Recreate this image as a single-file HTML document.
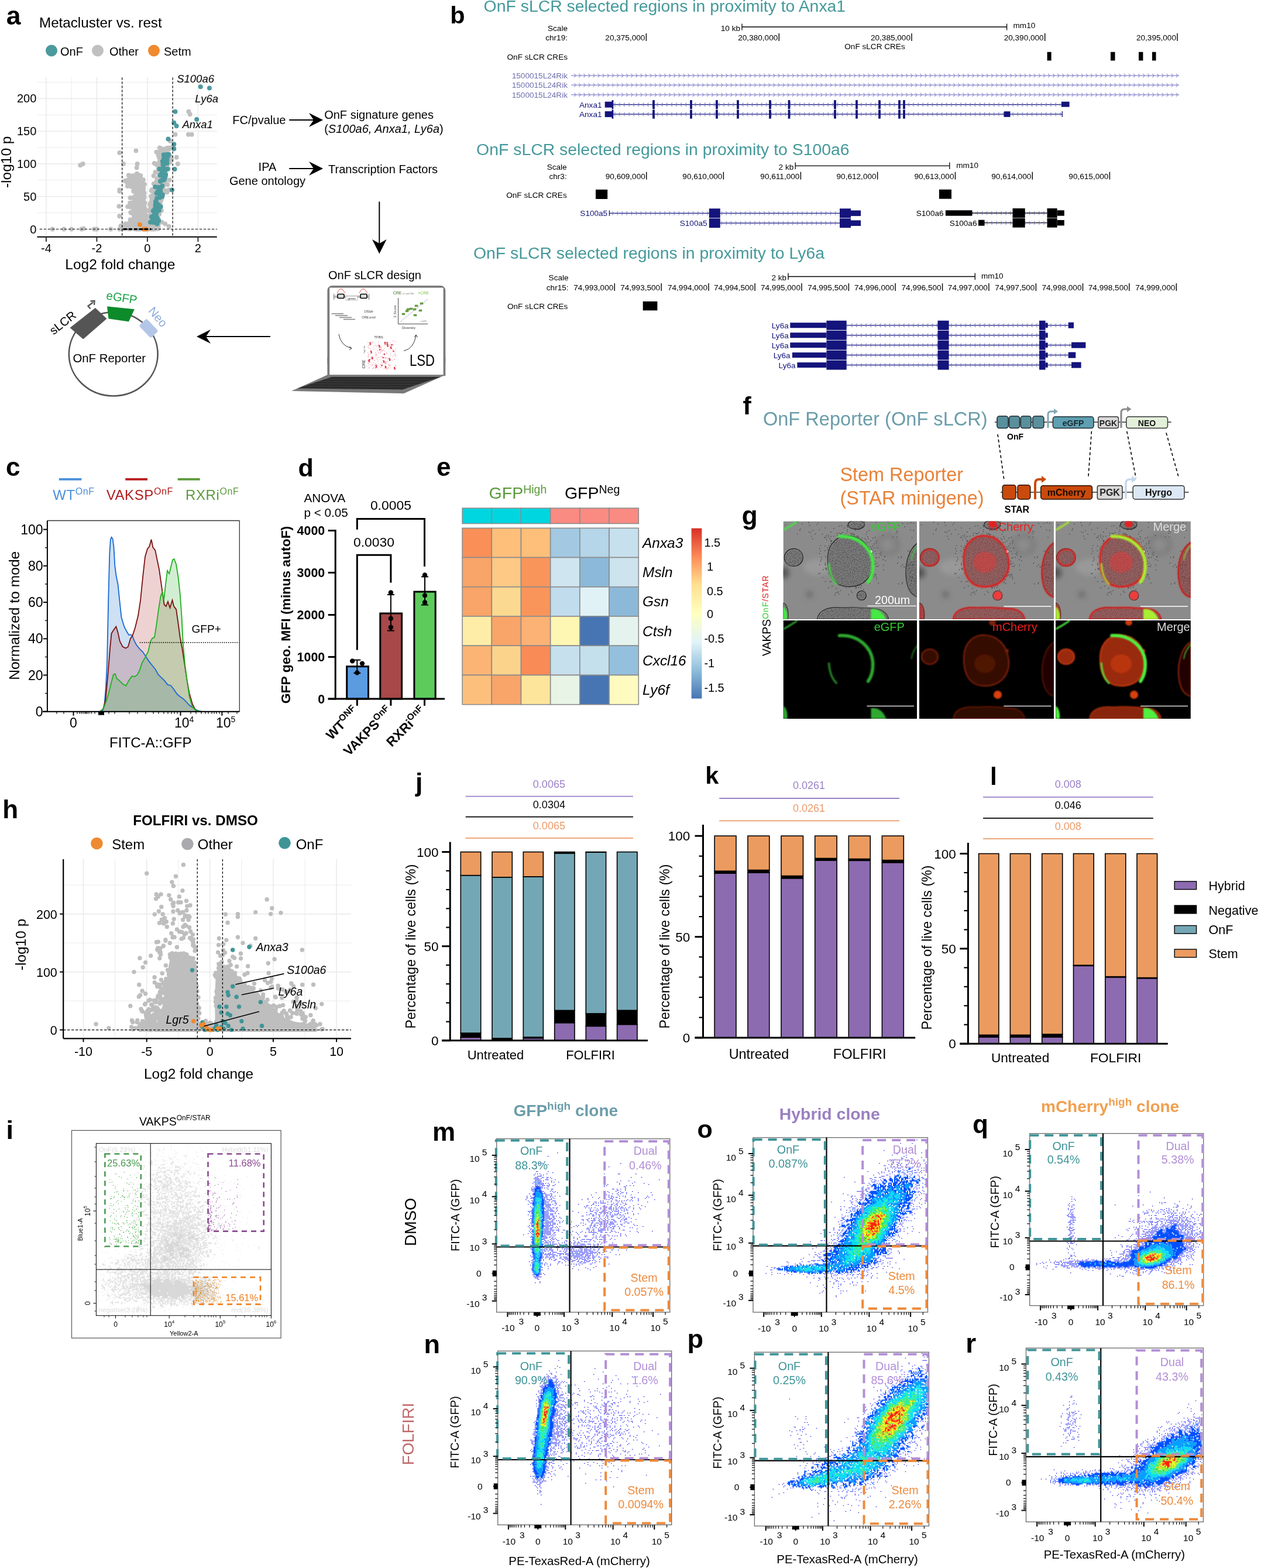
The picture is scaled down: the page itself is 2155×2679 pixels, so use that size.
<!DOCTYPE html>
<html><head><meta charset="utf-8"><title>Figure</title>
<style>html,body{margin:0;padding:0;background:#fff;}svg{display:block;}text{font-family:"Liberation Sans",Arial,Helvetica,sans-serif;}</style></head>
<body><svg width="2155" height="2679" viewBox="0 0 2155 2679">
<rect width="2155" height="2679" fill="#fff"/>
<text x="10.8" y="41.7" font-size="44.5" font-weight="bold">a</text>
<text x="67" y="47" font-size="24.2">Metacluster vs. rest</text>
<path d="M88 86.5h0" stroke="#4b9a9e" stroke-width="20" stroke-linecap="round"/>
<text x="103" y="94.5" font-size="20">OnF</text>
<path d="M167 86.5h0" stroke="#c0c0c0" stroke-width="20" stroke-linecap="round"/>
<text x="187" y="94.5" font-size="20">Other</text>
<path d="M263 86.5h0" stroke="#ef8a2e" stroke-width="20" stroke-linecap="round"/>
<text x="280" y="94.5" font-size="20">Setm</text>
<line x1="63.4" y1="391.5" x2="370.7" y2="391.5" stroke="#ebebeb" stroke-width="1.6"/>
<line x1="63.4" y1="363.6" x2="370.7" y2="363.6" stroke="#ebebeb" stroke-width="1"/>
<line x1="63.4" y1="335.7" x2="370.7" y2="335.7" stroke="#ebebeb" stroke-width="1.6"/>
<line x1="63.4" y1="307.8" x2="370.7" y2="307.8" stroke="#ebebeb" stroke-width="1"/>
<line x1="63.4" y1="279.9" x2="370.7" y2="279.9" stroke="#ebebeb" stroke-width="1.6"/>
<line x1="63.4" y1="252.1" x2="370.7" y2="252.1" stroke="#ebebeb" stroke-width="1"/>
<line x1="63.4" y1="224.2" x2="370.7" y2="224.2" stroke="#ebebeb" stroke-width="1.6"/>
<line x1="63.4" y1="196.3" x2="370.7" y2="196.3" stroke="#ebebeb" stroke-width="1"/>
<line x1="63.4" y1="168.4" x2="370.7" y2="168.4" stroke="#ebebeb" stroke-width="1.6"/>
<line x1="63.4" y1="140.5" x2="370.7" y2="140.5" stroke="#ebebeb" stroke-width="1"/>
<line x1="78.9" y1="131.5" x2="78.9" y2="401.4" stroke="#ebebeb" stroke-width="1.6"/>
<line x1="122.2" y1="131.5" x2="122.2" y2="401.4" stroke="#ebebeb" stroke-width="1"/>
<line x1="165.4" y1="131.5" x2="165.4" y2="401.4" stroke="#ebebeb" stroke-width="1.6"/>
<line x1="208.7" y1="131.5" x2="208.7" y2="401.4" stroke="#ebebeb" stroke-width="1"/>
<line x1="251.9" y1="131.5" x2="251.9" y2="401.4" stroke="#ebebeb" stroke-width="1.6"/>
<line x1="295.1" y1="131.5" x2="295.1" y2="401.4" stroke="#ebebeb" stroke-width="1"/>
<line x1="338.4" y1="131.5" x2="338.4" y2="401.4" stroke="#ebebeb" stroke-width="1.6"/>
<path d="M234.2 315h0M232.9 358h0M277.9 286.6h0M269.2 340.5h0M252.1 391.4h0M236.3 303.4h0M267.8 389.4h0M268.5 347.7h0M244 360.6h0M239 353.4h0M242.4 377.4h0M250.3 390.9h0M269 322.5h0M275.8 275.2h0M237.7 368.8h0M259.5 342h0M271.5 305.2h0M285.3 277.4h0M276.1 317.6h0M269 343.1h0M234.2 348h0M228.1 359h0M271 288.3h0M241.3 390.5h0M245.3 331.5h0M240.3 382h0M282.6 255.1h0M257.4 367.3h0M275.4 260h0M233.6 348.1h0M262.8 391.2h0M265.4 294.3h0M264.9 328.1h0M230.4 312.4h0M257.2 371.3h0M239.4 367.6h0M268.1 312.4h0M235.5 377.5h0M245.5 344.3h0M269.8 282.2h0M232.3 315.7h0M239.6 391.1h0M270.7 365.1h0M248.6 388.5h0M240.6 350.2h0M272.9 337.3h0M245.5 355.6h0M242.2 380.7h0M227.9 308.8h0M277.3 282.1h0M249.4 391h0M244.8 331.4h0M273.8 324.2h0M285.4 328.4h0M228.6 337.5h0M242.4 339.4h0M254.8 371.8h0M230.5 313.7h0M232.1 304.1h0M234.7 391.3h0M267.1 388.8h0M250.1 374.7h0M279.6 256.4h0M231.2 367.6h0M231.5 334.7h0M238 335.6h0M231.2 353h0M270.9 390.4h0M252.7 369.3h0M239.9 378.8h0M282.7 278.8h0M272.2 302.6h0M232.9 298.5h0M253.1 382h0M264.4 369.7h0M259.5 349.5h0M246.9 372.4h0M273.6 270.7h0M239 347.8h0M234.7 312.8h0M273.6 280.2h0M273.8 348.1h0M268 368.4h0M273.6 321.3h0M267.3 336.9h0M270.4 390.8h0M270.5 383.6h0M250.8 376.7h0M270.8 342.1h0M238 326.9h0M218.7 307.5h0M275.9 359.4h0M246.9 355.3h0M248.6 391.2h0M260.5 359.2h0M237.5 388.9h0M284.1 257.1h0M235.9 340.8h0M267.8 324.5h0M227.5 348.8h0M245.8 376.2h0M271 338.3h0M278.5 309.3h0M237.2 369.3h0M238.6 315.1h0M233.6 348.5h0M272.2 316.6h0M243.5 388.4h0M268.6 385.7h0M239.1 321.5h0M238.4 313.3h0M267 385.1h0M265.9 374.5h0M257.3 356h0M243.2 351.5h0M260.3 378.1h0M256 389.3h0M290.9 267.5h0M274.5 293.4h0M237.1 382.9h0M273.8 305.6h0M279.4 283.5h0M274.6 324.7h0M233.2 368.3h0M237.7 390.7h0M256.7 386.5h0M245.6 384.3h0M270.8 345.4h0M236.8 341.4h0M270.7 330.7h0M265 339.7h0M227.1 353.5h0M232.8 377.9h0M283.8 265.7h0M239 337.7h0M279.7 272.3h0M239.5 324.4h0M275.1 276.9h0M234.7 331.7h0M272 269.2h0M273.5 320.3h0M242.2 345.9h0M257.5 387.5h0M227.2 351.5h0M239.9 328.5h0M276.9 311.6h0M236.7 307.3h0M277.4 278.1h0M262.6 300.6h0M271.7 347.5h0M271 340.4h0M238.4 307.8h0M257.6 380.6h0M235.7 372.1h0M239.7 326.3h0M242.4 390.9h0M274.4 315.1h0M233.2 348.7h0M236.9 344.2h0M285.8 283.4h0M260 324.1h0M272.2 320.4h0M250.7 373h0M243.4 326.6h0M282.3 257.9h0M218.2 353h0M260.6 357.1h0M260.5 391.5h0M236.1 358h0M279.6 303.2h0M232.7 337.6h0M243.8 373.6h0M282.4 271.6h0M263.2 336.4h0M267.4 343.8h0M219.5 382h0M270.4 326.3h0M239.3 360.2h0M223.2 313.4h0M271.2 293h0M228.2 326.7h0M261.6 344.1h0M282.1 310.8h0M272.5 290h0M269.8 315.1h0M282.5 272.9h0M266 377h0M234.9 389.8h0M271.1 293.6h0M263.2 390.2h0M278.7 261h0M267.1 315.2h0M245.4 379.2h0M230.1 317h0M257.9 349.5h0M235.3 337h0M276.5 282.4h0M247.3 346.8h0M238.8 321.7h0M227.2 301.1h0M290 277.8h0M268.3 356.4h0M235.8 325h0M259.5 375.4h0M276.5 338.9h0M260.2 363.6h0M268.3 378.5h0M243.8 326.1h0M234.1 329.8h0M233 363h0M242.8 386.7h0M281.1 270.4h0M238.4 390.3h0M262.7 314h0M242.1 316.2h0M246.7 362.7h0M241.9 364.7h0M272.7 336.2h0M262.8 369.8h0M274.9 267.1h0M264.4 388h0M225.4 364.3h0M270.7 265.5h0M269.6 376.9h0M265.8 390.6h0M247.2 364.6h0M247 356.7h0M228.6 389h0M260.6 388.3h0M245.9 390.6h0M271.5 293.6h0M257.5 346.5h0M278.7 257.1h0M228.2 304.6h0M261 352h0M256.9 386.7h0M243.7 361.5h0M244.7 336h0M274 293.8h0M219.8 299.6h0M241.5 306.6h0M230.5 387.3h0M258.1 335.3h0M242 349.8h0M232.5 384.9h0M266.2 389.9h0M262.5 383.7h0M236.3 364.2h0M272.8 356.9h0M285.8 275.8h0M239.1 360.3h0M249.1 368.3h0M278.8 259.3h0M267.5 338.2h0M279.6 297.6h0M272 269.1h0M268.5 359.8h0M266.4 383h0M245 345.3h0M268.7 356.8h0M234 367h0M278.9 327h0M229.8 307.1h0M237.7 299.2h0M244.9 307.3h0M273.7 264.4h0M281.7 284.6h0M287.1 253.3h0M274.6 300.2h0M268 309.3h0M247.4 356.5h0M240.3 383.6h0M274.4 321.6h0M232.6 328.7h0M236.3 386.8h0M238.9 374.9h0M272.5 326.9h0M274.3 309.4h0M240.5 313.3h0M275.6 299h0M221.1 309.9h0M261.8 341.5h0M280.4 324.3h0M274 282.6h0M267.6 364.2h0M279.2 328.7h0M246.4 362.3h0M254.3 388.6h0M270.8 336.8h0M265 391.2h0M249.4 371.4h0M264.9 324.5h0M264.2 323.2h0M279.8 259.8h0M234.2 339.5h0M276.4 318h0M285.7 256h0M282.4 295h0M256.3 349.4h0M281.5 305.3h0M283.4 264.5h0M228.4 321h0M228.3 326.3h0M242.5 385.7h0M243.4 361.3h0M234 313.8h0M269.7 360.3h0M275.5 294.4h0M269.6 340.4h0M263.4 332.1h0M277.5 298.1h0M265.9 367.7h0M222.6 375.6h0M237.6 329.2h0M247.6 383.8h0M258.7 325.7h0M235.7 303.3h0M267.7 342.3h0M261.8 380.7h0M240.3 321.3h0M275.7 287h0M233.2 335.3h0M240.9 352.2h0M260.4 382.1h0M235.6 308.2h0M241.6 310.3h0M253.8 360.1h0M264.5 369.5h0M265.7 353.7h0M273.7 307.2h0M280.6 257.3h0M243.9 325.2h0M262.9 367.8h0M253 384.8h0M222.1 346.8h0M264.2 314.6h0M236.8 361.4h0M252.1 378.7h0M233 355.9h0M241.8 311.2h0M275.4 325.7h0M275.1 309.1h0M276.8 270h0M249.5 385h0M248.3 375.3h0M275.1 321.5h0M266.5 368.1h0M275.2 341.9h0M238.9 390.9h0M250.4 377.9h0M277.7 254.6h0M267.2 390h0M241.5 384.2h0M270.7 388.5h0M240.4 329.1h0M246 389.6h0M227.7 384.2h0M272.2 366.1h0M260.2 362.1h0M266.3 351.6h0M277.5 309.7h0M261.5 344.3h0M265.6 312.8h0M266.4 345.9h0M271.3 311h0M262.7 374.3h0M233.4 359.4h0M236.1 349.9h0M244.7 362.4h0M274.3 324.3h0M276.8 277.8h0M229 371h0M265.5 376.5h0M262.4 369.3h0M272.3 277.1h0M246.9 314.8h0M246 358.9h0M242.7 335.5h0M286.2 315.4h0M274 309.4h0M243.3 346.7h0M268 316.2h0M224.1 304.8h0M243.8 355.9h0M237.7 331.4h0M241.6 384.2h0M264.7 351.1h0M289.5 307.6h0M277.9 281.7h0M244.5 346.6h0M244.1 382.8h0M217.1 311.2h0M246.4 336.5h0M238.4 359.4h0M243.4 372.2h0M267.5 310.7h0M255.7 387.1h0M222.6 338.1h0M234.8 368.1h0M213.6 309.1h0M239.2 316.6h0M250.2 368.6h0M274.9 307.3h0M230.1 353.7h0M277.3 297h0M277.3 320.3h0M281.3 278.4h0M248.1 390.7h0M242.3 381.1h0M257.1 360.1h0M240.2 300.1h0M223.3 363h0M281.5 295h0M237.6 391.4h0M288.6 255h0M234.7 376.7h0M283.9 262.8h0M269.4 328.9h0M245.2 321.2h0M270.9 302.1h0M270.9 325.4h0M246.1 338h0M232 346.9h0M259.5 366.4h0M229.9 302.2h0M242.4 343.2h0M271.9 299.4h0M246.2 352.8h0M235.5 382.2h0M238.5 318.6h0M228.5 383.3h0M268.4 312.6h0M269.1 353.8h0M244.7 373.5h0M245.3 383.5h0M238.4 320.4h0M253.4 371.5h0M276.1 322.9h0M239 380.1h0M259.7 387h0M264.3 347.5h0M228.6 349.1h0M236.2 376.6h0M285 254.3h0M235.6 316.1h0M246.1 349.4h0M236 317.4h0M242.1 319.4h0M272.8 313.7h0M228.3 317.2h0M244.1 319.1h0M230.8 314.3h0M266.3 365.6h0M241.3 308.1h0M268.1 281.7h0M246.5 330.1h0M246 391.4h0M269.9 348.1h0M235.5 341.3h0M288.1 265.1h0M287.9 275.9h0M237.9 374.1h0M240.3 317h0M249 389.8h0M217.8 317.9h0M258.7 383.3h0M255.7 388.3h0M275 316.7h0M233.1 352h0M232.6 311.5h0M287.8 288.5h0M240.1 316.6h0M246.5 383.6h0M234.6 352.9h0M263.9 279.1h0M288.9 278.1h0M272.9 345.8h0M267.6 323.1h0M262.7 334.1h0M245.8 383.5h0M276.4 276.6h0M287.6 288.7h0M234 296.8h0M227.8 345.4h0M229.3 308.6h0M277.8 310.3h0M262.4 333h0M227.3 353h0M263.2 391.3h0M238.5 309.3h0M238.2 386.3h0M288.2 252.8h0M274.5 314.6h0M278.1 281.6h0M222.9 300.5h0M259.2 385.3h0M232.1 304.5h0M238.3 329h0M239.5 379h0M272 358.4h0M282.5 256.1h0M230 305.7h0M257.5 379.1h0M262.8 389.5h0M236.6 326.3h0M272.7 306.3h0M272 341.6h0M240.8 384.8h0M261.9 380.3h0M236.9 301.3h0M231.2 301.1h0M256.7 391h0M260.8 389.2h0M244.1 324.6h0M242.9 318.6h0M242.2 372.6h0M231.1 365.3h0M247.9 381.2h0M271 359h0M239.1 390.8h0M234.2 386.5h0M262.6 340.5h0M271.8 352.8h0M279.8 284.1h0M271.3 279.7h0M266.7 334.1h0M275.5 319.6h0M227.6 316.8h0M261.1 327.2h0M260.9 363.9h0M244.6 342.2h0M266.1 367.3h0M245.7 331.9h0M263.5 347.3h0M228.3 338.2h0M245 326.1h0M270.9 357.8h0M277.3 286.9h0M266.3 370.2h0M274.7 309h0M245.4 332.9h0M229.6 301.3h0M264 373.3h0M260.4 349.8h0M230.8 360.8h0M260.5 385.3h0M224.5 304.3h0M259.6 365.9h0M253.8 379h0M292.9 272h0M232.5 331.4h0M267.1 389.3h0M243.6 347.5h0M230.5 342.3h0M261.2 359.6h0M238.3 370.8h0M223.2 353.8h0M275.8 292.9h0M262.1 363.2h0M241.6 351.5h0M276.2 379.5h0M232.8 391.4h0M236.8 328.3h0M235.4 349.2h0M247.4 391h0M240.4 372.1h0M265.1 364.9h0M268.3 366.5h0M266.1 337.6h0M247.7 380.9h0M276.8 291h0M265.3 382.9h0M285.5 272.2h0M253.3 389.9h0M233 367.8h0M270.6 306.1h0M240.9 379.6h0M274.6 283h0M240.2 372.9h0M250 390.4h0M236.3 380.2h0M278.7 306.9h0M274.2 274.4h0M239 317.1h0M277.7 266.8h0M232.1 320.8h0M282.1 326.1h0M260.9 349.1h0M233 367.1h0M246.7 385h0M245.2 346.2h0M230.1 357.2h0M269.3 378.9h0M241.1 337.9h0M230.7 314h0M284.8 270.9h0M277.4 277.6h0M235 349.5h0M277.2 296.5h0M275.1 329.7h0M280.1 275.5h0M258.8 353h0M238 303h0M282.2 257.9h0M244.4 376.1h0M234.2 366.4h0M232.1 303.8h0M240.8 384.4h0M236.4 310h0M242 351.9h0M276.6 325h0M228.1 312.2h0M264.1 334.4h0M241.5 388.3h0M238.1 324.8h0M243.2 366.1h0M231 366.3h0M256.3 384h0M259.6 371.7h0M280.1 305.2h0M258.1 390.4h0M249.8 389.5h0M239.1 347h0M237.1 327.2h0M272.8 252.6h0M262.3 333.6h0M252 388.4h0M263.9 390.3h0M234.5 369.3h0M252.9 371.1h0M229.4 302.7h0M246.4 359.7h0M258.9 369.2h0M278.1 319.6h0M271.7 304.4h0M243.9 350.7h0M274.1 272.9h0M285.2 256.9h0M235.4 328.5h0M245.2 352.3h0M283.3 300.7h0M264.9 331.2h0M226.2 347.6h0M232.3 343.9h0M238.7 329h0M268.3 306.5h0M242.3 387.5h0M231.7 358.7h0M267.4 259.7h0M230.1 353.9h0M242.6 377.2h0M268.8 329.4h0M285.1 253.1h0M269.3 354.6h0M228.1 307.4h0M265.1 341.2h0M242.3 347.7h0M278.9 317.2h0M265.7 360.9h0M262.8 380.7h0M235.2 336.8h0M223.9 318.8h0M244.9 316.5h0M243.1 363.8h0M227.5 381.1h0M245.6 380.3h0M259.3 338h0M271.1 374.5h0M264.5 373.6h0M254.3 386.3h0M267.8 367.6h0M257 382.5h0M245.8 356.1h0M260.4 375.5h0M275.4 341.2h0M233.7 383.5h0M228 300.2h0M261.4 369.3h0M236 311.5h0M243.5 383.3h0M239.7 369.8h0M239.8 358.4h0M261.5 358.2h0M260.8 374.4h0M229.8 358.3h0M267.8 356.5h0M273.5 260.1h0M263.2 356h0M263.5 336.2h0M264.6 369.1h0M236.5 379.8h0M277.4 267.8h0M271.1 354.9h0M234.5 343.2h0M270.5 343.8h0M226.8 377.9h0M233.4 332h0M228.9 308.6h0M274.4 315.3h0M228.2 388.7h0M243 388.1h0M248.6 388.9h0M233 384.3h0M213.9 387.9h0M217.3 386.7h0M249.9 382.7h0M251 390.2h0M233.2 386.7h0M244.5 385.2h0M263.4 383.1h0M220.4 390.1h0M263.2 390.1h0M263.1 390.4h0M241.5 390.3h0M216.2 388.5h0M253.3 385.2h0M226.5 390.3h0M228.8 389.9h0M221.9 387.1h0M236.1 383.3h0M213.7 386.7h0M240.4 390.2h0M228.9 390.3h0M258.9 388.4h0M212.3 387.3h0M238.4 383.6h0M249.1 389.7h0M259.7 391.5h0M247.8 391.1h0M254.7 389.8h0M253.5 384.2h0M252 390.5h0M231.2 390.6h0M249.1 382.6h0M238 385.7h0M246.2 390.2h0M229.5 388.4h0M250.9 387.8h0M229.3 386.6h0M220.2 390.9h0M222 391.3h0M246.3 387.4h0M243.3 386.4h0M211.7 384.2h0M254.7 391.4h0M232.8 384.5h0M232 383.8h0M247.7 385.6h0M259.6 384.5h0M241.5 391.1h0M234.2 385.4h0M238.1 386.3h0M228.3 384h0M222.4 385.8h0M233.2 390.2h0M209.7 390.3h0M224.9 387.3h0M210.2 390.9h0M253.4 382.8h0M232.9 387.3h0M242.5 390.6h0M238.9 385.5h0M261.7 385.8h0M239.3 387.8h0M259.9 386.8h0M235.5 385h0M233.3 390.9h0M241.9 383.8h0M229.4 390.6h0M214.6 383.4h0M214.9 385.7h0M213.6 386.9h0M259.9 389.4h0M225.9 386h0M240.9 386.5h0M230.7 391.1h0M242.1 389h0M243.5 387.6h0M223.8 382.6h0M226.7 382.8h0M235.5 386.7h0M223.8 389.9h0M248.4 387.4h0M241.6 389.9h0M237.3 385.6h0M251.4 385.6h0M231.9 385.4h0M242.2 387.2h0M244.1 388.8h0M212.2 390.2h0M263.3 383.5h0M255.1 389.2h0M255.8 384.5h0M239.1 388.8h0M214.7 382.6h0M264.8 383.9h0M233.7 385h0M259.8 386.7h0M215.7 382.8h0M238.9 384.6h0M243.7 390.9h0M234.6 391.4h0M223.6 382.9h0M247.5 386.5h0M214.9 385.4h0M242.7 385.8h0M247.4 383.2h0M233.8 386h0M238.4 386.2h0M246.8 389.8h0M211.8 390.5h0M211.1 386.5h0M225.8 384.5h0M217.8 390.2h0M257.3 390.7h0M228.5 385.3h0M240.3 389.1h0M216.2 386.3h0M222.6 383.9h0M223.5 383.2h0M137.3 282.2h0M141.6 279.9h0M204.3 261h0M232.4 257.6h0M210.8 279.9h0M234.6 279.9h0M233.7 286.6h0M290.8 240.9h0M299.5 229.8h0M322.4 190.7h0M324.6 195.2h0M322 229.8h0M327.6 229.8h0M303.8 279.9h0M288.7 324.6h0M282.2 382.6h0M288.7 387h0M301.6 268.8h0M293 252.1h0M89.7 391.5h0M109.2 391.5h0M122.2 391.5h0M139.4 391.5h0M142.9 390.4h0M161.1 391.5h0M165.4 391.5h0M189.2 391.5h0M204.3 391.5h0M206.5 385.9h0M204.3 369.2h0M203.5 352.5h0M204.3 324.6h0M204.3 326.8h0M282.2 291.1h0M284.3 274.4h0" stroke="#c0c0c0" stroke-width="8" stroke-linecap="round"/>
<path d="M342.7 148.3h0M357.9 150.6h0M299.5 190.7h0M336.2 204.1h0M297.3 209.7h0M301.6 215.3h0M287.4 237.6h0M297.3 246.5h0M297.3 254.3h0M298.6 288.9h0M293.9 324.6h0M262.3 377.8h0M271.4 324.8h0M273.3 329.2h0M276.9 290.4h0M260.5 376.4h0M267.5 330h0M278.6 280.9h0M284.3 273.7h0M283.9 264.3h0M279.9 270h0M273.2 337.5h0M266 354.9h0M265.5 350.2h0M265.2 319.3h0M263.1 367.8h0M272.4 288.8h0M261.8 380.1h0M283.2 298.2h0M288.4 263.7h0M273.7 299.6h0M277.2 335.8h0M274.2 326.8h0M285.5 279h0M281.6 304.7h0M280.1 276.6h0M270.5 319.9h0M266.1 368.8h0M272 359.5h0M268.1 338.4h0M277.8 275.7h0M269 329.6h0M277.5 291.9h0M278 307.1h0M265.8 365.4h0M266 346.1h0M264.6 356.7h0M267.1 348.6h0M278.6 283.1h0M266.5 367.9h0M276 296.7h0M286.2 288.7h0M261.9 377.5h0M281.9 302.9h0M269.7 327.1h0M277.3 292.5h0M278 332.8h0M287.4 266.6h0M267.3 365.1h0M282.9 290.6h0M279.6 281.8h0M274.7 353.1h0M273.1 332.3h0M262.2 370.5h0M259.1 370.5h0M275.3 308.8h0M266.3 371.8h0M263.9 375h0M277.3 317.4h0M280.1 307.6h0M261.8 360.3h0M278.1 306.8h0M273.9 309.7h0M279.7 264.6h0M266 343.9h0M284.8 264.1h0M267.2 345h0M257.1 379.8h0M280.1 288.4h0M267 363.1h0M271.1 349.9h0M270.2 356.6h0M285.6 273.3h0M278.5 280.2h0M279.6 274h0M270.5 355.6h0M280 287.8h0M276.7 298.3h0M278.7 305.7h0M275 320.4h0M262 370.6h0M265.3 380h0M268.3 374.6h0M268.5 382.5h0M271.1 377.5h0M268.4 380.4h0M266.5 380.2h0M268.8 372.4h0M266.6 378.7h0" stroke="#4b9a9e" stroke-width="8" stroke-linecap="round"/>
<path d="M238.9 383.7h0M245.4 391.5h0M249.7 391.5h0" stroke="#ef8a2e" stroke-width="8" stroke-linecap="round"/>
<line x1="208.7" y1="132.6" x2="208.7" y2="404.8" stroke="#000" stroke-width="1.2" stroke-dasharray="4 3"/>
<line x1="295.1" y1="132.6" x2="295.1" y2="404.8" stroke="#000" stroke-width="1.2" stroke-dasharray="4 3"/>
<line x1="68" y1="391.5" x2="370.7" y2="391.5" stroke="#000" stroke-width="1.2" stroke-dasharray="4 3"/>
<line x1="210.8" y1="391.5" x2="258.4" y2="391.5" stroke="#000" stroke-width="3" stroke-dasharray="6 3"/>
<line x1="63.4" y1="404.8" x2="370.7" y2="404.8" stroke="#000" stroke-width="2"/>
<line x1="78.9" y1="404.8" x2="78.9" y2="413" stroke="#333" stroke-width="2"/>
<text x="78.9" y="431.4" font-size="20" text-anchor="middle">-4</text>
<line x1="165.4" y1="404.8" x2="165.4" y2="413" stroke="#333" stroke-width="2"/>
<text x="165.4" y="431.4" font-size="20" text-anchor="middle">-2</text>
<line x1="251.9" y1="404.8" x2="251.9" y2="413" stroke="#333" stroke-width="2"/>
<text x="251.9" y="431.4" font-size="20" text-anchor="middle">0</text>
<line x1="338.4" y1="404.8" x2="338.4" y2="413" stroke="#333" stroke-width="2"/>
<text x="338.4" y="431.4" font-size="20" text-anchor="middle">2</text>
<text x="62.3" y="398.5" font-size="20" text-anchor="end">0</text>
<text x="62.3" y="342.7" font-size="20" text-anchor="end">50</text>
<text x="62.3" y="286.9" font-size="20" text-anchor="end">100</text>
<text x="62.3" y="231.2" font-size="20" text-anchor="end">150</text>
<text x="62.3" y="175.4" font-size="20" text-anchor="end">200</text>
<text x="205.3" y="460.2" font-size="24.5" text-anchor="middle">Log2 fold change</text>
<text x="19.5" y="276.8" font-size="24.5" text-anchor="middle" transform="rotate(-90 19.5 276.8)">-log10 p</text>
<text x="302.2" y="140.7" font-size="18.5" font-style="italic">S100a6</text>
<text x="333.3" y="175.3" font-size="18.5" font-style="italic">Ly6a</text>
<text x="311.4" y="219.2" font-size="18.5" font-style="italic">Anxa1</text>
<text x="397.3" y="212" font-size="20">FC/pvalue</text>
<line x1="494.2" y1="205" x2="540" y2="205" stroke="#000" stroke-width="2"/>
<path d="M552 205 L528 193 L536 205 L528 217Z" fill="#000"/>
<text x="554.2" y="202.7" font-size="20">OnF signature genes</text>
<text x="554.2" y="226.9" font-size="20">(<tspan font-style="italic">S100a6, Anxa1, Ly6a</tspan>)</text>
<text x="457" y="291.5" font-size="20" text-anchor="middle">IPA</text>
<text x="457" y="315.7" font-size="20" text-anchor="middle">Gene ontology</text>
<line x1="494.2" y1="288" x2="540" y2="288" stroke="#000" stroke-width="2"/>
<path d="M552 288 L528 276 L536 288 L528 300Z" fill="#000"/>
<text x="561" y="296" font-size="20">Transcription Factors</text>
<line x1="648.3" y1="344.5" x2="648.3" y2="420" stroke="#000" stroke-width="2"/>
<path d="M648.3 433.4 L636 409 L648.3 416 L660.6 409Z" fill="#000"/>
<text x="561" y="477" font-size="20">OnF sLCR design</text>
<line x1="350" y1="575" x2="462" y2="575" stroke="#000" stroke-width="2"/>
<path d="M336 575 L360 563 L352 575 L360 587Z" fill="#000"/>
<ellipse cx="193.7" cy="605" rx="75.9" ry="71.5" fill="none" stroke="#555" stroke-width="2.6"/>
<path d="M119.6 560 L162.9 526 L182.5 544.4 L142.1 579.6Z" fill="#555"/>
<path d="M154.5 527.5 L150.5 523 L159 516.5" fill="none" stroke="#555" stroke-width="2.4" stroke-linejoin="miter"/>
<path d="M154.5 514.5 L161.5 514 L161 521" fill="none" stroke="#555" stroke-width="2.4"/>
<text x="111.5" y="557" font-size="20.4" text-anchor="middle" transform="rotate(-38 111.5 557)">sLCR</text>
<path d="M183 523.6 L229.8 528.3 L220 549.6 L185.4 544.4Z" fill="#0d8a2a"/>
<text x="207" y="515.5" font-size="20.4" text-anchor="middle" fill="#1aa548" transform="rotate(9 207 515.5)">eGFP</text>
<rect x="-14.7" y="-9" width="29.4" height="17.9" rx="3" fill="#b3c6e7" transform="translate(254 561.1) rotate(46.5)"/>
<text x="264.5" y="546" font-size="20.4" text-anchor="middle" fill="#8eaadb" transform="rotate(50 264.5 546)">Neo</text>
<text x="124.4" y="619" font-size="20.4">OnF Reporter</text>
<rect x="559.4" y="488.1" width="201.9" height="140" rx="8" fill="#7a7a7a"/>
<rect x="559.4" y="610" width="201.9" height="32.3" fill="#7a7a7a"/>
<rect x="563.2" y="491.6" width="194.4" height="148.9" fill="#fff"/>
<path d="M559.4 640.5 L761.3 640.5 L690.2 672.2 L498.1 668.1Z" fill="#7a7a7a"/>
<path d="M567 644 L753 644 L688 665.5 L508 663.5Z" fill="#2b2b2b"/>
<line x1="555.2" y1="647.9" x2="740" y2="648.3" stroke="#555" stroke-width="0.5"/>
<line x1="543.4" y1="651.8" x2="727" y2="652.6" stroke="#555" stroke-width="0.5"/>
<line x1="531.6" y1="655.7" x2="714" y2="656.9" stroke="#555" stroke-width="0.5"/>
<line x1="519.8" y1="659.6" x2="701" y2="661.2" stroke="#555" stroke-width="0.5"/>
<rect x="571" y="505" width="59.5" height="4" fill="#bbb"/>
<rect x="569.5" y="502" width="2" height="10" fill="#aaa"/>
<rect x="629.5" y="502" width="2" height="10" fill="#aaa"/>
<rect x="577" y="502.5" width="11" height="7" rx="1.5" fill="#ddd" stroke="#000" stroke-width="1.6"/>
<rect x="616" y="502.5" width="11" height="7" rx="1.5" fill="#ddd" stroke="#000" stroke-width="1.6"/>
<rect x="591" y="506" width="20" height="7" fill="#fff" stroke="#999" stroke-width="0.6"/>
<text x="601" y="512" font-size="5" text-anchor="middle" fill="#333">genes</text>
<path d="M576 501 Q582 486 590 501" fill="none" stroke="#d33" stroke-width="0.8"/>
<path d="M614 501 Q620 486 628 501" fill="none" stroke="#d33" stroke-width="0.8"/>
<line x1="566.7" y1="536" x2="587" y2="536" stroke="#888" stroke-width="1.6"/>
<line x1="573" y1="539.2" x2="594" y2="539.2" stroke="#888" stroke-width="1.6"/>
<line x1="580" y1="542.4" x2="601" y2="542.4" stroke="#888" stroke-width="1.6"/>
<line x1="587" y1="545.6" x2="607" y2="545.6" stroke="#888" stroke-width="1.6"/>
<text x="630" y="534" font-size="5.5" text-anchor="middle" fill="#333">150pb</text>
<text x="630" y="544" font-size="5.5" text-anchor="middle" fill="#333">CRE pool</text>
<text x="671.7" y="503" font-size="7" fill="#3a6a2a">CRE</text>
<text x="688" y="503" font-size="3.5" fill="#666">n.l. and TSS</text>
<text x="714" y="503" font-size="7" fill="#7cc040">+CRE</text>
<line x1="680.5" y1="509" x2="680.5" y2="553.5" stroke="#000" stroke-width="0.7"/>
<line x1="680.5" y1="553.5" x2="731" y2="553.5" stroke="#000" stroke-width="0.7"/>
<line x1="684" y1="550" x2="731" y2="511" stroke="#88a" stroke-width="0.6"/>
<rect x="687" y="535" width="5" height="3" fill="#6aaa3a" stroke="#2a5a1a" stroke-width="0.3"/>
<rect x="693" y="530" width="5" height="3" fill="#6aaa3a" stroke="#2a5a1a" stroke-width="0.3"/>
<rect x="695" y="527" width="5" height="3" fill="#6aaa3a" stroke="#2a5a1a" stroke-width="0.3"/>
<rect x="700" y="526" width="5" height="3" fill="#6aaa3a" stroke="#2a5a1a" stroke-width="0.3"/>
<rect x="706" y="527" width="5" height="3" fill="#6aaa3a" stroke="#2a5a1a" stroke-width="0.3"/>
<rect x="707" y="537" width="5" height="3" fill="#6aaa3a" stroke="#2a5a1a" stroke-width="0.3"/>
<rect x="709" y="521" width="5" height="3" fill="#6aaa3a" stroke="#2a5a1a" stroke-width="0.3"/>
<rect x="718" y="517" width="5" height="3" fill="#6aaa3a" stroke="#2a5a1a" stroke-width="0.3"/>
<rect x="716" y="529" width="5" height="3" fill="#6aaa3a" stroke="#2a5a1a" stroke-width="0.3"/>
<text x="698.5" y="562.4" font-size="6" text-anchor="middle" fill="#333">Diversity</text>
<text x="677" y="532" font-size="6" text-anchor="middle" fill="#333" transform="rotate(-90 677 532)">Σ Score</text>
<text x="724" y="550" font-size="3" text-anchor="middle" fill="#666">r²=0.85</text>
<path d="M579 571 Q582 590 600 595" fill="none" stroke="#000" stroke-width="0.8"/>
<path d="M597 592 L601 595 L597 598" fill="none" stroke="#000" stroke-width="0.8"/>
<path d="M690 599.5 Q707 596 711 573" fill="none" stroke="#000" stroke-width="0.8"/>
<path d="M708 576 L711 572 L713.5 576.5" fill="none" stroke="#000" stroke-width="0.8"/>
<path d="M657.9 618.3h1.1v1.1h-1.1zM666.2 628.2h1.1v1.1h-1.1zM663.5 627.2h1.1v1.1h-1.1zM629.4 604.8h1.1v1.1h-1.1zM673.3 613.8h1.1v1.1h-1.1zM671.2 587.5h1.1v1.1h-1.1zM650.5 594.1h1.1v1.1h-1.1zM654.1 610.1h1.1v1.1h-1.1zM628.6 592.6h1.1v1.1h-1.1zM641.4 626.9h1.1v1.1h-1.1zM664.8 589.8h1.1v1.1h-1.1zM666.3 588.8h1.1v1.1h-1.1zM657.6 588.2h1.1v1.1h-1.1zM628.1 624.7h1.1v1.1h-1.1zM638.1 592.6h1.1v1.1h-1.1zM675.2 624.7h1.1v1.1h-1.1zM641.9 629.1h1.1v1.1h-1.1zM653.9 615.2h1.1v1.1h-1.1zM637.8 628.1h1.1v1.1h-1.1zM661.2 629.4h1.1v1.1h-1.1zM670.9 596.6h1.1v1.1h-1.1zM645.3 590.1h1.1v1.1h-1.1zM635 585.2h1.1v1.1h-1.1zM642.5 611.6h1.1v1.1h-1.1zM628.2 615.2h1.1v1.1h-1.1zM644.2 597.2h1.1v1.1h-1.1zM667.3 605.6h1.1v1.1h-1.1zM643.2 605.6h1.1v1.1h-1.1zM661.8 584.8h1.1v1.1h-1.1zM674.8 583.1h1.1v1.1h-1.1zM664 623.4h1.1v1.1h-1.1zM628.9 620.6h1.1v1.1h-1.1zM645.6 610.3h1.1v1.1h-1.1zM628.4 584.3h1.1v1.1h-1.1zM636.7 628.8h1.1v1.1h-1.1zM637.4 619h1.1v1.1h-1.1zM672.6 628.2h1.1v1.1h-1.1zM644.5 599.4h1.1v1.1h-1.1zM653.2 620h1.1v1.1h-1.1zM633.2 618.7h1.1v1.1h-1.1zM666.3 624.1h1.1v1.1h-1.1zM629.8 628.3h1.1v1.1h-1.1zM632.4 598.7h1.1v1.1h-1.1zM657.3 627h1.1v1.1h-1.1zM644.3 627.3h1.1v1.1h-1.1zM654.2 597.3h1.1v1.1h-1.1zM643.2 590.7h1.1v1.1h-1.1zM631.8 589.3h1.1v1.1h-1.1zM661.1 630.8h1.1v1.1h-1.1zM635.8 584.4h1.1v1.1h-1.1zM675.4 608.1h1.1v1.1h-1.1zM647.5 593.6h1.1v1.1h-1.1zM656.5 622.5h1.1v1.1h-1.1zM649.9 602.7h1.1v1.1h-1.1zM630.7 626.9h1.1v1.1h-1.1zM629.6 606.2h1.1v1.1h-1.1zM668.2 588.4h1.1v1.1h-1.1zM663.1 628.5h1.1v1.1h-1.1zM658.3 620.6h1.1v1.1h-1.1zM633.1 603.3h1.1v1.1h-1.1zM635.2 623.4h1.1v1.1h-1.1zM642.2 604.2h1.1v1.1h-1.1zM676 623.8h1.1v1.1h-1.1zM674.8 604.2h1.1v1.1h-1.1zM651.4 617.7h1.1v1.1h-1.1zM651 596.3h1.1v1.1h-1.1zM647.4 589.2h1.1v1.1h-1.1zM646.1 630.4h1.1v1.1h-1.1zM674.1 612.7h1.1v1.1h-1.1zM652 598.6h1.1v1.1h-1.1zM632.3 595.3h1.1v1.1h-1.1zM665.5 624.5h1.1v1.1h-1.1zM645.3 620.5h1.1v1.1h-1.1zM665.2 616h1.1v1.1h-1.1zM659.9 619.2h1.1v1.1h-1.1zM645.4 616.5h1.1v1.1h-1.1zM641.5 605.8h1.1v1.1h-1.1zM664.9 615.9h1.1v1.1h-1.1zM642.1 628.3h1.1v1.1h-1.1zM659.2 610.5h1.1v1.1h-1.1zM628.6 608.8h1.1v1.1h-1.1zM640 614.9h1.1v1.1h-1.1zM650.2 622h1.1v1.1h-1.1zM659.1 621.1h1.1v1.1h-1.1zM644.7 613.6h1.1v1.1h-1.1zM663.4 622.6h1.1v1.1h-1.1zM644.8 623.3h1.1v1.1h-1.1zM669.8 615.7h1.1v1.1h-1.1zM674.9 628.9h1.1v1.1h-1.1zM652.9 607.9h1.1v1.1h-1.1zM636 623h1.1v1.1h-1.1zM673 605.4h1.1v1.1h-1.1zM661.2 617.3h1.1v1.1h-1.1zM663.1 590.4h1.1v1.1h-1.1zM665.5 610.5h1.1v1.1h-1.1zM659.9 602.6h1.1v1.1h-1.1zM657.9 620h1.1v1.1h-1.1zM658.6 617.3h1.1v1.1h-1.1zM629.3 589.8h1.1v1.1h-1.1zM649.2 613.9h1.1v1.1h-1.1zM638.5 615.6h1.1v1.1h-1.1zM658.3 584.1h1.1v1.1h-1.1zM650.6 593.1h1.1v1.1h-1.1zM630.6 588.5h1.1v1.1h-1.1zM643.2 590.9h1.1v1.1h-1.1zM637.3 583.7h1.1v1.1h-1.1zM650.3 600.6h1.1v1.1h-1.1zM657.4 610.9h1.1v1.1h-1.1zM639.4 626.3h1.1v1.1h-1.1zM628 601.9h1.1v1.1h-1.1zM641.4 602.1h1.1v1.1h-1.1zM633.5 622.7h1.1v1.1h-1.1zM645.9 583.8h1.1v1.1h-1.1zM657.5 586.6h1.1v1.1h-1.1zM654.2 598.6h1.1v1.1h-1.1zM655.9 629h1.1v1.1h-1.1zM667.3 602.5h1.1v1.1h-1.1zM667 613.5h1.1v1.1h-1.1zM645.7 589h1.1v1.1h-1.1zM656.6 609.6h1.1v1.1h-1.1zM673.9 629.4h1.1v1.1h-1.1zM657.2 599.2h1.1v1.1h-1.1zM670.9 582h1.1v1.1h-1.1zM633.2 609.7h1.1v1.1h-1.1zM657.5 588.9h1.1v1.1h-1.1zM658.2 625.7h1.1v1.1h-1.1zM646 603.2h1.1v1.1h-1.1zM638.9 596.3h1.1v1.1h-1.1zM674.7 600.6h1.1v1.1h-1.1zM674.1 626.8h1.1v1.1h-1.1zM656.6 594.7h1.1v1.1h-1.1zM675.1 606.3h1.1v1.1h-1.1zM647.9 597.6h1.1v1.1h-1.1zM675.2 606.1h1.1v1.1h-1.1zM641.7 605.4h1.1v1.1h-1.1zM633.9 612.5h1.1v1.1h-1.1zM649.3 596.4h1.1v1.1h-1.1zM665.5 622.5h1.1v1.1h-1.1zM628.6 608.1h1.1v1.1h-1.1zM641.1 627.8h1.1v1.1h-1.1zM665.5 594h1.1v1.1h-1.1zM640.8 589.6h1.1v1.1h-1.1zM675.5 596.4h1.1v1.1h-1.1zM657.2 605.3h1.1v1.1h-1.1zM659 611.6h1.1v1.1h-1.1zM663.7 587.8h1.1v1.1h-1.1zM664.5 596.7h1.1v1.1h-1.1zM653.6 598.5h1.1v1.1h-1.1zM642.2 608h1.1v1.1h-1.1zM650.3 599.7h1.1v1.1h-1.1zM663.8 610.9h1.1v1.1h-1.1zM629.7 594.4h1.1v1.1h-1.1zM649.9 626.9h1.1v1.1h-1.1zM670.6 608.7h1.1v1.1h-1.1zM628.7 620.1h1.1v1.1h-1.1zM648.5 610.2h1.1v1.1h-1.1zM662 613h1.1v1.1h-1.1zM651.1 626.7h1.1v1.1h-1.1zM646.5 601.2h1.1v1.1h-1.1zM668.9 591.6h1.1v1.1h-1.1zM642.2 622.7h1.1v1.1h-1.1zM631.2 623h1.1v1.1h-1.1zM661.3 603.2h1.1v1.1h-1.1zM641.7 620.3h1.1v1.1h-1.1zM671.7 589h1.1v1.1h-1.1zM651 608.9h1.1v1.1h-1.1zM651.9 598.2h1.1v1.1h-1.1zM635.4 610.7h1.1v1.1h-1.1zM667 585.4h1.1v1.1h-1.1zM639 622.2h1.1v1.1h-1.1z" fill="#f08090"/>
<path d="M664.4 611.9h2.4v2.4h-2.4zM629.2 614.5h2.4v2.4h-2.4zM673 626.9h2.4v2.4h-2.4zM660.3 584.2h2.4v2.4h-2.4zM666.7 591.9h2.4v2.4h-2.4zM657.7 624.9h2.4v2.4h-2.4zM660.8 588.1h2.4v2.4h-2.4zM641.5 623.3h2.4v2.4h-2.4zM634.9 609.5h2.4v2.4h-2.4zM647 589.3h2.4v2.4h-2.4zM656.6 584h2.4v2.4h-2.4zM633 599.1h2.4v2.4h-2.4zM631.3 584.6h2.4v2.4h-2.4zM654.5 615.4h2.4v2.4h-2.4zM668.4 588h2.4v2.4h-2.4zM647.9 596.2h2.4v2.4h-2.4zM655.6 604h2.4v2.4h-2.4zM671.2 598.8h2.4v2.4h-2.4zM630.6 613.4h2.4v2.4h-2.4zM635 610.4h2.4v2.4h-2.4zM651.3 623h2.4v2.4h-2.4zM653.5 609.9h2.4v2.4h-2.4z" fill="#e04050"/>
<path d="M664.9 614.1h2.4v2.4h-2.4zM629.7 616.7h2.4v2.4h-2.4zM673.5 629.1h2.4v2.4h-2.4zM660.8 586.4h2.4v2.4h-2.4zM667.2 594.1h2.4v2.4h-2.4zM658.2 627.1h2.4v2.4h-2.4zM661.3 590.3h2.4v2.4h-2.4zM642 625.5h2.4v2.4h-2.4zM635.4 611.7h2.4v2.4h-2.4zM647.5 591.5h2.4v2.4h-2.4zM657.1 586.2h2.4v2.4h-2.4zM633.5 601.3h2.4v2.4h-2.4zM631.8 586.8h2.4v2.4h-2.4zM655 617.6h2.4v2.4h-2.4z" fill="#e04050"/>
<text x="647" y="578" font-size="6" text-anchor="middle" fill="#333">TFBS</text>
<text x="624" y="622" font-size="7" text-anchor="middle" fill="#333" transform="rotate(-90 624 622)">CRE</text>
<text x="624" y="597" font-size="3.5" text-anchor="middle" fill="#555" transform="rotate(-90 624 597)">High Var</text>
<text x="700" y="625.3" font-size="27" textLength="43" lengthAdjust="spacingAndGlyphs">LSD</text>
<text x="769.2" y="40.4" font-size="41.5" font-weight="bold">b</text>
<text x="826.6" y="20.2" font-size="28.4" fill="#45999b">OnF sLCR selected regions in proximity to Anxa1</text>
<text x="970" y="52.5" font-size="13.6" text-anchor="end">Scale</text>
<text x="970" y="69" font-size="13.6" text-anchor="end">chr19:</text>
<text x="1265" y="52.5" font-size="13.6" text-anchor="end">10 kb</text>
<line x1="1268" y1="46" x2="1720.6" y2="46" stroke="#000" stroke-width="1.3"/>
<line x1="1268" y1="40.5" x2="1268" y2="51.5" stroke="#000" stroke-width="1.3"/>
<line x1="1720.6" y1="40.5" x2="1720.6" y2="51.5" stroke="#000" stroke-width="1.3"/>
<text x="1731.5" y="48" font-size="13.6">mm10</text>
<line x1="1104.4" y1="57" x2="1104.4" y2="70" stroke="#000" stroke-width="1.4"/>
<text x="1102.4" y="69" font-size="13.6" text-anchor="end">20,375,000</text>
<line x1="1331.3" y1="57" x2="1331.3" y2="70" stroke="#000" stroke-width="1.4"/>
<text x="1329.3" y="69" font-size="13.6" text-anchor="end">20,380,000</text>
<line x1="1558" y1="57" x2="1558" y2="70" stroke="#000" stroke-width="1.4"/>
<text x="1556" y="69" font-size="13.6" text-anchor="end">20,385,000</text>
<line x1="1785.7" y1="57" x2="1785.7" y2="70" stroke="#000" stroke-width="1.4"/>
<text x="1783.7" y="69" font-size="13.6" text-anchor="end">20,390,000</text>
<line x1="2012" y1="57" x2="2012" y2="70" stroke="#000" stroke-width="1.4"/>
<text x="2010" y="69" font-size="13.6" text-anchor="end">20,395,000</text>
<text x="1495" y="83.8" font-size="13.6" text-anchor="middle">OnF sLCR CREs</text>
<text x="970" y="101.5" font-size="13.6" text-anchor="end">OnF sLCR CREs</text>
<rect x="1789.6" y="88.8" width="7" height="14.7" fill="#000"/>
<rect x="1898" y="88.8" width="7.5" height="14.7" fill="#000"/>
<rect x="1946" y="88.8" width="7.4" height="14.7" fill="#000"/>
<rect x="1969" y="88.8" width="6.5" height="14.7" fill="#000"/>
<text x="970" y="134.2" font-size="13.6" text-anchor="end" fill="#6f6fae">1500015L24Rik</text>
<line x1="976" y1="129.2" x2="2015" y2="129.2" stroke="#8a8ad0" stroke-width="1.2"/>
<defs><pattern id="ch0" y="-4" width="8.1" height="8" patternUnits="userSpaceOnUse"><path d="M1.1 0.9L4 4L1.1 7.1" fill="none" stroke="#8a8ad0" stroke-width="1.1"/></pattern></defs>
<rect x="977" y="-4" width="1038" height="8" fill="url(#ch0)" transform="translate(0 129.2)"/>
<text x="970" y="150.4" font-size="13.6" text-anchor="end" fill="#6f6fae">1500015L24Rik</text>
<line x1="976" y1="145.4" x2="2015" y2="145.4" stroke="#8a8ad0" stroke-width="1.2"/>
<rect x="977" y="-4" width="1038" height="8" fill="url(#ch0)" transform="translate(0 145.4)"/>
<text x="970" y="166.9" font-size="13.6" text-anchor="end" fill="#6f6fae">1500015L24Rik</text>
<line x1="976" y1="161.9" x2="2015" y2="161.9" stroke="#8a8ad0" stroke-width="1.2"/>
<rect x="977" y="-4" width="1038" height="8" fill="url(#ch0)" transform="translate(0 161.9)"/>
<text x="1028.5" y="183.7" font-size="13.6" text-anchor="end" fill="#14147c">Anxa1</text>
<line x1="1047" y1="178.7" x2="1813.8" y2="178.7" stroke="#14147c" stroke-width="1.3"/>
<defs><pattern id="ch1" y="-4" width="8.1" height="8" patternUnits="userSpaceOnUse"><path d="M6.9 0.9L4 4L6.9 7.1" fill="none" stroke="#7c7cc4" stroke-width="1.1"/></pattern></defs>
<rect x="1048" y="-4" width="763.8" height="8" fill="url(#ch1)" transform="translate(0 178.7)"/>
<rect x="1033.7" y="173.7" width="12.3" height="10" fill="#14147c"/>
<rect x="1045.5" y="171.1" width="2.8" height="15.2" fill="#14147c"/>
<rect x="1115.1" y="171.1" width="3.8" height="15.2" fill="#14147c"/>
<rect x="1179.1" y="171.1" width="3.8" height="15.2" fill="#14147c"/>
<rect x="1223.1" y="171.1" width="3.8" height="15.2" fill="#14147c"/>
<rect x="1259.1" y="171.1" width="3.8" height="15.2" fill="#14147c"/>
<rect x="1314.1" y="171.1" width="3.8" height="15.2" fill="#14147c"/>
<rect x="1346.6" y="171.1" width="3.8" height="15.2" fill="#14147c"/>
<rect x="1425.1" y="171.1" width="3.8" height="15.2" fill="#14147c"/>
<rect x="1462.1" y="171.1" width="3.8" height="15.2" fill="#14147c"/>
<rect x="1501.1" y="171.1" width="3.8" height="15.2" fill="#14147c"/>
<rect x="1535.1" y="171.1" width="3.8" height="15.2" fill="#14147c"/>
<rect x="1543.1" y="171.1" width="3.8" height="15.2" fill="#14147c"/>
<rect x="1813.8" y="173.7" width="13.8" height="9" fill="#14147c"/>
<text x="1028.5" y="200.1" font-size="13.6" text-anchor="end" fill="#14147c">Anxa1</text>
<line x1="1047" y1="195.1" x2="1815.3" y2="195.1" stroke="#14147c" stroke-width="1.3"/>
<rect x="1048" y="-4" width="765.3" height="8" fill="url(#ch1)" transform="translate(0 195.1)"/>
<rect x="1033.7" y="190.1" width="12.3" height="10" fill="#14147c"/>
<rect x="1045.5" y="187.5" width="2.8" height="15.2" fill="#14147c"/>
<rect x="1115.1" y="187.5" width="3.8" height="15.2" fill="#14147c"/>
<rect x="1179.1" y="187.5" width="3.8" height="15.2" fill="#14147c"/>
<rect x="1223.1" y="187.5" width="3.8" height="15.2" fill="#14147c"/>
<rect x="1259.1" y="187.5" width="3.8" height="15.2" fill="#14147c"/>
<rect x="1314.1" y="187.5" width="3.8" height="15.2" fill="#14147c"/>
<rect x="1346.6" y="187.5" width="3.8" height="15.2" fill="#14147c"/>
<rect x="1425.1" y="187.5" width="3.8" height="15.2" fill="#14147c"/>
<rect x="1462.1" y="187.5" width="3.8" height="15.2" fill="#14147c"/>
<rect x="1501.1" y="187.5" width="3.8" height="15.2" fill="#14147c"/>
<rect x="1535.1" y="187.5" width="3.8" height="15.2" fill="#14147c"/>
<rect x="1543.1" y="187.5" width="3.8" height="15.2" fill="#14147c"/>
<rect x="1715.7" y="190.3" width="10.8" height="9.6" fill="#14147c"/>
<line x1="1815.3" y1="190.1" x2="1815.3" y2="200.1" stroke="#14147c" stroke-width="1.3"/>
<text x="814.1" y="264.6" font-size="28.4" fill="#45999b">OnF sLCR selected regions in proximity to S100a6</text>
<text x="968.7" y="289.6" font-size="13.6" text-anchor="end">Scale</text>
<text x="968.7" y="305.7" font-size="13.6" text-anchor="end">chr3:</text>
<text x="1356.3" y="289.6" font-size="13.6" text-anchor="end">2 kb</text>
<line x1="1359.2" y1="283.3" x2="1622.8" y2="283.3" stroke="#000" stroke-width="1.3"/>
<line x1="1359.2" y1="277.5" x2="1359.2" y2="289" stroke="#000" stroke-width="1.3"/>
<line x1="1622.8" y1="277.5" x2="1622.8" y2="289" stroke="#000" stroke-width="1.3"/>
<text x="1634.2" y="287" font-size="13.6">mm10</text>
<line x1="1104.8" y1="293.7" x2="1104.8" y2="306.7" stroke="#000" stroke-width="1.4"/>
<text x="1102.8" y="305.7" font-size="13.6" text-anchor="end">90,609,000</text>
<line x1="1236.4" y1="293.7" x2="1236.4" y2="306.7" stroke="#000" stroke-width="1.4"/>
<text x="1234.4" y="305.7" font-size="13.6" text-anchor="end">90,610,000</text>
<line x1="1368.4" y1="293.7" x2="1368.4" y2="306.7" stroke="#000" stroke-width="1.4"/>
<text x="1366.4" y="305.7" font-size="13.6" text-anchor="end">90,611,000</text>
<line x1="1499.6" y1="293.7" x2="1499.6" y2="306.7" stroke="#000" stroke-width="1.4"/>
<text x="1497.6" y="305.7" font-size="13.6" text-anchor="end">90,612,000</text>
<line x1="1632.5" y1="293.7" x2="1632.5" y2="306.7" stroke="#000" stroke-width="1.4"/>
<text x="1630.5" y="305.7" font-size="13.6" text-anchor="end">90,613,000</text>
<line x1="1764.3" y1="293.7" x2="1764.3" y2="306.7" stroke="#000" stroke-width="1.4"/>
<text x="1762.3" y="305.7" font-size="13.6" text-anchor="end">90,614,000</text>
<line x1="1896.4" y1="293.7" x2="1896.4" y2="306.7" stroke="#000" stroke-width="1.4"/>
<text x="1894.4" y="305.7" font-size="13.6" text-anchor="end">90,615,000</text>
<text x="968.7" y="338" font-size="13.6" text-anchor="end">OnF sLCR CREs</text>
<rect x="1018" y="323.9" width="20.2" height="16.1" fill="#000"/>
<rect x="1604.9" y="323.8" width="21.1" height="15.9" fill="#000"/>
<text x="1038.2" y="369.3" font-size="13.6" text-anchor="end" fill="#14147c">S100a5</text>
<line x1="1041.4" y1="364.3" x2="1435" y2="364.3" stroke="#14147c" stroke-width="1.3"/>
<defs><pattern id="ch2" y="-4" width="8.1" height="8" patternUnits="userSpaceOnUse"><path d="M1.1 0.9L4 4L1.1 7.1" fill="none" stroke="#7c7cc4" stroke-width="1.1"/></pattern></defs>
<rect x="1042.4" y="-4" width="390.6" height="8" fill="url(#ch2)" transform="translate(0 364.3)"/>
<line x1="1041.4" y1="359.5" x2="1041.4" y2="369" stroke="#14147c" stroke-width="1.3"/>
<text x="1208.6" y="386.2" font-size="13.6" text-anchor="end" fill="#14147c">S100a5</text>
<line x1="1230" y1="381.2" x2="1435" y2="381.2" stroke="#14147c" stroke-width="1.3"/>
<rect x="1231" y="-4" width="202" height="8" fill="url(#ch2)" transform="translate(0 381.2)"/>
<rect x="1211.8" y="356.3" width="19" height="16" fill="#14147c"/>
<rect x="1435" y="356.3" width="19" height="16" fill="#14147c"/>
<rect x="1454" y="359.5" width="17" height="9.6" fill="#14147c"/>
<rect x="1211.8" y="373.2" width="19" height="16" fill="#14147c"/>
<rect x="1435" y="373.2" width="19" height="16" fill="#14147c"/>
<rect x="1454" y="376.4" width="17" height="9.6" fill="#14147c"/>
<text x="1612.6" y="369" font-size="13.6" text-anchor="end">S100a6</text>
<line x1="1661" y1="364" x2="1789.5" y2="364" stroke="#000" stroke-width="1.3"/>
<rect x="1662" y="-4" width="125.5" height="8" fill="url(#ch2)" transform="translate(0 364)"/>
<rect x="1615.9" y="359.3" width="45.5" height="9.4" fill="#000"/>
<text x="1669.5" y="385.7" font-size="13.6" text-anchor="end">S100a6</text>
<line x1="1682" y1="380.7" x2="1789.5" y2="380.7" stroke="#000" stroke-width="1.3"/>
<rect x="1683" y="-4" width="104.5" height="8" fill="url(#ch2)" transform="translate(0 380.7)"/>
<rect x="1672" y="375.7" width="10.6" height="10" fill="#000"/>
<rect x="1730.5" y="356" width="21.2" height="16" fill="#000"/>
<rect x="1789.5" y="356" width="17.1" height="16" fill="#000"/>
<rect x="1806.6" y="359.3" width="12.2" height="9.4" fill="#000"/>
<rect x="1730.5" y="372.7" width="21.2" height="16" fill="#000"/>
<rect x="1789.5" y="372.7" width="17.1" height="16" fill="#000"/>
<rect x="1806.6" y="376" width="12.2" height="9.4" fill="#000"/>
<text x="808.9" y="442.4" font-size="28.4" fill="#45999b">OnF sLCR selected regions in proximity to Ly6a</text>
<text x="971.6" y="478.7" font-size="13.6" text-anchor="end">Scale</text>
<text x="971.6" y="496.1" font-size="13.6" text-anchor="end">chr15:</text>
<text x="1344.2" y="478.7" font-size="13.6" text-anchor="end">2 kb</text>
<line x1="1347" y1="472.5" x2="1666.3" y2="472.5" stroke="#000" stroke-width="1.3"/>
<line x1="1347" y1="466.5" x2="1347" y2="478" stroke="#000" stroke-width="1.3"/>
<line x1="1666.3" y1="466.5" x2="1666.3" y2="478" stroke="#000" stroke-width="1.3"/>
<text x="1676.9" y="476" font-size="13.6">mm10</text>
<line x1="1050.3" y1="484.1" x2="1050.3" y2="497.1" stroke="#000" stroke-width="1.4"/>
<text x="1048.3" y="496.1" font-size="13.6" text-anchor="end">74,993,000</text>
<line x1="1130.2" y1="484.1" x2="1130.2" y2="497.1" stroke="#000" stroke-width="1.4"/>
<text x="1128.2" y="496.1" font-size="13.6" text-anchor="end">74,993,500</text>
<line x1="1211" y1="484.1" x2="1211" y2="497.1" stroke="#000" stroke-width="1.4"/>
<text x="1209" y="496.1" font-size="13.6" text-anchor="end">74,994,000</text>
<line x1="1290.1" y1="484.1" x2="1290.1" y2="497.1" stroke="#000" stroke-width="1.4"/>
<text x="1288.1" y="496.1" font-size="13.6" text-anchor="end">74,994,500</text>
<line x1="1370" y1="484.1" x2="1370" y2="497.1" stroke="#000" stroke-width="1.4"/>
<text x="1368" y="496.1" font-size="13.6" text-anchor="end">74,995,000</text>
<line x1="1450.4" y1="484.1" x2="1450.4" y2="497.1" stroke="#000" stroke-width="1.4"/>
<text x="1448.4" y="496.1" font-size="13.6" text-anchor="end">74,995,500</text>
<line x1="1530.1" y1="484.1" x2="1530.1" y2="497.1" stroke="#000" stroke-width="1.4"/>
<text x="1528.1" y="496.1" font-size="13.6" text-anchor="end">74,996,000</text>
<line x1="1610.6" y1="484.1" x2="1610.6" y2="497.1" stroke="#000" stroke-width="1.4"/>
<text x="1608.6" y="496.1" font-size="13.6" text-anchor="end">74,996,500</text>
<line x1="1689.9" y1="484.1" x2="1689.9" y2="497.1" stroke="#000" stroke-width="1.4"/>
<text x="1687.9" y="496.1" font-size="13.6" text-anchor="end">74,997,000</text>
<line x1="1770.4" y1="484.1" x2="1770.4" y2="497.1" stroke="#000" stroke-width="1.4"/>
<text x="1768.4" y="496.1" font-size="13.6" text-anchor="end">74,997,500</text>
<line x1="1850.5" y1="484.1" x2="1850.5" y2="497.1" stroke="#000" stroke-width="1.4"/>
<text x="1848.5" y="496.1" font-size="13.6" text-anchor="end">74,998,000</text>
<line x1="1929.8" y1="484.1" x2="1929.8" y2="497.1" stroke="#000" stroke-width="1.4"/>
<text x="1927.8" y="496.1" font-size="13.6" text-anchor="end">74,998,500</text>
<line x1="2010.3" y1="484.1" x2="2010.3" y2="497.1" stroke="#000" stroke-width="1.4"/>
<text x="2008.3" y="496.1" font-size="13.6" text-anchor="end">74,999,000</text>
<text x="970.4" y="528.4" font-size="13.6" text-anchor="end">OnF sLCR CREs</text>
<rect x="1098.7" y="515" width="24.7" height="15.4" fill="#000"/>
<text x="1347.8" y="560.8" font-size="13.6" text-anchor="end" fill="#14147c">Ly6a</text>
<line x1="1446.7" y1="555.8" x2="1825.7" y2="555.8" stroke="#14147c" stroke-width="1.3"/>
<rect x="1447.7" y="-4" width="376" height="8" fill="url(#ch1)" transform="translate(0 555.8)"/>
<rect x="1350.3" y="551.3" width="62.1" height="9" fill="#14147c"/>
<rect x="1412.4" y="547.8" width="34.3" height="16" fill="#14147c"/>
<rect x="1602.5" y="547.8" width="19.1" height="16" fill="#14147c"/>
<rect x="1776" y="547.8" width="10.6" height="16" fill="#14147c"/>
<rect x="1786.6" y="551.6" width="4.1" height="8.4" fill="#14147c"/>
<rect x="1825.7" y="550.8" width="9.3" height="10" fill="#14147c"/>
<text x="1347.8" y="577.8" font-size="13.6" text-anchor="end" fill="#14147c">Ly6a</text>
<line x1="1446.7" y1="572.8" x2="1790.7" y2="572.8" stroke="#14147c" stroke-width="1.3"/>
<rect x="1447.7" y="-4" width="341" height="8" fill="url(#ch1)" transform="translate(0 572.8)"/>
<rect x="1350.3" y="568.3" width="62.1" height="9" fill="#14147c"/>
<rect x="1412.4" y="564.8" width="34.3" height="16" fill="#14147c"/>
<rect x="1602.5" y="564.8" width="19.1" height="16" fill="#14147c"/>
<rect x="1776" y="564.8" width="10.6" height="16" fill="#14147c"/>
<rect x="1786.6" y="568.6" width="4.1" height="8.4" fill="#14147c"/>
<text x="1347.8" y="594.7" font-size="13.6" text-anchor="end" fill="#14147c">Ly6a</text>
<line x1="1446.7" y1="589.7" x2="1831" y2="589.7" stroke="#14147c" stroke-width="1.3"/>
<rect x="1447.7" y="-4" width="381.3" height="8" fill="url(#ch1)" transform="translate(0 589.7)"/>
<rect x="1350.3" y="585.2" width="62.1" height="9" fill="#14147c"/>
<rect x="1412.4" y="581.7" width="34.3" height="16" fill="#14147c"/>
<rect x="1602.5" y="581.7" width="19.1" height="16" fill="#14147c"/>
<rect x="1776" y="581.7" width="10.6" height="16" fill="#14147c"/>
<rect x="1786.6" y="585.5" width="4.1" height="8.4" fill="#14147c"/>
<rect x="1831" y="584.7" width="24.4" height="10" fill="#14147c"/>
<text x="1350.7" y="611.7" font-size="13.6" text-anchor="end" fill="#14147c">Ly6a</text>
<line x1="1446.7" y1="606.7" x2="1825.7" y2="606.7" stroke="#14147c" stroke-width="1.3"/>
<rect x="1447.7" y="-4" width="376" height="8" fill="url(#ch1)" transform="translate(0 606.7)"/>
<rect x="1353.9" y="602.2" width="58.5" height="9" fill="#14147c"/>
<rect x="1412.4" y="598.7" width="34.3" height="16" fill="#14147c"/>
<rect x="1602.5" y="598.7" width="19.1" height="16" fill="#14147c"/>
<rect x="1776" y="598.7" width="10.6" height="16" fill="#14147c"/>
<rect x="1786.6" y="602.5" width="4.1" height="8.4" fill="#14147c"/>
<rect x="1825.7" y="601.7" width="12.6" height="10" fill="#14147c"/>
<text x="1359.6" y="628.7" font-size="13.6" text-anchor="end" fill="#14147c">Ly6a</text>
<line x1="1446.7" y1="623.7" x2="1831" y2="623.7" stroke="#14147c" stroke-width="1.3"/>
<rect x="1447.7" y="-4" width="381.3" height="8" fill="url(#ch1)" transform="translate(0 623.7)"/>
<rect x="1362.4" y="619.2" width="50" height="9" fill="#14147c"/>
<rect x="1412.4" y="615.7" width="34.3" height="16" fill="#14147c"/>
<rect x="1602.5" y="615.7" width="19.1" height="16" fill="#14147c"/>
<rect x="1776" y="615.7" width="10.6" height="16" fill="#14147c"/>
<rect x="1786.6" y="619.5" width="4.1" height="8.4" fill="#14147c"/>
<rect x="1831" y="618.7" width="16.6" height="10" fill="#14147c"/>
<text x="10.1" y="813.1" font-size="44" font-weight="bold">c</text>
<line x1="100.8" y1="818.9" x2="139.3" y2="818.9" stroke="#4a90d9" stroke-width="3.8"/>
<line x1="214.3" y1="818.9" x2="252" y2="818.9" stroke="#b81c1c" stroke-width="3.8"/>
<line x1="303.7" y1="818.9" x2="341.7" y2="818.9" stroke="#5a9a3a" stroke-width="3.8"/>
<text x="90.2" y="854" font-size="24" fill="#4a90d9" letter-spacing="0.6">WT<tspan font-size="16" dy="-9.5">OnF</tspan></text>
<text x="181.7" y="854" font-size="24" fill="#b01c1c" letter-spacing="0.6">VAKSP<tspan font-size="16" dy="-9.5">OnF</tspan></text>
<text x="317" y="854" font-size="24" fill="#5a9a3a" letter-spacing="0.6">RXRi<tspan font-size="16" dy="-9.5">OnF</tspan></text>
<line x1="80.9" y1="889.5" x2="409.3" y2="889.5" stroke="#333" stroke-width="1.3"/>
<line x1="409.3" y1="889.5" x2="409.3" y2="1215.7" stroke="#333" stroke-width="1.3"/>
<path d="M169.8 1215.8 L175.1 1214.2 L178.3 1205.7 L180.9 1173.8 L183 1131.4 L185.2 1025.3 L187.3 945.7 L188.9 921.8 L190.5 917.8 L192.6 920.5 L194.5 935.1 L196.3 966.9 L198.4 982.8 L201.6 998.8 L204.3 1025.3 L207.4 1054.5 L212.2 1070.4 L216.2 1078.3 L220.2 1085 L222.8 1084.2 L226 1085.8 L229.5 1094.8 L233.4 1102.2 L238.8 1108.8 L244.1 1114.1 L249.4 1122.1 L254.7 1130.1 L260 1136.7 L265.3 1143.3 L270.6 1152.6 L275.9 1157.9 L281.2 1163.2 L286.5 1169.9 L291.8 1171.2 L297.1 1177.8 L302.4 1185.8 L307.7 1190.3 L313 1193.7 L318.3 1199 L323.6 1205.1 L330.3 1209.6 L336.9 1213.6 L344.9 1215.8L344.9 1215.7L169.8 1215.7Z" fill="#4a90d9" fill-opacity="0.28"/>
<path d="M171.1 1215.8 L176.4 1211 L180.4 1195.1 L184.4 1152.6 L187.8 1110.2 L190.5 1082.3 L193.7 1077 L198.4 1070.4 L201.6 1081 L204.8 1095.6 L209.6 1104.9 L214.9 1107.5 L218.9 1104.9 L222.8 1091.6 L226.8 1085 L230.8 1073 L236.1 1051.8 L240.1 1025.3 L244.1 985.5 L248 951 L252 937.7 L255.2 933.8 L258.6 921.8 L261.3 935.1 L265.3 940.4 L268.5 956.3 L271.9 972.2 L274.6 990.8 L277.2 1009.4 L280.7 1033.2 L283.8 1035.9 L287 1027.9 L290.5 1038.5 L294.5 1025.3 L297.1 1035.9 L301.1 1041.2 L304.5 1065.1 L307.7 1088.9 L311.7 1110.2 L315.7 1136.7 L319.7 1163.2 L323.6 1184.4 L328.9 1203 L334.3 1213.6 L339.6 1215.8L339.6 1215.7L171.1 1215.7Z" fill="#b03030" fill-opacity="0.22"/>
<path d="M171.1 1215.8 L176.4 1211 L181.7 1197.7 L185.7 1184.4 L189.7 1168.5 L193.7 1152.6 L196.8 1151.3 L199.5 1159.2 L204.3 1163.2 L209.6 1168.5 L215.4 1171.7 L220.2 1162.7 L225.5 1155.3 L230.8 1155.8 L234.8 1152.6 L238.8 1144.7 L242.7 1132.7 L248 1123.4 L253.3 1112.8 L257.3 1095.6 L260.5 1090.3 L264 1088.9 L267.4 1067.7 L270.6 1043.8 L274.6 1018.6 L277.2 1012 L279.9 1025.3 L283.3 996.1 L286 974.9 L289.2 980.2 L291.8 969.6 L295 956.3 L297.6 955 L301.1 964.3 L304.5 985.5 L307.7 1014.7 L310.4 1051.8 L313 1102.2 L316.2 1136.7 L319.7 1163.2 L323.6 1189.8 L328.9 1208.3 L335.6 1214.2 L344.9 1215.8L344.9 1215.7L171.1 1215.7Z" fill="#30b030" fill-opacity="0.22"/>
<path d="M169.8 1215.8 L175.1 1214.2 L178.3 1205.7 L180.9 1173.8 L183 1131.4 L185.2 1025.3 L187.3 945.7 L188.9 921.8 L190.5 917.8 L192.6 920.5 L194.5 935.1 L196.3 966.9 L198.4 982.8 L201.6 998.8 L204.3 1025.3 L207.4 1054.5 L212.2 1070.4 L216.2 1078.3 L220.2 1085 L222.8 1084.2 L226 1085.8 L229.5 1094.8 L233.4 1102.2 L238.8 1108.8 L244.1 1114.1 L249.4 1122.1 L254.7 1130.1 L260 1136.7 L265.3 1143.3 L270.6 1152.6 L275.9 1157.9 L281.2 1163.2 L286.5 1169.9 L291.8 1171.2 L297.1 1177.8 L302.4 1185.8 L307.7 1190.3 L313 1193.7 L318.3 1199 L323.6 1205.1 L330.3 1209.6 L336.9 1213.6 L344.9 1215.8" fill="none" stroke="#1a6ad0" stroke-width="1.8"/>
<path d="M171.1 1215.8 L176.4 1211 L180.4 1195.1 L184.4 1152.6 L187.8 1110.2 L190.5 1082.3 L193.7 1077 L198.4 1070.4 L201.6 1081 L204.8 1095.6 L209.6 1104.9 L214.9 1107.5 L218.9 1104.9 L222.8 1091.6 L226.8 1085 L230.8 1073 L236.1 1051.8 L240.1 1025.3 L244.1 985.5 L248 951 L252 937.7 L255.2 933.8 L258.6 921.8 L261.3 935.1 L265.3 940.4 L268.5 956.3 L271.9 972.2 L274.6 990.8 L277.2 1009.4 L280.7 1033.2 L283.8 1035.9 L287 1027.9 L290.5 1038.5 L294.5 1025.3 L297.1 1035.9 L301.1 1041.2 L304.5 1065.1 L307.7 1088.9 L311.7 1110.2 L315.7 1136.7 L319.7 1163.2 L323.6 1184.4 L328.9 1203 L334.3 1213.6 L339.6 1215.8" fill="none" stroke="#7a1212" stroke-width="1.8"/>
<path d="M171.1 1215.8 L176.4 1211 L181.7 1197.7 L185.7 1184.4 L189.7 1168.5 L193.7 1152.6 L196.8 1151.3 L199.5 1159.2 L204.3 1163.2 L209.6 1168.5 L215.4 1171.7 L220.2 1162.7 L225.5 1155.3 L230.8 1155.8 L234.8 1152.6 L238.8 1144.7 L242.7 1132.7 L248 1123.4 L253.3 1112.8 L257.3 1095.6 L260.5 1090.3 L264 1088.9 L267.4 1067.7 L270.6 1043.8 L274.6 1018.6 L277.2 1012 L279.9 1025.3 L283.3 996.1 L286 974.9 L289.2 980.2 L291.8 969.6 L295 956.3 L297.6 955 L301.1 964.3 L304.5 985.5 L307.7 1014.7 L310.4 1051.8 L313 1102.2 L316.2 1136.7 L319.7 1163.2 L323.6 1189.8 L328.9 1208.3 L335.6 1214.2 L344.9 1215.8" fill="none" stroke="#22b022" stroke-width="1.8"/>
<line x1="259.3" y1="1215.7" x2="409.3" y2="1215.7" stroke="#1a5a9a" stroke-width="1.5"/>
<line x1="80.9" y1="1215.7" x2="230.9" y2="1215.7" stroke="#1a5a9a" stroke-width="1.5"/>
<line x1="80.9" y1="889.5" x2="80.9" y2="1216.7" stroke="#000" stroke-width="2"/>
<line x1="72.9" y1="1215.7" x2="409.3" y2="1215.7" stroke="#000" stroke-width="2"/>
<line x1="73.9" y1="1215.7" x2="80.9" y2="1215.7" stroke="#000" stroke-width="2"/>
<text x="73.5" y="1223.7" font-size="23" text-anchor="end">0</text>
<line x1="76.9" y1="1184.6" x2="80.9" y2="1184.6" stroke="#000" stroke-width="1.3"/>
<line x1="73.9" y1="1153.5" x2="80.9" y2="1153.5" stroke="#000" stroke-width="2"/>
<text x="73.5" y="1161.5" font-size="23" text-anchor="end">20</text>
<line x1="76.9" y1="1122.4" x2="80.9" y2="1122.4" stroke="#000" stroke-width="1.3"/>
<line x1="73.9" y1="1091.3" x2="80.9" y2="1091.3" stroke="#000" stroke-width="2"/>
<text x="73.5" y="1099.3" font-size="23" text-anchor="end">40</text>
<line x1="76.9" y1="1060.2" x2="80.9" y2="1060.2" stroke="#000" stroke-width="1.3"/>
<line x1="73.9" y1="1029" x2="80.9" y2="1029" stroke="#000" stroke-width="2"/>
<text x="73.5" y="1037" font-size="23" text-anchor="end">60</text>
<line x1="76.9" y1="997.9" x2="80.9" y2="997.9" stroke="#000" stroke-width="1.3"/>
<line x1="73.9" y1="966.8" x2="80.9" y2="966.8" stroke="#000" stroke-width="2"/>
<text x="73.5" y="974.8" font-size="23" text-anchor="end">80</text>
<line x1="76.9" y1="935.7" x2="80.9" y2="935.7" stroke="#000" stroke-width="1.3"/>
<line x1="73.9" y1="904.6" x2="80.9" y2="904.6" stroke="#000" stroke-width="2"/>
<text x="73.5" y="912.6" font-size="23" text-anchor="end">100</text>
<line x1="125.5" y1="1215.7" x2="125.5" y2="1222.7" stroke="#000" stroke-width="2"/>
<line x1="308.5" y1="1215.7" x2="308.5" y2="1222.7" stroke="#000" stroke-width="2"/>
<line x1="379.4" y1="1215.7" x2="379.4" y2="1222.7" stroke="#000" stroke-width="2"/>
<text x="125.5" y="1243" font-size="23" text-anchor="middle">0</text>
<text x="298" y="1243" font-size="23">10<tspan font-size="14" dy="-9">4</tspan></text>
<text x="369" y="1243" font-size="23">10<tspan font-size="14" dy="-9">5</tspan></text>
<line x1="97" y1="1215.7" x2="97" y2="1219.7" stroke="#000" stroke-width="1.2"/>
<line x1="109" y1="1215.7" x2="109" y2="1219.7" stroke="#000" stroke-width="1.2"/>
<line x1="132" y1="1215.7" x2="132" y2="1219.7" stroke="#000" stroke-width="1.2"/>
<line x1="136" y1="1215.7" x2="136" y2="1219.7" stroke="#000" stroke-width="1.2"/>
<line x1="139" y1="1215.7" x2="139" y2="1219.7" stroke="#000" stroke-width="1.2"/>
<line x1="142" y1="1215.7" x2="142" y2="1219.7" stroke="#000" stroke-width="1.2"/>
<line x1="145" y1="1215.7" x2="145" y2="1219.7" stroke="#000" stroke-width="1.2"/>
<line x1="147" y1="1215.7" x2="147" y2="1219.7" stroke="#000" stroke-width="1.2"/>
<line x1="149" y1="1215.7" x2="149" y2="1219.7" stroke="#000" stroke-width="1.2"/>
<line x1="152" y1="1215.7" x2="152" y2="1219.7" stroke="#000" stroke-width="1.2"/>
<line x1="156" y1="1215.7" x2="156" y2="1219.7" stroke="#000" stroke-width="1.2"/>
<line x1="162" y1="1215.7" x2="162" y2="1219.7" stroke="#000" stroke-width="1.2"/>
<line x1="172" y1="1215.7" x2="172" y2="1219.7" stroke="#000" stroke-width="1.2"/>
<line x1="186" y1="1215.7" x2="186" y2="1219.7" stroke="#000" stroke-width="1.2"/>
<line x1="196" y1="1215.7" x2="196" y2="1219.7" stroke="#000" stroke-width="1.2"/>
<line x1="221" y1="1215.7" x2="221" y2="1219.7" stroke="#000" stroke-width="1.2"/>
<line x1="235" y1="1215.7" x2="235" y2="1219.7" stroke="#000" stroke-width="1.2"/>
<line x1="249" y1="1215.7" x2="249" y2="1219.7" stroke="#000" stroke-width="1.2"/>
<line x1="262" y1="1215.7" x2="262" y2="1219.7" stroke="#000" stroke-width="1.2"/>
<line x1="271" y1="1215.7" x2="271" y2="1219.7" stroke="#000" stroke-width="1.2"/>
<line x1="280" y1="1215.7" x2="280" y2="1219.7" stroke="#000" stroke-width="1.2"/>
<line x1="287" y1="1215.7" x2="287" y2="1219.7" stroke="#000" stroke-width="1.2"/>
<line x1="293" y1="1215.7" x2="293" y2="1219.7" stroke="#000" stroke-width="1.2"/>
<line x1="298" y1="1215.7" x2="298" y2="1219.7" stroke="#000" stroke-width="1.2"/>
<line x1="303" y1="1215.7" x2="303" y2="1219.7" stroke="#000" stroke-width="1.2"/>
<line x1="326" y1="1215.7" x2="326" y2="1219.7" stroke="#000" stroke-width="1.2"/>
<line x1="335" y1="1215.7" x2="335" y2="1219.7" stroke="#000" stroke-width="1.2"/>
<line x1="344" y1="1215.7" x2="344" y2="1219.7" stroke="#000" stroke-width="1.2"/>
<line x1="351" y1="1215.7" x2="351" y2="1219.7" stroke="#000" stroke-width="1.2"/>
<line x1="356" y1="1215.7" x2="356" y2="1219.7" stroke="#000" stroke-width="1.2"/>
<line x1="362" y1="1215.7" x2="362" y2="1219.7" stroke="#000" stroke-width="1.2"/>
<line x1="366" y1="1215.7" x2="366" y2="1219.7" stroke="#000" stroke-width="1.2"/>
<line x1="370" y1="1215.7" x2="370" y2="1219.7" stroke="#000" stroke-width="1.2"/>
<line x1="375" y1="1215.7" x2="375" y2="1219.7" stroke="#000" stroke-width="1.2"/>
<line x1="390" y1="1215.7" x2="390" y2="1219.7" stroke="#000" stroke-width="1.2"/>
<line x1="405" y1="1215.7" x2="405" y2="1219.7" stroke="#000" stroke-width="1.2"/>
<rect x="168" y="1215.7" width="10" height="6" fill="#000"/>
<text x="257.3" y="1277.3" font-size="24.1" text-anchor="middle">FITC-A::GFP</text>
<text x="33" y="1051.8" font-size="24.6" text-anchor="middle" transform="rotate(-90 33 1051.8)">Normalized to mode</text>
<text x="327.6" y="1081" font-size="19">GFP+</text>
<line x1="238.8" y1="1097.7" x2="408.5" y2="1097.7" stroke="#000" stroke-width="1.6" stroke-dasharray="1.6 2"/>
<text x="509.6" y="813.8" font-size="43" font-weight="bold">d</text>
<text x="519.4" y="857.7" font-size="20.7">ANOVA</text>
<text x="519.4" y="882.7" font-size="20.7">p &lt; 0.05</text>
<text x="667.9" y="871.4" font-size="22.9" text-anchor="middle">0.0005</text>
<path d="M610.3 904.8V886.5H725.5V967.9" fill="none" stroke="#000" stroke-width="3"/>
<text x="639" y="934" font-size="22.9" text-anchor="middle">0.0030</text>
<path d="M610.3 1110.6V948.3H667.9V995.4" fill="none" stroke="#000" stroke-width="3"/>
<rect x="592.7" y="1138.7" width="36.8" height="55.3" fill="#5b9be0" stroke="#000" stroke-width="3"/>
<rect x="649.8" y="1048" width="36.8" height="146" fill="#a84848" stroke="#000" stroke-width="3"/>
<rect x="707.9" y="1011" width="36.3" height="183" fill="#5ccb5c" stroke="#000" stroke-width="3"/>
<line x1="610.3" y1="1127.6" x2="610.3" y2="1150" stroke="#000" stroke-width="2"/>
<line x1="604.3" y1="1127.6" x2="616.3" y2="1127.6" stroke="#000" stroke-width="2"/>
<line x1="604.3" y1="1150" x2="616.3" y2="1150" stroke="#000" stroke-width="2"/>
<line x1="667.9" y1="1016" x2="667.9" y2="1077.5" stroke="#000" stroke-width="2"/>
<line x1="661.9" y1="1016" x2="673.9" y2="1016" stroke="#000" stroke-width="2"/>
<line x1="661.9" y1="1077.5" x2="673.9" y2="1077.5" stroke="#000" stroke-width="2"/>
<line x1="726" y1="985.4" x2="726" y2="1033.5" stroke="#000" stroke-width="2"/>
<line x1="720" y1="985.4" x2="732" y2="985.4" stroke="#000" stroke-width="2"/>
<line x1="720" y1="1033.5" x2="732" y2="1033.5" stroke="#000" stroke-width="2"/>
<path d="M602.2 1129.4h0M619 1133.6h0M610.3 1149.4h0M667.9 1012.4h0M667.9 1056.8h0M667.9 1071.8h0M726 982.4h0M726 1017.4h0M726 1029.2h0" stroke="#000" stroke-width="8.4" stroke-linecap="round"/>
<line x1="573.2" y1="905" x2="573.2" y2="1195.5" stroke="#000" stroke-width="3"/>
<line x1="560.7" y1="906.5" x2="573.2" y2="906.5" stroke="#000" stroke-width="3"/>
<text x="555.2" y="914" font-size="21.4" text-anchor="end" font-weight="bold">4000</text>
<line x1="560.7" y1="978.4" x2="573.2" y2="978.4" stroke="#000" stroke-width="3"/>
<text x="555.2" y="985.9" font-size="21.4" text-anchor="end" font-weight="bold">3000</text>
<line x1="560.7" y1="1050.5" x2="573.2" y2="1050.5" stroke="#000" stroke-width="3"/>
<text x="555.2" y="1058" font-size="21.4" text-anchor="end" font-weight="bold">2000</text>
<line x1="560.7" y1="1122.4" x2="573.2" y2="1122.4" stroke="#000" stroke-width="3"/>
<text x="555.2" y="1129.9" font-size="21.4" text-anchor="end" font-weight="bold">1000</text>
<line x1="560.7" y1="1194" x2="573.2" y2="1194" stroke="#000" stroke-width="3"/>
<text x="555.2" y="1201.5" font-size="21.4" text-anchor="end" font-weight="bold">0</text>
<line x1="560.7" y1="1194" x2="760" y2="1194" stroke="#000" stroke-width="3"/>
<line x1="610.3" y1="1194" x2="610.3" y2="1205.8" stroke="#000" stroke-width="3"/>
<line x1="667.9" y1="1194" x2="667.9" y2="1205.8" stroke="#000" stroke-width="3"/>
<line x1="725.5" y1="1194" x2="725.5" y2="1205.8" stroke="#000" stroke-width="3"/>
<text x="495.5" y="1050.5" font-size="22.9" text-anchor="middle" font-weight="bold" transform="rotate(-90 495.5 1050.5)">GFP geo. MFI (minus autoF)</text>
<text x="614.3" y="1217" font-size="22.5" text-anchor="end" font-weight="bold" transform="rotate(-45 614.3 1217)">WT<tspan font-size="15.5" dy="-9">ONF</tspan></text>
<text x="671.9" y="1217" font-size="22.5" text-anchor="end" font-weight="bold" transform="rotate(-45 671.9 1217)">VAKPS<tspan font-size="15.5" dy="-9">OnF</tspan></text>
<text x="729.5" y="1217" font-size="22.5" text-anchor="end" font-weight="bold" transform="rotate(-45 729.5 1217)">RXRi<tspan font-size="15.5" dy="-9">OnF</tspan></text>
<text x="746" y="812.9" font-size="44" font-weight="bold">e</text>
<text x="835.6" y="851.8" font-size="28.5" fill="#5a9a3a">GFP<tspan font-size="19.5" dy="-8.5">High</tspan></text>
<text x="964.9" y="851.8" font-size="28.5">GFP<tspan font-size="19.5" dy="-8.5">Neg</tspan></text>
<rect x="790.1" y="868.2" width="50.2" height="26.3" fill="#00d6e0" stroke="#8c8c8c" stroke-width="1.6"/>
<rect x="840.3" y="868.2" width="50.2" height="26.3" fill="#00d6e0" stroke="#8c8c8c" stroke-width="1.6"/>
<rect x="890.5" y="868.2" width="50.2" height="26.3" fill="#00d6e0" stroke="#8c8c8c" stroke-width="1.6"/>
<rect x="940.7" y="868.2" width="50.2" height="26.3" fill="#fa8b82" stroke="#8c8c8c" stroke-width="1.6"/>
<rect x="990.9" y="868.2" width="50.2" height="26.3" fill="#fa8b82" stroke="#8c8c8c" stroke-width="1.6"/>
<rect x="1041.1" y="868.2" width="50.2" height="26.3" fill="#fa8b82" stroke="#8c8c8c" stroke-width="1.6"/>
<rect x="790.1" y="902.3" width="50.2" height="50.2" fill="#fa8f58" stroke="#8c8c8c" stroke-width="1.6"/>
<rect x="840.3" y="902.3" width="50.2" height="50.2" fill="#fdbf7a" stroke="#8c8c8c" stroke-width="1.6"/>
<rect x="890.5" y="902.3" width="50.2" height="50.2" fill="#fdbf7a" stroke="#8c8c8c" stroke-width="1.6"/>
<rect x="940.7" y="902.3" width="50.2" height="50.2" fill="#a3c9e2" stroke="#8c8c8c" stroke-width="1.6"/>
<rect x="990.9" y="902.3" width="50.2" height="50.2" fill="#b5d5e8" stroke="#8c8c8c" stroke-width="1.6"/>
<rect x="1041.1" y="902.3" width="50.2" height="50.2" fill="#c7e0ee" stroke="#8c8c8c" stroke-width="1.6"/>
<text x="1098.1" y="935.9" font-size="24.4" font-style="italic">Anxa3</text>
<rect x="790.1" y="952.5" width="50.2" height="50.2" fill="#f9a468" stroke="#8c8c8c" stroke-width="1.6"/>
<rect x="840.3" y="952.5" width="50.2" height="50.2" fill="#fdc984" stroke="#8c8c8c" stroke-width="1.6"/>
<rect x="890.5" y="952.5" width="50.2" height="50.2" fill="#f9955b" stroke="#8c8c8c" stroke-width="1.6"/>
<rect x="940.7" y="952.5" width="50.2" height="50.2" fill="#cfe5ef" stroke="#8c8c8c" stroke-width="1.6"/>
<rect x="990.9" y="952.5" width="50.2" height="50.2" fill="#8cb9d9" stroke="#8c8c8c" stroke-width="1.6"/>
<rect x="1041.1" y="952.5" width="50.2" height="50.2" fill="#cde3ee" stroke="#8c8c8c" stroke-width="1.6"/>
<text x="1098.1" y="986.1" font-size="24.4" font-style="italic">Msln</text>
<rect x="790.1" y="1002.8" width="50.2" height="50.2" fill="#f9a468" stroke="#8c8c8c" stroke-width="1.6"/>
<rect x="840.3" y="1002.8" width="50.2" height="50.2" fill="#fcd990" stroke="#8c8c8c" stroke-width="1.6"/>
<rect x="890.5" y="1002.8" width="50.2" height="50.2" fill="#f9955b" stroke="#8c8c8c" stroke-width="1.6"/>
<rect x="940.7" y="1002.8" width="50.2" height="50.2" fill="#c1dced" stroke="#8c8c8c" stroke-width="1.6"/>
<rect x="990.9" y="1002.8" width="50.2" height="50.2" fill="#e1f2f6" stroke="#8c8c8c" stroke-width="1.6"/>
<rect x="1041.1" y="1002.8" width="50.2" height="50.2" fill="#8db9d9" stroke="#8c8c8c" stroke-width="1.6"/>
<text x="1098.1" y="1036.4" font-size="24.4" font-style="italic">Gsn</text>
<rect x="790.1" y="1053" width="50.2" height="50.2" fill="#fdeda6" stroke="#8c8c8c" stroke-width="1.6"/>
<rect x="840.3" y="1053" width="50.2" height="50.2" fill="#f9a468" stroke="#8c8c8c" stroke-width="1.6"/>
<rect x="890.5" y="1053" width="50.2" height="50.2" fill="#fbb274" stroke="#8c8c8c" stroke-width="1.6"/>
<rect x="940.7" y="1053" width="50.2" height="50.2" fill="#fef6b3" stroke="#8c8c8c" stroke-width="1.6"/>
<rect x="990.9" y="1053" width="50.2" height="50.2" fill="#4775b4" stroke="#8c8c8c" stroke-width="1.6"/>
<rect x="1041.1" y="1053" width="50.2" height="50.2" fill="#e5f3ef" stroke="#8c8c8c" stroke-width="1.6"/>
<text x="1098.1" y="1086.6" font-size="24.4" font-style="italic">Ctsh</text>
<rect x="790.1" y="1103.2" width="50.2" height="50.2" fill="#fbb474" stroke="#8c8c8c" stroke-width="1.6"/>
<rect x="840.3" y="1103.2" width="50.2" height="50.2" fill="#fcd38b" stroke="#8c8c8c" stroke-width="1.6"/>
<rect x="890.5" y="1103.2" width="50.2" height="50.2" fill="#f98b56" stroke="#8c8c8c" stroke-width="1.6"/>
<rect x="940.7" y="1103.2" width="50.2" height="50.2" fill="#c7e0ee" stroke="#8c8c8c" stroke-width="1.6"/>
<rect x="990.9" y="1103.2" width="50.2" height="50.2" fill="#c4e0ec" stroke="#8c8c8c" stroke-width="1.6"/>
<rect x="1041.1" y="1103.2" width="50.2" height="50.2" fill="#94c0dd" stroke="#8c8c8c" stroke-width="1.6"/>
<text x="1098.1" y="1136.8" font-size="24.4" font-style="italic">Cxcl16</text>
<rect x="790.1" y="1153.5" width="50.2" height="50.2" fill="#fcc07c" stroke="#8c8c8c" stroke-width="1.6"/>
<rect x="840.3" y="1153.5" width="50.2" height="50.2" fill="#f9a468" stroke="#8c8c8c" stroke-width="1.6"/>
<rect x="890.5" y="1153.5" width="50.2" height="50.2" fill="#fde59b" stroke="#8c8c8c" stroke-width="1.6"/>
<rect x="940.7" y="1153.5" width="50.2" height="50.2" fill="#e8f4e5" stroke="#8c8c8c" stroke-width="1.6"/>
<rect x="990.9" y="1153.5" width="50.2" height="50.2" fill="#4775b4" stroke="#8c8c8c" stroke-width="1.6"/>
<rect x="1041.1" y="1153.5" width="50.2" height="50.2" fill="#fefac0" stroke="#8c8c8c" stroke-width="1.6"/>
<text x="1098.1" y="1187.1" font-size="24.4" font-style="italic">Ly6f</text>
<defs><linearGradient id="cb" x1="0" y1="0" x2="0" y2="1"><stop offset="0" stop-color="#d73027"/><stop offset="0.17" stop-color="#fc8d59"/><stop offset="0.33" stop-color="#fee090"/><stop offset="0.5" stop-color="#ffffbf"/><stop offset="0.67" stop-color="#e0f3f8"/><stop offset="0.83" stop-color="#91bfdb"/><stop offset="1" stop-color="#4575b4"/></linearGradient></defs>
<rect x="1181.6" y="902.6" width="17.8" height="290.9" fill="url(#cb)"/>
<text x="1203.4" y="933.6" font-size="19.9">1.5</text>
<text x="1208" y="975" font-size="19.9">1</text>
<text x="1208" y="1016.5" font-size="19.9">0.5</text>
<text x="1208" y="1056" font-size="19.9">0</text>
<text x="1203.4" y="1098" font-size="19.9">-0.5</text>
<text x="1203.4" y="1139.5" font-size="19.9">-1</text>
<text x="1203.4" y="1182" font-size="19.9">-1.5</text>
<text x="1269.4" y="708.4" font-size="43" font-weight="bold">f</text>
<text x="1303.9" y="726.5" font-size="32.6" fill="#6b9daa">OnF Reporter (OnF sLCR)</text>
<text x="1435.5" y="821.9" font-size="32.4" fill="#e8823a">Stem Reporter</text>
<text x="1435.5" y="861.7" font-size="32.4" fill="#e8823a">(STAR minigene)</text>
<line x1="1700" y1="721.3" x2="2001.7" y2="721.3" stroke="#333" stroke-width="1.5"/>
<rect x="1703.9" y="711" width="19.1" height="20.6" rx="4" fill="#5a8f9c" stroke="#1a2a30" stroke-width="1.5"/>
<rect x="1724.5" y="711" width="18.1" height="20.6" rx="4" fill="#5a8f9c" stroke="#1a2a30" stroke-width="1.5"/>
<rect x="1744.2" y="711" width="18" height="20.6" rx="4" fill="#5a8f9c" stroke="#1a2a30" stroke-width="1.5"/>
<rect x="1764.8" y="711" width="19.1" height="20.6" rx="4" fill="#5a8f9c" stroke="#1a2a30" stroke-width="1.5"/>
<path d="M1791 731V708Q1791 703 1796 703H1802" fill="none" stroke="#7fa8b4" stroke-width="3"/>
<path d="M1808 703 L1801 698 L1801 708Z" fill="#7fa8b4"/>
<rect x="1799.4" y="712" width="69.6" height="19.6" rx="4" fill="#5e9fb2" stroke="#1a2a30" stroke-width="1.5"/>
<text x="1834" y="727.5" font-size="14" text-anchor="middle" font-weight="bold" fill="#1a2a30">eGFP</text>
<rect x="1876.8" y="712" width="34.6" height="19.6" rx="3" fill="#d9d9d9" stroke="#333" stroke-width="1.5"/>
<text x="1894" y="727.5" font-size="14" text-anchor="middle" font-weight="bold" fill="#222">PGK</text>
<path d="M1916 731V705Q1916 699 1922 699H1927" fill="none" stroke="#8c8c8c" stroke-width="3.2"/>
<path d="M1933.5 699 L1926 694 L1926 704Z" fill="#8c8c8c"/>
<rect x="1924.8" y="712" width="70.7" height="19.6" rx="4" fill="#e2f0d9" stroke="#333" stroke-width="1.5"/>
<text x="1960" y="727.5" font-size="14" text-anchor="middle" font-weight="bold" fill="#111">NEO</text>
<text x="1721" y="751.2" font-size="14" font-weight="bold">OnF</text>
<line x1="1705" y1="742" x2="1715.8" y2="819.4" stroke="#000" stroke-width="1.6" stroke-dasharray="5 4"/>
<line x1="1865.4" y1="736.8" x2="1859.8" y2="816.8" stroke="#000" stroke-width="1.6" stroke-dasharray="5 4"/>
<line x1="1925.8" y1="736.8" x2="1941.3" y2="816.8" stroke="#000" stroke-width="1.6" stroke-dasharray="5 4"/>
<line x1="1993" y1="739.4" x2="2014.6" y2="816.8" stroke="#000" stroke-width="1.6" stroke-dasharray="5 4"/>
<line x1="1710" y1="841" x2="2031.6" y2="841" stroke="#333" stroke-width="1.5"/>
<rect x="1713.2" y="828.7" width="22.8" height="24.2" rx="4" fill="#c94a0c" stroke="#2a1000" stroke-width="1.5"/>
<rect x="1739" y="828.7" width="21.7" height="24.2" rx="4" fill="#c94a0c" stroke="#2a1000" stroke-width="1.5"/>
<path d="M1769 853V826Q1769 819 1776 819H1781" fill="none" stroke="#c94a0c" stroke-width="4"/>
<path d="M1788 819 L1780 813 L1780 825Z" fill="#c94a0c"/>
<rect x="1778.7" y="829.7" width="87.8" height="23.2" rx="4" fill="#c94a0c" stroke="#2a1000" stroke-width="1.5"/>
<text x="1822.6" y="847" font-size="16" text-anchor="middle" font-weight="bold" fill="#1a0a00">mCherry</text>
<rect x="1875.3" y="829.7" width="42.7" height="23.2" rx="3" fill="#d9d9d9" stroke="#333" stroke-width="1.5"/>
<text x="1896.6" y="847" font-size="16" text-anchor="middle" font-weight="bold" fill="#222">PGK</text>
<path d="M1924 852V826Q1924 819 1931 819H1935" fill="none" stroke="#c5d7ec" stroke-width="3.5"/>
<path d="M1942.4 819 L1934 813 L1934 825Z" fill="#c5d7ec"/>
<rect x="1936.2" y="829.7" width="87.8" height="23.2" rx="4" fill="#dce8f5" stroke="#333" stroke-width="1.5"/>
<text x="1980" y="847" font-size="16" text-anchor="middle" font-weight="bold" fill="#111">Hyrgo</text>
<text x="1716.8" y="876.1" font-size="16" font-weight="bold">STAR</text>
<text x="1267.7" y="896.2" font-size="44" font-weight="bold">g</text>
<defs><filter id="tex" x="0" y="0" width="100%" height="100%"><feTurbulence type="fractalNoise" baseFrequency="0.55" numOctaves="2" seed="3"/><feColorMatrix type="matrix" values="0 0 0 0 0  0 0 0 0 0  0 0 0 0 0  0 0 0 -2.2 1.25"/></filter><filter id="bl"><feGaussianBlur stdDeviation="1.1"/></filter><filter id="bl4"><feGaussianBlur stdDeviation="4"/></filter>
<clipPath id="cg00"><rect x="0" y="0" width="228.5" height="167.4"/></clipPath>
<clipPath id="cg01"><rect x="0" y="0" width="228.5" height="168"/></clipPath>
<clipPath id="cg10"><rect x="0" y="0" width="230" height="167.4"/></clipPath>
<clipPath id="cg11"><rect x="0" y="0" width="230" height="168"/></clipPath>
<clipPath id="cg20"><rect x="0" y="0" width="230.8" height="167.4"/></clipPath>
<clipPath id="cg21"><rect x="0" y="0" width="230.8" height="168"/></clipPath>
</defs>
<g transform="translate(1338.5 890.6)" clip-path="url(#cg00)"><rect x="0" y="0" width="232" height="170" fill="#8b8b8b"/><g filter="url(#bl4)"><ellipse cx="58" cy="78" rx="24" ry="14" fill="#999"/><ellipse cx="178" cy="40" rx="22" ry="20" fill="#7f7f7f"/><ellipse cx="178" cy="40" rx="12" ry="11" fill="#8c8c8c"/><ellipse cx="2" cy="88" rx="8" ry="10" fill="#555"/><ellipse cx="45" cy="125" rx="5" ry="5" fill="#444"/><ellipse cx="45" cy="125" rx="2" ry="2" fill="#bbb"/></g><clipPath id="c00"><path d="M76 62 C77 36 95 24 112 25 C134 26 150 42 153 68 C155 92 140 112 112 112 C86 112 75 92 76 62Z"/></clipPath><path d="M76 62 C77 36 95 24 112 25 C134 26 150 42 153 68 C155 92 140 112 112 112 C86 112 75 92 76 62Z" fill="#7c7c7c"/><rect x="0" y="0" width="232" height="170" filter="url(#tex)" clip-path="url(#c00)" opacity="0.45"/><path d="M76 62 C77 36 95 24 112 25 C134 26 150 42 153 68 C155 92 140 112 112 112 C86 112 75 92 76 62Z" fill="none" stroke="#222" stroke-width="1.5"/><path d="M76 62 C77 36 95 24 112 25 C134 26 150 42 153 68 C155 92 140 112 112 112 C86 112 75 92 76 62Z" fill="none" stroke="#b5b5b5" stroke-width="0.7" transform="translate(0.8 0.8)" opacity="0.6"/><clipPath id="c01"><path d="M2 62 A16 15 0 1 0 34 62 A16 15 0 1 0 2 62Z"/></clipPath><path d="M2 62 A16 15 0 1 0 34 62 A16 15 0 1 0 2 62Z" fill="#7c7c7c"/><rect x="0" y="0" width="232" height="170" filter="url(#tex)" clip-path="url(#c01)" opacity="0.45"/><path d="M2 62 A16 15 0 1 0 34 62 A16 15 0 1 0 2 62Z" fill="none" stroke="#222" stroke-width="1.5"/><path d="M2 62 A16 15 0 1 0 34 62 A16 15 0 1 0 2 62Z" fill="none" stroke="#b5b5b5" stroke-width="0.7" transform="translate(0.8 0.8)" opacity="0.6"/><clipPath id="c02"><path d="M126 127 A8 8 0 1 0 142 127 A8 8 0 1 0 126 127Z"/></clipPath><path d="M126 127 A8 8 0 1 0 142 127 A8 8 0 1 0 126 127Z" fill="#7c7c7c"/><rect x="0" y="0" width="232" height="170" filter="url(#tex)" clip-path="url(#c02)" opacity="0.45"/><path d="M126 127 A8 8 0 1 0 142 127 A8 8 0 1 0 126 127Z" fill="none" stroke="#222" stroke-width="1.5"/><path d="M126 127 A8 8 0 1 0 142 127 A8 8 0 1 0 126 127Z" fill="none" stroke="#b5b5b5" stroke-width="0.7" transform="translate(0.8 0.8)" opacity="0.6"/><clipPath id="c03"><path d="M58 168 C60 150 80 146 100 148 C120 146 140 148 160 150 C172 152 180 160 180 168Z"/></clipPath><path d="M58 168 C60 150 80 146 100 148 C120 146 140 148 160 150 C172 152 180 160 180 168Z" fill="#7c7c7c"/><rect x="0" y="0" width="232" height="170" filter="url(#tex)" clip-path="url(#c03)" opacity="0.45"/><path d="M58 168 C60 150 80 146 100 148 C120 146 140 148 160 150 C172 152 180 160 180 168Z" fill="none" stroke="#222" stroke-width="1.5"/><path d="M58 168 C60 150 80 146 100 148 C120 146 140 148 160 150 C172 152 180 160 180 168Z" fill="none" stroke="#b5b5b5" stroke-width="0.7" transform="translate(0.8 0.8)" opacity="0.6"/><clipPath id="c04"><path d="M232 36 C216 44 208 70 210 95 C212 118 220 128 232 130Z"/></clipPath><path d="M232 36 C216 44 208 70 210 95 C212 118 220 128 232 130Z" fill="#7c7c7c"/><rect x="0" y="0" width="232" height="170" filter="url(#tex)" clip-path="url(#c04)" opacity="0.45"/><path d="M232 36 C216 44 208 70 210 95 C212 118 220 128 232 130Z" fill="none" stroke="#222" stroke-width="1.5"/><path d="M232 36 C216 44 208 70 210 95 C212 118 220 128 232 130Z" fill="none" stroke="#b5b5b5" stroke-width="0.7" transform="translate(0.8 0.8)" opacity="0.6"/><clipPath id="c05"><path d="M0 140 C8 142 10 156 8 168 L0 168Z"/></clipPath><path d="M0 140 C8 142 10 156 8 168 L0 168Z" fill="#7c7c7c"/><rect x="0" y="0" width="232" height="170" filter="url(#tex)" clip-path="url(#c05)" opacity="0.45"/><path d="M0 140 C8 142 10 156 8 168 L0 168Z" fill="none" stroke="#222" stroke-width="1.5"/><path d="M0 140 C8 142 10 156 8 168 L0 168Z" fill="none" stroke="#b5b5b5" stroke-width="0.7" transform="translate(0.8 0.8)" opacity="0.6"/><clipPath id="c06"><path d="M111 6 A14 8 0 1 0 139 6 A14 8 0 1 0 111 6Z"/></clipPath><path d="M111 6 A14 8 0 1 0 139 6 A14 8 0 1 0 111 6Z" fill="#7c7c7c"/><rect x="0" y="0" width="232" height="170" filter="url(#tex)" clip-path="url(#c06)" opacity="0.45"/><path d="M111 6 A14 8 0 1 0 139 6 A14 8 0 1 0 111 6Z" fill="none" stroke="#222" stroke-width="1.5"/><path d="M111 6 A14 8 0 1 0 139 6 A14 8 0 1 0 111 6Z" fill="none" stroke="#b5b5b5" stroke-width="0.7" transform="translate(0.8 0.8)" opacity="0.6"/><circle cx="150" cy="52" r="3.4" fill="#f4f4f4" stroke="#333" stroke-width="1"/><path d="M68.4 82.8h0M154.8 45.8h0M65.7 65.5h0M132.7 113.1h0M77.2 26.8h0M150.2 93.6h0M159.7 98.8h0M99.4 26.7h0M173.1 61h0M86.2 25.5h0M137 104.8h0M72.8 60.2h0M129.7 110h0M159.1 77.1h0M62.5 89.2h0M64.8 61.7h0M63.9 68.1h0M72.3 80.1h0M174.6 67h0M141.5 22.4h0M96.9 109.3h0M103.8 110.8h0M118.6 21h0M139.5 29.4h0M167.5 52.8h0M156.6 68.2h0M152.9 42.1h0M158.5 62.2h0M158.2 91h0M121.7 23.3h0M151.5 92.1h0M165.4 55.6h0M145.7 98.5h0M147.7 94.1h0M126.3 25.3h0M71.5 50.5h0M132.9 119h0M147.8 106.3h0M147.6 99.8h0M124 112.2h0M167.2 57.7h0M95.1 124.2h0M124.9 113.7h0M144.3 26.6h0M162.8 105.5h0M123.9 112.1h0M120.2 22.3h0M102 110.3h0M154.7 95.2h0M116.1 119.2h0M82.4 102.7h0M158.7 55.6h0M64 41.4h0M131.3 108.6h0M159.7 36.8h0M114.1 112.7h0M110.1 6.4h0M133.4 126.6h0M150 33.4h0M77 88.9h0M171.7 83.1h0M117.7 121.8h0M111.6 125.5h0M78.3 42h0M137.3 116.5h0M152.9 86.9h0M62.2 46.7h0M81.4 38h0M151 45.7h0M156.9 72.7h0M74.5 82.7h0M133.8 109.8h0M76.1 48.6h0M77.2 113.6h0M163.6 61.6h0M96.6 20.6h0M140.6 102h0M171.2 74.8h0M96 8.4h0M163 74.9h0M62.4 74.1h0M88.5 126.1h0M156.3 90.8h0M109.3 8h0M109.8 14.3h0M129.5 9.5h0M83.7 110.8h0M159.6 33.5h0M67.4 96.1h0M145.4 29.7h0M82.5 34.8h0M71.6 42.5h0M157.4 93.2h0M170.5 65.5h0M107.9 21.4h0M109.5 17.5h0M62.7 89.2h0M159.4 95.8h0M161.8 77.5h0M71.5 73.4h0M99.2 21.6h0M70.4 27.8h0M112.5 112h0M98.1 118.5h0M126.4 110.6h0M155.5 38.6h0M60.8 89.4h0M90.7 114.8h0M128.4 113.2h0M133.9 11h0M146.6 35.9h0M76.1 45.1h0M144.5 104.9h0M142.9 18.1h0M99.8 7.8h0M106.9 111.9h0M72.8 81.9h0M124.1 114.2h0M81.3 33.3h0M92 121.3h0M159.4 62.6h0M151.3 87.9h0M143.2 36.4h0M101.7 19.2h0M94.5 120.7h0M155.8 73.3h0M73.9 80.3h0M134.6 28.4h0M140.5 102.1h0M82.6 33.2h0M79.8 29.7h0M134.9 9.6h0M97 26.9h0M72.1 74.9h0M159.9 71.3h0M104.5 24.5h0M107.8 113.9h0M98.7 21.3h0M74.4 31.5h0M71.9 103.1h0M148.9 43.5h0M161.1 45.6h0M145.3 103.1h0M73.5 25h0M79.7 103.3h0M153.1 29h0M157.1 51.4h0M89.2 31.5h0M104.4 11.5h0M81.5 25.8h0M127.1 126.6h0M173.5 60.3h0M61.8 55h0M89.4 122.7h0M141.2 31.4h0M153.5 91.8h0M63.6 50.7h0M72.3 71.5h0M129.2 26.9h0M127.1 25.6h0M77.1 23.6h0M32.3 4.5h0M118.8 21.7h0M193.2 20.7h0M217.5 14.8h0M218.3 2.6h0M50.9 15.8h0M66.7 21.9h0M146.9 15.7h0M194 16.8h0M71.7 11.4h0M194.4 27h0M47.9 25.5h0M222.7 15.7h0M131.8 6h0M123.3 15.1h0M139.2 0.8h0M223 15.5h0M92.1 24h0M129.5 14.7h0M158.9 2h0M123.9 12.4h0M220.1 27.7h0M61.9 14.2h0M29.2 13h0M187.6 27h0M109.6 9.5h0M44 18.5h0M212.8 3.9h0M179.2 0.7h0M44.6 6.8h0M158 9.7h0M81.7 18.6h0M24.1 21.9h0M28.2 15.3h0M57.6 5.9h0M122 13.1h0M86.4 12.4h0M121.7 4.8h0M47 18.9h0M146.8 15.9h0M195.8 18.4h0M197.1 7h0M170.4 24.3h0M207.6 9.5h0M72.4 27.7h0M50.2 30h0M204.1 4h0M55 21.8h0M59.7 2.9h0M191.4 12.6h0M181.7 3.8h0M92.6 20.6h0M4.1 6h0M156.9 27.3h0M222.7 3.5h0M116.3 22.7h0M115.6 20.6h0M43.5 2.1h0M24.4 1.1h0M214.3 80.9h0M214.9 58.8h0M201.5 62.2h0M224.4 109.4h0M227.4 55.7h0M197.2 107.1h0M211.2 95.9h0M206.4 78h0M213 75.8h0M216 50.8h0M219.5 100.7h0M201.3 77.2h0M220.9 74.3h0M201.8 59.9h0M212.9 50.9h0M226.3 98.1h0M219.7 101.6h0M217 74.3h0M216 80.3h0M229.4 98.3h0M204 104.7h0M221.1 96.7h0M223.5 74.3h0M226.4 102.8h0M219.3 96h0M221.8 74.3h0M220.3 54.2h0M207 78.1h0M195.4 71.3h0M217.4 87.4h0M203.1 106.7h0M218.3 70.3h0M218.1 84.2h0M213.7 73.4h0M230 88.5h0M219.5 95.7h0M229.3 51.4h0M216.5 94.3h0M204 74.1h0M196.8 61.7h0" stroke="#3c3c3c" stroke-width="1.7" stroke-linecap="round" opacity="0.8"/><g filter="url(#bl)" opacity="1"><path d="M96 26 C128 24 150 45 153 70 C154 84 151 96 145 104" fill="none" stroke="#44e844" stroke-width="5.5" stroke-linecap="round"/><path d="M78 72 C79 88 84 101 92 108" fill="none" stroke="#44e844" stroke-width="3.5" opacity="0.8"/><path d="M150 150 C162 148 172 156 176 168 L150 168Z" fill="#44e844"/><path d="M0 146 C5 148 8 158 7 168 L0 168Z" fill="#44e844"/><path d="M0 15 C9 10 18 5 24 0" fill="none" stroke="#44e844" stroke-width="3" opacity="0.9"/><path d="M232 40 C224 48 220 58 219 66" fill="none" stroke="#44e844" stroke-width="2" opacity="0.7"/></g></g>
<g transform="translate(1338.5 1060)" clip-path="url(#cg01)"><rect x="0" y="0" width="232" height="170" fill="#000"/><g filter="url(#bl)" opacity="0.85"><path d="M96 26 C128 24 150 45 153 70 C154 84 151 96 145 104" fill="none" stroke="#38c838" stroke-width="5.5" stroke-linecap="round"/><path d="M78 72 C79 88 84 101 92 108" fill="none" stroke="#38c838" stroke-width="3.5" opacity="0.8"/><path d="M150 150 C162 148 172 156 176 168 L150 168Z" fill="#38c838"/><path d="M0 146 C5 148 8 158 7 168 L0 168Z" fill="#38c838"/><path d="M0 15 C9 10 18 5 24 0" fill="none" stroke="#38c838" stroke-width="3" opacity="0.9"/><path d="M232 40 C224 48 220 58 219 66" fill="none" stroke="#38c838" stroke-width="2" opacity="0.7"/></g></g>
<g transform="translate(1571 890.6)" clip-path="url(#cg10)"><rect x="0" y="0" width="232" height="170" fill="#8b8b8b"/><g filter="url(#bl4)"><ellipse cx="58" cy="78" rx="24" ry="14" fill="#999"/><ellipse cx="178" cy="40" rx="22" ry="20" fill="#7f7f7f"/><ellipse cx="178" cy="40" rx="12" ry="11" fill="#8c8c8c"/><ellipse cx="2" cy="88" rx="8" ry="10" fill="#555"/><ellipse cx="45" cy="125" rx="5" ry="5" fill="#444"/><ellipse cx="45" cy="125" rx="2" ry="2" fill="#bbb"/></g><clipPath id="c10"><path d="M76 62 C77 36 95 24 112 25 C134 26 150 42 153 68 C155 92 140 112 112 112 C86 112 75 92 76 62Z"/></clipPath><path d="M76 62 C77 36 95 24 112 25 C134 26 150 42 153 68 C155 92 140 112 112 112 C86 112 75 92 76 62Z" fill="#7c7c7c"/><rect x="0" y="0" width="232" height="170" filter="url(#tex)" clip-path="url(#c10)" opacity="0.45"/><path d="M76 62 C77 36 95 24 112 25 C134 26 150 42 153 68 C155 92 140 112 112 112 C86 112 75 92 76 62Z" fill="none" stroke="#222" stroke-width="1.5"/><path d="M76 62 C77 36 95 24 112 25 C134 26 150 42 153 68 C155 92 140 112 112 112 C86 112 75 92 76 62Z" fill="none" stroke="#b5b5b5" stroke-width="0.7" transform="translate(0.8 0.8)" opacity="0.6"/><clipPath id="c11"><path d="M2 62 A16 15 0 1 0 34 62 A16 15 0 1 0 2 62Z"/></clipPath><path d="M2 62 A16 15 0 1 0 34 62 A16 15 0 1 0 2 62Z" fill="#7c7c7c"/><rect x="0" y="0" width="232" height="170" filter="url(#tex)" clip-path="url(#c11)" opacity="0.45"/><path d="M2 62 A16 15 0 1 0 34 62 A16 15 0 1 0 2 62Z" fill="none" stroke="#222" stroke-width="1.5"/><path d="M2 62 A16 15 0 1 0 34 62 A16 15 0 1 0 2 62Z" fill="none" stroke="#b5b5b5" stroke-width="0.7" transform="translate(0.8 0.8)" opacity="0.6"/><clipPath id="c12"><path d="M126 127 A8 8 0 1 0 142 127 A8 8 0 1 0 126 127Z"/></clipPath><path d="M126 127 A8 8 0 1 0 142 127 A8 8 0 1 0 126 127Z" fill="#7c7c7c"/><rect x="0" y="0" width="232" height="170" filter="url(#tex)" clip-path="url(#c12)" opacity="0.45"/><path d="M126 127 A8 8 0 1 0 142 127 A8 8 0 1 0 126 127Z" fill="none" stroke="#222" stroke-width="1.5"/><path d="M126 127 A8 8 0 1 0 142 127 A8 8 0 1 0 126 127Z" fill="none" stroke="#b5b5b5" stroke-width="0.7" transform="translate(0.8 0.8)" opacity="0.6"/><clipPath id="c13"><path d="M58 168 C60 150 80 146 100 148 C120 146 140 148 160 150 C172 152 180 160 180 168Z"/></clipPath><path d="M58 168 C60 150 80 146 100 148 C120 146 140 148 160 150 C172 152 180 160 180 168Z" fill="#7c7c7c"/><rect x="0" y="0" width="232" height="170" filter="url(#tex)" clip-path="url(#c13)" opacity="0.45"/><path d="M58 168 C60 150 80 146 100 148 C120 146 140 148 160 150 C172 152 180 160 180 168Z" fill="none" stroke="#222" stroke-width="1.5"/><path d="M58 168 C60 150 80 146 100 148 C120 146 140 148 160 150 C172 152 180 160 180 168Z" fill="none" stroke="#b5b5b5" stroke-width="0.7" transform="translate(0.8 0.8)" opacity="0.6"/><clipPath id="c14"><path d="M232 36 C216 44 208 70 210 95 C212 118 220 128 232 130Z"/></clipPath><path d="M232 36 C216 44 208 70 210 95 C212 118 220 128 232 130Z" fill="#7c7c7c"/><rect x="0" y="0" width="232" height="170" filter="url(#tex)" clip-path="url(#c14)" opacity="0.45"/><path d="M232 36 C216 44 208 70 210 95 C212 118 220 128 232 130Z" fill="none" stroke="#222" stroke-width="1.5"/><path d="M232 36 C216 44 208 70 210 95 C212 118 220 128 232 130Z" fill="none" stroke="#b5b5b5" stroke-width="0.7" transform="translate(0.8 0.8)" opacity="0.6"/><clipPath id="c15"><path d="M0 140 C8 142 10 156 8 168 L0 168Z"/></clipPath><path d="M0 140 C8 142 10 156 8 168 L0 168Z" fill="#7c7c7c"/><rect x="0" y="0" width="232" height="170" filter="url(#tex)" clip-path="url(#c15)" opacity="0.45"/><path d="M0 140 C8 142 10 156 8 168 L0 168Z" fill="none" stroke="#222" stroke-width="1.5"/><path d="M0 140 C8 142 10 156 8 168 L0 168Z" fill="none" stroke="#b5b5b5" stroke-width="0.7" transform="translate(0.8 0.8)" opacity="0.6"/><clipPath id="c16"><path d="M111 6 A14 8 0 1 0 139 6 A14 8 0 1 0 111 6Z"/></clipPath><path d="M111 6 A14 8 0 1 0 139 6 A14 8 0 1 0 111 6Z" fill="#7c7c7c"/><rect x="0" y="0" width="232" height="170" filter="url(#tex)" clip-path="url(#c16)" opacity="0.45"/><path d="M111 6 A14 8 0 1 0 139 6 A14 8 0 1 0 111 6Z" fill="none" stroke="#222" stroke-width="1.5"/><path d="M111 6 A14 8 0 1 0 139 6 A14 8 0 1 0 111 6Z" fill="none" stroke="#b5b5b5" stroke-width="0.7" transform="translate(0.8 0.8)" opacity="0.6"/><circle cx="150" cy="52" r="3.4" fill="#f4f4f4" stroke="#333" stroke-width="1"/><path d="M68.4 82.8h0M154.8 45.8h0M65.7 65.5h0M132.7 113.1h0M77.2 26.8h0M150.2 93.6h0M159.7 98.8h0M99.4 26.7h0M173.1 61h0M86.2 25.5h0M137 104.8h0M72.8 60.2h0M129.7 110h0M159.1 77.1h0M62.5 89.2h0M64.8 61.7h0M63.9 68.1h0M72.3 80.1h0M174.6 67h0M141.5 22.4h0M96.9 109.3h0M103.8 110.8h0M118.6 21h0M139.5 29.4h0M167.5 52.8h0M156.6 68.2h0M152.9 42.1h0M158.5 62.2h0M158.2 91h0M121.7 23.3h0M151.5 92.1h0M165.4 55.6h0M145.7 98.5h0M147.7 94.1h0M126.3 25.3h0M71.5 50.5h0M132.9 119h0M147.8 106.3h0M147.6 99.8h0M124 112.2h0M167.2 57.7h0M95.1 124.2h0M124.9 113.7h0M144.3 26.6h0M162.8 105.5h0M123.9 112.1h0M120.2 22.3h0M102 110.3h0M154.7 95.2h0M116.1 119.2h0M82.4 102.7h0M158.7 55.6h0M64 41.4h0M131.3 108.6h0M159.7 36.8h0M114.1 112.7h0M110.1 6.4h0M133.4 126.6h0M150 33.4h0M77 88.9h0M171.7 83.1h0M117.7 121.8h0M111.6 125.5h0M78.3 42h0M137.3 116.5h0M152.9 86.9h0M62.2 46.7h0M81.4 38h0M151 45.7h0M156.9 72.7h0M74.5 82.7h0M133.8 109.8h0M76.1 48.6h0M77.2 113.6h0M163.6 61.6h0M96.6 20.6h0M140.6 102h0M171.2 74.8h0M96 8.4h0M163 74.9h0M62.4 74.1h0M88.5 126.1h0M156.3 90.8h0M109.3 8h0M109.8 14.3h0M129.5 9.5h0M83.7 110.8h0M159.6 33.5h0M67.4 96.1h0M145.4 29.7h0M82.5 34.8h0M71.6 42.5h0M157.4 93.2h0M170.5 65.5h0M107.9 21.4h0M109.5 17.5h0M62.7 89.2h0M159.4 95.8h0M161.8 77.5h0M71.5 73.4h0M99.2 21.6h0M70.4 27.8h0M112.5 112h0M98.1 118.5h0M126.4 110.6h0M155.5 38.6h0M60.8 89.4h0M90.7 114.8h0M128.4 113.2h0M133.9 11h0M146.6 35.9h0M76.1 45.1h0M144.5 104.9h0M142.9 18.1h0M99.8 7.8h0M106.9 111.9h0M72.8 81.9h0M124.1 114.2h0M81.3 33.3h0M92 121.3h0M159.4 62.6h0M151.3 87.9h0M143.2 36.4h0M101.7 19.2h0M94.5 120.7h0M155.8 73.3h0M73.9 80.3h0M134.6 28.4h0M140.5 102.1h0M82.6 33.2h0M79.8 29.7h0M134.9 9.6h0M97 26.9h0M72.1 74.9h0M159.9 71.3h0M104.5 24.5h0M107.8 113.9h0M98.7 21.3h0M74.4 31.5h0M71.9 103.1h0M148.9 43.5h0M161.1 45.6h0M145.3 103.1h0M73.5 25h0M79.7 103.3h0M153.1 29h0M157.1 51.4h0M89.2 31.5h0M104.4 11.5h0M81.5 25.8h0M127.1 126.6h0M173.5 60.3h0M61.8 55h0M89.4 122.7h0M141.2 31.4h0M153.5 91.8h0M63.6 50.7h0M72.3 71.5h0M129.2 26.9h0M127.1 25.6h0M77.1 23.6h0M32.3 4.5h0M118.8 21.7h0M193.2 20.7h0M217.5 14.8h0M218.3 2.6h0M50.9 15.8h0M66.7 21.9h0M146.9 15.7h0M194 16.8h0M71.7 11.4h0M194.4 27h0M47.9 25.5h0M222.7 15.7h0M131.8 6h0M123.3 15.1h0M139.2 0.8h0M223 15.5h0M92.1 24h0M129.5 14.7h0M158.9 2h0M123.9 12.4h0M220.1 27.7h0M61.9 14.2h0M29.2 13h0M187.6 27h0M109.6 9.5h0M44 18.5h0M212.8 3.9h0M179.2 0.7h0M44.6 6.8h0M158 9.7h0M81.7 18.6h0M24.1 21.9h0M28.2 15.3h0M57.6 5.9h0M122 13.1h0M86.4 12.4h0M121.7 4.8h0M47 18.9h0M146.8 15.9h0M195.8 18.4h0M197.1 7h0M170.4 24.3h0M207.6 9.5h0M72.4 27.7h0M50.2 30h0M204.1 4h0M55 21.8h0M59.7 2.9h0M191.4 12.6h0M181.7 3.8h0M92.6 20.6h0M4.1 6h0M156.9 27.3h0M222.7 3.5h0M116.3 22.7h0M115.6 20.6h0M43.5 2.1h0M24.4 1.1h0M214.3 80.9h0M214.9 58.8h0M201.5 62.2h0M224.4 109.4h0M227.4 55.7h0M197.2 107.1h0M211.2 95.9h0M206.4 78h0M213 75.8h0M216 50.8h0M219.5 100.7h0M201.3 77.2h0M220.9 74.3h0M201.8 59.9h0M212.9 50.9h0M226.3 98.1h0M219.7 101.6h0M217 74.3h0M216 80.3h0M229.4 98.3h0M204 104.7h0M221.1 96.7h0M223.5 74.3h0M226.4 102.8h0M219.3 96h0M221.8 74.3h0M220.3 54.2h0M207 78.1h0M195.4 71.3h0M217.4 87.4h0M203.1 106.7h0M218.3 70.3h0M218.1 84.2h0M213.7 73.4h0M230 88.5h0M219.5 95.7h0M229.3 51.4h0M216.5 94.3h0M204 74.1h0M196.8 61.7h0" stroke="#3c3c3c" stroke-width="1.7" stroke-linecap="round" opacity="0.8"/><path d="M76 62 C77 36 95 24 112 25 C134 26 150 42 153 68 C155 92 140 112 112 112 C86 112 75 92 76 62Z" fill="#d02020" opacity="0.28"/><g filter="url(#bl)"><path d="M76 62 C77 36 95 24 112 25 C134 26 150 42 153 68 C155 92 140 112 112 112 C86 112 75 92 76 62Z" fill="none" stroke="#f02020" stroke-width="3"/><ellipse cx="112" cy="70" rx="20" ry="18" fill="#f03030" opacity="0.45"/><path d="M3 62 A15 14 0 1 0 33 62 A15 14 0 1 0 3 62Z" fill="#d02020" fill-opacity="0.25" stroke="#e82020" stroke-width="2.5"/><circle cx="134" cy="127" r="7.5" fill="#f03a3a"/><circle cx="125" cy="4" r="7" fill="#e02020"/><path d="M58 168 C60 150 80 146 100 148 C120 146 140 148 160 150 C172 152 180 160 180 168Z" fill="#d02020" fill-opacity="0.3" stroke="#e82020" stroke-width="2.5"/><path d="M232 36 C216 44 208 70 210 95 C212 118 220 128 232 130Z" fill="#c02020" fill-opacity="0.3" stroke="#e02020" stroke-width="2.5"/><path d="M0 140 C8 142 10 156 8 168 L0 168Z" fill="#d02020" fill-opacity="0.6"/></g></g>
<g transform="translate(1571 1060)" clip-path="url(#cg11)"><rect x="0" y="0" width="232" height="170" fill="#000"/><g filter="url(#bl)"><path d="M76 62 C77 36 95 24 112 25 C134 26 150 42 153 68 C155 92 140 112 112 112 C86 112 75 92 76 62Z" fill="#360c04" stroke="#7a2008" stroke-width="2.2"/><ellipse cx="112" cy="74" rx="18" ry="16" fill="#561406" opacity="0.8"/><path d="M4 62 A14 13 0 1 0 32 62 A14 13 0 1 0 4 62Z" fill="#360c04" stroke="#7a2008" stroke-width="2.2"/><circle cx="134" cy="127" r="7" fill="#d8400e"/><circle cx="125" cy="3" r="6" fill="#7a2008"/><path d="M58 168 C60 150 80 146 100 148 C120 146 140 148 160 150 C172 152 180 160 180 168Z" fill="#360c04" stroke="#7a2008" stroke-width="1.5" opacity="0.9"/><path d="M232 36 C216 44 208 70 210 95 C212 118 220 128 232 130Z" fill="#2a0804" stroke="#7a2008" stroke-width="1.5" opacity="0.8"/><circle cx="150" cy="52" r="3" fill="#7a2008"/></g></g>
<g transform="translate(1804 890.6)" clip-path="url(#cg20)"><rect x="0" y="0" width="232" height="170" fill="#8b8b8b"/><g filter="url(#bl4)"><ellipse cx="58" cy="78" rx="24" ry="14" fill="#999"/><ellipse cx="178" cy="40" rx="22" ry="20" fill="#7f7f7f"/><ellipse cx="178" cy="40" rx="12" ry="11" fill="#8c8c8c"/><ellipse cx="2" cy="88" rx="8" ry="10" fill="#555"/><ellipse cx="45" cy="125" rx="5" ry="5" fill="#444"/><ellipse cx="45" cy="125" rx="2" ry="2" fill="#bbb"/></g><clipPath id="c20"><path d="M76 62 C77 36 95 24 112 25 C134 26 150 42 153 68 C155 92 140 112 112 112 C86 112 75 92 76 62Z"/></clipPath><path d="M76 62 C77 36 95 24 112 25 C134 26 150 42 153 68 C155 92 140 112 112 112 C86 112 75 92 76 62Z" fill="#7c7c7c"/><rect x="0" y="0" width="232" height="170" filter="url(#tex)" clip-path="url(#c20)" opacity="0.45"/><path d="M76 62 C77 36 95 24 112 25 C134 26 150 42 153 68 C155 92 140 112 112 112 C86 112 75 92 76 62Z" fill="none" stroke="#222" stroke-width="1.5"/><path d="M76 62 C77 36 95 24 112 25 C134 26 150 42 153 68 C155 92 140 112 112 112 C86 112 75 92 76 62Z" fill="none" stroke="#b5b5b5" stroke-width="0.7" transform="translate(0.8 0.8)" opacity="0.6"/><clipPath id="c21"><path d="M2 62 A16 15 0 1 0 34 62 A16 15 0 1 0 2 62Z"/></clipPath><path d="M2 62 A16 15 0 1 0 34 62 A16 15 0 1 0 2 62Z" fill="#7c7c7c"/><rect x="0" y="0" width="232" height="170" filter="url(#tex)" clip-path="url(#c21)" opacity="0.45"/><path d="M2 62 A16 15 0 1 0 34 62 A16 15 0 1 0 2 62Z" fill="none" stroke="#222" stroke-width="1.5"/><path d="M2 62 A16 15 0 1 0 34 62 A16 15 0 1 0 2 62Z" fill="none" stroke="#b5b5b5" stroke-width="0.7" transform="translate(0.8 0.8)" opacity="0.6"/><clipPath id="c22"><path d="M126 127 A8 8 0 1 0 142 127 A8 8 0 1 0 126 127Z"/></clipPath><path d="M126 127 A8 8 0 1 0 142 127 A8 8 0 1 0 126 127Z" fill="#7c7c7c"/><rect x="0" y="0" width="232" height="170" filter="url(#tex)" clip-path="url(#c22)" opacity="0.45"/><path d="M126 127 A8 8 0 1 0 142 127 A8 8 0 1 0 126 127Z" fill="none" stroke="#222" stroke-width="1.5"/><path d="M126 127 A8 8 0 1 0 142 127 A8 8 0 1 0 126 127Z" fill="none" stroke="#b5b5b5" stroke-width="0.7" transform="translate(0.8 0.8)" opacity="0.6"/><clipPath id="c23"><path d="M58 168 C60 150 80 146 100 148 C120 146 140 148 160 150 C172 152 180 160 180 168Z"/></clipPath><path d="M58 168 C60 150 80 146 100 148 C120 146 140 148 160 150 C172 152 180 160 180 168Z" fill="#7c7c7c"/><rect x="0" y="0" width="232" height="170" filter="url(#tex)" clip-path="url(#c23)" opacity="0.45"/><path d="M58 168 C60 150 80 146 100 148 C120 146 140 148 160 150 C172 152 180 160 180 168Z" fill="none" stroke="#222" stroke-width="1.5"/><path d="M58 168 C60 150 80 146 100 148 C120 146 140 148 160 150 C172 152 180 160 180 168Z" fill="none" stroke="#b5b5b5" stroke-width="0.7" transform="translate(0.8 0.8)" opacity="0.6"/><clipPath id="c24"><path d="M232 36 C216 44 208 70 210 95 C212 118 220 128 232 130Z"/></clipPath><path d="M232 36 C216 44 208 70 210 95 C212 118 220 128 232 130Z" fill="#7c7c7c"/><rect x="0" y="0" width="232" height="170" filter="url(#tex)" clip-path="url(#c24)" opacity="0.45"/><path d="M232 36 C216 44 208 70 210 95 C212 118 220 128 232 130Z" fill="none" stroke="#222" stroke-width="1.5"/><path d="M232 36 C216 44 208 70 210 95 C212 118 220 128 232 130Z" fill="none" stroke="#b5b5b5" stroke-width="0.7" transform="translate(0.8 0.8)" opacity="0.6"/><clipPath id="c25"><path d="M0 140 C8 142 10 156 8 168 L0 168Z"/></clipPath><path d="M0 140 C8 142 10 156 8 168 L0 168Z" fill="#7c7c7c"/><rect x="0" y="0" width="232" height="170" filter="url(#tex)" clip-path="url(#c25)" opacity="0.45"/><path d="M0 140 C8 142 10 156 8 168 L0 168Z" fill="none" stroke="#222" stroke-width="1.5"/><path d="M0 140 C8 142 10 156 8 168 L0 168Z" fill="none" stroke="#b5b5b5" stroke-width="0.7" transform="translate(0.8 0.8)" opacity="0.6"/><clipPath id="c26"><path d="M111 6 A14 8 0 1 0 139 6 A14 8 0 1 0 111 6Z"/></clipPath><path d="M111 6 A14 8 0 1 0 139 6 A14 8 0 1 0 111 6Z" fill="#7c7c7c"/><rect x="0" y="0" width="232" height="170" filter="url(#tex)" clip-path="url(#c26)" opacity="0.45"/><path d="M111 6 A14 8 0 1 0 139 6 A14 8 0 1 0 111 6Z" fill="none" stroke="#222" stroke-width="1.5"/><path d="M111 6 A14 8 0 1 0 139 6 A14 8 0 1 0 111 6Z" fill="none" stroke="#b5b5b5" stroke-width="0.7" transform="translate(0.8 0.8)" opacity="0.6"/><circle cx="150" cy="52" r="3.4" fill="#f4f4f4" stroke="#333" stroke-width="1"/><path d="M68.4 82.8h0M154.8 45.8h0M65.7 65.5h0M132.7 113.1h0M77.2 26.8h0M150.2 93.6h0M159.7 98.8h0M99.4 26.7h0M173.1 61h0M86.2 25.5h0M137 104.8h0M72.8 60.2h0M129.7 110h0M159.1 77.1h0M62.5 89.2h0M64.8 61.7h0M63.9 68.1h0M72.3 80.1h0M174.6 67h0M141.5 22.4h0M96.9 109.3h0M103.8 110.8h0M118.6 21h0M139.5 29.4h0M167.5 52.8h0M156.6 68.2h0M152.9 42.1h0M158.5 62.2h0M158.2 91h0M121.7 23.3h0M151.5 92.1h0M165.4 55.6h0M145.7 98.5h0M147.7 94.1h0M126.3 25.3h0M71.5 50.5h0M132.9 119h0M147.8 106.3h0M147.6 99.8h0M124 112.2h0M167.2 57.7h0M95.1 124.2h0M124.9 113.7h0M144.3 26.6h0M162.8 105.5h0M123.9 112.1h0M120.2 22.3h0M102 110.3h0M154.7 95.2h0M116.1 119.2h0M82.4 102.7h0M158.7 55.6h0M64 41.4h0M131.3 108.6h0M159.7 36.8h0M114.1 112.7h0M110.1 6.4h0M133.4 126.6h0M150 33.4h0M77 88.9h0M171.7 83.1h0M117.7 121.8h0M111.6 125.5h0M78.3 42h0M137.3 116.5h0M152.9 86.9h0M62.2 46.7h0M81.4 38h0M151 45.7h0M156.9 72.7h0M74.5 82.7h0M133.8 109.8h0M76.1 48.6h0M77.2 113.6h0M163.6 61.6h0M96.6 20.6h0M140.6 102h0M171.2 74.8h0M96 8.4h0M163 74.9h0M62.4 74.1h0M88.5 126.1h0M156.3 90.8h0M109.3 8h0M109.8 14.3h0M129.5 9.5h0M83.7 110.8h0M159.6 33.5h0M67.4 96.1h0M145.4 29.7h0M82.5 34.8h0M71.6 42.5h0M157.4 93.2h0M170.5 65.5h0M107.9 21.4h0M109.5 17.5h0M62.7 89.2h0M159.4 95.8h0M161.8 77.5h0M71.5 73.4h0M99.2 21.6h0M70.4 27.8h0M112.5 112h0M98.1 118.5h0M126.4 110.6h0M155.5 38.6h0M60.8 89.4h0M90.7 114.8h0M128.4 113.2h0M133.9 11h0M146.6 35.9h0M76.1 45.1h0M144.5 104.9h0M142.9 18.1h0M99.8 7.8h0M106.9 111.9h0M72.8 81.9h0M124.1 114.2h0M81.3 33.3h0M92 121.3h0M159.4 62.6h0M151.3 87.9h0M143.2 36.4h0M101.7 19.2h0M94.5 120.7h0M155.8 73.3h0M73.9 80.3h0M134.6 28.4h0M140.5 102.1h0M82.6 33.2h0M79.8 29.7h0M134.9 9.6h0M97 26.9h0M72.1 74.9h0M159.9 71.3h0M104.5 24.5h0M107.8 113.9h0M98.7 21.3h0M74.4 31.5h0M71.9 103.1h0M148.9 43.5h0M161.1 45.6h0M145.3 103.1h0M73.5 25h0M79.7 103.3h0M153.1 29h0M157.1 51.4h0M89.2 31.5h0M104.4 11.5h0M81.5 25.8h0M127.1 126.6h0M173.5 60.3h0M61.8 55h0M89.4 122.7h0M141.2 31.4h0M153.5 91.8h0M63.6 50.7h0M72.3 71.5h0M129.2 26.9h0M127.1 25.6h0M77.1 23.6h0M32.3 4.5h0M118.8 21.7h0M193.2 20.7h0M217.5 14.8h0M218.3 2.6h0M50.9 15.8h0M66.7 21.9h0M146.9 15.7h0M194 16.8h0M71.7 11.4h0M194.4 27h0M47.9 25.5h0M222.7 15.7h0M131.8 6h0M123.3 15.1h0M139.2 0.8h0M223 15.5h0M92.1 24h0M129.5 14.7h0M158.9 2h0M123.9 12.4h0M220.1 27.7h0M61.9 14.2h0M29.2 13h0M187.6 27h0M109.6 9.5h0M44 18.5h0M212.8 3.9h0M179.2 0.7h0M44.6 6.8h0M158 9.7h0M81.7 18.6h0M24.1 21.9h0M28.2 15.3h0M57.6 5.9h0M122 13.1h0M86.4 12.4h0M121.7 4.8h0M47 18.9h0M146.8 15.9h0M195.8 18.4h0M197.1 7h0M170.4 24.3h0M207.6 9.5h0M72.4 27.7h0M50.2 30h0M204.1 4h0M55 21.8h0M59.7 2.9h0M191.4 12.6h0M181.7 3.8h0M92.6 20.6h0M4.1 6h0M156.9 27.3h0M222.7 3.5h0M116.3 22.7h0M115.6 20.6h0M43.5 2.1h0M24.4 1.1h0M214.3 80.9h0M214.9 58.8h0M201.5 62.2h0M224.4 109.4h0M227.4 55.7h0M197.2 107.1h0M211.2 95.9h0M206.4 78h0M213 75.8h0M216 50.8h0M219.5 100.7h0M201.3 77.2h0M220.9 74.3h0M201.8 59.9h0M212.9 50.9h0M226.3 98.1h0M219.7 101.6h0M217 74.3h0M216 80.3h0M229.4 98.3h0M204 104.7h0M221.1 96.7h0M223.5 74.3h0M226.4 102.8h0M219.3 96h0M221.8 74.3h0M220.3 54.2h0M207 78.1h0M195.4 71.3h0M217.4 87.4h0M203.1 106.7h0M218.3 70.3h0M218.1 84.2h0M213.7 73.4h0M230 88.5h0M219.5 95.7h0M229.3 51.4h0M216.5 94.3h0M204 74.1h0M196.8 61.7h0" stroke="#3c3c3c" stroke-width="1.7" stroke-linecap="round" opacity="0.8"/><path d="M76 62 C77 36 95 24 112 25 C134 26 150 42 153 68 C155 92 140 112 112 112 C86 112 75 92 76 62Z" fill="#d02020" opacity="0.28"/><g filter="url(#bl)"><path d="M76 62 C77 36 95 24 112 25 C134 26 150 42 153 68 C155 92 140 112 112 112 C86 112 75 92 76 62Z" fill="none" stroke="#f02020" stroke-width="3"/><ellipse cx="112" cy="70" rx="20" ry="18" fill="#f03030" opacity="0.45"/><path d="M3 62 A15 14 0 1 0 33 62 A15 14 0 1 0 3 62Z" fill="#d02020" fill-opacity="0.25" stroke="#e82020" stroke-width="2.5"/><circle cx="134" cy="127" r="7.5" fill="#f03a3a"/><circle cx="125" cy="4" r="7" fill="#e02020"/><path d="M58 168 C60 150 80 146 100 148 C120 146 140 148 160 150 C172 152 180 160 180 168Z" fill="#d02020" fill-opacity="0.3" stroke="#e82020" stroke-width="2.5"/><path d="M232 36 C216 44 208 70 210 95 C212 118 220 128 232 130Z" fill="#c02020" fill-opacity="0.3" stroke="#e02020" stroke-width="2.5"/><path d="M0 140 C8 142 10 156 8 168 L0 168Z" fill="#d02020" fill-opacity="0.6"/></g><g filter="url(#bl)" opacity="1"><path d="M96 26 C128 24 150 45 153 70 C154 84 151 96 145 104" fill="none" stroke="#a8ee30" stroke-width="5.5" stroke-linecap="round"/><path d="M78 72 C79 88 84 101 92 108" fill="none" stroke="#a8ee30" stroke-width="3.5" opacity="0.8"/><path d="M150 150 C162 148 172 156 176 168 L150 168Z" fill="#a8ee30"/><path d="M0 146 C5 148 8 158 7 168 L0 168Z" fill="#a8ee30"/><path d="M0 15 C9 10 18 5 24 0" fill="none" stroke="#a8ee30" stroke-width="3" opacity="0.9"/><path d="M232 40 C224 48 220 58 219 66" fill="none" stroke="#a8ee30" stroke-width="2" opacity="0.7"/></g></g>
<g transform="translate(1804 1060)" clip-path="url(#cg21)"><rect x="0" y="0" width="232" height="170" fill="#000"/><g filter="url(#bl)"><path d="M76 62 C77 36 95 24 112 25 C134 26 150 42 153 68 C155 92 140 112 112 112 C86 112 75 92 76 62Z" fill="#9a2a0a" stroke="#c83a10" stroke-width="2.2"/><ellipse cx="112" cy="74" rx="18" ry="16" fill="#c03a10" opacity="0.8"/><path d="M4 62 A14 13 0 1 0 32 62 A14 13 0 1 0 4 62Z" fill="#9a2a0a" stroke="#c83a10" stroke-width="2.2"/><circle cx="134" cy="127" r="7" fill="#d8400e"/><circle cx="125" cy="3" r="6" fill="#c83a10"/><path d="M58 168 C60 150 80 146 100 148 C120 146 140 148 160 150 C172 152 180 160 180 168Z" fill="#9a2a0a" stroke="#c83a10" stroke-width="1.5" opacity="0.9"/><path d="M232 36 C216 44 208 70 210 95 C212 118 220 128 232 130Z" fill="#2a0804" stroke="#c83a10" stroke-width="1.5" opacity="0.8"/><circle cx="150" cy="52" r="3" fill="#c83a10"/></g><g filter="url(#bl)" opacity="1"><path d="M96 26 C128 24 150 45 153 70 C154 84 151 96 145 104" fill="none" stroke="#50f040" stroke-width="5.5" stroke-linecap="round"/><path d="M78 72 C79 88 84 101 92 108" fill="none" stroke="#50f040" stroke-width="3.5" opacity="0.8"/><path d="M150 150 C162 148 172 156 176 168 L150 168Z" fill="#50f040"/><path d="M0 146 C5 148 8 158 7 168 L0 168Z" fill="#50f040"/><path d="M0 15 C9 10 18 5 24 0" fill="none" stroke="#50f040" stroke-width="3" opacity="0.9"/><path d="M232 40 C224 48 220 58 219 66" fill="none" stroke="#50f040" stroke-width="2" opacity="0.7"/></g></g>
<text x="1487.8" y="907" font-size="20" fill="#33cc33">eGFP</text>
<text x="1689" y="907" font-size="20" fill="#e82020">mCherry</text>
<text x="1970.5" y="907" font-size="20" fill="#dddddd">Merge</text>
<text x="1493.7" y="1078" font-size="20" fill="#33cc33">eGFP</text>
<text x="1696" y="1078" font-size="20" fill="#e82020">mCherry</text>
<text x="1977" y="1078" font-size="20" fill="#dddddd">Merge</text>
<text x="1495" y="1031.8" font-size="19.7" fill="#fff">200um</text>
<line x1="1482.4" y1="1035.4" x2="1565.6" y2="1035.4" stroke="#fff" stroke-width="1.3"/>
<line x1="1715.4" y1="1036" x2="1796.4" y2="1036" stroke="#fff" stroke-width="1.3"/>
<line x1="1949" y1="1036" x2="2030" y2="1036" stroke="#fff" stroke-width="1.3"/>
<line x1="1481.5" y1="1206.4" x2="1562" y2="1206.4" stroke="#fff" stroke-width="1.3"/>
<line x1="1715.4" y1="1206.4" x2="1796.4" y2="1206.4" stroke="#fff" stroke-width="1.3"/>
<line x1="1949" y1="1206.4" x2="2030" y2="1206.4" stroke="#fff" stroke-width="1.3"/>
<text transform="translate(1316.5 1121) rotate(-90)" font-size="19.4">VAKPS<tspan font-size="14" dy="-3.5" fill="#33cc33" letter-spacing="1">OnF</tspan><tspan font-size="14" fill="#e02020" letter-spacing="1">/STAR</tspan></text>
<text x="4.3" y="1397.8" font-size="44" font-weight="bold">h</text>
<text x="334" y="1410" font-size="24.2" text-anchor="middle" font-weight="bold">FOLFIRI vs. DMSO</text>
<path d="M165.4 1441h0" stroke="#ee8a33" stroke-width="20.6" stroke-linecap="round"/>
<text x="191.2" y="1450.6" font-size="24">Stem</text>
<path d="M320.4 1442h0" stroke="#a9a9ae" stroke-width="20.6" stroke-linecap="round"/>
<text x="337.8" y="1450.6" font-size="24">Other</text>
<path d="M486.5 1440.3h0" stroke="#3f9596" stroke-width="20.6" stroke-linecap="round"/>
<text x="505.7" y="1450.6" font-size="24">OnF</text>
<line x1="142.5" y1="1468" x2="142.5" y2="1774.3" stroke="#ebebeb" stroke-width="1.6"/>
<line x1="196.6" y1="1468" x2="196.6" y2="1774.3" stroke="#ebebeb" stroke-width="1"/>
<line x1="250.7" y1="1468" x2="250.7" y2="1774.3" stroke="#ebebeb" stroke-width="1.6"/>
<line x1="304.7" y1="1468" x2="304.7" y2="1774.3" stroke="#ebebeb" stroke-width="1"/>
<line x1="358.8" y1="1468" x2="358.8" y2="1774.3" stroke="#ebebeb" stroke-width="1.6"/>
<line x1="412.9" y1="1468" x2="412.9" y2="1774.3" stroke="#ebebeb" stroke-width="1"/>
<line x1="466.9" y1="1468" x2="466.9" y2="1774.3" stroke="#ebebeb" stroke-width="1.6"/>
<line x1="521" y1="1468" x2="521" y2="1774.3" stroke="#ebebeb" stroke-width="1"/>
<line x1="575.1" y1="1468" x2="575.1" y2="1774.3" stroke="#ebebeb" stroke-width="1.6"/>
<line x1="108.2" y1="1759.6" x2="600" y2="1759.6" stroke="#ebebeb" stroke-width="1.6"/>
<line x1="108.2" y1="1710.1" x2="600" y2="1710.1" stroke="#ebebeb" stroke-width="1"/>
<line x1="108.2" y1="1660.6" x2="600" y2="1660.6" stroke="#ebebeb" stroke-width="1.6"/>
<line x1="108.2" y1="1611.1" x2="600" y2="1611.1" stroke="#ebebeb" stroke-width="1"/>
<line x1="108.2" y1="1561.6" x2="600" y2="1561.6" stroke="#ebebeb" stroke-width="1.6"/>
<line x1="108.2" y1="1512.1" x2="600" y2="1512.1" stroke="#ebebeb" stroke-width="1"/>
<path d="M295.2 1633.9 L304.7 1629.9 L313.4 1629.9 L324.2 1636.8 L332.8 1650.7 L334.6 1700.2 L336.7 1747.7 L340.4 1759.6 L265.8 1759.6 L272.3 1747.7 L280.9 1720 L288.5 1675.4 L291.7 1650.7Z" fill="#bebebe" stroke="#bebebe" stroke-width="7" stroke-linejoin="round"/>
<path d="M371.3 1759.6 L370.7 1705.1 L372.2 1665.5 L377.2 1650.7 L386.9 1652.7 L397.7 1662.6 L410.7 1678.4 L430.2 1694.3 L449.6 1710.1 L464.8 1724 L479.9 1739.8 L501.6 1748.7 L523.2 1752.7 L536.2 1755.6 L536.2 1759.6Z" fill="#bebebe" stroke="#bebebe" stroke-width="7" stroke-linejoin="round"/>
<path d="M300.5 1629.1h0M293.5 1634.2h0M295 1633.7h0M309.5 1629.4h0M309 1631.3h0M311.4 1636.6h0M314 1629h0M315.2 1632.1h0M327.1 1637.1h0M332.7 1644.6h0M327.4 1643h0M326.4 1637h0M332 1683.2h0M331.8 1679h0M333.6 1692.1h0M328.6 1680.1h0M332.4 1678.7h0M329.2 1654.1h0M332.4 1658.2h0M334.3 1687.6h0M332.8 1689.8h0M331.4 1681.7h0M337.1 1693.4h0M339.8 1730h0M340.8 1731.2h0M332.3 1710.8h0M333.1 1700.8h0M339 1703.9h0M334.9 1703.4h0M338.9 1740h0M339.3 1730h0M336 1738.2h0M340.2 1722.2h0M338.1 1747.6h0M334.1 1750.1h0M340.4 1750.8h0M262.3 1758.2h0M266.7 1751.8h0M275.4 1749.4h0M282.3 1729.9h0M274.7 1736h0M278.7 1729.7h0M275.3 1739.6h0M274.2 1746.3h0M272.8 1744.4h0M286.4 1682.2h0M281.4 1706.4h0M286.6 1722.1h0M283.4 1699.1h0M280.6 1713.5h0M287.5 1682.5h0M286.7 1677.9h0M288.2 1695.2h0M291 1679.9h0M281.9 1707h0M286.6 1657.4h0M290.4 1661.9h0M294.5 1655.4h0M291 1657.3h0M289.8 1662.1h0M288.2 1672.5h0M296.9 1639.9h0M301.4 1635.5h0M293.4 1642.5h0M293.5 1643.4h0M372.4 1713.4h0M371.3 1725.2h0M374.7 1726.4h0M369.2 1718.5h0M368.5 1712h0M368.6 1704.9h0M370.5 1709.8h0M374.5 1747.4h0M373.8 1711.3h0M369.4 1708.5h0M371.3 1729.4h0M368.8 1709.7h0M367.3 1665.7h0M372.4 1670.2h0M371.3 1689.6h0M369.9 1694.1h0M370.3 1666.5h0M373.8 1683.8h0M368.9 1668.8h0M374.3 1684h0M375.6 1697.8h0M369 1662.2h0M373.5 1654.1h0M375.2 1658.7h0M375 1654.8h0M381.4 1652.4h0M387 1653.9h0M390.4 1658.9h0M391.3 1658.5h0M395.8 1659.1h0M411 1677.3h0M409.7 1673.4h0M401.5 1662.5h0M398.7 1662.6h0M407.6 1679.4h0M412.9 1685.1h0M418.5 1685.9h0M417.5 1682.8h0M425.1 1686.5h0M411 1679.5h0M418.1 1681.3h0M447.5 1705.2h0M441.1 1700.9h0M441.4 1704.2h0M451 1717.6h0M432.1 1695.1h0M445.2 1705h0M460.1 1718.9h0M457 1708.3h0M457.9 1719.2h0M449.5 1713.8h0M454.2 1712.7h0M481.3 1733.7h0M467.7 1727.5h0M464.3 1731.6h0M471 1725.6h0M469.6 1726.6h0M481.7 1737.8h0M486.7 1745h0M491.8 1741.8h0M480.3 1739.4h0M494.2 1746.9h0M513 1751.2h0M516.5 1750.5h0M517.2 1749.8h0M518.8 1751.7h0M518.6 1756.1h0M527.9 1753.1h0M528.7 1751h0M527.1 1752.4h0M538.8 1759.6h0M253.5 1753h0M254.2 1744.9h0M246.5 1750.6h0M252.5 1726.8h0M292.4 1708.1h0M251.4 1728.4h0M255.1 1748.3h0M237.7 1757.1h0M264.4 1735.2h0M249 1747.2h0M238 1757.9h0M242.7 1754h0M240 1759.5h0M254.8 1752.9h0M270.6 1728.4h0M279.9 1709h0M277.9 1690.9h0M259.6 1747.3h0M293.1 1748.6h0M278.4 1711.9h0M240.1 1749.8h0M287.8 1703.6h0M278.9 1695.7h0M245.5 1749.5h0M266 1712.3h0M282.9 1688.7h0M270.5 1701.3h0M276.1 1710.1h0M250.6 1759.1h0M245.2 1753.4h0M243.6 1744.8h0M269.1 1722.8h0M272.9 1714.8h0M265.2 1759.5h0M282.5 1697.2h0M266 1731.9h0M274.7 1756.7h0M279.1 1743.8h0M241.9 1756.5h0M278.7 1747.4h0M279.3 1679.4h0M265.5 1741.4h0M264.6 1724h0M280.8 1711.8h0M273.8 1756.2h0M246 1755.2h0M279.5 1739.7h0M269.6 1759.3h0M241.1 1756.7h0M275.5 1710.9h0M275.7 1742.3h0M266.7 1735.7h0M263.9 1755.4h0M287.9 1745.4h0M292.7 1661h0M238.7 1755.8h0M283.8 1672.4h0M262.9 1748.6h0M249.5 1732.5h0M249.5 1744.4h0M245.6 1749.4h0M291.3 1750.4h0M283.8 1719.3h0M287.5 1695.7h0M250.7 1732.2h0M265 1758.9h0M237.9 1756.1h0M263 1746.9h0M245.6 1753.5h0M255.4 1727.4h0M237.8 1754h0M284.9 1752.3h0M289.8 1692h0M288.4 1737.2h0M258.6 1744.8h0M293.8 1701.9h0M258 1743.6h0M253.1 1758.7h0M243.4 1745.1h0M253.7 1725.8h0M251.7 1752.9h0M266.4 1751.5h0M258.7 1716.5h0M287.4 1683.9h0M273.2 1695.4h0M290.6 1709.5h0M278.1 1757.4h0M278.9 1728.1h0M280 1710.1h0M253.8 1758.6h0M289.8 1751h0M264.2 1744.2h0M254.4 1733.2h0M292.6 1738.4h0M274.6 1742.1h0M269 1738.6h0M247.1 1756.8h0M249.4 1734h0M265.6 1750.2h0M288.6 1660.6h0M263 1754.6h0M248.5 1758.1h0M256.9 1757.2h0M251.1 1753.3h0M269.7 1703h0M279.8 1730.7h0M260.9 1736.7h0M258.9 1747.1h0M241.2 1756.6h0M292.1 1750.8h0M266 1725.9h0M286.2 1744.5h0M252.9 1753h0M260.2 1741.3h0M291.3 1674h0M286.8 1758.6h0M239.5 1752.3h0M288 1719.5h0M270.7 1759.6h0M259.7 1716.4h0M284.1 1683.9h0M292.3 1739.6h0M243.8 1757.6h0M267 1721.3h0M290.6 1690h0M274.1 1706.5h0M263.4 1733.1h0M239.9 1750.8h0M250.8 1731.3h0M274 1742.1h0M244.9 1755.6h0M273.5 1712.7h0M244 1758.8h0M267.2 1727.8h0M259.5 1751.8h0M271.5 1759.3h0M254.6 1744.5h0M291.6 1697.8h0M287.4 1719.8h0M250.9 1753.7h0M291.7 1690.7h0M255 1759.2h0M265.7 1723.3h0M261.3 1749.7h0M275.2 1691h0M250.4 1759.1h0M256.7 1744.8h0M276.1 1748.6h0M282.5 1698.1h0M266.1 1750.8h0M292.2 1733.5h0M283.8 1744h0M250.1 1737.9h0M254.3 1724.2h0M265.6 1751.8h0M250.2 1749h0M275.1 1689.1h0M245.9 1752.2h0M249.6 1731.2h0M245.7 1759h0M329.3 1723.7h0M329.8 1615.1h0M298.7 1714h0M260.6 1748h0M272.1 1758.2h0M264.3 1562.1h0M227.2 1758.8h0M325.5 1721.8h0M332.3 1655.1h0M304.7 1726h0M295.2 1544.5h0M331.9 1712.4h0M260.1 1725.4h0M312.2 1756.4h0M308.8 1737.5h0M252.9 1756.1h0M307.1 1744.3h0M288.8 1724.2h0M336.3 1684.6h0M318.9 1555.5h0M256.2 1753.2h0M247.5 1716h0M297.2 1743.7h0M285.4 1757.4h0M269.5 1731.8h0M336.8 1717h0M306 1743.7h0M296 1557.3h0M328.6 1754.1h0M317.6 1746.4h0M268.4 1682h0M294.4 1727.8h0M273.8 1701.1h0M293.5 1689.1h0M310.1 1603.9h0M243.1 1693h0M237.3 1702.9h0M273.2 1683.9h0M311.7 1683.6h0M306.5 1591.8h0M329.2 1757.3h0M226.8 1746.5h0M283.4 1649.4h0M258.4 1759.6h0M248.6 1644.4h0M222.8 1718.8h0M250.5 1750.2h0M268.6 1734.9h0M296.5 1670.3h0M242.6 1727.3h0M274.4 1740.6h0M249.2 1758.7h0M330.8 1615.2h0M323.4 1723.8h0M318.8 1630.8h0M262.1 1751h0M302.4 1618.2h0M316.5 1564.2h0M234.8 1743.4h0M255.5 1754.9h0M309.4 1743.5h0M271.1 1759.3h0M320.1 1654.7h0M316.5 1747.9h0M313.9 1746.2h0M330.7 1731.7h0M302.7 1686.9h0M263.3 1709.3h0M225.4 1743.4h0M325.8 1686.2h0M323.9 1739.5h0M296.6 1720h0M307.6 1748h0M311.2 1665.7h0M319.2 1749.7h0M241 1723.9h0M334.3 1620.9h0M332.9 1754.7h0M304.3 1651.4h0M317.6 1681h0M267.5 1609.7h0M335.4 1718.7h0M254 1709.6h0M262.9 1734.7h0M315.3 1650h0M316.1 1694.2h0M265.7 1736.5h0M254.8 1737.9h0M326.4 1602.5h0M317.8 1650.3h0M251.2 1754.7h0M312.9 1583.4h0M252.9 1739.5h0M279.1 1757.7h0M284.4 1574.7h0M295.6 1649.5h0M278.1 1561.9h0M304.9 1652.7h0M321.3 1716.5h0M282.8 1607h0M268.8 1685.5h0M313.3 1723.3h0M324.1 1674.8h0M257 1759.6h0M290.9 1636h0M234.2 1746.6h0M287 1735.9h0M270.9 1725.6h0M296.1 1548.1h0M287.6 1758.6h0M273.7 1759.4h0M277 1706.9h0M296.4 1742.6h0M322.2 1752.3h0M333.1 1624.6h0M272.8 1637.2h0M294.7 1705.7h0M287.5 1730.2h0M317.8 1659.6h0M315.1 1731.8h0M316.1 1565.7h0M300.2 1694.9h0M277.2 1662.9h0M264.1 1669.7h0M281.8 1750.3h0M336.8 1715h0M295.1 1601.4h0M333 1736.5h0M245.6 1746.6h0M299.3 1711h0M247.9 1758.7h0M330.2 1637.2h0M290.3 1611.3h0M259.7 1736h0M277.7 1748.1h0M238.9 1637h0M304.8 1744.8h0M321.9 1565.2h0M319.1 1651.8h0M294.5 1750.9h0M269.7 1749.5h0M318.8 1722.7h0M325.1 1639.8h0M277.3 1731.3h0M282.9 1746h0M304.1 1744.6h0M269.3 1623.1h0M321.6 1688.2h0M264.6 1748.7h0M273.6 1682.5h0M283.3 1676.9h0M333.4 1741h0M279.9 1732.4h0M330 1711.9h0M318.8 1680h0M330.4 1604.9h0M316 1580.2h0M264.3 1678.6h0M272.2 1685.3h0M323.9 1566.7h0M239.5 1752.8h0M256.2 1708.2h0M275.4 1674.1h0M276.3 1727.1h0M289.7 1759.5h0M306.8 1754.1h0M332.5 1617.6h0M303.8 1555.4h0M322.6 1657.8h0M319.9 1686.6h0M243.6 1728.2h0M288.5 1665h0M271.4 1557h0M328 1606.1h0M301.1 1711.8h0M300.1 1680.1h0M316.1 1747.8h0M270.8 1749.5h0M281.2 1685.3h0M257.7 1632.9h0M299.1 1744.6h0M269.7 1753h0M309.6 1754.3h0M292.8 1594.7h0M304.6 1719h0M289.3 1719.9h0M293.6 1737.2h0M325.6 1591.5h0M331.4 1738.2h0M304.9 1741.3h0M250.4 1747.5h0M266.7 1708.9h0M250.6 1745.3h0M314.8 1749.1h0M248.6 1697.8h0M462.8 1719.6h0M424.7 1755.7h0M445.4 1731.2h0M411 1741.2h0M489.9 1733.4h0M522.1 1751.8h0M418 1665.3h0M489 1758.4h0M466.9 1758.1h0M381.3 1623.4h0M514.7 1733.6h0M471.1 1703.9h0M373.8 1647h0M393.6 1729.1h0M539.4 1722.4h0M515.3 1753.4h0M419.5 1743.7h0M439.3 1720.5h0M443.2 1707.5h0M476.3 1737.9h0M517.2 1731.3h0M495.5 1726.5h0M513.9 1727.6h0M455.4 1719.4h0M445.3 1749.3h0M392 1641.8h0M448.2 1710h0M531.9 1748.6h0M434.5 1680.5h0M527.6 1759h0M481.8 1704.9h0M477.9 1718.9h0M429.6 1687.9h0M425.9 1753.4h0M522.3 1737.6h0M377.6 1712.4h0M515 1715.4h0M384.5 1627.6h0M399 1718.8h0M464.2 1742.9h0M391.2 1682.6h0M483.6 1717.4h0M425.2 1699.3h0M551.3 1758.2h0M480.1 1734.8h0M472.5 1720.5h0M482.3 1730.1h0M417.7 1683.4h0M436.4 1705.3h0M409.5 1748.1h0M530.8 1734.4h0M372.1 1748.6h0M379.1 1749.4h0M540.6 1751.9h0M498.6 1755.4h0M420.4 1750.2h0M372.5 1627.1h0M395.9 1679.2h0M387.9 1652.1h0M494.1 1754.8h0M549.7 1758.8h0M390.3 1651.4h0M494.6 1694.1h0M390.1 1736h0M456.5 1720.5h0M385.4 1562.1h0M467.6 1718h0M485.1 1726.9h0M398.6 1665.2h0M396.9 1669.2h0M449.7 1699.1h0M382.8 1749.7h0M449.5 1703.9h0M420.6 1689.9h0M405 1727h0M521.6 1744.3h0M489 1731.5h0M376.6 1633h0M433.9 1696.1h0M382.1 1741.9h0M512.2 1754.5h0M497.9 1680.3h0M374.9 1650h0M447.5 1710.1h0M521.1 1737.1h0M438.5 1696.6h0M535.5 1682.2h0M458.2 1727h0M507.4 1732h0M374.3 1603.3h0M535.2 1743.7h0M375.1 1648.8h0M516.4 1731.7h0M549.8 1715.4h0M423 1662.5h0M381.7 1613.1h0M464.9 1685.6h0M400.6 1636.7h0M505.5 1731h0M372.9 1691.5h0M441.6 1750.2h0M393.9 1752.3h0M397.8 1634.6h0M378.1 1677.1h0M427.9 1755.5h0M416.7 1751h0M379 1643.2h0M516.9 1740.5h0M516.4 1623h0M443.2 1759.3h0M437.2 1725.1h0M407.8 1755.5h0M373.6 1614.6h0M450.7 1759.6h0M401.1 1722.3h0M373.1 1726.8h0M462.8 1677.5h0M354.1 1755.2h0M349.3 1753.9h0M360.7 1756.6h0M365.2 1753.9h0M353.6 1750.5h0M367.1 1758.6h0M362.1 1751.3h0M352.2 1759.5h0M375.1 1759.3h0M344.6 1758h0M350 1757.1h0M378.8 1759.3h0M378 1759.3h0M356.1 1759.5h0M354.2 1757.1h0M348.7 1759h0M356.6 1754.2h0M370.9 1758.3h0M369.9 1758.4h0M366.2 1753.8h0M352.9 1755.6h0M349.6 1755.4h0M370.5 1759.6h0M361.7 1757.6h0M348.7 1758.7h0M360.9 1754.5h0M355 1750h0M350.4 1752.6h0M364.6 1754.1h0M354.2 1750.2h0M352 1757.7h0M352.3 1759.1h0M360.2 1757.2h0M376.2 1759.4h0M340 1758.9h0M374 1756.9h0M354.6 1756.2h0M373.7 1751.3h0M343.7 1754.6h0M358.8 1747.5h0M369.3 1754.2h0M375.2 1759.4h0M367.6 1755.8h0M340.1 1754.9h0M349 1759.1h0M341.2 1751.8h0M371.9 1758.4h0M340.3 1753.4h0M337.3 1754.1h0M349.1 1759.6h0M361.2 1748.7h0M373 1759.5h0M364.4 1758.6h0M361.8 1759h0M346.2 1750.8h0M360.4 1759.6h0M338.4 1758.1h0M339.9 1755.6h0M362.5 1758.9h0M362.6 1758.9h0M380.2 1748.8h0M351.4 1744.2h0M357.8 1759.5h0M366.7 1757h0M352 1759.4h0M349.4 1759.2h0M359.5 1757.2h0M367.6 1759.2h0M361.4 1751.2h0M369.5 1745.6h0M250.7 1492.3h0M300.4 1497.2h0M293.9 1507.1h0M313.4 1477.4h0M270.1 1531.9h0M291.7 1536.8h0M304.7 1541.8h0M309.1 1541.8h0M317.7 1581.4h0M319.9 1566.5h0M322 1571.5h0M280.9 1576.4h0M285.3 1583.4h0M298.2 1601.2h0M315.5 1596.2h0M456.1 1536.8h0M464.8 1551.7h0M462.6 1561.6h0M479.9 1559.6h0M436.7 1558.6h0M406.4 1561.6h0M406.4 1566.5h0M389.1 1576.4h0M406.4 1601.2h0M436.7 1603.2h0M386.9 1606.1h0M415 1611.1h0M428 1616h0M469.1 1638.8h0M458.3 1645.8h0M423.7 1650.7h0M501.6 1685.3h0M516.7 1682.4h0M508 1724.9h0M497.2 1737.8h0M547 1749.7h0M538.3 1749.7h0M529.7 1751.7h0M521 1752.7h0M164.1 1749.7h0M185.8 1756.6h0M229 1660.6h0M244.2 1652.7h0M237.7 1682.4h0M239.8 1700.2h0M248.5 1715h0M261.5 1720h0M224.7 1754.6h0M231.2 1756.6h0M312.7 1558.4h0M269.9 1619.8h0M266.6 1535.6h0M312.6 1571.5h0M282.9 1605.7h0M276.4 1571.2h0M330.1 1610.8h0M268.7 1622.2h0M288.8 1529.6h0M318 1594.4h0M272.4 1626.8h0M275.8 1549.5h0M296.4 1513.8h0M325 1546.7h0M296.7 1542.4h0M274.1 1626.6h0M302.4 1587.9h0M279.4 1615.9h0M267.2 1528h0M311.9 1521.7h0M329.4 1596.6h0M313.3 1602.6h0M318.5 1539.2h0M274.5 1630.7h0M279.7 1577.7h0M290.4 1630.8h0M319.7 1548.1h0M295.9 1629.8h0M323.5 1584.5h0M270.4 1609.1h0M306.3 1531.9h0M297.2 1570.2h0M279.1 1616.6h0M324.6 1602.8h0M272.5 1576.9h0M274 1620.3h0M295.4 1577.7h0M307.1 1560.3h0M294.3 1628.8h0M312.8 1629.4h0M296.3 1600.8h0M309.5 1559.3h0M281.4 1568.7h0M310.7 1592.4h0M275 1527.9h0M458.2 1737.6h0M411.4 1629.3h0M410.1 1706.2h0M482.7 1690.5h0M462.7 1687.5h0M385.4 1733.8h0M507.1 1704.7h0M385.4 1737.2h0M411.6 1637.6h0M408.9 1671.8h0M501.2 1711.5h0M499.7 1730.7h0M400.3 1739.1h0M478.7 1736.3h0M506.7 1709.7h0M404.7 1651.3h0M401.6 1689.9h0M394.2 1648.8h0M495.9 1691.3h0M380.7 1631.5h0M452.6 1674.7h0M445.6 1692.1h0M457.6 1679.5h0M390.5 1736.9h0M451.2 1722.7h0M431.9 1739.6h0M477.1 1739.3h0M488.1 1694.3h0M439.9 1733.8h0M464.8 1730h0M436.1 1734.4h0M507.2 1718.6h0M426.2 1735.1h0M475.2 1684.3h0M490.5 1736.8h0M428.1 1718.5h0M479.4 1734.3h0M459.1 1662.4h0M480.2 1739.7h0M390.2 1732.3h0M470.3 1702.9h0M447.9 1708.4h0M433.3 1688.5h0M464.6 1672.1h0M475.5 1688.9h0" stroke="#bebebe" stroke-width="7.4" stroke-linecap="round"/>
<path d="M425.9 1618h0M397.7 1623h0M328.5 1657.6h0M397.7 1685.3h0M389.1 1695.2h0M390.2 1700.2h0M404.2 1703.2h0M375 1720h0M386.9 1720h0M408.5 1720h0M445.3 1712.1h0M378.3 1729.9h0M389.1 1731.9h0M393.4 1734.8h0M380.4 1744.8h0M384.8 1747.7h0M412.9 1744.8h0M447.5 1752.7h0M378.3 1754.6h0M345.8 1754.6h0M345.8 1746.7h0M367.5 1756.6h0M371.8 1759.6h0M395.6 1759.6h0M415 1757.6h0M350.1 1759.6h0M363.1 1759.6h0M382.6 1757.6h0M390.2 1752.7h0M369.6 1751.7h0" stroke="#3f9596" stroke-width="7.4" stroke-linecap="round"/>
<path d="M330.7 1744.8h0M348 1749.7h0M343.7 1751.7h0M352.3 1754.6h0M358.8 1759.6h0M361 1759.6h0M355.6 1758.6h0M376.1 1757.6h0M371.8 1757.6h0" stroke="#ee8a33" stroke-width="7.4" stroke-linecap="round"/>
<line x1="337.2" y1="1468" x2="337.2" y2="1774.3" stroke="#000" stroke-width="1.2" stroke-dasharray="4 3"/>
<line x1="380.4" y1="1468" x2="380.4" y2="1774.3" stroke="#000" stroke-width="1.2" stroke-dasharray="4 3"/>
<line x1="108.2" y1="1759.6" x2="600" y2="1759.6" stroke="#000" stroke-width="1.2" stroke-dasharray="4 3"/>
<line x1="108.2" y1="1468" x2="108.2" y2="1774.3" stroke="#000" stroke-width="2.2"/>
<line x1="108.2" y1="1774.3" x2="600" y2="1774.3" stroke="#000" stroke-width="2.2"/>
<line x1="102.2" y1="1759.6" x2="108.2" y2="1759.6" stroke="#000" stroke-width="2"/>
<text x="97.8" y="1767.6" font-size="21.5" text-anchor="end">0</text>
<line x1="102.2" y1="1660.6" x2="108.2" y2="1660.6" stroke="#000" stroke-width="2"/>
<text x="97.8" y="1668.6" font-size="21.5" text-anchor="end">100</text>
<line x1="102.2" y1="1561.6" x2="108.2" y2="1561.6" stroke="#000" stroke-width="2"/>
<text x="97.8" y="1569.6" font-size="21.5" text-anchor="end">200</text>
<line x1="142.5" y1="1774.3" x2="142.5" y2="1780.3" stroke="#000" stroke-width="2"/>
<text x="142.5" y="1803.9" font-size="21.5" text-anchor="middle">-10</text>
<line x1="250.7" y1="1774.3" x2="250.7" y2="1780.3" stroke="#000" stroke-width="2"/>
<text x="250.7" y="1803.9" font-size="21.5" text-anchor="middle">-5</text>
<line x1="358.8" y1="1774.3" x2="358.8" y2="1780.3" stroke="#000" stroke-width="2"/>
<text x="358.8" y="1803.9" font-size="21.5" text-anchor="middle">0</text>
<line x1="466.9" y1="1774.3" x2="466.9" y2="1780.3" stroke="#000" stroke-width="2"/>
<text x="466.9" y="1803.9" font-size="21.5" text-anchor="middle">5</text>
<line x1="575.1" y1="1774.3" x2="575.1" y2="1780.3" stroke="#000" stroke-width="2"/>
<text x="575.1" y="1803.9" font-size="21.5" text-anchor="middle">10</text>
<text x="339.6" y="1842.6" font-size="24.4" text-anchor="middle">Log2 fold change</text>
<text x="44" y="1613.8" font-size="24.4" text-anchor="middle" transform="rotate(-90 44 1613.8)">-log10 p</text>
<text x="437.4" y="1624.8" font-size="19.5" font-style="italic">Anxa3</text>
<text x="490.2" y="1663.6" font-size="19.5" font-style="italic">S100a6</text>
<text x="475.4" y="1700.5" font-size="19.5" font-style="italic">Ly6a</text>
<text x="499" y="1722.7" font-size="19.5" font-style="italic">Msln</text>
<text x="283.5" y="1748.5" font-size="19.5" font-style="italic">Lgr5</text>
<line x1="402.4" y1="1682" x2="485.4" y2="1663.6" stroke="#000" stroke-width="1.6"/>
<line x1="412.7" y1="1699.8" x2="468.1" y2="1688.3" stroke="#000" stroke-width="1.6"/>
<line x1="348.8" y1="1753.3" x2="443" y2="1728.2" stroke="#000" stroke-width="1.6"/>
<text x="710.1" y="1351.7" font-size="44.6" font-weight="bold">j</text>
<text x="938.4" y="1346.1" font-size="18" text-anchor="middle" fill="#9a80c8">0.0065</text>
<text x="938.4" y="1381.3" font-size="18" text-anchor="middle">0.0304</text>
<text x="938.4" y="1416.8" font-size="18" text-anchor="middle" fill="#eb9b6a">0.0065</text>
<line x1="795.7" y1="1360.6" x2="1082" y2="1360.6" stroke="#9a80c8" stroke-width="1.8"/>
<line x1="795.7" y1="1395.7" x2="1082" y2="1395.7" stroke="#000" stroke-width="1.8"/>
<line x1="795.7" y1="1431.8" x2="1082" y2="1431.8" stroke="#eb9b6a" stroke-width="1.8"/>
<rect x="787.3" y="1772.3" width="34.4" height="5.5" fill="#8c6bb1" stroke="#000" stroke-width="1.6"/>
<rect x="787.3" y="1764.9" width="34.4" height="7.4" fill="#000" stroke="#000" stroke-width="1.6"/>
<rect x="787.3" y="1495.6" width="34.4" height="269.4" fill="#74a7b5" stroke="#000" stroke-width="1.6"/>
<rect x="787.3" y="1455.6" width="34.4" height="40" fill="#eb9b5f" stroke="#000" stroke-width="1.6"/>
<rect x="841" y="1775.9" width="34.3" height="1.9" fill="#8c6bb1" stroke="#000" stroke-width="1.6"/>
<rect x="841" y="1773.9" width="34.3" height="1.9" fill="#000" stroke="#000" stroke-width="1.6"/>
<rect x="841" y="1498.8" width="34.3" height="275.2" fill="#74a7b5" stroke="#000" stroke-width="1.6"/>
<rect x="841" y="1455.6" width="34.3" height="43.2" fill="#eb9b5f" stroke="#000" stroke-width="1.6"/>
<rect x="894.3" y="1773.6" width="34.1" height="4.2" fill="#8c6bb1" stroke="#000" stroke-width="1.6"/>
<rect x="894.3" y="1772" width="34.1" height="1.6" fill="#000" stroke="#000" stroke-width="1.6"/>
<rect x="894.3" y="1497.8" width="34.1" height="274.2" fill="#74a7b5" stroke="#000" stroke-width="1.6"/>
<rect x="894.3" y="1455.6" width="34.1" height="42.2" fill="#eb9b5f" stroke="#000" stroke-width="1.6"/>
<rect x="947.7" y="1747.5" width="34.3" height="30.3" fill="#8c6bb1" stroke="#000" stroke-width="1.6"/>
<rect x="947.7" y="1726.2" width="34.3" height="21.3" fill="#000" stroke="#000" stroke-width="1.6"/>
<rect x="947.7" y="1457.9" width="34.3" height="268.4" fill="#74a7b5" stroke="#000" stroke-width="1.6"/>
<rect x="947.7" y="1455.6" width="34.3" height="2.3" fill="#000" stroke="#000" stroke-width="1.6"/>
<rect x="1001.3" y="1753.3" width="34.3" height="24.5" fill="#8c6bb1" stroke="#000" stroke-width="1.6"/>
<rect x="1001.3" y="1731.7" width="34.3" height="21.6" fill="#000" stroke="#000" stroke-width="1.6"/>
<rect x="1001.3" y="1456.2" width="34.3" height="275.5" fill="#74a7b5" stroke="#000" stroke-width="1.6"/>
<rect x="1001.3" y="1455.6" width="34.3" height="0.6" fill="#eb9b5f" stroke="#000" stroke-width="1.6"/>
<rect x="1054.6" y="1750.4" width="34.4" height="27.4" fill="#8c6bb1" stroke="#000" stroke-width="1.6"/>
<rect x="1054.6" y="1726.2" width="34.4" height="24.2" fill="#000" stroke="#000" stroke-width="1.6"/>
<rect x="1054.6" y="1455.6" width="34.4" height="270.6" fill="#74a7b5" stroke="#000" stroke-width="1.6"/>
<line x1="769.2" y1="1438.4" x2="769.2" y2="1778.8" stroke="#000" stroke-width="3"/>
<line x1="755.2" y1="1777.8" x2="769.2" y2="1777.8" stroke="#000" stroke-width="3"/>
<line x1="762.2" y1="1745.6" x2="769.2" y2="1745.6" stroke="#000" stroke-width="2.2"/>
<line x1="762.2" y1="1713.4" x2="769.2" y2="1713.4" stroke="#000" stroke-width="2.2"/>
<line x1="762.2" y1="1681.1" x2="769.2" y2="1681.1" stroke="#000" stroke-width="2.2"/>
<line x1="762.2" y1="1648.9" x2="769.2" y2="1648.9" stroke="#000" stroke-width="2.2"/>
<line x1="755.2" y1="1616.7" x2="769.2" y2="1616.7" stroke="#000" stroke-width="3"/>
<line x1="762.2" y1="1584.5" x2="769.2" y2="1584.5" stroke="#000" stroke-width="2.2"/>
<line x1="762.2" y1="1552.3" x2="769.2" y2="1552.3" stroke="#000" stroke-width="2.2"/>
<line x1="762.2" y1="1520" x2="769.2" y2="1520" stroke="#000" stroke-width="2.2"/>
<line x1="762.2" y1="1487.8" x2="769.2" y2="1487.8" stroke="#000" stroke-width="2.2"/>
<line x1="755.2" y1="1455.6" x2="769.2" y2="1455.6" stroke="#000" stroke-width="3"/>
<text x="749.6" y="1785.8" font-size="22.5" text-anchor="end">0</text>
<text x="749.6" y="1624.7" font-size="22.5" text-anchor="end">50</text>
<text x="749.6" y="1463.6" font-size="22.5" text-anchor="end">100</text>
<line x1="755.2" y1="1777.8" x2="1107" y2="1777.8" stroke="#000" stroke-width="3"/>
<text x="847" y="1810.4" font-size="22" text-anchor="middle">Untreated</text>
<text x="1009" y="1810.4" font-size="21.8" text-anchor="middle">FOLFIRI</text>
<text x="710" y="1617" font-size="23.2" text-anchor="middle" transform="rotate(-90 710 1617)">Percentage of live cells (%)</text>
<text x="1205.2" y="1338.9" font-size="41.4" font-weight="bold">k</text>
<text x="1382.6" y="1348.4" font-size="18" text-anchor="middle" fill="#9a80c8">0.0261</text>
<text x="1382.6" y="1386.5" font-size="18" text-anchor="middle" fill="#eb9b6a">0.0261</text>
<line x1="1229.2" y1="1364" x2="1536.9" y2="1364" stroke="#9a80c8" stroke-width="1.8"/>
<line x1="1229.2" y1="1402.4" x2="1536.9" y2="1402.4" stroke="#eb9b6a" stroke-width="1.8"/>
<rect x="1221.1" y="1492" width="36.9" height="280.9" fill="#8c6bb1" stroke="#000" stroke-width="1.6"/>
<rect x="1221.1" y="1488.2" width="36.9" height="3.8" fill="#000" stroke="#000" stroke-width="1.6"/>
<rect x="1221.1" y="1428.2" width="36.9" height="60" fill="#eb9b5f" stroke="#000" stroke-width="1.6"/>
<rect x="1278" y="1490.9" width="36.8" height="282" fill="#8c6bb1" stroke="#000" stroke-width="1.6"/>
<rect x="1278" y="1486.5" width="36.8" height="4.5" fill="#000" stroke="#000" stroke-width="1.6"/>
<rect x="1278" y="1428.2" width="36.8" height="58.3" fill="#eb9b5f" stroke="#000" stroke-width="1.6"/>
<rect x="1335" y="1500.6" width="37.5" height="272.3" fill="#8c6bb1" stroke="#000" stroke-width="1.6"/>
<rect x="1335" y="1496.5" width="37.5" height="4.1" fill="#000" stroke="#000" stroke-width="1.6"/>
<rect x="1335" y="1428.2" width="37.5" height="68.3" fill="#eb9b5f" stroke="#000" stroke-width="1.6"/>
<rect x="1392.7" y="1469.9" width="37.5" height="303" fill="#8c6bb1" stroke="#000" stroke-width="1.6"/>
<rect x="1392.7" y="1466.5" width="37.5" height="3.4" fill="#000" stroke="#000" stroke-width="1.6"/>
<rect x="1392.7" y="1428.2" width="37.5" height="38.3" fill="#eb9b5f" stroke="#000" stroke-width="1.6"/>
<rect x="1450.3" y="1470.3" width="37" height="302.6" fill="#8c6bb1" stroke="#000" stroke-width="1.6"/>
<rect x="1450.3" y="1467.5" width="37" height="2.8" fill="#000" stroke="#000" stroke-width="1.6"/>
<rect x="1450.3" y="1428.2" width="37" height="39.3" fill="#eb9b5f" stroke="#000" stroke-width="1.6"/>
<rect x="1507.4" y="1473.7" width="36.9" height="299.2" fill="#8c6bb1" stroke="#000" stroke-width="1.6"/>
<rect x="1507.4" y="1469.6" width="36.9" height="4.1" fill="#000" stroke="#000" stroke-width="1.6"/>
<rect x="1507.4" y="1428.2" width="36.9" height="41.4" fill="#eb9b5f" stroke="#000" stroke-width="1.6"/>
<line x1="1201.5" y1="1409" x2="1201.5" y2="1773.9" stroke="#000" stroke-width="3"/>
<line x1="1187.5" y1="1772.9" x2="1201.5" y2="1772.9" stroke="#000" stroke-width="3"/>
<line x1="1194.5" y1="1738.4" x2="1201.5" y2="1738.4" stroke="#000" stroke-width="2.2"/>
<line x1="1194.5" y1="1704" x2="1201.5" y2="1704" stroke="#000" stroke-width="2.2"/>
<line x1="1194.5" y1="1669.5" x2="1201.5" y2="1669.5" stroke="#000" stroke-width="2.2"/>
<line x1="1194.5" y1="1635" x2="1201.5" y2="1635" stroke="#000" stroke-width="2.2"/>
<line x1="1187.5" y1="1600.6" x2="1201.5" y2="1600.6" stroke="#000" stroke-width="3"/>
<line x1="1194.5" y1="1566.1" x2="1201.5" y2="1566.1" stroke="#000" stroke-width="2.2"/>
<line x1="1194.5" y1="1531.6" x2="1201.5" y2="1531.6" stroke="#000" stroke-width="2.2"/>
<line x1="1194.5" y1="1497.1" x2="1201.5" y2="1497.1" stroke="#000" stroke-width="2.2"/>
<line x1="1194.5" y1="1462.7" x2="1201.5" y2="1462.7" stroke="#000" stroke-width="2.2"/>
<line x1="1187.5" y1="1428.2" x2="1201.5" y2="1428.2" stroke="#000" stroke-width="3"/>
<text x="1179.3" y="1780.9" font-size="22.5" text-anchor="end">0</text>
<text x="1179.3" y="1608.6" font-size="22.5" text-anchor="end">50</text>
<text x="1179.3" y="1436.2" font-size="22.5" text-anchor="end">100</text>
<line x1="1187.5" y1="1772.9" x2="1564.2" y2="1772.9" stroke="#000" stroke-width="3"/>
<text x="1297" y="1809" font-size="23.4" text-anchor="middle">Untreated</text>
<text x="1469.1" y="1809" font-size="23.7" text-anchor="middle">FOLFIRI</text>
<text x="1144" y="1617" font-size="23.2" text-anchor="middle" transform="rotate(-90 1144 1617)">Percentage of live cells (%)</text>
<text x="1691.9" y="1341.2" font-size="42.3" font-weight="bold">l</text>
<text x="1825.3" y="1346.3" font-size="18" text-anchor="middle" fill="#9a80c8">0.008</text>
<text x="1825.3" y="1382.4" font-size="18" text-anchor="middle">0.046</text>
<text x="1825.3" y="1418.4" font-size="18" text-anchor="middle" fill="#eb9b6a">0.008</text>
<line x1="1680.1" y1="1361.8" x2="1970.8" y2="1361.8" stroke="#9a80c8" stroke-width="1.8"/>
<line x1="1680.1" y1="1397.8" x2="1970.8" y2="1397.8" stroke="#000" stroke-width="1.8"/>
<line x1="1680.1" y1="1433.1" x2="1970.8" y2="1433.1" stroke="#eb9b6a" stroke-width="1.8"/>
<rect x="1672.6" y="1771.8" width="34.3" height="11.4" fill="#8c6bb1" stroke="#000" stroke-width="1.6"/>
<rect x="1672.6" y="1768.3" width="34.3" height="3.6" fill="#000" stroke="#000" stroke-width="1.6"/>
<rect x="1672.6" y="1458.5" width="34.3" height="309.8" fill="#eb9b5f" stroke="#000" stroke-width="1.6"/>
<rect x="1726.4" y="1771.8" width="34.7" height="11.4" fill="#8c6bb1" stroke="#000" stroke-width="1.6"/>
<rect x="1726.4" y="1768.3" width="34.7" height="3.6" fill="#000" stroke="#000" stroke-width="1.6"/>
<rect x="1726.4" y="1458.5" width="34.7" height="309.8" fill="#eb9b5f" stroke="#000" stroke-width="1.6"/>
<rect x="1780.7" y="1771.8" width="35" height="11.4" fill="#8c6bb1" stroke="#000" stroke-width="1.6"/>
<rect x="1780.7" y="1767" width="35" height="4.9" fill="#000" stroke="#000" stroke-width="1.6"/>
<rect x="1780.7" y="1458.5" width="35" height="308.5" fill="#eb9b5f" stroke="#000" stroke-width="1.6"/>
<rect x="1834.5" y="1650.1" width="34.7" height="133.1" fill="#8c6bb1" stroke="#000" stroke-width="1.6"/>
<rect x="1834.5" y="1649.1" width="34.7" height="1" fill="#000" stroke="#000" stroke-width="1.6"/>
<rect x="1834.5" y="1458.5" width="34.7" height="190.6" fill="#eb9b5f" stroke="#000" stroke-width="1.6"/>
<rect x="1888.8" y="1669.6" width="35" height="113.6" fill="#8c6bb1" stroke="#000" stroke-width="1.6"/>
<rect x="1888.8" y="1668.6" width="35" height="1" fill="#000" stroke="#000" stroke-width="1.6"/>
<rect x="1888.8" y="1458.5" width="35" height="210.1" fill="#eb9b5f" stroke="#000" stroke-width="1.6"/>
<rect x="1943" y="1671.5" width="34.6" height="111.7" fill="#8c6bb1" stroke="#000" stroke-width="1.6"/>
<rect x="1943" y="1670.5" width="34.6" height="1" fill="#000" stroke="#000" stroke-width="1.6"/>
<rect x="1943" y="1458.5" width="34.6" height="212" fill="#eb9b5f" stroke="#000" stroke-width="1.6"/>
<line x1="1654.4" y1="1440" x2="1654.4" y2="1784.2" stroke="#000" stroke-width="3"/>
<line x1="1640.4" y1="1783.2" x2="1654.4" y2="1783.2" stroke="#000" stroke-width="3"/>
<line x1="1647.4" y1="1750.7" x2="1654.4" y2="1750.7" stroke="#000" stroke-width="2.2"/>
<line x1="1647.4" y1="1718.3" x2="1654.4" y2="1718.3" stroke="#000" stroke-width="2.2"/>
<line x1="1647.4" y1="1685.8" x2="1654.4" y2="1685.8" stroke="#000" stroke-width="2.2"/>
<line x1="1647.4" y1="1653.3" x2="1654.4" y2="1653.3" stroke="#000" stroke-width="2.2"/>
<line x1="1640.4" y1="1620.8" x2="1654.4" y2="1620.8" stroke="#000" stroke-width="3"/>
<line x1="1647.4" y1="1588.4" x2="1654.4" y2="1588.4" stroke="#000" stroke-width="2.2"/>
<line x1="1647.4" y1="1555.9" x2="1654.4" y2="1555.9" stroke="#000" stroke-width="2.2"/>
<line x1="1647.4" y1="1523.4" x2="1654.4" y2="1523.4" stroke="#000" stroke-width="2.2"/>
<line x1="1647.4" y1="1491" x2="1654.4" y2="1491" stroke="#000" stroke-width="2.2"/>
<line x1="1640.4" y1="1458.5" x2="1654.4" y2="1458.5" stroke="#000" stroke-width="3"/>
<text x="1633.8" y="1791.2" font-size="22.5" text-anchor="end">0</text>
<text x="1633.8" y="1628.8" font-size="22.5" text-anchor="end">50</text>
<text x="1633.8" y="1466.5" font-size="22.5" text-anchor="end">100</text>
<line x1="1640.4" y1="1783.2" x2="1995.8" y2="1783.2" stroke="#000" stroke-width="3"/>
<text x="1743.6" y="1814.8" font-size="22.6" text-anchor="middle">Untreated</text>
<text x="1906.6" y="1814.8" font-size="22.8" text-anchor="middle">FOLFIRI</text>
<text x="1592" y="1619" font-size="23.2" text-anchor="middle" transform="rotate(-90 1592 1619)">Percentage of live cells (%)</text>
<rect x="2007.2" y="1505.9" width="37.4" height="13.7" fill="#8c6bb1" stroke="#000" stroke-width="1.4"/>
<text x="2065.5" y="1521.3" font-size="21.5">Hybrid</text>
<rect x="2007.2" y="1547" width="37.4" height="13.7" fill="#000" stroke="#000" stroke-width="1.4"/>
<text x="2065.5" y="1562.5" font-size="21.5">Negative</text>
<rect x="2007.2" y="1581.4" width="37.4" height="13.7" fill="#74a7b5" stroke="#000" stroke-width="1.4"/>
<text x="2065.5" y="1595.8" font-size="21.5">OnF</text>
<rect x="2007.2" y="1621.9" width="37.4" height="13.7" fill="#eb9b5f" stroke="#000" stroke-width="1.4"/>
<text x="2065.5" y="1637" font-size="21.5">Stem</text>
<text x="10.6" y="1946.4" font-size="45" font-weight="bold">i</text>
<text x="237.9" y="1922.5" font-size="19.6">VAKPS<tspan font-size="12" dy="-9">OnF/STAR</tspan></text>
<rect x="122.5" y="1931.4" width="357.6" height="354.7" fill="#fff" stroke="#555" stroke-width="1.2"/>
<g transform="translate(165.4 1954.6) scale(2)" stroke-width="1" fill="none"><path stroke="#e2e2e2" d="M57 4.5h1M53 5.5h1M75 10.5h2M62 12.5h2M56 13.5h1M46 14.5h1m10 0h1M46 15.5h2m16 0h2M45 16.5h2m16 0h2m10 0h1M46 17.5h2m8 0h2m5 0h1m11 0h1m10 0h1M40 18.5h1m14 0h1m11 0h1M40 19.5h1m12 0h1m13 0h4M52 20.5h2m1 0h4m8 0h1m1 0h1m1 0h1M39 21.5h1m14 0h1m16 0h1M52 22.5h1m6 0h4m3 0h5M54 23.5h2m1 0h2m4 0h1m3 0h2m8 0h2M35 24.5h1m15 0h3m2 0h3m4 0h2m1 0h1m2 0h1m8 0h1m4 0h1M48 25.5h1m2 0h1m8 0h1m5 0h1m2 0h1m4 0h1m1 0h1m2 0h1m3 0h1M47 26.5h2m1 0h2m5 0h2m2 0h1m4 0h1m7 0h1M52 27.5h1m1 0h1m3 0h2m12 0h1m1 0h1M50 28.5h1m1 0h3m4 0h2m1 0h1m4 0h2m3 0h2m26 0h2M47 29.5h1m1 0h1m1 0h1m4 0h1m1 0h2m1 0h3m3 0h3m18 0h2m11 0h1M47 30.5h1m1 0h1m1 0h1m5 0h2m3 0h2m2 0h2m2 0h1M48 31.5h2m2 0h4m2 0h1m1 0h2m1 0h1m4 0h3m2 0h1m1 0h2M49 32.5h2m1 0h4m3 0h2m1 0h3m3 0h1m1 0h2m2 0h1m1 0h1m1 0h2m7 0h1M50 33.5h1m4 0h2m1 0h1m1 0h1m1 0h2m1 0h1m5 0h2m2 0h3m1 0h1m6 0h1M44 34.5h3m2 0h1m5 0h1m1 0h2m1 0h2m1 0h1m1 0h2m3 0h1m5 0h2M46 35.5h2m2 0h2m2 0h1m1 0h7m4 0h1m1 0h4m2 0h1m3 0h1m13 0h2M38 36.5h1m4 0h2m3 0h2m2 0h2m2 0h5m2 0h1m4 0h1m1 0h1m1 0h1m1 0h1m1 0h2m1 0h3m10 0h1M37 37.5h1m1 0h1m5 0h1m4 0h2m3 0h4m1 0h1m2 0h2m1 0h1m1 0h1m2 0h3m2 0h1m7 0h1M39 38.5h3m1 0h1m1 0h1m3 0h3m1 0h1m2 0h1m2 0h2m1 0h3m2 0h1m2 0h1m4 0h1m9 0h1M41 39.5h1m10 0h2m1 0h1m1 0h1m1 0h1m1 0h1m2 0h1m1 0h1m1 0h5m2 0h1m8 0h1M38 40.5h2m1 0h1m10 0h1m3 0h1m1 0h1m1 0h1m1 0h2m1 0h1m7 0h2m6 0h2m1 0h1M38 41.5h1m12 0h2m1 0h1m4 0h1m1 0h1m1 0h1m2 0h2m3 0h1m4 0h2m1 0h2m2 0h2M38 42.5h1m6 0h1m7 0h1m1 0h4m5 0h1m2 0h2m2 0h1m3 0h1m2 0h1m13 0h1M37 43.5h1m1 0h2m1 0h1m9 0h2m7 0h1m1 0h2m1 0h3m3 0h2m1 0h1m1 0h1m2 0h1m1 0h2m3 0h1M38 44.5h2m2 0h1m9 0h1m2 0h1m1 0h2m1 0h1m5 0h1m1 0h2m2 0h1m2 0h4m3 0h6M33 45.5h1m5 0h3m9 0h1m1 0h1m1 0h1m2 0h3m1 0h1m1 0h2m1 0h1m1 0h4m3 0h1m2 0h2m3 0h1m2 0h1M38 46.5h1m4 0h2m6 0h1m1 0h7m3 0h2m4 0h4m2 0h1M37 47.5h2m3 0h2m1 0h1m5 0h3m1 0h1m3 0h3m5 0h3m3 0h1m4 0h4m12 0h2M44 48.5h1m1 0h1m12 0h1m2 0h1m6 0h1m3 0h2m2 0h1m2 0h1M40 49.5h2m3 0h1m1 0h3m1 0h2m3 0h3m1 0h2m1 0h2m1 0h1m1 0h6m5 0h1m6 0h3m3 0h2M41 50.5h1m2 0h2m5 0h4m1 0h1m1 0h2m5 0h2m1 0h1m2 0h1m1 0h1m2 0h2m1 0h1m1 0h1m4 0h2m5 0h1M43 51.5h2m1 0h1m1 0h2m1 0h1m2 0h1m5 0h1m2 0h2m3 0h1m7 0h5m1 0h1M44 52.5h2m1 0h1m1 0h1m3 0h1m1 0h1m1 0h2m1 0h1m5 0h1m1 0h4m1 0h1m2 0h2m12 0h2M50 53.5h1m2 0h1m1 0h1m2 0h2m1 0h1m2 0h3m2 0h1m1 0h4m1 0h1m3 0h1m2 0h2m3 0h3M47 54.5h2m7 0h1m1 0h1m1 0h1m3 0h1m2 0h2m2 0h3m1 0h3m1 0h1m1 0h2m1 0h1m1 0h1m1 0h1M34 55.5h1m14 0h1m7 0h3m1 0h1m3 0h1m1 0h2m2 0h1m3 0h1m1 0h1m1 0h1m3 0h1m2 0h1m3 0h1M41 56.5h1m4 0h1m1 0h1m1 0h1m1 0h1m1 0h6m1 0h3m4 0h1m2 0h2m1 0h1m2 0h2m4 0h2m2 0h1m2 0h1M38 57.5h3m6 0h1m1 0h2m1 0h1m1 0h1m3 0h2m2 0h6m1 0h3m1 0h1m1 0h1m3 0h2m2 0h1m2 0h3m1 0h1M39 58.5h1m6 0h4m1 0h6m1 0h1m3 0h5m1 0h1m1 0h1m1 0h3m1 0h5m4 0h6M48 59.5h4m1 0h2m2 0h1m1 0h1m1 0h3m1 0h6m2 0h4m1 0h1m6 0h1m11 0h1M29 60.5h3m8 0h4m3 0h1m6 0h1m1 0h3m1 0h1m3 0h2m1 0h1m1 0h1m3 0h1m3 0h2m3 0h3m1 0h4m7 0h1m4 0h1M42 61.5h1m6 0h1m4 0h2m1 0h1m1 0h1m1 0h4m1 0h4m3 0h1m2 0h1m1 0h5m1 0h1m1 0h1m14 0h2M48 62.5h2m1 0h1m2 0h1m1 0h1m5 0h1m1 0h3m1 0h2m4 0h7m1 0h2m1 0h2M33 63.5h1m2 0h1m6 0h4m2 0h1m2 0h2m3 0h1m1 0h3m2 0h1m3 0h1m1 0h2m1 0h7m1 0h8M34 64.5h1m1 0h1m8 0h1m1 0h1m4 0h3m1 0h1m1 0h1m1 0h1m4 0h1m1 0h1m3 0h1m1 0h1m1 0h4m1 0h1m1 0h1m3 0h3M49 65.5h1m2 0h1m3 0h2m4 0h1m2 0h4m1 0h4m1 0h1m1 0h1m1 0h6m4 0h1m1 0h2M44 66.5h1m6 0h1m1 0h2m4 0h5m2 0h3m1 0h3m2 0h3m1 0h3m4 0h1m2 0h3M44 67.5h1m1 0h1m1 0h1m1 0h5m1 0h1m1 0h1m1 0h2m2 0h3m1 0h7m1 0h4m1 0h1m1 0h1m2 0h2m1 0h1m8 0h2m4 0h1M43 68.5h3m1 0h1m1 0h1m2 0h6m1 0h2m4 0h2m1 0h5m1 0h1m2 0h3m1 0h1m1 0h2m1 0h4m2 0h1m2 0h2m3 0h1m2 0h2m1 0h1M42 69.5h2m2 0h3m2 0h1m3 0h2m2 0h9m1 0h1m1 0h1m1 0h6m1 0h9m1 0h4m1 0h2m8 0h2M38 70.5h2m7 0h1m1 0h5m1 0h15m1 0h3m1 0h2m1 0h5m2 0h1m3 0h1m1 0h2m1 0h2M42 71.5h1m5 0h1m5 0h4m1 0h2m1 0h5m3 0h5m1 0h10m4 0h1m2 0h3m7 0h1M42 72.5h1m2 0h2m2 0h3m3 0h1m4 0h4m1 0h3m1 0h1m1 0h2m1 0h3m2 0h9m4 0h2m8 0h1M43 73.5h1m2 0h1m2 0h1m1 0h9m1 0h10m4 0h5m5 0h1m1 0h1m3 0h1m1 0h1m4 0h1m1 0h2M41 74.5h3m1 0h1m1 0h1m4 0h1m1 0h1m1 0h6m1 0h1m2 0h3m1 0h2m1 0h3m1 0h1m1 0h2m1 0h2m1 0h1m1 0h2m8 0h2M47 75.5h4m3 0h2m2 0h1m1 0h7m1 0h6m1 0h3m2 0h3m3 0h1m2 0h5M39 76.5h1m1 0h1m6 0h2m3 0h1m2 0h9m4 0h7m4 0h1m1 0h3m3 0h2m2 0h1m4 0h1M41 77.5h2m4 0h4m1 0h2m2 0h1m1 0h1m1 0h5m9 0h4m1 0h5m1 0h3m2 0h1m1 0h1m1 0h1m1 0h1m1 0h1M35 78.5h1m14 0h1m1 0h2m1 0h4m1 0h3m1 0h2m9 0h3m2 0h1m2 0h4m2 0h1m1 0h2m2 0h1m5 0h1M35 79.5h1m6 0h1m3 0h2m4 0h1m2 0h1m2 0h3m4 0h2m6 0h3m11 0h1m2 0h2m3 0h1m5 0h1M40 80.5h2m2 0h1m1 0h2m3 0h4m2 0h1m2 0h5m2 0h1m5 0h2m1 0h2m8 0h8m5 0h2m1 0h1M36 81.5h1m4 0h1m1 0h1m8 0h1m3 0h2m3 0h2m1 0h3m1 0h1m4 0h4m3 0h1m5 0h1m2 0h2M35 82.5h1m2 0h1m1 0h1m7 0h10m3 0h2m1 0h6m1 0h11m2 0h1m1 0h2m1 0h1m2 0h2m22 0h1M38 83.5h1m1 0h1m5 0h3m1 0h1m3 0h5m2 0h1m1 0h1m3 0h1m3 0h6m1 0h5m1 0h3m4 0h1M32 84.5h1m1 0h2m9 0h1m1 0h3m1 0h1m1 0h4m1 0h1m2 0h1m1 0h1m7 0h9m1 0h1m1 0h1m1 0h3m2 0h4m1 0h3m3 0h1M31 85.5h3m2 0h1m6 0h1m2 0h1m1 0h1m3 0h7m12 0h2m1 0h7m1 0h5m1 0h1m2 0h1m1 0h1m2 0h1m4 0h1M36 86.5h1m4 0h3m2 0h3m2 0h1m1 0h2m2 0h1m7 0h1m7 0h2m2 0h4m1 0h2m1 0h2m1 0h1m2 0h4M35 87.5h4m7 0h2m1 0h1m1 0h4m2 0h1m8 0h1m8 0h2m2 0h6m1 0h1m1 0h3m1 0h1M36 88.5h1m12 0h6m1 0h2m8 0h4m5 0h4m1 0h1m1 0h7m2 0h4m43 0h1M37 89.5h3m5 0h1m2 0h3m1 0h1m1 0h1m5 0h1m6 0h2m12 0h3m1 0h1m1 0h5M37 90.5h1m5 0h1m1 0h2m2 0h6m2 0h2m7 0h3m3 0h1m6 0h2m1 0h1m2 0h4m7 0h2M45 91.5h2m1 0h3m2 0h3m1 0h2m7 0h4m9 0h2m2 0h3m2 0h2m1 0h1m1 0h2m2 0h1M33 92.5h1m8 0h4m2 0h2m1 0h4m1 0h3m8 0h2m7 0h1m1 0h4m2 0h1m1 0h1m1 0h1m1 0h2m1 0h2m1 0h2M37 93.5h2m4 0h1m1 0h9m1 0h5m7 0h3m5 0h5m2 0h3m2 0h4m2 0h1M27 94.5h3m3 0h1m3 0h2m5 0h1m1 0h1m1 0h8m3 0h3m4 0h3m1 0h1m8 0h2m1 0h1m1 0h2m1 0h1m2 0h1m3 0h2m4 0h1M24 95.5h1m4 0h1m1 0h1m1 0h2m1 0h2m4 0h1m1 0h1m1 0h1m1 0h3m2 0h1m1 0h2m3 0h1m4 0h1m1 0h4m8 0h5m2 0h2m3 0h1m2 0h2M26 96.5h1m3 0h2m7 0h1m1 0h2m3 0h5m1 0h1m2 0h1m4 0h3m4 0h3m8 0h3m3 0h2m2 0h1m3 0h1m1 0h2M25 97.5h5m2 0h1m1 0h1m3 0h1m5 0h1m1 0h6m2 0h3m4 0h3m4 0h1m1 0h2m1 0h1m1 0h1m2 0h1m2 0h2m1 0h1m1 0h1m2 0h1M21 98.5h1m1 0h1m2 0h1m2 0h4m2 0h1m1 0h3m1 0h5m1 0h2m1 0h3m1 0h2m8 0h1m3 0h1m1 0h3m1 0h1m2 0h6m1 0h2m1 0h1M17 99.5h2m3 0h1m1 0h1m4 0h8m1 0h1m1 0h2m1 0h2m2 0h7m1 0h1m5 0h1m1 0h1m1 0h1m1 0h9m1 0h3m1 0h4m1 0h1m1 0h2M18 100.5h1m3 0h1m2 0h1m1 0h2m1 0h1m2 0h1m3 0h1m3 0h1m1 0h3m1 0h10m4 0h6m1 0h3m1 0h1m1 0h1m2 0h1m1 0h5m1 0h1m1 0h1M12 101.5h2m2 0h3m4 0h1m2 0h2m3 0h1m1 0h4m1 0h2m1 0h3m1 0h13m1 0h9m1 0h1m1 0h1m1 0h2m1 0h2m2 0h3m2 0h1m2 0h1M5 102.5h1m9 0h3m5 0h2m1 0h1m1 0h2m4 0h3m2 0h1m1 0h1m1 0h7m1 0h1m2 0h2m2 0h4m1 0h1m1 0h7m1 0h2m1 0h7m1 0h1m6 0h1M5 103.5h2m12 0h2m3 0h1m1 0h2m3 0h1m1 0h1m4 0h3m1 0h2m1 0h1m1 0h1m2 0h2m1 0h1m1 0h2m2 0h4m1 0h2m1 0h2m2 0h1m1 0h1m1 0h2m1 0h3m1 0h2m5 0h1m1 0h1M10 104.5h1m12 0h2m3 0h1m1 0h1m2 0h1m2 0h2m3 0h1m1 0h3m1 0h5m2 0h26m1 0h1m1 0h3m2 0h2M11 105.5h1m6 0h2m5 0h1m1 0h1m2 0h1m2 0h1m7 0h3m2 0h2m1 0h6m1 0h1m3 0h3m1 0h1m1 0h2m1 0h2m1 0h2m2 0h2m1 0h4m1 0h2M7 106.5h1m3 0h2m4 0h5m1 0h1m1 0h1m2 0h2m2 0h7m2 0h2m1 0h2m1 0h4m3 0h3m1 0h2m1 0h5m1 0h10m1 0h1m4 0h1m4 0h1M3 107.5h1m5 0h2m3 0h1m2 0h2m1 0h1m1 0h1m1 0h1m3 0h2m6 0h3m1 0h1m1 0h1m5 0h1m2 0h1m1 0h2m2 0h3m1 0h1m2 0h4m1 0h2m3 0h2m4 0h1m7 0h2M9 108.5h1m7 0h1m1 0h1m1 0h1m1 0h1m3 0h6m2 0h2m1 0h6m8 0h2m2 0h6m1 0h2m1 0h1m1 0h2m2 0h1m2 0h1m2 0h4m1 0h2m12 0h1M9 109.5h1m1 0h1m1 0h4m3 0h3m1 0h1m4 0h1m1 0h5m1 0h4m1 0h1m2 0h3m1 0h1m1 0h2m1 0h2m1 0h4m1 0h1m1 0h1m1 0h5m2 0h2m1 0h1m1 0h3m1 0h3m1 0h2M11 110.5h1m3 0h2m1 0h3m6 0h1m2 0h1m1 0h1m1 0h1m2 0h3m1 0h2m1 0h1m1 0h9m1 0h7m1 0h1m1 0h2m1 0h3m1 0h1m4 0h5m4 0h2M17 111.5h2m1 0h1m5 0h9m1 0h4m3 0h1m1 0h1m2 0h1m1 0h3m1 0h9m1 0h4m1 0h5m2 0h1m1 0h2m1 0h2M21 112.5h6m2 0h2m3 0h3m3 0h1m2 0h5m4 0h3m1 0h1m2 0h3m1 0h3m8 0h3m6 0h1m1 0h1M17 113.5h2m2 0h1m1 0h2m1 0h2m1 0h2m3 0h3m1 0h3m1 0h5m3 0h6m1 0h5m1 0h2m1 0h2m1 0h2m1 0h2m3 0h3m1 0h1m2 0h1m3 0h1M13 114.5h1m1 0h1m2 0h4m1 0h1m2 0h2m2 0h5m2 0h4m5 0h4m1 0h1m4 0h3m1 0h3m1 0h4m1 0h2m1 0h1m4 0h7m1 0h1m2 0h3m1 0h1m4 0h1M5 115.5h1m5 0h1m3 0h2m1 0h1m1 0h1m3 0h2m1 0h1m1 0h4m1 0h4m2 0h2m1 0h5m1 0h2m4 0h2m6 0h5m1 0h8m1 0h2m9 0h1m1 0h3m1 0h2M5 116.5h1m3 0h3m2 0h1m2 0h1m2 0h2m1 0h3m3 0h3m1 0h2m2 0h1m1 0h8m8 0h1m7 0h4m3 0h13m1 0h1m3 0h3m1 0h4m1 0h1M6 117.5h1m3 0h1m1 0h2m1 0h1m2 0h3m1 0h2m1 0h1m1 0h2m1 0h1m1 0h4m1 0h7m2 0h2m15 0h3m9 0h1m1 0h3m1 0h2m2 0h3m1 0h5m3 0h1m2 0h1M8 118.5h1m2 0h1m1 0h1m1 0h2m3 0h1m1 0h3m5 0h1m3 0h1m3 0h1m2 0h7m25 0h1m1 0h2m1 0h5m1 0h3m1 0h7m2 0h1m2 0h2M7 119.5h1m2 0h1m5 0h2m1 0h1m2 0h1m2 0h1m1 0h10m6 0h4m29 0h3m1 0h1m4 0h5m1 0h2m1 0h4M4 120.5h1m2 0h1m1 0h1m5 0h1m2 0h2m2 0h1m1 0h1m3 0h1m1 0h8m39 0h1m1 0h1m1 0h2m3 0h2m4 0h9M4 121.5h2m4 0h1m1 0h1m2 0h2m1 0h1m2 0h3m1 0h2m1 0h7m1 0h4m52 0h7m2 0h1M5 122.5h2m4 0h1m2 0h3m5 0h2m1 0h2m1 0h5m1 0h1m1 0h1m1 0h1m55 0h4m1 0h2m1 0h1m1 0h1M4 123.5h1m1 0h1m6 0h1m1 0h1m2 0h1m2 0h4m1 0h4m1 0h1m1 0h3m1 0h3m54 0h3m2 0h1m2 0h2M6 124.5h1m5 0h6m1 0h2m3 0h2m1 0h1m2 0h5m1 0h7m53 0h2m2 0h1m1 0h1M13 125.5h2m4 0h1m3 0h1m2 0h3m1 0h1m3 0h2m1 0h1m3 0h3m52 0h3m1 0h1M14 126.5h1m3 0h1m5 0h1m1 0h2m3 0h1m1 0h1m1 0h2m1 0h2m1 0h4m50 0h6M22 127.5h2m1 0h3m3 0h1m1 0h2m1 0h6m2 0h2m48 0h1m1 0h2m1 0h4M9 128.5h1m3 0h1m1 0h1m2 0h1m1 0h6m2 0h2m2 0h1m1 0h1m1 0h1m1 0h6m1 0h2m30 0h2m15 0h2m2 0h3M9 129.5h2m4 0h1m3 0h3m2 0h1m2 0h2m2 0h1m1 0h2m1 0h2m6 0h1m1 0h2m29 0h1m15 0h6M10 130.5h1m5 0h2m1 0h1m10 0h1m1 0h2m1 0h1m2 0h2m2 0h4m4 0h1m11 0h1m12 0h1m1 0h8m5 0h5m1 0h1m1 0h2M15 131.5h1m2 0h3m1 0h3m1 0h3m1 0h1m2 0h7m1 0h1m1 0h7m2 0h2m6 0h4m6 0h1m4 0h3m2 0h2m1 0h3m3 0h2m1 0h1m1 0h1m4 0h2M24 132.5h2m2 0h1m1 0h1m4 0h1m4 0h1m2 0h1m1 0h2m1 0h1m1 0h5m2 0h1m2 0h7m2 0h3m1 0h3m2 0h3m1 0h4m2 0h9m2 0h3M23 133.5h2m2 0h2m2 0h1m1 0h1m5 0h4m5 0h1m2 0h1m2 0h4m2 0h2m1 0h2m1 0h1m3 0h4m1 0h2m1 0h3m1 0h2m2 0h2m2 0h2m2 0h1m3 0h1M13 134.5h1m11 0h2m5 0h3m7 0h1m1 0h1m3 0h2m2 0h5m1 0h3m1 0h6m3 0h2m1 0h1m1 0h2m3 0h2m2 0h3M12 135.5h2m2 0h3m2 0h1m19 0h1m1 0h2m1 0h1m2 0h1m3 0h1m2 0h1m1 0h1m1 0h2m1 0h1m2 0h1m3 0h1m1 0h1m1 0h2m1 0h1m2 0h1m2 0h2m3 0h3M13 136.5h1m7 0h1m18 0h1m5 0h3m1 0h1m1 0h1m1 0h1m1 0h3m1 0h1m1 0h6m6 0h1m3 0h1m1 0h2m7 0h1m2 0h1M54 137.5h2m3 0h1m3 0h2m1 0h1m1 0h2m4 0h1m1 0h2m3 0h1M48 138.5h1m5 0h3m6 0h1m4 0h1M35 139.5h1m11 0h3m6 0h1M35 140.5h1M35 141.5h1M34 142.5h1"/><path stroke="#d8d8d8" d="M74 65.5h1M74 66.5h1M67 67.5h1M67 68.5h1M67 71.5h3M68 72.5h1M71 73.5h4M72 74.5h1M67 75.5h1m10 0h2M65 76.5h4m9 0h2M65 77.5h9m4 0h1M63 78.5h1m2 0h3m1 0h5m3 0h1m2 0h2M56 79.5h2m5 0h2m3 0h5m5 0h6M55 80.5h1m2 0h2m8 0h5m5 0h5m1 0h2M55 81.5h1m2 0h2m9 0h3m6 0h2m2 0h4M58 82.5h3m9 0h1m14 0h1M59 83.5h2m3 0h2m2 0h3M59 84.5h2m3 0h7M59 85.5h11M58 86.5h7m1 0h7M58 87.5h8m1 0h4m1 0h2M55 88.5h1m2 0h2m1 0h5m4 0h5M55 89.5h2m1 0h2m1 0h5m3 0h10M55 90.5h2m2 0h7m3 0h3m1 0h6M59 91.5h7m4 0h1m2 0h6M59 92.5h5m1 0h2m3 0h5M54 93.5h1m7 0h4m4 0h5M62 94.5h4m5 0h4m1 0h3M57 95.5h2m3 0h3m6 0h2m1 0h5M56 96.5h4m4 0h3m4 0h7M57 97.5h4m3 0h4m8 0h2M56 98.5h8m3 0h1M56 99.5h5m1 0h1M57 100.5h2M55 105.5h1M52 114.5h2M51 115.5h4m3 0h4M47 116.5h8m1 0h7m4 0h3M48 117.5h7m2 0h6m3 0h7m1 0h1M40 118.5h1m7 0h25m1 0h1M37 119.5h6m4 0h18m1 0h10m7 0h2m5 0h1M38 120.5h39m6 0h2m4 0h2M40 121.5h52M40 122.5h53M40 123.5h39m1 0h14M43 124.5h52M44 125.5h9m1 0h41M45 126.5h35m1 0h11m1 0h2M42 127.5h1m3 0h14m1 0h33m1 0h1M47 128.5h30m2 0h15m2 0h1M45 129.5h1m2 0h27m1 0h1m3 0h13M48 130.5h2m1 0h3m2 0h5m2 0h8m1 0h3m10 0h4M55 131.5h5m4 0h5m3 0h3m11 0h3M55 132.5h1m11 0h2m17 0h2"/><path stroke="#e2e2e2" stroke-width="0.65" d="M48.2 0.5h.65M74.2 0.5h.65M78.2 0.5h.65M63.2 1.5h.65M57.2 2.5h.65M77.2 2.5h.65M21.2 3.5h.65M52.2 3.5h.65M63.2 3.5h.65M88.2 3.5h.65M93.2 3.5h.65M121.2 3.5h.65M37.2 4.5h.65M51.2 4.5h.65M63.2 4.5h.65M24.2 5.5h.65M42.2 5.5h.65M55.2 5.5h.65M66.2 5.5h.65M90.2 5.5h.65M39.2 6.5h.65M47.2 6.5h.65M84.2 6.5h.65M89.2 6.5h.65M46.2 7.5h.65M56.2 7.5h.65M68.2 7.5h.65M85.2 7.5h.65M100.2 7.5h.65M109.2 7.5h.65M27.2 8.5h.65M34.2 8.5h.65M40.2 8.5h.65M51.2 8.5h.65M67.2 8.5h.65M77.2 8.5h.65M46.2 9.5h.65M52.2 9.5h.65M65.2 9.5h.65M74.2 9.5h.65M55.2 10.5h.65M57.2 10.5h.65M61.2 10.5h.65M67.2 10.5h.65M85.2 10.5h.65M86.2 10.5h.65M51.2 11.5h.65M65.2 11.5h.65M66.2 11.5h.65M90.2 11.5h.65M103.2 11.5h.65M25.2 12.5h.65M29.2 12.5h.65M76.2 12.5h.65M82.2 12.5h.65M90.2 12.5h.65M29.2 13.5h.65M49.2 13.5h.65M64.2 13.5h.65M68.2 13.5h.65M70.2 13.5h.65M83.2 13.5h.65M124.2 13.5h.65M14.2 14.5h.65M50.2 14.5h.65M52.2 14.5h.65M59.2 14.5h.65M78.2 14.5h.65M22.2 15.5h.65M36.2 15.5h.65M41.2 15.5h.65M44.2 15.5h.65M58.2 15.5h.65M69.2 15.5h.65M81.2 15.5h.65M27.2 16.5h.65M35.2 16.5h.65M39.2 16.5h.65M60.2 16.5h.65M73.2 16.5h.65M77.2 16.5h.65M82.2 16.5h.65M84.2 16.5h.65M93.2 16.5h.65M19.2 17.5h.65M50.2 17.5h.65M51.2 17.5h.65M54.2 17.5h.65M58.2 17.5h.65M65.2 17.5h.65M84.2 17.5h.65M45.2 18.5h.65M49.2 18.5h.65M72.2 18.5h.65M22.2 19.5h.65M42.2 19.5h.65M60.2 19.5h.65M62.2 19.5h.65M64.2 19.5h.65M73.2 19.5h.65M80.2 19.5h.65M22.2 20.5h.65M63.2 20.5h.65M74.2 20.5h.65M79.2 20.5h.65M85.2 20.5h.65M87.2 20.5h.65M91.2 20.5h.65M98.2 20.5h.65M37.2 21.5h.65M42.2 21.5h.65M91.2 21.5h.65M47.2 22.5h.65M49.2 22.5h.65M51.2 22.5h.65M64.2 22.5h.65M76.2 22.5h.65M83.2 22.5h.65M87.2 22.5h.65M89.2 22.5h.65M101.2 22.5h.65M119.2 22.5h.65M22.2 23.5h.65M41.2 23.5h.65M75.2 23.5h.65M15.2 24.5h.65M34.2 24.5h.65M38.2 24.5h.65M40.2 24.5h.65M49.2 24.5h.65M16.2 25.5h.65M17.2 25.5h.65M32.2 25.5h.65M35.2 25.5h.65M43.2 25.5h.65M45.2 25.5h.65M70.2 25.5h.65M80.2 25.5h.65M32.2 26.5h.65M41.2 26.5h.65M45.2 26.5h.65M62.2 26.5h.65M79.2 26.5h.65M86.2 26.5h.65M87.2 26.5h.65M89.2 26.5h.65M91.2 26.5h.65M99.2 26.5h.65M109.2 26.5h.65M42.2 27.5h.65M56.2 27.5h.65M65.2 27.5h.65M94.2 27.5h.65M118.2 27.5h.65M128.2 27.5h.65M29.2 28.5h.65M30.2 28.5h.65M70.2 28.5h.65M76.2 28.5h.65M77.2 28.5h.65M82.2 28.5h.65M40.2 29.5h.65M78.2 29.5h.65M103.2 29.5h.65M12.2 30.5h.65M32.2 30.5h.65M46.2 30.5h.65M72.2 30.5h.65M33.2 31.5h.65M35.2 31.5h.65M90.2 31.5h.65M94.2 31.5h.65M100.2 31.5h.65M109.2 31.5h.65M38.2 32.5h.65M82.2 32.5h.65M89.2 32.5h.65M91.2 32.5h.65M94.2 32.5h.65M104.2 32.5h.65M105.2 32.5h.65M114.2 32.5h.65M23.2 33.5h.65M42.2 33.5h.65M83.2 33.5h.65M85.2 33.5h.65M92.2 33.5h.65M97.2 33.5h.65M112.2 33.5h.65M117.2 33.5h.65M17.2 34.5h.65M28.2 34.5h.65M31.2 34.5h.65M35.2 34.5h.65M37.2 34.5h.65M38.2 34.5h.65M40.2 34.5h.65M87.2 34.5h.65M96.2 34.5h.65M106.2 34.5h.65M40.2 35.5h.65M42.2 35.5h.65M98.2 35.5h.65M122.2 35.5h.65M133.2 35.5h.65M29.2 36.5h.65M84.2 36.5h.65M95.2 36.5h.65M36.2 37.5h.65M89.2 37.5h.65M16.2 38.5h.65M25.2 38.5h.65M46.2 38.5h.65M88.2 38.5h.65M125.2 38.5h.65M30.2 39.5h.65M34.2 39.5h.65M36.2 39.5h.65M105.2 39.5h.65M34.2 40.5h.65M43.2 40.5h.65M78.2 40.5h.65M95.2 40.5h.65M47.2 41.5h.65M48.2 41.5h.65M87.2 41.5h.65M94.2 41.5h.65M120.2 41.5h.65M25.2 42.5h.65M30.2 42.5h.65M32.2 42.5h.65M33.2 42.5h.65M101.2 42.5h.65M102.2 42.5h.65M106.2 42.5h.65M89.2 43.5h.65M122.2 43.5h.65M11.2 44.5h.65M23.2 44.5h.65M26.2 44.5h.65M32.2 44.5h.65M46.2 44.5h.65M49.2 44.5h.65M90.2 44.5h.65M91.2 44.5h.65M123.2 44.5h.65M34.2 45.5h.65M48.2 45.5h.65M102.2 45.5h.65M18.2 46.5h.65M29.2 46.5h.65M32.2 46.5h.65M48.2 46.5h.65M94.2 46.5h.65M103.2 46.5h.65M117.2 46.5h.65M122.2 46.5h.65M1.2 47.5h.65M65.2 47.5h.65M82.2 47.5h.65M86.2 47.5h.65M90.2 47.5h.65M96.2 47.5h.65M106.2 47.5h.65M109.2 47.5h.65M115.2 47.5h.65M35.2 48.5h.65M84.2 48.5h.65M14.2 49.5h.65M24.2 49.5h.65M29.2 49.5h.65M31.2 49.5h.65M34.2 49.5h.65M38.2 49.5h.65M97.2 49.5h.65M102.2 49.5h.65M91.2 50.5h.65M97.2 50.5h.65M100.2 50.5h.65M6.2 51.5h.65M9.2 51.5h.65M37.2 51.5h.65M95.2 51.5h.65M101.2 51.5h.65M15.2 52.5h.65M21.2 52.5h.65M40.2 52.5h.65M93.2 52.5h.65M97.2 52.5h.65M101.2 52.5h.65M108.2 52.5h.65M114.2 52.5h.65M134.2 52.5h.65M18.2 53.5h.65M35.2 53.5h.65M40.2 53.5h.65M95.2 53.5h.65M105.2 53.5h.65M109.2 53.5h.65M111.2 53.5h.65M143.2 53.5h.65M22.2 54.5h.65M37.2 54.5h.65M42.2 54.5h.65M44.2 54.5h.65M51.2 54.5h.65M92.2 54.5h.65M102.2 54.5h.65M7.2 55.5h.65M33.2 55.5h.65M35.2 55.5h.65M42.2 55.5h.65M96.2 55.5h.65M99.2 55.5h.65M117.2 55.5h.65M31.2 56.5h.65M98.2 56.5h.65M29.2 57.5h.65M31.2 57.5h.65M34.2 57.5h.65M36.2 57.5h.65M105.2 57.5h.65M107.2 57.5h.65M12.2 58.5h.65M19.2 58.5h.65M20.2 58.5h.65M42.2 58.5h.65M93.2 58.5h.65M104.2 58.5h.65M107.2 58.5h.65M122.2 58.5h.65M130.2 58.5h.65M14.2 59.5h.65M27.2 59.5h.65M94.2 59.5h.65M96.2 59.5h.65M9.2 60.5h.65M25.2 60.5h.65M26.2 60.5h.65M34.2 60.5h.65M39.2 60.5h.65M93.2 60.5h.65M104.2 60.5h.65M105.2 60.5h.65M21.2 61.5h.65M45.2 61.5h.65M94.2 61.5h.65M20.2 62.5h.65M34.2 62.5h.65M37.2 62.5h.65M90.2 62.5h.65M92.2 62.5h.65M96.2 62.5h.65M97.2 62.5h.65M101.2 62.5h.65M124.2 62.5h.65M22.2 63.5h.65M104.2 63.5h.65M128.2 63.5h.65M41.2 64.5h.65M94.2 64.5h.65M111.2 64.5h.65M141.2 64.5h.65M28.2 65.5h.65M33.2 65.5h.65M36.2 65.5h.65M99.2 65.5h.65M104.2 65.5h.65M38.2 66.5h.65M93.2 66.5h.65M96.2 66.5h.65M101.2 66.5h.65M103.2 66.5h.65M122.2 66.5h.65M21.2 67.5h.65M22.2 67.5h.65M24.2 67.5h.65M29.2 67.5h.65M32.2 67.5h.65M35.2 67.5h.65M38.2 67.5h.65M107.2 67.5h.65M128.2 67.5h.65M23.2 68.5h.65M34.2 68.5h.65M41.2 68.5h.65M118.2 68.5h.65M4.2 69.5h.65M28.2 69.5h.65M111.2 69.5h.65M12.2 70.5h.65M44.2 70.5h.65M107.2 70.5h.65M113.2 70.5h.65M119.2 70.5h.65M141.2 70.5h.65M13.2 71.5h.65M21.2 71.5h.65M33.2 71.5h.65M100.2 71.5h.65M105.2 71.5h.65M108.2 71.5h.65M109.2 71.5h.65M121.2 71.5h.65M21.2 72.5h.65M27.2 72.5h.65M39.2 72.5h.65M106.2 72.5h.65M111.2 72.5h.65M10.2 73.5h.65M25.2 73.5h.65M35.2 73.5h.65M96.2 73.5h.65M22.2 74.5h.65M28.2 74.5h.65M35.2 74.5h.65M106.2 74.5h.65M130.2 74.5h.65M4.2 75.5h.65M36.2 75.5h.65M105.2 75.5h.65M8.2 76.5h.65M32.2 76.5h.65M102.2 76.5h.65M17.2 77.5h.65M32.2 77.5h.65M123.2 77.5h.65M15.2 78.5h.65M23.2 78.5h.65M28.2 78.5h.65M43.2 78.5h.65M99.2 78.5h.65M103.2 78.5h.65M105.2 78.5h.65M109.2 78.5h.65M115.2 78.5h.65M6.2 79.5h.65M31.2 79.5h.65M32.2 79.5h.65M140.2 79.5h.65M14.2 80.5h.65M49.2 80.5h.65M125.2 80.5h.65M17.2 81.5h.65M94.2 81.5h.65M99.2 81.5h.65M104.2 81.5h.65M115.2 81.5h.65M10.2 82.5h.65M31.2 82.5h.65M102.2 82.5h.65M19.2 83.5h.65M30.2 83.5h.65M42.2 83.5h.65M15.2 84.5h.65M24.2 84.5h.65M98.2 84.5h.65M103.2 84.5h.65M109.2 84.5h.65M14.2 85.5h.65M100.2 85.5h.65M124.2 85.5h.65M19.2 86.5h.65M40.2 86.5h.65M106.2 86.5h.65M119.2 86.5h.65M134.2 86.5h.65M15.2 87.5h.65M27.2 87.5h.65M34.2 87.5h.65M110.2 87.5h.65M129.2 87.5h.65M138.2 87.5h.65M6.2 88.5h.65M31.2 88.5h.65M102.2 88.5h.65M104.2 88.5h.65M119.2 88.5h.65M24.2 89.5h.65M41.2 89.5h.65M43.2 89.5h.65M138.2 89.5h.65M16.2 90.5h.65M32.2 90.5h.65M33.2 90.5h.65M35.2 90.5h.65M106.2 90.5h.65M108.2 90.5h.65M122.2 90.5h.65M28.2 91.5h.65M29.2 91.5h.65M119.2 91.5h.65M4.2 92.5h.65M7.2 92.5h.65M31.2 92.5h.65M106.2 92.5h.65M9.2 93.5h.65M18.2 93.5h.65M23.2 93.5h.65M107.2 93.5h.65M26.2 94.5h.65M40.2 94.5h.65M99.2 94.5h.65M101.2 94.5h.65M108.2 94.5h.65M12.2 96.5h.65M23.2 96.5h.65M10.2 97.5h.65M11.2 97.5h.65M99.2 97.5h.65M1.2 98.5h.65M16.2 98.5h.65M91.2 98.5h.65M13.2 99.5h.65M20.2 99.5h.65M91.2 99.5h.65M97.2 99.5h.65M121.2 99.5h.65M0.2 100.5h.65M6.2 100.5h.65M107.2 100.5h.65M11.2 101.5h.65M21.2 101.5h.65M90.2 101.5h.65M110.2 101.5h.65M0.2 102.5h.65M4.2 102.5h.65M94.2 102.5h.65M7.2 103.5h.65M11.2 103.5h.65M21.2 103.5h.65M87.2 103.5h.65M94.2 103.5h.65M104.2 103.5h.65M113.2 103.5h.65M2.2 104.5h.65M16.2 104.5h.65M91.2 104.5h.65M120.2 104.5h.65M9.2 105.5h.65M15.2 105.5h.65M101.2 105.5h.65M109.2 105.5h.65M86.2 106.5h.65M2.2 107.5h.65M4.2 107.5h.65M104.2 107.5h.65M0.2 108.5h.65M8.2 109.5h.65M90.2 109.5h.65M96.2 109.5h.65M98.2 109.5h.65M120.2 109.5h.65M91.2 110.5h.65M105.2 110.5h.65M0.2 111.5h.65M3.2 111.5h.65M5.2 111.5h.65M102.2 111.5h.65M0.2 112.5h.65M6.2 112.5h.65M11.2 112.5h.65M15.2 112.5h.65M86.2 112.5h.65M89.2 112.5h.65M4.2 113.5h.65M11.2 113.5h.65M13.2 113.5h.65M93.2 113.5h.65M96.2 113.5h.65M99.2 113.5h.65M110.2 114.5h.65M86.2 115.5h.65M3.2 116.5h.65M99.2 116.5h.65M109.2 116.5h.65M105.2 117.5h.65M116.2 117.5h.65M2.2 118.5h.65M5.2 119.5h.65M118.2 119.5h.65M103.2 120.5h.65M107.2 120.5h.65M146.2 120.5h.65M105.2 121.5h.65M0.2 123.5h.65M111.2 123.5h.65M137.2 123.5h.65M8.2 124.5h.65M9.2 124.5h.65M109.2 124.5h.65M1.2 126.5h.65M4.2 126.5h.65M9.2 126.5h.65M17.2 126.5h.65M114.2 126.5h.65M119.2 126.5h.65M12.2 127.5h.65M104.2 127.5h.65M105.2 127.5h.65M114.2 127.5h.65M6.2 128.5h.65M107.2 128.5h.65M1.2 129.5h.65M5.2 129.5h.65M12.2 129.5h.65M101.2 129.5h.65M108.2 129.5h.65M0.2 130.5h.65M11.2 131.5h.65M13.2 131.5h.65M8.2 132.5h.65M10.2 132.5h.65M14.2 132.5h.65M3.2 133.5h.65M8.2 133.5h.65M1.2 134.5h.65M18.2 134.5h.65M98.2 134.5h.65M11.2 135.5h.65M15.2 135.5h.65M23.2 135.5h.65M29.2 135.5h.65M39.2 135.5h.65M93.2 135.5h.65M24.2 136.5h.65M37.2 136.5h.65M98.2 136.5h.65M102.2 136.5h.65M14.2 137.5h.65M39.2 137.5h.65M42.2 137.5h.65M72.2 137.5h.65M95.2 137.5h.65M98.2 137.5h.65M11.2 138.5h.65M35.2 138.5h.65M37.2 138.5h.65M41.2 138.5h.65M81.2 138.5h.65M22.2 139.5h.65M45.2 139.5h.65M58.2 139.5h.65M73.2 139.5h.65M79.2 139.5h.65M18.2 140.5h.65M26.2 140.5h.65M40.2 140.5h.65M52.2 140.5h.65M54.2 140.5h.65M62.2 140.5h.65M22.2 141.5h.65M27.2 141.5h.65M29.2 141.5h.65M30.2 141.5h.65M46.2 141.5h.65M61.2 141.5h.65M86.2 141.5h.65M39.2 142.5h.65M40.2 142.5h.65M46.2 142.5h.65M57.2 142.5h.65M58.2 142.5h.65M20.2 143.5h.65M34.2 143.5h.65M42.2 143.5h.65M27.2 144.5h.65M31.2 144.5h.65M94.2 144.5h.65M14.2 145.5h.65M37.2 145.5h.65M58.2 145.5h.65M76.2 145.5h.65"/></g>
<path d="M198 2036.1h1.1v1.1h-1.1zM206.2 2045.2h1.1v1.1h-1.1zM189.4 2076.3h1.1v1.1h-1.1zM232.8 2111.5h1.1v1.1h-1.1zM225 2055.1h1.1v1.1h-1.1zM213.4 2062.2h1.1v1.1h-1.1zM194.8 2036.7h1.1v1.1h-1.1zM196.9 2120.9h1.1v1.1h-1.1zM228.3 2112h1.1v1.1h-1.1zM226.8 2051h1.1v1.1h-1.1zM201.8 2097.5h1.1v1.1h-1.1zM223.3 2115.6h1.1v1.1h-1.1zM230.9 2032.8h1.1v1.1h-1.1zM216.9 2101.2h1.1v1.1h-1.1zM211.8 2048.7h1.1v1.1h-1.1zM210.2 2033.4h1.1v1.1h-1.1zM233.7 2116.4h1.1v1.1h-1.1zM213.9 2065h1.1v1.1h-1.1zM232.4 2092.7h1.1v1.1h-1.1zM231 2115.1h1.1v1.1h-1.1zM211.9 2077.6h1.1v1.1h-1.1zM216.5 2079.3h1.1v1.1h-1.1zM194.2 2065.6h1.1v1.1h-1.1zM227.4 2022.4h1.1v1.1h-1.1zM188.4 2097.4h1.1v1.1h-1.1zM200.3 2089.3h1.1v1.1h-1.1zM210 2069.9h1.1v1.1h-1.1zM236.9 2051.4h1.1v1.1h-1.1zM207.1 2052.4h1.1v1.1h-1.1zM218.3 2062.1h1.1v1.1h-1.1zM204.1 2107.3h1.1v1.1h-1.1zM202.4 2091.5h1.1v1.1h-1.1zM232.1 2035.7h1.1v1.1h-1.1zM189.1 2056h1.1v1.1h-1.1zM225 2096.5h1.1v1.1h-1.1zM198.1 2068.6h1.1v1.1h-1.1zM195.1 2082.1h1.1v1.1h-1.1zM188.2 2103.3h1.1v1.1h-1.1zM231.7 2122.8h1.1v1.1h-1.1zM223.5 2123.2h1.1v1.1h-1.1zM186.9 2063.7h1.1v1.1h-1.1zM235.3 2109.5h1.1v1.1h-1.1zM206.9 2122h1.1v1.1h-1.1zM217.6 2112.8h1.1v1.1h-1.1zM201 2050.8h1.1v1.1h-1.1zM208.7 2042.1h1.1v1.1h-1.1zM205.5 2123.3h1.1v1.1h-1.1zM202.9 2009.7h1.1v1.1h-1.1zM188.3 2047.5h1.1v1.1h-1.1zM226 2072.1h1.1v1.1h-1.1zM200.8 2034.9h1.1v1.1h-1.1zM236.1 2078.6h1.1v1.1h-1.1zM196.6 2026.7h1.1v1.1h-1.1zM188.8 2047.3h1.1v1.1h-1.1zM220.5 2044.3h1.1v1.1h-1.1zM188.1 2085.2h1.1v1.1h-1.1zM198.7 2125.8h1.1v1.1h-1.1zM192.2 2088.8h1.1v1.1h-1.1zM225.5 2077.1h1.1v1.1h-1.1zM236.4 2083.9h1.1v1.1h-1.1zM198.3 2077.2h1.1v1.1h-1.1zM187.9 2078.3h1.1v1.1h-1.1zM198.7 2118.1h1.1v1.1h-1.1zM228.4 2085.9h1.1v1.1h-1.1zM187.6 2059.3h1.1v1.1h-1.1zM198.4 2053.1h1.1v1.1h-1.1zM197.8 2116.7h1.1v1.1h-1.1zM193.2 2024.6h1.1v1.1h-1.1zM233.3 2092.1h1.1v1.1h-1.1zM236.5 2076.4h1.1v1.1h-1.1zM231.9 2099.8h1.1v1.1h-1.1zM226.3 2107.1h1.1v1.1h-1.1zM211.2 2034.1h1.1v1.1h-1.1zM196.8 2117h1.1v1.1h-1.1zM231.9 2120.7h1.1v1.1h-1.1zM203.2 2100h1.1v1.1h-1.1zM226.8 2098.8h1.1v1.1h-1.1zM227.6 2088.7h1.1v1.1h-1.1zM219.4 2102.4h1.1v1.1h-1.1zM199.7 2120.6h1.1v1.1h-1.1zM234.8 2030.2h1.1v1.1h-1.1zM235.5 2123.3h1.1v1.1h-1.1zM220.1 2022.8h1.1v1.1h-1.1zM231.8 2040.6h1.1v1.1h-1.1zM235.4 2100.9h1.1v1.1h-1.1zM189.1 2047.1h1.1v1.1h-1.1zM218.4 2092.4h1.1v1.1h-1.1zM224.1 2120.9h1.1v1.1h-1.1zM197.1 2005.4h1.1v1.1h-1.1zM233 2011.6h1.1v1.1h-1.1zM230.7 2038.5h1.1v1.1h-1.1zM227.3 2110.1h1.1v1.1h-1.1zM230.8 2090.7h1.1v1.1h-1.1zM230.8 2052.2h1.1v1.1h-1.1zM220.2 2068.6h1.1v1.1h-1.1zM231.5 2109.4h1.1v1.1h-1.1zM210 2088.5h1.1v1.1h-1.1zM187.3 2019.7h1.1v1.1h-1.1zM216.3 2085h1.1v1.1h-1.1zM230.1 2095.8h1.1v1.1h-1.1zM193.1 2072.1h1.1v1.1h-1.1zM225.1 2088.2h1.1v1.1h-1.1zM186.5 2114.3h1.1v1.1h-1.1zM228.2 2032.5h1.1v1.1h-1.1zM213.7 2074.1h1.1v1.1h-1.1zM226.2 2066.3h1.1v1.1h-1.1zM197.9 2084.8h1.1v1.1h-1.1zM235.3 2034.5h1.1v1.1h-1.1zM191.8 2097h1.1v1.1h-1.1zM231.2 2087.2h1.1v1.1h-1.1zM208.1 2115.8h1.1v1.1h-1.1zM225.6 2028.5h1.1v1.1h-1.1zM230.9 2051.4h1.1v1.1h-1.1zM201.4 2114.2h1.1v1.1h-1.1zM207.5 2111.3h1.1v1.1h-1.1zM194.5 2117h1.1v1.1h-1.1zM195 2044.3h1.1v1.1h-1.1zM211.2 2069.5h1.1v1.1h-1.1zM213.6 2119.2h1.1v1.1h-1.1zM222.2 2007.2h1.1v1.1h-1.1zM201.9 2090.2h1.1v1.1h-1.1zM210.8 2104.8h1.1v1.1h-1.1zM210.7 2030.5h1.1v1.1h-1.1zM198.5 2115h1.1v1.1h-1.1zM204.2 2108.9h1.1v1.1h-1.1zM236.3 2097.4h1.1v1.1h-1.1zM220.5 2096h1.1v1.1h-1.1zM202 2119.8h1.1v1.1h-1.1zM209.8 2119.7h1.1v1.1h-1.1zM201.6 2116.5h1.1v1.1h-1.1zM226.1 2096.3h1.1v1.1h-1.1zM208.5 2042.8h1.1v1.1h-1.1zM225.3 2072.1h1.1v1.1h-1.1zM219.8 2041.6h1.1v1.1h-1.1zM190.2 2043.4h1.1v1.1h-1.1zM227.3 2048.7h1.1v1.1h-1.1zM232 2073.1h1.1v1.1h-1.1zM215.4 2070.8h1.1v1.1h-1.1zM217.7 2034.2h1.1v1.1h-1.1zM206.5 2121.5h1.1v1.1h-1.1zM195.2 2099.8h1.1v1.1h-1.1zM202.7 2065.1h1.1v1.1h-1.1zM187.2 2014.7h1.1v1.1h-1.1zM234.4 2113.7h1.1v1.1h-1.1zM226.9 2112h1.1v1.1h-1.1zM234.6 2045.7h1.1v1.1h-1.1zM215.8 2085.6h1.1v1.1h-1.1zM215.3 2121.6h1.1v1.1h-1.1zM224.8 2123.8h1.1v1.1h-1.1zM192 2099.6h1.1v1.1h-1.1zM220.4 2107.2h1.1v1.1h-1.1zM217.5 2113.8h1.1v1.1h-1.1zM201.4 2120.9h1.1v1.1h-1.1zM206.7 2095.1h1.1v1.1h-1.1zM231.7 2103.8h1.1v1.1h-1.1zM201.8 2056.2h1.1v1.1h-1.1zM202.7 2097.5h1.1v1.1h-1.1zM236.8 2118.8h1.1v1.1h-1.1zM206.4 2076.2h1.1v1.1h-1.1zM227.7 2063h1.1v1.1h-1.1zM207 2011.7h1.1v1.1h-1.1zM195.4 2089.8h1.1v1.1h-1.1zM221.4 2096.4h1.1v1.1h-1.1zM204.6 2122.6h1.1v1.1h-1.1zM217.8 2045.4h1.1v1.1h-1.1zM189.5 2124.2h1.1v1.1h-1.1zM236.4 2120.3h1.1v1.1h-1.1zM216.8 2066.4h1.1v1.1h-1.1zM190.7 2059.8h1.1v1.1h-1.1zM197.3 2120.9h1.1v1.1h-1.1zM231.5 2109.7h1.1v1.1h-1.1zM193.6 2057.3h1.1v1.1h-1.1zM201.3 2122.3h1.1v1.1h-1.1zM194.3 2110.7h1.1v1.1h-1.1zM220.7 2090.4h1.1v1.1h-1.1zM234.9 2060.4h1.1v1.1h-1.1zM212.7 2045.6h1.1v1.1h-1.1zM190.9 2018.9h1.1v1.1h-1.1zM202.1 2039.6h1.1v1.1h-1.1zM189.1 2125.5h1.1v1.1h-1.1zM200.7 2118.2h1.1v1.1h-1.1zM221.8 2106.1h1.1v1.1h-1.1zM219.4 2122.7h1.1v1.1h-1.1zM230.8 2105.1h1.1v1.1h-1.1zM214.6 2103h1.1v1.1h-1.1zM222.9 2090.9h1.1v1.1h-1.1zM211.6 2045.1h1.1v1.1h-1.1zM229.1 2084.6h1.1v1.1h-1.1zM189.5 2047.2h1.1v1.1h-1.1zM230.6 2059.6h1.1v1.1h-1.1zM206 2102.1h1.1v1.1h-1.1zM229.9 2068.3h1.1v1.1h-1.1zM205.7 2078.5h1.1v1.1h-1.1zM187.4 2117.2h1.1v1.1h-1.1zM187 2123.2h1.1v1.1h-1.1zM193.8 2045.5h1.1v1.1h-1.1zM229.3 2113.2h1.1v1.1h-1.1zM197.8 2091h1.1v1.1h-1.1zM210.3 2105.1h1.1v1.1h-1.1zM195.4 2113.4h1.1v1.1h-1.1zM236.8 2104.1h1.1v1.1h-1.1zM233 2121.6h1.1v1.1h-1.1zM205.4 2115h1.1v1.1h-1.1zM228.5 2094h1.1v1.1h-1.1zM191.5 2096.8h1.1v1.1h-1.1zM232.5 2065.6h1.1v1.1h-1.1zM219 2118.7h1.1v1.1h-1.1zM216.6 2020.6h1.1v1.1h-1.1zM218.2 2059.5h1.1v1.1h-1.1zM229.8 2100.4h1.1v1.1h-1.1zM201.7 2118.6h1.1v1.1h-1.1zM217.9 2069.5h1.1v1.1h-1.1zM228.5 2118.3h1.1v1.1h-1.1zM231.6 2117.7h1.1v1.1h-1.1zM219.6 2103.5h1.1v1.1h-1.1zM216.8 2088.6h1.1v1.1h-1.1zM236.4 2071.1h1.1v1.1h-1.1zM190.2 2104.7h1.1v1.1h-1.1zM211.4 2090.3h1.1v1.1h-1.1zM216.5 2058.8h1.1v1.1h-1.1zM196.2 2029.5h1.1v1.1h-1.1zM225.9 2119.5h1.1v1.1h-1.1zM221.5 2038.7h1.1v1.1h-1.1zM235.9 2113.5h1.1v1.1h-1.1zM212 2002.7h1.1v1.1h-1.1zM229 2097.2h1.1v1.1h-1.1zM217.7 2013.9h1.1v1.1h-1.1zM223.4 2019.7h1.1v1.1h-1.1zM210.4 2043.5h1.1v1.1h-1.1zM204.4 2118.2h1.1v1.1h-1.1z" fill="#2a9a2a"/>
<path d="M382.4 2092.6h1.1v1.1h-1.1zM359.5 2065.5h1.1v1.1h-1.1zM372.5 2022.9h1.1v1.1h-1.1zM363.1 2100.8h1.1v1.1h-1.1zM382.9 2095.1h1.1v1.1h-1.1zM359.5 2085.6h1.1v1.1h-1.1zM385.7 2086.4h1.1v1.1h-1.1zM364.1 2045.6h1.1v1.1h-1.1zM356 2096.4h1.1v1.1h-1.1zM398.8 2056h1.1v1.1h-1.1zM383 2066.9h1.1v1.1h-1.1zM373.9 2094h1.1v1.1h-1.1zM360.1 2081.4h1.1v1.1h-1.1zM358.5 2074.3h1.1v1.1h-1.1zM356 2054.8h1.1v1.1h-1.1zM359.2 2097.8h1.1v1.1h-1.1zM356.6 2089.5h1.1v1.1h-1.1zM356.2 2101.3h1.1v1.1h-1.1zM357 2034.4h1.1v1.1h-1.1zM357.6 2098.7h1.1v1.1h-1.1zM376.6 2096.5h1.1v1.1h-1.1zM366.8 2037.8h1.1v1.1h-1.1zM360.7 2070.5h1.1v1.1h-1.1zM404.9 2044.6h1.1v1.1h-1.1zM358.2 2094.1h1.1v1.1h-1.1zM356.4 2100.6h1.1v1.1h-1.1zM359.4 2078.1h1.1v1.1h-1.1zM376.1 2097.4h1.1v1.1h-1.1zM356.2 2094.3h1.1v1.1h-1.1zM357.1 2087.2h1.1v1.1h-1.1zM356 2089.9h1.1v1.1h-1.1zM357.2 2049h1.1v1.1h-1.1zM356 2060.2h1.1v1.1h-1.1zM360.3 2101.2h1.1v1.1h-1.1zM372.7 2063.5h1.1v1.1h-1.1zM404.9 2045.2h1.1v1.1h-1.1zM357.7 2099.8h1.1v1.1h-1.1zM400.8 2085.2h1.1v1.1h-1.1zM403.7 2028.3h1.1v1.1h-1.1zM396 2086.4h1.1v1.1h-1.1zM376.6 2094.1h1.1v1.1h-1.1zM356.3 2048.3h1.1v1.1h-1.1zM356.6 2072.1h1.1v1.1h-1.1zM369.2 2076.3h1.1v1.1h-1.1zM361.4 2088.7h1.1v1.1h-1.1zM389.9 2089.5h1.1v1.1h-1.1zM356 2042.9h1.1v1.1h-1.1zM357.8 2052.3h1.1v1.1h-1.1zM370.7 2047.8h1.1v1.1h-1.1zM373.8 2061.9h1.1v1.1h-1.1zM361.4 2086.6h1.1v1.1h-1.1zM400.1 2047.4h1.1v1.1h-1.1zM360.9 2101.1h1.1v1.1h-1.1zM357.7 2020.9h1.1v1.1h-1.1zM357.3 2093.1h1.1v1.1h-1.1zM381.1 2099h1.1v1.1h-1.1zM366.8 2024.7h1.1v1.1h-1.1zM359.7 2087.3h1.1v1.1h-1.1zM362.4 2041.2h1.1v1.1h-1.1zM361.8 2071.1h1.1v1.1h-1.1zM361.2 2069.8h1.1v1.1h-1.1zM356.6 2021.7h1.1v1.1h-1.1zM385.2 2088h1.1v1.1h-1.1zM363.4 2037.9h1.1v1.1h-1.1zM359.4 2077.5h1.1v1.1h-1.1zM395.1 2072.3h1.1v1.1h-1.1zM403.2 2075.4h1.1v1.1h-1.1zM357.2 2081.1h1.1v1.1h-1.1zM372.3 2080.1h1.1v1.1h-1.1zM380.6 2019.7h1.1v1.1h-1.1zM364.1 2091.8h1.1v1.1h-1.1zM356.6 2025h1.1v1.1h-1.1zM357.2 2056.8h1.1v1.1h-1.1zM364 2059.4h1.1v1.1h-1.1zM374.4 2045h1.1v1.1h-1.1zM360.8 2084.7h1.1v1.1h-1.1zM369.1 2100h1.1v1.1h-1.1zM399.2 2054.3h1.1v1.1h-1.1zM360.5 2076.1h1.1v1.1h-1.1zM369.1 2063.7h1.1v1.1h-1.1zM392.1 2048h1.1v1.1h-1.1zM365.5 2038.5h1.1v1.1h-1.1zM394 2079.9h1.1v1.1h-1.1zM404.7 2041.7h1.1v1.1h-1.1zM379.6 2079.9h1.1v1.1h-1.1zM356.1 2092.8h1.1v1.1h-1.1zM393.2 2032.5h1.1v1.1h-1.1zM399.8 2090.9h1.1v1.1h-1.1zM372.5 2076.5h1.1v1.1h-1.1zM358.7 2028.2h1.1v1.1h-1.1zM365.7 2095.3h1.1v1.1h-1.1zM357.6 2071.7h1.1v1.1h-1.1zM359.1 2085.6h1.1v1.1h-1.1zM401.7 2096.4h1.1v1.1h-1.1zM359.2 2067.6h1.1v1.1h-1.1zM356 2075.6h1.1v1.1h-1.1zM391.3 2094.2h1.1v1.1h-1.1zM356.2 2068.9h1.1v1.1h-1.1zM356.2 2068.2h1.1v1.1h-1.1zM396.9 2056.6h1.1v1.1h-1.1zM390.6 2099.8h1.1v1.1h-1.1zM388.2 2048.6h1.1v1.1h-1.1zM397.4 2098.2h1.1v1.1h-1.1zM405.8 2015h1.1v1.1h-1.1zM356 2057.4h1.1v1.1h-1.1zM367.7 2068.2h1.1v1.1h-1.1zM356.3 2082.6h1.1v1.1h-1.1zM376.6 2082h1.1v1.1h-1.1zM367.4 2076.9h1.1v1.1h-1.1zM378.1 2029.6h1.1v1.1h-1.1zM364.1 2040.7h1.1v1.1h-1.1zM356.3 2089.7h1.1v1.1h-1.1zM360.2 2061.5h1.1v1.1h-1.1zM359 2079.3h1.1v1.1h-1.1zM356.5 2082.7h1.1v1.1h-1.1zM356.1 2099.8h1.1v1.1h-1.1zM356.9 2090h1.1v1.1h-1.1zM369.2 2068.2h1.1v1.1h-1.1zM359.6 2063.1h1.1v1.1h-1.1zM383.2 2075.3h1.1v1.1h-1.1zM368.7 2053.3h1.1v1.1h-1.1zM373.8 2045.1h1.1v1.1h-1.1zM366.1 2083.3h1.1v1.1h-1.1zM369.1 2078.9h1.1v1.1h-1.1zM370.5 2047.7h1.1v1.1h-1.1zM401.5 2085.2h1.1v1.1h-1.1zM380.7 2099.8h1.1v1.1h-1.1zM364.7 2061h1.1v1.1h-1.1zM359.6 2059.6h1.1v1.1h-1.1zM359.5 2059.5h1.1v1.1h-1.1zM357.6 2072.5h1.1v1.1h-1.1zM359.3 2063.9h1.1v1.1h-1.1zM376.3 2059.5h1.1v1.1h-1.1zM392.2 2091.6h1.1v1.1h-1.1zM360.3 2093.6h1.1v1.1h-1.1zM357.1 2035h1.1v1.1h-1.1zM405.4 2022.6h1.1v1.1h-1.1zM356 2095.3h1.1v1.1h-1.1zM356 2083.5h1.1v1.1h-1.1zM369.7 2050.8h1.1v1.1h-1.1zM358.3 2100.4h1.1v1.1h-1.1zM362.4 2052.7h1.1v1.1h-1.1zM364.3 2088h1.1v1.1h-1.1zM359.3 2033.9h1.1v1.1h-1.1zM385.8 2035.1h1.1v1.1h-1.1zM356.1 2011.7h1.1v1.1h-1.1zM405.3 2068.9h1.1v1.1h-1.1zM381.6 2077.4h1.1v1.1h-1.1zM403.3 2061.8h1.1v1.1h-1.1zM360.9 2085.1h1.1v1.1h-1.1z" fill="#8a3a9a"/>
<path d="M333 2200.9h1.1v1.1h-1.1zM362 2209.4h1.1v1.1h-1.1zM347.4 2223.6h1.1v1.1h-1.1zM344.8 2215.7h1.1v1.1h-1.1zM343.1 2188.6h1.1v1.1h-1.1zM342.9 2194.3h1.1v1.1h-1.1zM333.1 2197.6h1.1v1.1h-1.1zM334.6 2204.7h1.1v1.1h-1.1zM360.7 2216.7h1.1v1.1h-1.1zM369.9 2199h1.1v1.1h-1.1zM356.7 2221.8h1.1v1.1h-1.1zM343.2 2222.7h1.1v1.1h-1.1zM334.2 2223h1.1v1.1h-1.1zM369.8 2225.2h1.1v1.1h-1.1zM366.4 2214.9h1.1v1.1h-1.1zM344.9 2215.2h1.1v1.1h-1.1zM369.6 2209.6h1.1v1.1h-1.1zM354 2223.1h1.1v1.1h-1.1zM339 2199.7h1.1v1.1h-1.1zM333.2 2221.4h1.1v1.1h-1.1zM354.5 2213.4h1.1v1.1h-1.1zM337.5 2193.2h1.1v1.1h-1.1zM346.8 2221.3h1.1v1.1h-1.1zM341.6 2203.3h1.1v1.1h-1.1zM344.1 2220.1h1.1v1.1h-1.1zM334.6 2220.9h1.1v1.1h-1.1zM333 2214.4h1.1v1.1h-1.1zM362.2 2205.3h1.1v1.1h-1.1zM360.9 2197.4h1.1v1.1h-1.1zM335 2200.7h1.1v1.1h-1.1zM338.4 2215.1h1.1v1.1h-1.1zM351 2212.9h1.1v1.1h-1.1zM376.3 2217.3h1.1v1.1h-1.1zM364 2224.9h1.1v1.1h-1.1zM373 2216.1h1.1v1.1h-1.1zM341.3 2206.8h1.1v1.1h-1.1zM361.7 2217.8h1.1v1.1h-1.1zM371 2216.1h1.1v1.1h-1.1zM356.6 2196.2h1.1v1.1h-1.1zM354 2193.3h1.1v1.1h-1.1zM355.4 2192.8h1.1v1.1h-1.1zM333.1 2224.3h1.1v1.1h-1.1zM369 2198.4h1.1v1.1h-1.1zM333.3 2219.1h1.1v1.1h-1.1zM362.7 2191.8h1.1v1.1h-1.1zM365.6 2219.8h1.1v1.1h-1.1zM351.5 2197.1h1.1v1.1h-1.1zM333.5 2187.5h1.1v1.1h-1.1zM345.1 2215.3h1.1v1.1h-1.1zM354.9 2195h1.1v1.1h-1.1zM364.4 2187.5h1.1v1.1h-1.1zM353.6 2192.7h1.1v1.1h-1.1zM333 2193.6h1.1v1.1h-1.1zM364.2 2194.7h1.1v1.1h-1.1zM333 2205.8h1.1v1.1h-1.1zM341.4 2209.5h1.1v1.1h-1.1zM351.7 2214.8h1.1v1.1h-1.1zM372.1 2199.8h1.1v1.1h-1.1zM354.8 2190.2h1.1v1.1h-1.1zM337.9 2189.1h1.1v1.1h-1.1zM368.5 2199.8h1.1v1.1h-1.1zM359 2221.3h1.1v1.1h-1.1zM342.8 2194.2h1.1v1.1h-1.1zM337.8 2206.1h1.1v1.1h-1.1zM342.9 2187.8h1.1v1.1h-1.1zM367.7 2212.1h1.1v1.1h-1.1zM369.1 2220.1h1.1v1.1h-1.1zM359.9 2219.3h1.1v1.1h-1.1zM358.7 2203.6h1.1v1.1h-1.1zM365.7 2222.9h1.1v1.1h-1.1zM334.3 2191.4h1.1v1.1h-1.1zM335.6 2204.7h1.1v1.1h-1.1zM368.6 2207.6h1.1v1.1h-1.1zM368 2201h1.1v1.1h-1.1zM351.1 2195.9h1.1v1.1h-1.1zM355 2196.9h1.1v1.1h-1.1zM333 2202.3h1.1v1.1h-1.1zM351 2221.5h1.1v1.1h-1.1zM339.1 2223.2h1.1v1.1h-1.1zM365.2 2192h1.1v1.1h-1.1zM363.2 2223.6h1.1v1.1h-1.1zM375.3 2214.2h1.1v1.1h-1.1zM343 2208.3h1.1v1.1h-1.1zM355.6 2211h1.1v1.1h-1.1zM336.1 2221.6h1.1v1.1h-1.1zM349.8 2187.9h1.1v1.1h-1.1zM339.8 2188.4h1.1v1.1h-1.1zM346 2189h1.1v1.1h-1.1zM349.3 2197.3h1.1v1.1h-1.1zM366.2 2217.1h1.1v1.1h-1.1zM336.1 2218.8h1.1v1.1h-1.1zM351.9 2196.9h1.1v1.1h-1.1zM371.8 2184.4h1.1v1.1h-1.1zM343.3 2210.5h1.1v1.1h-1.1zM335.5 2206.2h1.1v1.1h-1.1zM370 2200.1h1.1v1.1h-1.1zM358.9 2193.4h1.1v1.1h-1.1zM376.2 2224.6h1.1v1.1h-1.1zM335.5 2217h1.1v1.1h-1.1zM340.8 2185.9h1.1v1.1h-1.1zM336.7 2215.6h1.1v1.1h-1.1zM346.2 2207.7h1.1v1.1h-1.1zM334.7 2192.6h1.1v1.1h-1.1zM342 2207.1h1.1v1.1h-1.1zM365.8 2204.4h1.1v1.1h-1.1zM340.6 2222.7h1.1v1.1h-1.1zM357.9 2216.6h1.1v1.1h-1.1zM364.8 2205.9h1.1v1.1h-1.1zM338.2 2189.9h1.1v1.1h-1.1zM356 2216.4h1.1v1.1h-1.1zM371.2 2222.9h1.1v1.1h-1.1zM348 2206.1h1.1v1.1h-1.1zM375.5 2188.6h1.1v1.1h-1.1zM342.4 2208.3h1.1v1.1h-1.1zM353 2211h1.1v1.1h-1.1zM335.4 2206.8h1.1v1.1h-1.1zM335.8 2201.7h1.1v1.1h-1.1zM335.9 2199.1h1.1v1.1h-1.1zM354.3 2202.4h1.1v1.1h-1.1zM335.6 2205.2h1.1v1.1h-1.1zM356.7 2198.3h1.1v1.1h-1.1zM338.6 2203.9h1.1v1.1h-1.1zM358.2 2186.1h1.1v1.1h-1.1zM356.9 2187.1h1.1v1.1h-1.1zM370.3 2193.5h1.1v1.1h-1.1zM366 2186h1.1v1.1h-1.1zM347.5 2196.4h1.1v1.1h-1.1zM363 2217.2h1.1v1.1h-1.1zM334.7 2186.9h1.1v1.1h-1.1zM360.2 2203.2h1.1v1.1h-1.1zM342.3 2200.3h1.1v1.1h-1.1zM342 2209.6h1.1v1.1h-1.1zM342.9 2190.6h1.1v1.1h-1.1zM346.5 2225.6h1.1v1.1h-1.1zM362.4 2215.2h1.1v1.1h-1.1zM372.9 2204.3h1.1v1.1h-1.1zM341.9 2218.1h1.1v1.1h-1.1zM334.2 2217.1h1.1v1.1h-1.1zM335.1 2211.4h1.1v1.1h-1.1zM348.5 2217.3h1.1v1.1h-1.1zM333.5 2213.4h1.1v1.1h-1.1zM366.2 2186.3h1.1v1.1h-1.1zM357.5 2197.4h1.1v1.1h-1.1zM361.1 2225.2h1.1v1.1h-1.1zM333 2202.7h1.1v1.1h-1.1zM347.8 2225.3h1.1v1.1h-1.1zM372.7 2185.7h1.1v1.1h-1.1zM334.9 2202.7h1.1v1.1h-1.1zM364.7 2218h1.1v1.1h-1.1zM350.6 2223h1.1v1.1h-1.1zM365.8 2221.4h1.1v1.1h-1.1zM354.7 2196.5h1.1v1.1h-1.1zM360.5 2215.1h1.1v1.1h-1.1zM372.9 2192.6h1.1v1.1h-1.1zM333.1 2200h1.1v1.1h-1.1zM338.1 2201.9h1.1v1.1h-1.1zM333.5 2210.9h1.1v1.1h-1.1zM344.5 2196.7h1.1v1.1h-1.1zM334.2 2209.5h1.1v1.1h-1.1zM334.1 2220.7h1.1v1.1h-1.1zM338.8 2222.1h1.1v1.1h-1.1zM334.6 2202h1.1v1.1h-1.1zM363.1 2207.4h1.1v1.1h-1.1zM345.4 2221.5h1.1v1.1h-1.1zM335.5 2220.3h1.1v1.1h-1.1zM348.6 2197.6h1.1v1.1h-1.1zM341.4 2197.3h1.1v1.1h-1.1zM354.6 2204.1h1.1v1.1h-1.1zM348.7 2212.5h1.1v1.1h-1.1zM368.3 2214.4h1.1v1.1h-1.1zM339.4 2213.1h1.1v1.1h-1.1zM358 2222.5h1.1v1.1h-1.1zM342.8 2207.8h1.1v1.1h-1.1zM361.8 2199.7h1.1v1.1h-1.1zM340.5 2211.4h1.1v1.1h-1.1zM342.3 2220.2h1.1v1.1h-1.1zM341.3 2194.8h1.1v1.1h-1.1zM353.4 2210.5h1.1v1.1h-1.1zM377.3 2223.8h1.1v1.1h-1.1zM344.3 2204.4h1.1v1.1h-1.1zM355.7 2206.7h1.1v1.1h-1.1zM352.2 2202.5h1.1v1.1h-1.1zM368.4 2221.9h1.1v1.1h-1.1zM363.9 2216.4h1.1v1.1h-1.1zM370.2 2196.3h1.1v1.1h-1.1zM373.9 2193.9h1.1v1.1h-1.1zM334.2 2206.3h1.1v1.1h-1.1zM335.4 2196.3h1.1v1.1h-1.1zM353.2 2191.6h1.1v1.1h-1.1zM343.3 2201h1.1v1.1h-1.1zM374 2188.3h1.1v1.1h-1.1zM348.3 2205.2h1.1v1.1h-1.1zM335.4 2200.2h1.1v1.1h-1.1zM341.9 2200.7h1.1v1.1h-1.1zM350.6 2208.8h1.1v1.1h-1.1zM346.3 2204.1h1.1v1.1h-1.1zM353.4 2205.9h1.1v1.1h-1.1zM334.6 2212.7h1.1v1.1h-1.1zM343.8 2220.4h1.1v1.1h-1.1zM334.8 2208.4h1.1v1.1h-1.1zM339.5 2211.8h1.1v1.1h-1.1zM365.6 2212.5h1.1v1.1h-1.1zM351.4 2223.4h1.1v1.1h-1.1zM337.2 2225.8h1.1v1.1h-1.1zM345.1 2211.8h1.1v1.1h-1.1zM334.7 2185.8h1.1v1.1h-1.1zM335.4 2208.3h1.1v1.1h-1.1zM337.6 2218.2h1.1v1.1h-1.1zM335.3 2213h1.1v1.1h-1.1zM371 2214.2h1.1v1.1h-1.1zM372.6 2219.3h1.1v1.1h-1.1zM368.2 2186.3h1.1v1.1h-1.1zM348.3 2198.2h1.1v1.1h-1.1zM345 2215.6h1.1v1.1h-1.1zM360.3 2194.1h1.1v1.1h-1.1zM335.7 2187.8h1.1v1.1h-1.1zM360.8 2219.2h1.1v1.1h-1.1zM334 2191h1.1v1.1h-1.1zM334.9 2225.6h1.1v1.1h-1.1zM333.7 2209.6h1.1v1.1h-1.1zM369.4 2192.5h1.1v1.1h-1.1zM357.4 2199.9h1.1v1.1h-1.1zM355.1 2205.2h1.1v1.1h-1.1zM335.1 2222.1h1.1v1.1h-1.1zM347.9 2225.3h1.1v1.1h-1.1zM352.6 2224.5h1.1v1.1h-1.1zM355.8 2187.2h1.1v1.1h-1.1zM333 2225.7h1.1v1.1h-1.1zM356.5 2218h1.1v1.1h-1.1zM366.9 2200.8h1.1v1.1h-1.1zM358.7 2212.4h1.1v1.1h-1.1zM333.5 2208.1h1.1v1.1h-1.1zM373.1 2208.8h1.1v1.1h-1.1zM363.7 2187.7h1.1v1.1h-1.1zM344 2206.7h1.1v1.1h-1.1zM350.6 2220.1h1.1v1.1h-1.1zM347.4 2209.2h1.1v1.1h-1.1zM348.7 2213.5h1.1v1.1h-1.1zM351.8 2202.2h1.1v1.1h-1.1zM339.1 2220.8h1.1v1.1h-1.1zM341.6 2215h1.1v1.1h-1.1zM338.6 2225.5h1.1v1.1h-1.1zM336.9 2203.2h1.1v1.1h-1.1zM342.1 2221.3h1.1v1.1h-1.1zM360.3 2196.6h1.1v1.1h-1.1zM337.7 2216.2h1.1v1.1h-1.1zM345.4 2193h1.1v1.1h-1.1zM334.4 2215.3h1.1v1.1h-1.1zM356.2 2218.6h1.1v1.1h-1.1zM333.7 2205.7h1.1v1.1h-1.1zM335 2209.3h1.1v1.1h-1.1zM337.3 2195.2h1.1v1.1h-1.1zM350.8 2192.3h1.1v1.1h-1.1zM364.1 2192.4h1.1v1.1h-1.1zM338.4 2216.6h1.1v1.1h-1.1zM338.3 2198.1h1.1v1.1h-1.1zM363.5 2209h1.1v1.1h-1.1zM365.1 2221h1.1v1.1h-1.1zM375.4 2188.6h1.1v1.1h-1.1zM343.1 2204.6h1.1v1.1h-1.1zM339.1 2221h1.1v1.1h-1.1zM343.2 2223.3h1.1v1.1h-1.1zM333.6 2204.2h1.1v1.1h-1.1zM354.4 2217.8h1.1v1.1h-1.1zM347 2222.2h1.1v1.1h-1.1zM339.5 2200.6h1.1v1.1h-1.1zM336.2 2193.4h1.1v1.1h-1.1zM347.2 2215.7h1.1v1.1h-1.1zM336.2 2206h1.1v1.1h-1.1zM344.8 2225.3h1.1v1.1h-1.1zM347.5 2218.7h1.1v1.1h-1.1zM337.4 2222h1.1v1.1h-1.1zM333.1 2191.7h1.1v1.1h-1.1zM354.7 2207.7h1.1v1.1h-1.1zM349.2 2211.4h1.1v1.1h-1.1zM341.3 2213h1.1v1.1h-1.1zM343.3 2209.9h1.1v1.1h-1.1zM359.3 2198.6h1.1v1.1h-1.1zM362.1 2219.3h1.1v1.1h-1.1zM377.2 2187.5h1.1v1.1h-1.1zM344.5 2192.3h1.1v1.1h-1.1zM335.6 2205.4h1.1v1.1h-1.1zM363.1 2190.5h1.1v1.1h-1.1zM364.2 2220h1.1v1.1h-1.1zM375.7 2216.7h1.1v1.1h-1.1zM336.7 2215.2h1.1v1.1h-1.1zM351.5 2197.1h1.1v1.1h-1.1zM363.9 2199.6h1.1v1.1h-1.1zM367.1 2221.5h1.1v1.1h-1.1zM343.3 2190.9h1.1v1.1h-1.1zM365.5 2191.9h1.1v1.1h-1.1zM334.5 2221.3h1.1v1.1h-1.1zM337.5 2196.5h1.1v1.1h-1.1zM343.1 2215.4h1.1v1.1h-1.1zM336.3 2198.9h1.1v1.1h-1.1zM333.6 2196.4h1.1v1.1h-1.1zM361.2 2212.1h1.1v1.1h-1.1zM352.9 2222.1h1.1v1.1h-1.1zM333.2 2197.4h1.1v1.1h-1.1zM354.8 2200.7h1.1v1.1h-1.1zM376.3 2194.9h1.1v1.1h-1.1zM375.1 2215.7h1.1v1.1h-1.1zM357.1 2223.8h1.1v1.1h-1.1zM344.8 2199.8h1.1v1.1h-1.1zM344.9 2215.8h1.1v1.1h-1.1zM365.8 2211.7h1.1v1.1h-1.1zM364 2213.1h1.1v1.1h-1.1zM363.1 2190.6h1.1v1.1h-1.1zM366.4 2207.9h1.1v1.1h-1.1zM340.5 2190.7h1.1v1.1h-1.1zM353.2 2194.7h1.1v1.1h-1.1zM341.8 2208.4h1.1v1.1h-1.1zM336.7 2195.3h1.1v1.1h-1.1zM333.7 2200.3h1.1v1.1h-1.1zM366.2 2195.8h1.1v1.1h-1.1zM338.4 2190.9h1.1v1.1h-1.1zM353.2 2216.1h1.1v1.1h-1.1zM336.1 2219.2h1.1v1.1h-1.1zM333 2190.1h1.1v1.1h-1.1zM334 2217.8h1.1v1.1h-1.1z" fill="#e08a20"/>
<rect x="164.4" y="1953.6" width="299" height="294.1" fill="none" stroke="#000" stroke-width="1"/>
<line x1="257.2" y1="1953.6" x2="257.2" y2="2247.7" stroke="#000" stroke-width="1"/>
<line x1="164.4" y1="2169" x2="463.4" y2="2169" stroke="#000" stroke-width="1"/>
<rect x="179.4" y="1971.5" width="61.4" height="158" fill="none" stroke="#4a9a50" stroke-width="2.6" stroke-dasharray="9 7"/>
<rect x="355.5" y="1971.5" width="95.2" height="132.1" fill="none" stroke="#8a4a90" stroke-width="2.6" stroke-dasharray="9 7"/>
<rect x="331" y="2182.3" width="114" height="46.1" fill="none" stroke="#f08020" stroke-width="2.6" stroke-dasharray="9 7"/>
<text x="183.1" y="1992.5" font-size="16.5" fill="#4a9a50">25.63%</text>
<text x="445.5" y="1992.5" font-size="16.5" text-anchor="end" fill="#8a4a90">11.68%</text>
<text x="441.2" y="2223.2" font-size="16.5" text-anchor="end" fill="#f08020">15.61%</text>
<text x="168.7" y="1968" font-size="11.5" fill="#dcdcdc">OnF(6.23%)</text>
<text x="458.5" y="1968" font-size="11.5" text-anchor="end" fill="#dcdcdc">Hybrid(51.11%)</text>
<text x="168.7" y="2242" font-size="11.5" fill="#dcdcdc">negative(3.28%)</text>
<text x="458.5" y="2242" font-size="11.5" text-anchor="end" fill="#dcdcdc">red(39.38%)</text>
<line x1="197.5" y1="2247.7" x2="197.5" y2="2252.7" stroke="#000" stroke-width="1"/>
<line x1="289.2" y1="2247.7" x2="289.2" y2="2252.7" stroke="#000" stroke-width="1"/>
<line x1="376.3" y1="2247.7" x2="376.3" y2="2252.7" stroke="#000" stroke-width="1"/>
<line x1="463.4" y1="2247.7" x2="463.4" y2="2252.7" stroke="#000" stroke-width="1"/>
<line x1="178" y1="2247.7" x2="178" y2="2250.7" stroke="#000" stroke-width="0.8"/>
<line x1="186" y1="2247.7" x2="186" y2="2250.7" stroke="#000" stroke-width="0.8"/>
<line x1="214" y1="2247.7" x2="214" y2="2250.7" stroke="#000" stroke-width="0.8"/>
<line x1="226" y1="2247.7" x2="226" y2="2250.7" stroke="#000" stroke-width="0.8"/>
<line x1="236" y1="2247.7" x2="236" y2="2250.7" stroke="#000" stroke-width="0.8"/>
<line x1="245" y1="2247.7" x2="245" y2="2250.7" stroke="#000" stroke-width="0.8"/>
<line x1="251" y1="2247.7" x2="251" y2="2250.7" stroke="#000" stroke-width="0.8"/>
<line x1="316" y1="2247.7" x2="316" y2="2250.7" stroke="#000" stroke-width="0.8"/>
<line x1="331" y1="2247.7" x2="331" y2="2250.7" stroke="#000" stroke-width="0.8"/>
<line x1="342" y1="2247.7" x2="342" y2="2250.7" stroke="#000" stroke-width="0.8"/>
<line x1="350" y1="2247.7" x2="350" y2="2250.7" stroke="#000" stroke-width="0.8"/>
<line x1="356" y1="2247.7" x2="356" y2="2250.7" stroke="#000" stroke-width="0.8"/>
<line x1="361" y1="2247.7" x2="361" y2="2250.7" stroke="#000" stroke-width="0.8"/>
<line x1="365" y1="2247.7" x2="365" y2="2250.7" stroke="#000" stroke-width="0.8"/>
<line x1="369" y1="2247.7" x2="369" y2="2250.7" stroke="#000" stroke-width="0.8"/>
<line x1="403" y1="2247.7" x2="403" y2="2250.7" stroke="#000" stroke-width="0.8"/>
<line x1="418" y1="2247.7" x2="418" y2="2250.7" stroke="#000" stroke-width="0.8"/>
<line x1="429" y1="2247.7" x2="429" y2="2250.7" stroke="#000" stroke-width="0.8"/>
<line x1="437" y1="2247.7" x2="437" y2="2250.7" stroke="#000" stroke-width="0.8"/>
<line x1="443" y1="2247.7" x2="443" y2="2250.7" stroke="#000" stroke-width="0.8"/>
<line x1="448" y1="2247.7" x2="448" y2="2250.7" stroke="#000" stroke-width="0.8"/>
<line x1="452" y1="2247.7" x2="452" y2="2250.7" stroke="#000" stroke-width="0.8"/>
<line x1="456" y1="2247.7" x2="456" y2="2250.7" stroke="#000" stroke-width="0.8"/>
<line x1="159.4" y1="2069" x2="164.4" y2="2069" stroke="#000" stroke-width="1"/>
<line x1="159.4" y1="2226.7" x2="164.4" y2="2226.7" stroke="#000" stroke-width="1"/>
<line x1="161.4" y1="1960" x2="164.4" y2="1960" stroke="#000" stroke-width="0.8"/>
<line x1="161.4" y1="1985" x2="164.4" y2="1985" stroke="#000" stroke-width="0.8"/>
<line x1="161.4" y1="2010" x2="164.4" y2="2010" stroke="#000" stroke-width="0.8"/>
<line x1="161.4" y1="2030" x2="164.4" y2="2030" stroke="#000" stroke-width="0.8"/>
<line x1="161.4" y1="2045" x2="164.4" y2="2045" stroke="#000" stroke-width="0.8"/>
<line x1="161.4" y1="2057" x2="164.4" y2="2057" stroke="#000" stroke-width="0.8"/>
<line x1="161.4" y1="2090" x2="164.4" y2="2090" stroke="#000" stroke-width="0.8"/>
<line x1="161.4" y1="2120" x2="164.4" y2="2120" stroke="#000" stroke-width="0.8"/>
<line x1="161.4" y1="2145" x2="164.4" y2="2145" stroke="#000" stroke-width="0.8"/>
<line x1="161.4" y1="2160" x2="164.4" y2="2160" stroke="#000" stroke-width="0.8"/>
<line x1="161.4" y1="2190" x2="164.4" y2="2190" stroke="#000" stroke-width="0.8"/>
<line x1="161.4" y1="2205" x2="164.4" y2="2205" stroke="#000" stroke-width="0.8"/>
<line x1="161.4" y1="2240" x2="164.4" y2="2240" stroke="#000" stroke-width="0.8"/>
<text x="197.5" y="2267.4" font-size="12" text-anchor="middle">0</text>
<text x="289.2" y="2267.4" font-size="12" text-anchor="middle">10<tspan font-size="8" dy="-6">4</tspan></text>
<text x="376.3" y="2267.4" font-size="12" text-anchor="middle">10<tspan font-size="8" dy="-6">5</tspan></text>
<text x="463.4" y="2267.4" font-size="12" text-anchor="middle">10<tspan font-size="8" dy="-6">6</tspan></text>
<text x="314.3" y="2281.8" font-size="11" text-anchor="middle">Yellow2-A</text>
<text x="141" y="2100.7" font-size="11" text-anchor="middle" transform="rotate(-90 141 2100.7)">Blue1-A</text>
<text x="154" y="2069" font-size="12" text-anchor="middle" transform="rotate(-90 154 2069)">10<tspan font-size="8" dy="-6">5</tspan></text>
<text x="154" y="2226.7" font-size="12" text-anchor="middle" transform="rotate(-90 154 2226.7)">0</text>
<text x="738.9" y="1949.4" font-size="44" font-weight="bold">m</text>
<text x="1191.6" y="1943.6" font-size="43" font-weight="bold">o</text>
<text x="1662" y="1935.8" font-size="44" font-weight="bold">q</text>
<text x="724.4" y="2311.7" font-size="45" font-weight="bold">n</text>
<text x="1174.4" y="2302.7" font-size="45" font-weight="bold">p</text>
<text x="1650.2" y="2311.2" font-size="46" font-weight="bold">r</text>
<text x="877.5" y="1906.7" font-size="28" font-weight="bold" fill="#6b9daa">GFP<tspan font-size="19" dy="-11">high</tspan><tspan dy="11"> clone</tspan></text>
<text x="1331.8" y="1913.3" font-size="28.4" font-weight="bold" fill="#9a80c0">Hybrid clone</text>
<text x="1779" y="1900.1" font-size="28" font-weight="bold" fill="#f0a050">mCherry<tspan font-size="19" dy="-11">high</tspan><tspan dy="11"> clone</tspan></text>
<text x="711" y="2087.8" font-size="27.4" text-anchor="middle" transform="rotate(-90 711 2087.8)">DMSO</text>
<text x="707" y="2450" font-size="27.8" text-anchor="middle" fill="#c06a6a" transform="rotate(-90 707 2450)">FOLFIRI</text>
<g transform="translate(849.7 1946.6) scale(2)" stroke-width="1" fill="none"><path stroke="#0050ff" d="M35 37.5h1M34 40.5h1M33 41.5h3M32 42.5h5M32 43.5h2m2 0h1M32 44.5h5M32 45.5h1m3 0h2M32 46.5h1m4 0h2M32 47.5h1m5 0h1M32 48.5h1m4 0h2M31 49.5h2m5 0h1M31 50.5h1m6 0h1M31 51.5h1m6 0h2M31 52.5h1m6 0h2M31 53.5h1m6 0h1M30 54.5h2m6 0h2M30 55.5h2m5 0h3M31 56.5h1m6 0h2M38 57.5h1M38 58.5h2M30 59.5h1m7 0h2M30 60.5h1m8 0h1M30 61.5h1m7 0h2M30 62.5h1m7 0h2M30 63.5h1m7 0h2M30 64.5h1M30 65.5h1m8 0h1M30 66.5h1m7 0h2M30 67.5h1m8 0h1M30 68.5h1m7 0h2M30 69.5h1m7 0h2M30 70.5h1m7 0h1M30 71.5h1m7 0h1M38 72.5h1M30 73.5h1m7 0h2M30 74.5h1m7 0h2M38 75.5h1M38 76.5h1M30 77.5h1M30 78.5h1m7 0h1M30 79.5h1m7 0h1M38 80.5h1M30 81.5h1m7 0h1M38 82.5h1M30 83.5h1m7 0h1M30 84.5h1M30 85.5h1m7 0h1M30 86.5h1M30 87.5h1M30 88.5h2M30 89.5h1m7 0h1M30 90.5h1m7 0h1M30 91.5h1m6 0h1M30 92.5h1m6 0h1M30 93.5h1M30 94.5h1m6 0h1M30 95.5h1M30 96.5h2M30 97.5h2m5 0h1M31 98.5h1m5 0h1M31 99.5h1m3 0h1m1 0h1M31 100.5h1m4 0h2M31 101.5h1m4 0h2M31 102.5h1m4 0h1M35 103.5h2M31 104.5h1m4 0h1M30 106.5h1M30 107.5h1M30 108.5h1m6 0h1M30 109.5h1M30 110.5h1m5 0h1M30 111.5h1m4 0h2M30 112.5h1m5 0h1M36 113.5h1M31 114.5h1m3 0h1M32 115.5h4M33 116.5h1"/><path stroke="#1010f0" d="M33 40.5h1m1 0h1M36 41.5h1M37 44.5h1M31 46.5h1M31 47.5h1M39 53.5h1M39 64.5h1M38 91.5h1M34 116.5h1"/><path stroke="#00a0ff" d="M34 43.5h2M33 45.5h3M33 46.5h4M33 47.5h5M33 48.5h4M33 49.5h5M32 50.5h1m3 0h2M32 51.5h2M32 52.5h1m4 0h1M32 53.5h2m1 0h1m1 0h1M32 54.5h2m1 0h1m1 0h1M32 55.5h2m2 0h1M32 56.5h1m4 0h1M31 57.5h2m3 0h2M31 58.5h1m1 0h1m3 0h1M31 59.5h1m5 0h1M31 60.5h1m5 0h2M31 61.5h1m5 0h1M31 62.5h1M31 63.5h1m5 0h1M31 64.5h1m6 0h1M31 65.5h1m6 0h1M31 66.5h1m5 0h1M31 67.5h1m5 0h1M37 69.5h1M31 70.5h1m5 0h1M31 71.5h1M31 72.5h1m5 0h1M31 73.5h1M37 74.5h1M31 75.5h1m5 0h1M37 76.5h1M38 77.5h1M37 78.5h1M37 79.5h1M31 80.5h1m5 0h1M31 81.5h1m5 0h1M31 82.5h1m5 0h1M31 83.5h1m5 0h1M31 84.5h1m5 0h1M31 85.5h1m5 0h1M31 86.5h1m5 0h1M31 87.5h1m5 0h1M36 88.5h2M31 89.5h2m4 0h1M31 90.5h1m4 0h2M31 91.5h1m4 0h1M31 92.5h2m3 0h1M31 93.5h1m4 0h1M31 94.5h1M31 95.5h2m3 0h1M36 96.5h2M32 97.5h2m1 0h2M32 98.5h2m2 0h1M32 99.5h1m1 0h1m1 0h1M32 100.5h2M32 101.5h4M32 102.5h1m1 0h2M32 103.5h1M32 104.5h4M31 105.5h1m3 0h2M31 106.5h1m4 0h1M31 107.5h2m3 0h1M31 108.5h1m4 0h1M31 109.5h1m4 0h1M32 110.5h1M31 111.5h1M31 112.5h2M31 113.5h2m2 0h1M32 114.5h3"/><path stroke="#00e0f0" d="M33 50.5h3M34 51.5h4M33 52.5h2m1 0h1M34 53.5h1m1 0h1M34 54.5h1m1 0h1M35 55.5h1M33 56.5h1m2 0h1M33 57.5h2M32 58.5h1m3 0h1M32 59.5h1m2 0h2M32 60.5h1m3 0h1M32 61.5h1M36 62.5h2M32 63.5h1m3 0h1M37 64.5h1M37 65.5h1M32 67.5h1M31 68.5h1m5 0h1M31 69.5h1M32 70.5h1M37 71.5h1M37 73.5h1M31 74.5h1M31 76.5h1M31 77.5h1m5 0h1M31 78.5h1M31 79.5h1M32 84.5h1m3 0h1M36 87.5h1M32 88.5h1M36 89.5h1M32 90.5h1M32 91.5h1M35 92.5h1M35 93.5h1M32 94.5h1m3 0h1M35 95.5h1M32 96.5h2m1 0h1M34 97.5h1M34 98.5h2M33 99.5h1M34 100.5h2M33 102.5h1M33 103.5h2M32 105.5h2M32 106.5h1m1 0h2M35 107.5h1M32 108.5h1m2 0h1M32 109.5h1m2 0h1M31 110.5h1m3 0h1M32 111.5h1m1 0h1M33 112.5h1m1 0h1M33 113.5h2"/><path stroke="#20f0a0" d="M35 52.5h1M34 55.5h1M35 57.5h1M33 59.5h2M33 60.5h1m1 0h1M34 61.5h3M32 62.5h1M35 63.5h1M32 64.5h2m2 0h1M32 65.5h1m3 0h1M32 66.5h2m2 0h1M36 67.5h1M32 68.5h1m3 0h1M32 69.5h1M32 71.5h1m3 0h1M36 73.5h1M36 74.5h1M32 76.5h1M32 78.5h1M32 80.5h1M32 82.5h1m3 0h1M32 83.5h1m3 0h1M35 84.5h1M36 85.5h1M36 86.5h1M32 87.5h1M35 88.5h1M33 89.5h1M33 90.5h2M33 91.5h3M33 92.5h2M32 93.5h2M35 94.5h1M33 95.5h2M34 96.5h1M34 105.5h1M33 106.5h1M33 107.5h2M33 108.5h2M34 109.5h1M33 110.5h2M34 112.5h1"/><path stroke="#40e040" d="M34 56.5h2M34 58.5h2M34 60.5h1M33 61.5h1M33 62.5h3M33 63.5h2M35 64.5h1M33 65.5h1m1 0h1M35 67.5h1M35 68.5h1M33 69.5h1m2 0h1M35 71.5h1M32 72.5h1m2 0h2M36 75.5h1M36 76.5h1M36 77.5h1M36 78.5h1M32 79.5h1m3 0h1M36 80.5h1M32 81.5h1m3 0h1M33 84.5h1M32 85.5h1m2 0h1M32 86.5h1m1 0h2M34 87.5h1M33 88.5h2M34 89.5h2M35 90.5h1M34 93.5h1M33 94.5h2M33 109.5h1M33 111.5h1"/><path stroke="#ffff00" d="M34 64.5h1M34 67.5h1M34 69.5h1M33 70.5h1M32 73.5h1M32 74.5h1M33 76.5h1m1 0h1M33 79.5h1M34 81.5h1M35 83.5h1M33 87.5h1"/><path stroke="#a0f020" d="M34 65.5h1M34 66.5h2M33 67.5h1M33 68.5h1M35 70.5h2M33 71.5h1M33 74.5h1m1 0h1M32 75.5h1M32 77.5h2M35 78.5h1M35 79.5h1M33 83.5h1M34 84.5h1M33 85.5h1M33 86.5h1M35 87.5h1"/><path stroke="#ffa000" d="M34 68.5h1M33 73.5h1m1 0h1M33 75.5h1m1 0h1M34 76.5h1M34 78.5h1M33 82.5h1m1 0h1M34 85.5h1"/><path stroke="#ff2000" d="M35 69.5h1M34 70.5h1M34 71.5h1M33 72.5h2M34 73.5h1M34 74.5h1M34 75.5h1M34 77.5h2M33 78.5h1M34 79.5h1M33 80.5h3M33 81.5h1m1 0h1M34 82.5h1M34 83.5h1"/><path stroke="#1010f0" stroke-width="0.65" d="M51.2 11.5h.65M43.2 14.5h.65M35.2 20.5h.65M36.2 20.5h.65M38.2 20.5h.65M105.2 20.5h.65M43.2 21.5h.65M95.2 23.5h.65M33.2 24.5h.65M33.2 27.5h.65M34.2 27.5h.65M43.2 27.5h.65M47.2 28.5h.65M32.2 29.5h.65M34.2 29.5h.65M36.2 29.5h.65M42.2 29.5h.65M91.2 29.5h.65M103.2 29.5h.65M104.2 29.5h.65M118.2 29.5h.65M31.2 30.5h.65M37.2 30.5h.65M39.2 30.5h.65M34.2 31.5h.65M35.2 31.5h.65M36.2 31.5h.65M37.2 31.5h.65M32.2 32.5h.65M33.2 32.5h.65M34.2 32.5h.65M38.2 32.5h.65M39.2 32.5h.65M42.2 32.5h.65M43.2 32.5h.65M45.2 32.5h.65M114.2 32.5h.65M123.2 32.5h.65M31.2 33.5h.65M32.2 33.5h.65M33.2 33.5h.65M34.2 33.5h.65M35.2 33.5h.65M37.2 33.5h.65M42.2 33.5h.65M46.2 33.5h.65M91.2 33.5h.65M32.2 34.5h.65M33.2 34.5h.65M34.2 34.5h.65M35.2 34.5h.65M36.2 34.5h.65M41.2 34.5h.65M42.2 34.5h.65M43.2 34.5h.65M49.2 34.5h.65M138.2 34.5h.65M32.2 35.5h.65M34.2 35.5h.65M35.2 35.5h.65M36.2 35.5h.65M37.2 35.5h.65M39.2 35.5h.65M46.2 35.5h.65M105.2 35.5h.65M112.2 35.5h.65M31.2 36.5h.65M32.2 36.5h.65M36.2 36.5h.65M37.2 36.5h.65M46.2 36.5h.65M48.2 36.5h.65M52.2 36.5h.65M102.2 36.5h.65M117.2 36.5h.65M30.2 37.5h.65M32.2 37.5h.65M36.2 37.5h.65M37.2 37.5h.65M38.2 37.5h.65M39.2 37.5h.65M41.2 37.5h.65M43.2 37.5h.65M104.2 37.5h.65M115.2 37.5h.65M125.2 37.5h.65M32.2 38.5h.65M33.2 38.5h.65M37.2 38.5h.65M38.2 38.5h.65M39.2 38.5h.65M44.2 38.5h.65M49.2 38.5h.65M94.2 38.5h.65M104.2 38.5h.65M129.2 38.5h.65M32.2 39.5h.65M34.2 39.5h.65M36.2 39.5h.65M38.2 39.5h.65M39.2 39.5h.65M40.2 39.5h.65M42.2 39.5h.65M43.2 39.5h.65M44.2 39.5h.65M47.2 39.5h.65M48.2 39.5h.65M91.2 39.5h.65M93.2 39.5h.65M110.2 39.5h.65M113.2 39.5h.65M116.2 39.5h.65M30.2 40.5h.65M32.2 40.5h.65M37.2 40.5h.65M38.2 40.5h.65M43.2 40.5h.65M91.2 40.5h.65M108.2 40.5h.65M109.2 40.5h.65M29.2 41.5h.65M31.2 41.5h.65M37.2 41.5h.65M38.2 41.5h.65M40.2 41.5h.65M42.2 41.5h.65M109.2 41.5h.65M29.2 42.5h.65M30.2 42.5h.65M31.2 42.5h.65M43.2 42.5h.65M46.2 42.5h.65M47.2 42.5h.65M98.2 42.5h.65M99.2 42.5h.65M102.2 42.5h.65M105.2 42.5h.65M109.2 42.5h.65M29.2 43.5h.65M30.2 43.5h.65M37.2 43.5h.65M46.2 43.5h.65M102.2 43.5h.65M103.2 43.5h.65M109.2 43.5h.65M30.2 44.5h.65M38.2 44.5h.65M39.2 44.5h.65M45.2 44.5h.65M47.2 44.5h.65M49.2 44.5h.65M94.2 44.5h.65M101.2 44.5h.65M105.2 44.5h.65M115.2 44.5h.65M40.2 45.5h.65M48.2 45.5h.65M51.2 45.5h.65M84.2 45.5h.65M91.2 45.5h.65M95.2 45.5h.65M103.2 45.5h.65M106.2 45.5h.65M107.2 45.5h.65M110.2 45.5h.65M120.2 45.5h.65M131.2 45.5h.65M27.2 46.5h.65M30.2 46.5h.65M39.2 46.5h.65M40.2 46.5h.65M41.2 46.5h.65M45.2 46.5h.65M46.2 46.5h.65M58.2 46.5h.65M92.2 46.5h.65M98.2 46.5h.65M102.2 46.5h.65M105.2 46.5h.65M110.2 46.5h.65M30.2 47.5h.65M41.2 47.5h.65M42.2 47.5h.65M43.2 47.5h.65M44.2 47.5h.65M46.2 47.5h.65M80.2 47.5h.65M93.2 47.5h.65M95.2 47.5h.65M103.2 47.5h.65M114.2 47.5h.65M132.2 47.5h.65M25.2 48.5h.65M28.2 48.5h.65M39.2 48.5h.65M41.2 48.5h.65M42.2 48.5h.65M45.2 48.5h.65M46.2 48.5h.65M49.2 48.5h.65M53.2 48.5h.65M95.2 48.5h.65M97.2 48.5h.65M98.2 48.5h.65M104.2 48.5h.65M107.2 48.5h.65M109.2 48.5h.65M128.2 48.5h.65M25.2 49.5h.65M29.2 49.5h.65M30.2 49.5h.65M40.2 49.5h.65M41.2 49.5h.65M42.2 49.5h.65M45.2 49.5h.65M47.2 49.5h.65M81.2 49.5h.65M87.2 49.5h.65M95.2 49.5h.65M97.2 49.5h.65M99.2 49.5h.65M101.2 49.5h.65M102.2 49.5h.65M109.2 49.5h.65M114.2 49.5h.65M115.2 49.5h.65M117.2 49.5h.65M127.2 49.5h.65M129.2 49.5h.65M25.2 50.5h.65M28.2 50.5h.65M29.2 50.5h.65M30.2 50.5h.65M40.2 50.5h.65M42.2 50.5h.65M46.2 50.5h.65M48.2 50.5h.65M77.2 50.5h.65M86.2 50.5h.65M96.2 50.5h.65M97.2 50.5h.65M98.2 50.5h.65M104.2 50.5h.65M115.2 50.5h.65M120.2 50.5h.65M126.2 50.5h.65M24.2 51.5h.65M40.2 51.5h.65M42.2 51.5h.65M43.2 51.5h.65M44.2 51.5h.65M45.2 51.5h.65M46.2 51.5h.65M72.2 51.5h.65M77.2 51.5h.65M93.2 51.5h.65M95.2 51.5h.65M98.2 51.5h.65M101.2 51.5h.65M111.2 51.5h.65M114.2 51.5h.65M120.2 51.5h.65M134.2 51.5h.65M26.2 52.5h.65M29.2 52.5h.65M30.2 52.5h.65M40.2 52.5h.65M41.2 52.5h.65M44.2 52.5h.65M47.2 52.5h.65M48.2 52.5h.65M49.2 52.5h.65M88.2 52.5h.65M90.2 52.5h.65M97.2 52.5h.65M101.2 52.5h.65M102.2 52.5h.65M104.2 52.5h.65M106.2 52.5h.65M108.2 52.5h.65M110.2 52.5h.65M113.2 52.5h.65M115.2 52.5h.65M120.2 52.5h.65M27.2 53.5h.65M41.2 53.5h.65M42.2 53.5h.65M43.2 53.5h.65M46.2 53.5h.65M49.2 53.5h.65M78.2 53.5h.65M83.2 53.5h.65M84.2 53.5h.65M88.2 53.5h.65M90.2 53.5h.65M94.2 53.5h.65M97.2 53.5h.65M103.2 53.5h.65M106.2 53.5h.65M128.2 53.5h.65M28.2 54.5h.65M29.2 54.5h.65M41.2 54.5h.65M43.2 54.5h.65M49.2 54.5h.65M50.2 54.5h.65M82.2 54.5h.65M84.2 54.5h.65M86.2 54.5h.65M88.2 54.5h.65M89.2 54.5h.65M90.2 54.5h.65M91.2 54.5h.65M92.2 54.5h.65M99.2 54.5h.65M102.2 54.5h.65M107.2 54.5h.65M109.2 54.5h.65M26.2 55.5h.65M41.2 55.5h.65M42.2 55.5h.65M43.2 55.5h.65M44.2 55.5h.65M45.2 55.5h.65M47.2 55.5h.65M50.2 55.5h.65M69.2 55.5h.65M81.2 55.5h.65M82.2 55.5h.65M94.2 55.5h.65M97.2 55.5h.65M98.2 55.5h.65M101.2 55.5h.65M102.2 55.5h.65M105.2 55.5h.65M109.2 55.5h.65M110.2 55.5h.65M120.2 55.5h.65M41.2 56.5h.65M42.2 56.5h.65M43.2 56.5h.65M44.2 56.5h.65M45.2 56.5h.65M49.2 56.5h.65M53.2 56.5h.65M76.2 56.5h.65M77.2 56.5h.65M80.2 56.5h.65M84.2 56.5h.65M86.2 56.5h.65M91.2 56.5h.65M97.2 56.5h.65M100.2 56.5h.65M102.2 56.5h.65M108.2 56.5h.65M116.2 56.5h.65M123.2 56.5h.65M28.2 57.5h.65M39.2 57.5h.65M41.2 57.5h.65M42.2 57.5h.65M43.2 57.5h.65M44.2 57.5h.65M74.2 57.5h.65M76.2 57.5h.65M90.2 57.5h.65M93.2 57.5h.65M96.2 57.5h.65M97.2 57.5h.65M101.2 57.5h.65M104.2 57.5h.65M106.2 57.5h.65M113.2 57.5h.65M126.2 57.5h.65M29.2 58.5h.65M40.2 58.5h.65M44.2 58.5h.65M45.2 58.5h.65M47.2 58.5h.65M48.2 58.5h.65M50.2 58.5h.65M51.2 58.5h.65M75.2 58.5h.65M78.2 58.5h.65M80.2 58.5h.65M83.2 58.5h.65M88.2 58.5h.65M92.2 58.5h.65M93.2 58.5h.65M95.2 58.5h.65M96.2 58.5h.65M97.2 58.5h.65M99.2 58.5h.65M101.2 58.5h.65M103.2 58.5h.65M105.2 58.5h.65M106.2 58.5h.65M107.2 58.5h.65M109.2 58.5h.65M112.2 58.5h.65M116.2 58.5h.65M121.2 58.5h.65M40.2 59.5h.65M41.2 59.5h.65M43.2 59.5h.65M45.2 59.5h.65M46.2 59.5h.65M50.2 59.5h.65M79.2 59.5h.65M85.2 59.5h.65M88.2 59.5h.65M95.2 59.5h.65M96.2 59.5h.65M97.2 59.5h.65M99.2 59.5h.65M101.2 59.5h.65M102.2 59.5h.65M105.2 59.5h.65M108.2 59.5h.65M110.2 59.5h.65M116.2 59.5h.65M122.2 59.5h.65M29.2 60.5h.65M42.2 60.5h.65M44.2 60.5h.65M45.2 60.5h.65M46.2 60.5h.65M47.2 60.5h.65M51.2 60.5h.65M79.2 60.5h.65M82.2 60.5h.65M84.2 60.5h.65M86.2 60.5h.65M90.2 60.5h.65M93.2 60.5h.65M97.2 60.5h.65M99.2 60.5h.65M101.2 60.5h.65M103.2 60.5h.65M106.2 60.5h.65M108.2 60.5h.65M110.2 60.5h.65M111.2 60.5h.65M26.2 61.5h.65M27.2 61.5h.65M28.2 61.5h.65M29.2 61.5h.65M40.2 61.5h.65M41.2 61.5h.65M45.2 61.5h.65M46.2 61.5h.65M47.2 61.5h.65M48.2 61.5h.65M50.2 61.5h.65M64.2 61.5h.65M79.2 61.5h.65M80.2 61.5h.65M81.2 61.5h.65M85.2 61.5h.65M89.2 61.5h.65M90.2 61.5h.65M95.2 61.5h.65M98.2 61.5h.65M100.2 61.5h.65M101.2 61.5h.65M102.2 61.5h.65M103.2 61.5h.65M108.2 61.5h.65M115.2 61.5h.65M27.2 62.5h.65M29.2 62.5h.65M40.2 62.5h.65M41.2 62.5h.65M43.2 62.5h.65M49.2 62.5h.65M69.2 62.5h.65M76.2 62.5h.65M83.2 62.5h.65M84.2 62.5h.65M87.2 62.5h.65M88.2 62.5h.65M89.2 62.5h.65M92.2 62.5h.65M93.2 62.5h.65M94.2 62.5h.65M96.2 62.5h.65M97.2 62.5h.65M103.2 62.5h.65M105.2 62.5h.65M111.2 62.5h.65M29.2 63.5h.65M40.2 63.5h.65M41.2 63.5h.65M42.2 63.5h.65M43.2 63.5h.65M45.2 63.5h.65M46.2 63.5h.65M47.2 63.5h.65M49.2 63.5h.65M52.2 63.5h.65M79.2 63.5h.65M80.2 63.5h.65M84.2 63.5h.65M88.2 63.5h.65M94.2 63.5h.65M96.2 63.5h.65M100.2 63.5h.65M102.2 63.5h.65M103.2 63.5h.65M109.2 63.5h.65M111.2 63.5h.65M116.2 63.5h.65M120.2 63.5h.65M26.2 64.5h.65M40.2 64.5h.65M41.2 64.5h.65M42.2 64.5h.65M43.2 64.5h.65M45.2 64.5h.65M46.2 64.5h.65M47.2 64.5h.65M76.2 64.5h.65M78.2 64.5h.65M81.2 64.5h.65M82.2 64.5h.65M84.2 64.5h.65M86.2 64.5h.65M87.2 64.5h.65M91.2 64.5h.65M93.2 64.5h.65M96.2 64.5h.65M98.2 64.5h.65M100.2 64.5h.65M101.2 64.5h.65M102.2 64.5h.65M104.2 64.5h.65M105.2 64.5h.65M107.2 64.5h.65M116.2 64.5h.65M28.2 65.5h.65M29.2 65.5h.65M40.2 65.5h.65M41.2 65.5h.65M42.2 65.5h.65M43.2 65.5h.65M44.2 65.5h.65M47.2 65.5h.65M48.2 65.5h.65M50.2 65.5h.65M72.2 65.5h.65M73.2 65.5h.65M81.2 65.5h.65M82.2 65.5h.65M87.2 65.5h.65M90.2 65.5h.65M93.2 65.5h.65M94.2 65.5h.65M97.2 65.5h.65M98.2 65.5h.65M99.2 65.5h.65M106.2 65.5h.65M108.2 65.5h.65M40.2 66.5h.65M42.2 66.5h.65M43.2 66.5h.65M44.2 66.5h.65M47.2 66.5h.65M48.2 66.5h.65M53.2 66.5h.65M84.2 66.5h.65M87.2 66.5h.65M92.2 66.5h.65M94.2 66.5h.65M97.2 66.5h.65M98.2 66.5h.65M102.2 66.5h.65M105.2 66.5h.65M108.2 66.5h.65M112.2 66.5h.65M28.2 67.5h.65M29.2 67.5h.65M42.2 67.5h.65M43.2 67.5h.65M44.2 67.5h.65M45.2 67.5h.65M46.2 67.5h.65M48.2 67.5h.65M49.2 67.5h.65M54.2 67.5h.65M78.2 67.5h.65M80.2 67.5h.65M82.2 67.5h.65M83.2 67.5h.65M86.2 67.5h.65M88.2 67.5h.65M91.2 67.5h.65M94.2 67.5h.65M103.2 67.5h.65M104.2 67.5h.65M107.2 67.5h.65M109.2 67.5h.65M110.2 67.5h.65M114.2 67.5h.65M27.2 68.5h.65M29.2 68.5h.65M40.2 68.5h.65M44.2 68.5h.65M45.2 68.5h.65M47.2 68.5h.65M48.2 68.5h.65M72.2 68.5h.65M73.2 68.5h.65M76.2 68.5h.65M77.2 68.5h.65M82.2 68.5h.65M83.2 68.5h.65M87.2 68.5h.65M89.2 68.5h.65M92.2 68.5h.65M95.2 68.5h.65M97.2 68.5h.65M98.2 68.5h.65M99.2 68.5h.65M106.2 68.5h.65M108.2 68.5h.65M109.2 68.5h.65M110.2 68.5h.65M118.2 68.5h.65M29.2 69.5h.65M43.2 69.5h.65M46.2 69.5h.65M47.2 69.5h.65M50.2 69.5h.65M52.2 69.5h.65M56.2 69.5h.65M73.2 69.5h.65M77.2 69.5h.65M80.2 69.5h.65M81.2 69.5h.65M82.2 69.5h.65M83.2 69.5h.65M86.2 69.5h.65M87.2 69.5h.65M90.2 69.5h.65M91.2 69.5h.65M93.2 69.5h.65M94.2 69.5h.65M99.2 69.5h.65M100.2 69.5h.65M105.2 69.5h.65M108.2 69.5h.65M29.2 70.5h.65M41.2 70.5h.65M42.2 70.5h.65M43.2 70.5h.65M44.2 70.5h.65M45.2 70.5h.65M46.2 70.5h.65M47.2 70.5h.65M53.2 70.5h.65M55.2 70.5h.65M63.2 70.5h.65M78.2 70.5h.65M81.2 70.5h.65M87.2 70.5h.65M88.2 70.5h.65M89.2 70.5h.65M91.2 70.5h.65M94.2 70.5h.65M96.2 70.5h.65M97.2 70.5h.65M98.2 70.5h.65M100.2 70.5h.65M101.2 70.5h.65M105.2 70.5h.65M109.2 70.5h.65M110.2 70.5h.65M114.2 70.5h.65M28.2 71.5h.65M29.2 71.5h.65M39.2 71.5h.65M40.2 71.5h.65M41.2 71.5h.65M42.2 71.5h.65M43.2 71.5h.65M44.2 71.5h.65M45.2 71.5h.65M47.2 71.5h.65M48.2 71.5h.65M49.2 71.5h.65M53.2 71.5h.65M71.2 71.5h.65M73.2 71.5h.65M80.2 71.5h.65M81.2 71.5h.65M84.2 71.5h.65M85.2 71.5h.65M86.2 71.5h.65M88.2 71.5h.65M89.2 71.5h.65M91.2 71.5h.65M93.2 71.5h.65M94.2 71.5h.65M96.2 71.5h.65M97.2 71.5h.65M98.2 71.5h.65M99.2 71.5h.65M108.2 71.5h.65M111.2 71.5h.65M112.2 71.5h.65M29.2 72.5h.65M42.2 72.5h.65M43.2 72.5h.65M45.2 72.5h.65M47.2 72.5h.65M48.2 72.5h.65M49.2 72.5h.65M51.2 72.5h.65M62.2 72.5h.65M75.2 72.5h.65M80.2 72.5h.65M83.2 72.5h.65M87.2 72.5h.65M88.2 72.5h.65M89.2 72.5h.65M93.2 72.5h.65M95.2 72.5h.65M96.2 72.5h.65M97.2 72.5h.65M98.2 72.5h.65M99.2 72.5h.65M102.2 72.5h.65M105.2 72.5h.65M106.2 72.5h.65M116.2 72.5h.65M27.2 73.5h.65M29.2 73.5h.65M41.2 73.5h.65M42.2 73.5h.65M43.2 73.5h.65M44.2 73.5h.65M45.2 73.5h.65M46.2 73.5h.65M47.2 73.5h.65M67.2 73.5h.65M69.2 73.5h.65M73.2 73.5h.65M79.2 73.5h.65M80.2 73.5h.65M82.2 73.5h.65M83.2 73.5h.65M85.2 73.5h.65M88.2 73.5h.65M93.2 73.5h.65M96.2 73.5h.65M100.2 73.5h.65M106.2 73.5h.65M117.2 73.5h.65M119.2 73.5h.65M26.2 74.5h.65M29.2 74.5h.65M40.2 74.5h.65M41.2 74.5h.65M42.2 74.5h.65M43.2 74.5h.65M44.2 74.5h.65M47.2 74.5h.65M50.2 74.5h.65M53.2 74.5h.65M65.2 74.5h.65M68.2 74.5h.65M79.2 74.5h.65M82.2 74.5h.65M83.2 74.5h.65M88.2 74.5h.65M93.2 74.5h.65M95.2 74.5h.65M98.2 74.5h.65M99.2 74.5h.65M100.2 74.5h.65M103.2 74.5h.65M108.2 74.5h.65M124.2 74.5h.65M27.2 75.5h.65M39.2 75.5h.65M41.2 75.5h.65M42.2 75.5h.65M43.2 75.5h.65M45.2 75.5h.65M46.2 75.5h.65M47.2 75.5h.65M49.2 75.5h.65M51.2 75.5h.65M63.2 75.5h.65M77.2 75.5h.65M79.2 75.5h.65M81.2 75.5h.65M84.2 75.5h.65M87.2 75.5h.65M92.2 75.5h.65M94.2 75.5h.65M96.2 75.5h.65M97.2 75.5h.65M99.2 75.5h.65M104.2 75.5h.65M113.2 75.5h.65M115.2 75.5h.65M28.2 76.5h.65M29.2 76.5h.65M40.2 76.5h.65M41.2 76.5h.65M42.2 76.5h.65M43.2 76.5h.65M45.2 76.5h.65M46.2 76.5h.65M52.2 76.5h.65M76.2 76.5h.65M77.2 76.5h.65M78.2 76.5h.65M82.2 76.5h.65M86.2 76.5h.65M88.2 76.5h.65M89.2 76.5h.65M90.2 76.5h.65M91.2 76.5h.65M94.2 76.5h.65M98.2 76.5h.65M99.2 76.5h.65M104.2 76.5h.65M119.2 76.5h.65M28.2 77.5h.65M40.2 77.5h.65M41.2 77.5h.65M42.2 77.5h.65M43.2 77.5h.65M45.2 77.5h.65M46.2 77.5h.65M47.2 77.5h.65M48.2 77.5h.65M50.2 77.5h.65M51.2 77.5h.65M52.2 77.5h.65M56.2 77.5h.65M57.2 77.5h.65M78.2 77.5h.65M81.2 77.5h.65M82.2 77.5h.65M86.2 77.5h.65M87.2 77.5h.65M88.2 77.5h.65M89.2 77.5h.65M90.2 77.5h.65M91.2 77.5h.65M92.2 77.5h.65M94.2 77.5h.65M97.2 77.5h.65M107.2 77.5h.65M108.2 77.5h.65M27.2 78.5h.65M29.2 78.5h.65M39.2 78.5h.65M40.2 78.5h.65M41.2 78.5h.65M42.2 78.5h.65M43.2 78.5h.65M44.2 78.5h.65M45.2 78.5h.65M47.2 78.5h.65M52.2 78.5h.65M64.2 78.5h.65M72.2 78.5h.65M78.2 78.5h.65M80.2 78.5h.65M82.2 78.5h.65M86.2 78.5h.65M87.2 78.5h.65M88.2 78.5h.65M89.2 78.5h.65M97.2 78.5h.65M98.2 78.5h.65M100.2 78.5h.65M113.2 78.5h.65M119.2 78.5h.65M132.2 78.5h.65M28.2 79.5h.65M40.2 79.5h.65M41.2 79.5h.65M42.2 79.5h.65M43.2 79.5h.65M44.2 79.5h.65M45.2 79.5h.65M48.2 79.5h.65M49.2 79.5h.65M55.2 79.5h.65M62.2 79.5h.65M67.2 79.5h.65M71.2 79.5h.65M75.2 79.5h.65M78.2 79.5h.65M79.2 79.5h.65M80.2 79.5h.65M81.2 79.5h.65M82.2 79.5h.65M83.2 79.5h.65M84.2 79.5h.65M88.2 79.5h.65M89.2 79.5h.65M92.2 79.5h.65M93.2 79.5h.65M96.2 79.5h.65M101.2 79.5h.65M103.2 79.5h.65M120.2 79.5h.65M26.2 80.5h.65M29.2 80.5h.65M39.2 80.5h.65M40.2 80.5h.65M41.2 80.5h.65M42.2 80.5h.65M43.2 80.5h.65M44.2 80.5h.65M45.2 80.5h.65M48.2 80.5h.65M68.2 80.5h.65M82.2 80.5h.65M85.2 80.5h.65M105.2 80.5h.65M22.2 81.5h.65M40.2 81.5h.65M42.2 81.5h.65M43.2 81.5h.65M44.2 81.5h.65M45.2 81.5h.65M47.2 81.5h.65M49.2 81.5h.65M61.2 81.5h.65M63.2 81.5h.65M69.2 81.5h.65M81.2 81.5h.65M82.2 81.5h.65M88.2 81.5h.65M92.2 81.5h.65M94.2 81.5h.65M105.2 81.5h.65M109.2 81.5h.65M29.2 82.5h.65M39.2 82.5h.65M40.2 82.5h.65M41.2 82.5h.65M46.2 82.5h.65M48.2 82.5h.65M74.2 82.5h.65M75.2 82.5h.65M76.2 82.5h.65M84.2 82.5h.65M88.2 82.5h.65M95.2 82.5h.65M98.2 82.5h.65M100.2 82.5h.65M102.2 82.5h.65M105.2 82.5h.65M110.2 82.5h.65M28.2 83.5h.65M29.2 83.5h.65M39.2 83.5h.65M40.2 83.5h.65M41.2 83.5h.65M42.2 83.5h.65M44.2 83.5h.65M45.2 83.5h.65M47.2 83.5h.65M65.2 83.5h.65M70.2 83.5h.65M75.2 83.5h.65M82.2 83.5h.65M84.2 83.5h.65M87.2 83.5h.65M89.2 83.5h.65M90.2 83.5h.65M91.2 83.5h.65M92.2 83.5h.65M39.2 84.5h.65M40.2 84.5h.65M41.2 84.5h.65M42.2 84.5h.65M46.2 84.5h.65M47.2 84.5h.65M49.2 84.5h.65M55.2 84.5h.65M65.2 84.5h.65M68.2 84.5h.65M81.2 84.5h.65M84.2 84.5h.65M97.2 84.5h.65M29.2 85.5h.65M39.2 85.5h.65M40.2 85.5h.65M45.2 85.5h.65M47.2 85.5h.65M48.2 85.5h.65M50.2 85.5h.65M68.2 85.5h.65M72.2 85.5h.65M73.2 85.5h.65M74.2 85.5h.65M76.2 85.5h.65M77.2 85.5h.65M78.2 85.5h.65M79.2 85.5h.65M80.2 85.5h.65M85.2 85.5h.65M87.2 85.5h.65M88.2 85.5h.65M89.2 85.5h.65M92.2 85.5h.65M96.2 85.5h.65M100.2 85.5h.65M40.2 86.5h.65M41.2 86.5h.65M43.2 86.5h.65M46.2 86.5h.65M51.2 86.5h.65M52.2 86.5h.65M58.2 86.5h.65M59.2 86.5h.65M65.2 86.5h.65M71.2 86.5h.65M79.2 86.5h.65M82.2 86.5h.65M29.2 87.5h.65M39.2 87.5h.65M41.2 87.5h.65M42.2 87.5h.65M44.2 87.5h.65M45.2 87.5h.65M47.2 87.5h.65M48.2 87.5h.65M57.2 87.5h.65M59.2 87.5h.65M62.2 87.5h.65M66.2 87.5h.65M69.2 87.5h.65M72.2 87.5h.65M74.2 87.5h.65M75.2 87.5h.65M76.2 87.5h.65M78.2 87.5h.65M83.2 87.5h.65M87.2 87.5h.65M93.2 87.5h.65M29.2 88.5h.65M40.2 88.5h.65M41.2 88.5h.65M42.2 88.5h.65M43.2 88.5h.65M45.2 88.5h.65M47.2 88.5h.65M52.2 88.5h.65M55.2 88.5h.65M57.2 88.5h.65M61.2 88.5h.65M63.2 88.5h.65M65.2 88.5h.65M66.2 88.5h.65M68.2 88.5h.65M69.2 88.5h.65M70.2 88.5h.65M89.2 88.5h.65M91.2 88.5h.65M98.2 88.5h.65M39.2 89.5h.65M43.2 89.5h.65M45.2 89.5h.65M47.2 89.5h.65M48.2 89.5h.65M49.2 89.5h.65M50.2 89.5h.65M53.2 89.5h.65M58.2 89.5h.65M59.2 89.5h.65M62.2 89.5h.65M65.2 89.5h.65M68.2 89.5h.65M71.2 89.5h.65M72.2 89.5h.65M73.2 89.5h.65M74.2 89.5h.65M77.2 89.5h.65M78.2 89.5h.65M79.2 89.5h.65M82.2 89.5h.65M85.2 89.5h.65M86.2 89.5h.65M88.2 89.5h.65M28.2 90.5h.65M29.2 90.5h.65M40.2 90.5h.65M43.2 90.5h.65M44.2 90.5h.65M48.2 90.5h.65M51.2 90.5h.65M58.2 90.5h.65M59.2 90.5h.65M62.2 90.5h.65M63.2 90.5h.65M65.2 90.5h.65M66.2 90.5h.65M67.2 90.5h.65M68.2 90.5h.65M69.2 90.5h.65M70.2 90.5h.65M71.2 90.5h.65M72.2 90.5h.65M73.2 90.5h.65M74.2 90.5h.65M75.2 90.5h.65M79.2 90.5h.65M82.2 90.5h.65M83.2 90.5h.65M85.2 90.5h.65M86.2 90.5h.65M91.2 90.5h.65M29.2 91.5h.65M39.2 91.5h.65M40.2 91.5h.65M41.2 91.5h.65M42.2 91.5h.65M43.2 91.5h.65M47.2 91.5h.65M48.2 91.5h.65M51.2 91.5h.65M52.2 91.5h.65M53.2 91.5h.65M54.2 91.5h.65M60.2 91.5h.65M61.2 91.5h.65M62.2 91.5h.65M64.2 91.5h.65M65.2 91.5h.65M66.2 91.5h.65M67.2 91.5h.65M68.2 91.5h.65M69.2 91.5h.65M70.2 91.5h.65M71.2 91.5h.65M72.2 91.5h.65M75.2 91.5h.65M77.2 91.5h.65M79.2 91.5h.65M82.2 91.5h.65M83.2 91.5h.65M85.2 91.5h.65M94.2 91.5h.65M96.2 91.5h.65M101.2 91.5h.65M39.2 92.5h.65M42.2 92.5h.65M43.2 92.5h.65M45.2 92.5h.65M46.2 92.5h.65M50.2 92.5h.65M51.2 92.5h.65M52.2 92.5h.65M53.2 92.5h.65M55.2 92.5h.65M56.2 92.5h.65M59.2 92.5h.65M62.2 92.5h.65M64.2 92.5h.65M66.2 92.5h.65M67.2 92.5h.65M68.2 92.5h.65M69.2 92.5h.65M70.2 92.5h.65M71.2 92.5h.65M72.2 92.5h.65M73.2 92.5h.65M76.2 92.5h.65M77.2 92.5h.65M79.2 92.5h.65M81.2 92.5h.65M83.2 92.5h.65M84.2 92.5h.65M85.2 92.5h.65M88.2 92.5h.65M90.2 92.5h.65M91.2 92.5h.65M93.2 92.5h.65M108.2 92.5h.65M28.2 93.5h.65M29.2 93.5h.65M40.2 93.5h.65M41.2 93.5h.65M42.2 93.5h.65M44.2 93.5h.65M45.2 93.5h.65M46.2 93.5h.65M51.2 93.5h.65M55.2 93.5h.65M57.2 93.5h.65M58.2 93.5h.65M59.2 93.5h.65M60.2 93.5h.65M61.2 93.5h.65M62.2 93.5h.65M63.2 93.5h.65M64.2 93.5h.65M65.2 93.5h.65M70.2 93.5h.65M71.2 93.5h.65M72.2 93.5h.65M74.2 93.5h.65M75.2 93.5h.65M76.2 93.5h.65M79.2 93.5h.65M80.2 93.5h.65M82.2 93.5h.65M86.2 93.5h.65M87.2 93.5h.65M91.2 93.5h.65M99.2 93.5h.65M29.2 94.5h.65M39.2 94.5h.65M40.2 94.5h.65M42.2 94.5h.65M44.2 94.5h.65M45.2 94.5h.65M46.2 94.5h.65M47.2 94.5h.65M51.2 94.5h.65M57.2 94.5h.65M59.2 94.5h.65M61.2 94.5h.65M62.2 94.5h.65M63.2 94.5h.65M65.2 94.5h.65M67.2 94.5h.65M69.2 94.5h.65M71.2 94.5h.65M72.2 94.5h.65M74.2 94.5h.65M75.2 94.5h.65M76.2 94.5h.65M77.2 94.5h.65M78.2 94.5h.65M79.2 94.5h.65M82.2 94.5h.65M83.2 94.5h.65M86.2 94.5h.65M90.2 94.5h.65M97.2 94.5h.65M98.2 94.5h.65M103.2 94.5h.65M110.2 94.5h.65M38.2 95.5h.65M40.2 95.5h.65M41.2 95.5h.65M43.2 95.5h.65M46.2 95.5h.65M47.2 95.5h.65M53.2 95.5h.65M54.2 95.5h.65M56.2 95.5h.65M58.2 95.5h.65M59.2 95.5h.65M62.2 95.5h.65M63.2 95.5h.65M64.2 95.5h.65M65.2 95.5h.65M66.2 95.5h.65M68.2 95.5h.65M69.2 95.5h.65M70.2 95.5h.65M71.2 95.5h.65M72.2 95.5h.65M74.2 95.5h.65M75.2 95.5h.65M76.2 95.5h.65M78.2 95.5h.65M79.2 95.5h.65M80.2 95.5h.65M81.2 95.5h.65M85.2 95.5h.65M93.2 95.5h.65M29.2 96.5h.65M38.2 96.5h.65M39.2 96.5h.65M45.2 96.5h.65M47.2 96.5h.65M48.2 96.5h.65M49.2 96.5h.65M50.2 96.5h.65M57.2 96.5h.65M58.2 96.5h.65M61.2 96.5h.65M63.2 96.5h.65M64.2 96.5h.65M68.2 96.5h.65M70.2 96.5h.65M71.2 96.5h.65M72.2 96.5h.65M73.2 96.5h.65M74.2 96.5h.65M75.2 96.5h.65M76.2 96.5h.65M77.2 96.5h.65M79.2 96.5h.65M80.2 96.5h.65M81.2 96.5h.65M82.2 96.5h.65M83.2 96.5h.65M84.2 96.5h.65M86.2 96.5h.65M87.2 96.5h.65M90.2 96.5h.65M96.2 96.5h.65M38.2 97.5h.65M39.2 97.5h.65M41.2 97.5h.65M43.2 97.5h.65M44.2 97.5h.65M45.2 97.5h.65M47.2 97.5h.65M51.2 97.5h.65M52.2 97.5h.65M53.2 97.5h.65M54.2 97.5h.65M55.2 97.5h.65M56.2 97.5h.65M58.2 97.5h.65M59.2 97.5h.65M61.2 97.5h.65M62.2 97.5h.65M63.2 97.5h.65M64.2 97.5h.65M67.2 97.5h.65M68.2 97.5h.65M69.2 97.5h.65M70.2 97.5h.65M72.2 97.5h.65M73.2 97.5h.65M74.2 97.5h.65M76.2 97.5h.65M77.2 97.5h.65M78.2 97.5h.65M79.2 97.5h.65M80.2 97.5h.65M81.2 97.5h.65M83.2 97.5h.65M85.2 97.5h.65M87.2 97.5h.65M30.2 98.5h.65M38.2 98.5h.65M40.2 98.5h.65M41.2 98.5h.65M42.2 98.5h.65M43.2 98.5h.65M44.2 98.5h.65M45.2 98.5h.65M46.2 98.5h.65M47.2 98.5h.65M48.2 98.5h.65M49.2 98.5h.65M53.2 98.5h.65M54.2 98.5h.65M56.2 98.5h.65M58.2 98.5h.65M59.2 98.5h.65M60.2 98.5h.65M61.2 98.5h.65M62.2 98.5h.65M64.2 98.5h.65M65.2 98.5h.65M67.2 98.5h.65M68.2 98.5h.65M69.2 98.5h.65M70.2 98.5h.65M71.2 98.5h.65M72.2 98.5h.65M73.2 98.5h.65M75.2 98.5h.65M76.2 98.5h.65M77.2 98.5h.65M79.2 98.5h.65M81.2 98.5h.65M85.2 98.5h.65M89.2 98.5h.65M91.2 98.5h.65M101.2 98.5h.65M104.2 98.5h.65M28.2 99.5h.65M38.2 99.5h.65M42.2 99.5h.65M44.2 99.5h.65M47.2 99.5h.65M48.2 99.5h.65M50.2 99.5h.65M51.2 99.5h.65M53.2 99.5h.65M60.2 99.5h.65M61.2 99.5h.65M62.2 99.5h.65M63.2 99.5h.65M64.2 99.5h.65M65.2 99.5h.65M66.2 99.5h.65M67.2 99.5h.65M68.2 99.5h.65M71.2 99.5h.65M72.2 99.5h.65M75.2 99.5h.65M76.2 99.5h.65M77.2 99.5h.65M78.2 99.5h.65M79.2 99.5h.65M81.2 99.5h.65M82.2 99.5h.65M84.2 99.5h.65M29.2 100.5h.65M30.2 100.5h.65M38.2 100.5h.65M39.2 100.5h.65M41.2 100.5h.65M42.2 100.5h.65M43.2 100.5h.65M45.2 100.5h.65M46.2 100.5h.65M47.2 100.5h.65M48.2 100.5h.65M54.2 100.5h.65M56.2 100.5h.65M57.2 100.5h.65M58.2 100.5h.65M59.2 100.5h.65M61.2 100.5h.65M62.2 100.5h.65M63.2 100.5h.65M65.2 100.5h.65M66.2 100.5h.65M67.2 100.5h.65M68.2 100.5h.65M69.2 100.5h.65M70.2 100.5h.65M72.2 100.5h.65M73.2 100.5h.65M74.2 100.5h.65M75.2 100.5h.65M77.2 100.5h.65M78.2 100.5h.65M81.2 100.5h.65M82.2 100.5h.65M83.2 100.5h.65M86.2 100.5h.65M87.2 100.5h.65M91.2 100.5h.65M92.2 100.5h.65M93.2 100.5h.65M94.2 100.5h.65M38.2 101.5h.65M41.2 101.5h.65M44.2 101.5h.65M45.2 101.5h.65M48.2 101.5h.65M53.2 101.5h.65M54.2 101.5h.65M57.2 101.5h.65M58.2 101.5h.65M59.2 101.5h.65M60.2 101.5h.65M62.2 101.5h.65M65.2 101.5h.65M66.2 101.5h.65M68.2 101.5h.65M70.2 101.5h.65M71.2 101.5h.65M72.2 101.5h.65M74.2 101.5h.65M76.2 101.5h.65M77.2 101.5h.65M78.2 101.5h.65M79.2 101.5h.65M81.2 101.5h.65M82.2 101.5h.65M88.2 101.5h.65M94.2 101.5h.65M30.2 102.5h.65M39.2 102.5h.65M44.2 102.5h.65M46.2 102.5h.65M49.2 102.5h.65M50.2 102.5h.65M55.2 102.5h.65M56.2 102.5h.65M58.2 102.5h.65M59.2 102.5h.65M60.2 102.5h.65M62.2 102.5h.65M63.2 102.5h.65M67.2 102.5h.65M68.2 102.5h.65M70.2 102.5h.65M72.2 102.5h.65M73.2 102.5h.65M74.2 102.5h.65M75.2 102.5h.65M77.2 102.5h.65M82.2 102.5h.65M87.2 102.5h.65M29.2 103.5h.65M30.2 103.5h.65M37.2 103.5h.65M39.2 103.5h.65M48.2 103.5h.65M49.2 103.5h.65M57.2 103.5h.65M60.2 103.5h.65M61.2 103.5h.65M64.2 103.5h.65M65.2 103.5h.65M66.2 103.5h.65M69.2 103.5h.65M74.2 103.5h.65M75.2 103.5h.65M76.2 103.5h.65M78.2 103.5h.65M79.2 103.5h.65M81.2 103.5h.65M83.2 103.5h.65M27.2 104.5h.65M30.2 104.5h.65M52.2 104.5h.65M53.2 104.5h.65M58.2 104.5h.65M61.2 104.5h.65M63.2 104.5h.65M64.2 104.5h.65M68.2 104.5h.65M69.2 104.5h.65M71.2 104.5h.65M72.2 104.5h.65M74.2 104.5h.65M76.2 104.5h.65M77.2 104.5h.65M78.2 104.5h.65M84.2 104.5h.65M87.2 104.5h.65M29.2 105.5h.65M37.2 105.5h.65M38.2 105.5h.65M41.2 105.5h.65M52.2 105.5h.65M55.2 105.5h.65M61.2 105.5h.65M70.2 105.5h.65M71.2 105.5h.65M73.2 105.5h.65M74.2 105.5h.65M75.2 105.5h.65M81.2 105.5h.65M83.2 105.5h.65M38.2 106.5h.65M40.2 106.5h.65M42.2 106.5h.65M45.2 106.5h.65M51.2 106.5h.65M63.2 106.5h.65M65.2 106.5h.65M67.2 106.5h.65M69.2 106.5h.65M72.2 106.5h.65M79.2 106.5h.65M80.2 106.5h.65M95.2 106.5h.65M28.2 107.5h.65M40.2 107.5h.65M45.2 107.5h.65M58.2 107.5h.65M60.2 107.5h.65M67.2 107.5h.65M70.2 107.5h.65M43.2 108.5h.65M65.2 108.5h.65M84.2 108.5h.65M37.2 109.5h.65M38.2 109.5h.65M75.2 109.5h.65M82.2 109.5h.65M29.2 110.5h.65M43.2 110.5h.65M64.2 110.5h.65M77.2 110.5h.65M29.2 111.5h.65M38.2 111.5h.65M69.2 111.5h.65M79.2 111.5h.65M30.2 113.5h.65M36.2 114.5h.65M37.2 114.5h.65M39.2 114.5h.65M30.2 115.5h.65M36.2 115.5h.65M37.2 115.5h.65M40.2 115.5h.65M31.2 116.5h.65M35.2 116.5h.65M31.2 117.5h.65M32.2 117.5h.65M33.2 117.5h.65M34.2 117.5h.65M35.2 117.5h.65M36.2 117.5h.65M37.2 117.5h.65M32.2 118.5h.65M33.2 118.5h.65M34.2 118.5h.65M34.2 119.5h.65M35.2 119.5h.65M36.2 121.5h.65M32.2 122.5h.65M36.2 122.5h.65"/><path stroke="#0050ff" stroke-width="0.65" d="M33.2 35.5h.65M33.2 36.5h.65M34.2 36.5h.65M35.2 36.5h.65M33.2 37.5h.65M34.2 37.5h.65M34.2 38.5h.65M35.2 38.5h.65M36.2 38.5h.65M33.2 39.5h.65M36.2 40.5h.65M32.2 41.5h.65M37.2 42.5h.65M31.2 43.5h.65M31.2 44.5h.65M31.2 45.5h.65M38.2 45.5h.65M39.2 49.5h.65M39.2 50.5h.65M30.2 53.5h.65M40.2 53.5h.65M40.2 54.5h.65M40.2 55.5h.65M30.2 56.5h.65M30.2 58.5h.65M42.2 58.5h.65M43.2 58.5h.65M43.2 60.5h.65M42.2 61.5h.65M43.2 61.5h.65M42.2 62.5h.65M41.2 66.5h.65M40.2 67.5h.65M41.2 67.5h.65M41.2 68.5h.65M42.2 68.5h.65M40.2 69.5h.65M41.2 69.5h.65M42.2 69.5h.65M39.2 70.5h.65M39.2 72.5h.65M41.2 72.5h.65M40.2 73.5h.65M39.2 76.5h.65M44.2 76.5h.65M39.2 77.5h.65M39.2 79.5h.65M38.2 87.5h.65M38.2 93.5h.65M38.2 94.5h.65M67.2 95.5h.65M66.2 96.5h.65M67.2 96.5h.65M60.2 97.5h.65M65.2 97.5h.65M66.2 97.5h.65M30.2 99.5h.65M69.2 99.5h.65M70.2 99.5h.65M37.2 102.5h.65M30.2 105.5h.65M37.2 106.5h.65M37.2 111.5h.65M31.2 115.5h.65"/></g>
<rect x="848.7" y="1945.6" width="296.1" height="296.4" fill="none" stroke="#6a6a6a" stroke-width="1.3"/>
<line x1="973.5" y1="1945.6" x2="973.5" y2="2242" stroke="#000" stroke-width="2.2"/>
<line x1="848.7" y1="2130.5" x2="1144.8" y2="2130.5" stroke="#000" stroke-width="2.2"/>
<rect x="847.8" y="1948.5" width="121.4" height="180" fill="none" stroke="#3f9498" stroke-width="4" stroke-dasharray="15 10"/>
<rect x="1033.2" y="1950" width="109.6" height="177.6" fill="none" stroke="#b28fd6" stroke-width="4" stroke-dasharray="15 10"/>
<rect x="1033.2" y="2131.6" width="109.6" height="107" fill="none" stroke="#ee8a3c" stroke-width="4" stroke-dasharray="15 10"/>
<text x="908.2" y="1972.5" font-size="19.7" text-anchor="middle" fill="#3f9498">OnF</text>
<text x="908.2" y="1998.4" font-size="19.7" text-anchor="middle" fill="#3f9498">88.3%</text>
<text x="1102.9" y="1973" font-size="19.7" text-anchor="middle" fill="#b28fd6">Dual</text>
<text x="1102.9" y="1998.4" font-size="19.7" text-anchor="middle" fill="#b28fd6">0.46%</text>
<text x="1100.6" y="2189.6" font-size="19.7" text-anchor="middle" fill="#ee8a3c">Stem</text>
<text x="1100.6" y="2214.1" font-size="19.7" text-anchor="middle" fill="#ee8a3c">0.057%</text>
<line x1="840.7" y1="1973.9" x2="848.7" y2="1973.9" stroke="#000" stroke-width="2"/>
<line x1="840.7" y1="2044.5" x2="848.7" y2="2044.5" stroke="#000" stroke-width="2"/>
<line x1="840.7" y1="2125.3" x2="848.7" y2="2125.3" stroke="#000" stroke-width="2"/>
<line x1="840.7" y1="2175.7" x2="848.7" y2="2175.7" stroke="#000" stroke-width="2"/>
<line x1="840.7" y1="2222.8" x2="848.7" y2="2222.8" stroke="#000" stroke-width="2"/>
<line x1="844.2" y1="2101" x2="848.7" y2="2101" stroke="#000" stroke-width="1.2"/>
<line x1="844.2" y1="2023.2" x2="848.7" y2="2023.2" stroke="#000" stroke-width="1.2"/>
<line x1="844.2" y1="2086.7" x2="848.7" y2="2086.7" stroke="#000" stroke-width="1.2"/>
<line x1="844.2" y1="2010.8" x2="848.7" y2="2010.8" stroke="#000" stroke-width="1.2"/>
<line x1="844.2" y1="2076.7" x2="848.7" y2="2076.7" stroke="#000" stroke-width="1.2"/>
<line x1="844.2" y1="2002" x2="848.7" y2="2002" stroke="#000" stroke-width="1.2"/>
<line x1="844.2" y1="2068.8" x2="848.7" y2="2068.8" stroke="#000" stroke-width="1.2"/>
<line x1="844.2" y1="1995.2" x2="848.7" y2="1995.2" stroke="#000" stroke-width="1.2"/>
<line x1="844.2" y1="2062.4" x2="848.7" y2="2062.4" stroke="#000" stroke-width="1.2"/>
<line x1="844.2" y1="1989.6" x2="848.7" y2="1989.6" stroke="#000" stroke-width="1.2"/>
<line x1="844.2" y1="2057" x2="848.7" y2="2057" stroke="#000" stroke-width="1.2"/>
<line x1="844.2" y1="1984.8" x2="848.7" y2="1984.8" stroke="#000" stroke-width="1.2"/>
<line x1="844.2" y1="2052.3" x2="848.7" y2="2052.3" stroke="#000" stroke-width="1.2"/>
<line x1="844.2" y1="1980.7" x2="848.7" y2="1980.7" stroke="#000" stroke-width="1.2"/>
<line x1="844.2" y1="2048.2" x2="848.7" y2="2048.2" stroke="#000" stroke-width="1.2"/>
<line x1="844.2" y1="1977.1" x2="848.7" y2="1977.1" stroke="#000" stroke-width="1.2"/>
<line x1="844.2" y1="2161.3" x2="848.7" y2="2161.3" stroke="#000" stroke-width="1.2"/>
<line x1="844.2" y1="2189.2" x2="848.7" y2="2189.2" stroke="#000" stroke-width="1.2"/>
<line x1="844.2" y1="2152.9" x2="848.7" y2="2152.9" stroke="#000" stroke-width="1.2"/>
<line x1="844.2" y1="2197" x2="848.7" y2="2197" stroke="#000" stroke-width="1.2"/>
<line x1="844.2" y1="2146.9" x2="848.7" y2="2146.9" stroke="#000" stroke-width="1.2"/>
<line x1="844.2" y1="2202.6" x2="848.7" y2="2202.6" stroke="#000" stroke-width="1.2"/>
<line x1="844.2" y1="2142.2" x2="848.7" y2="2142.2" stroke="#000" stroke-width="1.2"/>
<line x1="844.2" y1="2207" x2="848.7" y2="2207" stroke="#000" stroke-width="1.2"/>
<line x1="844.2" y1="2138.4" x2="848.7" y2="2138.4" stroke="#000" stroke-width="1.2"/>
<line x1="844.2" y1="2210.5" x2="848.7" y2="2210.5" stroke="#000" stroke-width="1.2"/>
<line x1="844.2" y1="2135.2" x2="848.7" y2="2135.2" stroke="#000" stroke-width="1.2"/>
<line x1="844.2" y1="2213.5" x2="848.7" y2="2213.5" stroke="#000" stroke-width="1.2"/>
<line x1="844.2" y1="2132.5" x2="848.7" y2="2132.5" stroke="#000" stroke-width="1.2"/>
<line x1="844.2" y1="2216.1" x2="848.7" y2="2216.1" stroke="#000" stroke-width="1.2"/>
<line x1="844.2" y1="2130" x2="848.7" y2="2130" stroke="#000" stroke-width="1.2"/>
<line x1="844.2" y1="2218.4" x2="848.7" y2="2218.4" stroke="#000" stroke-width="1.2"/>
<line x1="844.2" y1="2127.8" x2="848.7" y2="2127.8" stroke="#000" stroke-width="1.2"/>
<line x1="844.2" y1="2220.4" x2="848.7" y2="2220.4" stroke="#000" stroke-width="1.2"/>
<rect x="841.7" y="2170.7" width="7" height="10" fill="#000"/>
<line x1="867.4" y1="2242" x2="867.4" y2="2250" stroke="#000" stroke-width="2"/>
<line x1="917.9" y1="2242" x2="917.9" y2="2250" stroke="#000" stroke-width="2"/>
<line x1="964" y1="2242" x2="964" y2="2250" stroke="#000" stroke-width="2"/>
<line x1="1046.2" y1="2242" x2="1046.2" y2="2250" stroke="#000" stroke-width="2"/>
<line x1="1116" y1="2242" x2="1116" y2="2250" stroke="#000" stroke-width="2"/>
<line x1="988.7" y1="2242" x2="988.7" y2="2246.5" stroke="#000" stroke-width="1.2"/>
<line x1="1067.2" y1="2242" x2="1067.2" y2="2246.5" stroke="#000" stroke-width="1.2"/>
<line x1="1137" y1="2242" x2="1137" y2="2246.5" stroke="#000" stroke-width="1.2"/>
<line x1="1003.2" y1="2242" x2="1003.2" y2="2246.5" stroke="#000" stroke-width="1.2"/>
<line x1="1079.5" y1="2242" x2="1079.5" y2="2246.5" stroke="#000" stroke-width="1.2"/>
<line x1="1013.5" y1="2242" x2="1013.5" y2="2246.5" stroke="#000" stroke-width="1.2"/>
<line x1="1088.2" y1="2242" x2="1088.2" y2="2246.5" stroke="#000" stroke-width="1.2"/>
<line x1="1021.5" y1="2242" x2="1021.5" y2="2246.5" stroke="#000" stroke-width="1.2"/>
<line x1="1095" y1="2242" x2="1095" y2="2246.5" stroke="#000" stroke-width="1.2"/>
<line x1="1028" y1="2242" x2="1028" y2="2246.5" stroke="#000" stroke-width="1.2"/>
<line x1="1100.5" y1="2242" x2="1100.5" y2="2246.5" stroke="#000" stroke-width="1.2"/>
<line x1="1033.5" y1="2242" x2="1033.5" y2="2246.5" stroke="#000" stroke-width="1.2"/>
<line x1="1105.2" y1="2242" x2="1105.2" y2="2246.5" stroke="#000" stroke-width="1.2"/>
<line x1="1038.2" y1="2242" x2="1038.2" y2="2246.5" stroke="#000" stroke-width="1.2"/>
<line x1="1109.2" y1="2242" x2="1109.2" y2="2246.5" stroke="#000" stroke-width="1.2"/>
<line x1="1042.4" y1="2242" x2="1042.4" y2="2246.5" stroke="#000" stroke-width="1.2"/>
<line x1="1112.8" y1="2242" x2="1112.8" y2="2246.5" stroke="#000" stroke-width="1.2"/>
<line x1="931.1" y1="2242" x2="931.1" y2="2246.5" stroke="#000" stroke-width="1.2"/>
<line x1="903.5" y1="2242" x2="903.5" y2="2246.5" stroke="#000" stroke-width="1.2"/>
<line x1="938.8" y1="2242" x2="938.8" y2="2246.5" stroke="#000" stroke-width="1.2"/>
<line x1="895" y1="2242" x2="895" y2="2246.5" stroke="#000" stroke-width="1.2"/>
<line x1="944.3" y1="2242" x2="944.3" y2="2246.5" stroke="#000" stroke-width="1.2"/>
<line x1="889" y1="2242" x2="889" y2="2246.5" stroke="#000" stroke-width="1.2"/>
<line x1="948.5" y1="2242" x2="948.5" y2="2246.5" stroke="#000" stroke-width="1.2"/>
<line x1="884.4" y1="2242" x2="884.4" y2="2246.5" stroke="#000" stroke-width="1.2"/>
<line x1="952" y1="2242" x2="952" y2="2246.5" stroke="#000" stroke-width="1.2"/>
<line x1="880.6" y1="2242" x2="880.6" y2="2246.5" stroke="#000" stroke-width="1.2"/>
<line x1="954.9" y1="2242" x2="954.9" y2="2246.5" stroke="#000" stroke-width="1.2"/>
<line x1="877.4" y1="2242" x2="877.4" y2="2246.5" stroke="#000" stroke-width="1.2"/>
<line x1="957.5" y1="2242" x2="957.5" y2="2246.5" stroke="#000" stroke-width="1.2"/>
<line x1="874.6" y1="2242" x2="874.6" y2="2246.5" stroke="#000" stroke-width="1.2"/>
<line x1="959.7" y1="2242" x2="959.7" y2="2246.5" stroke="#000" stroke-width="1.2"/>
<line x1="872.1" y1="2242" x2="872.1" y2="2246.5" stroke="#000" stroke-width="1.2"/>
<line x1="961.7" y1="2242" x2="961.7" y2="2246.5" stroke="#000" stroke-width="1.2"/>
<line x1="869.9" y1="2242" x2="869.9" y2="2246.5" stroke="#000" stroke-width="1.2"/>
<rect x="911.9" y="2242" width="12" height="6" fill="#000"/>
<text x="819.7" y="1985.4" font-size="15.5" text-anchor="end">10</text>
<text x="823.7" y="1974.4" font-size="15.5">5</text>
<text x="819.7" y="2056" font-size="15.5" text-anchor="end">10</text>
<text x="823.7" y="2045" font-size="15.5">4</text>
<text x="819.7" y="2136.8" font-size="15.5" text-anchor="end">10</text>
<text x="823.7" y="2125.8" font-size="15.5">3</text>
<text x="822.7" y="2180.7" font-size="15.5" text-anchor="end">0</text>
<text x="819.7" y="2232.8" font-size="15.5" text-anchor="end">-10</text>
<text x="823.7" y="2222.3" font-size="15.5">3</text>
<text x="868.4" y="2273.8" font-size="15.5" text-anchor="middle">-10</text>
<text x="886.4" y="2262.8" font-size="15.5">3</text>
<text x="917.9" y="2273.8" font-size="15.5" text-anchor="middle">0</text>
<text x="968" y="2273.8" font-size="15.5" text-anchor="middle">10</text>
<text x="981" y="2262.8" font-size="15.5">3</text>
<text x="1050.2" y="2273.8" font-size="15.5" text-anchor="middle">10</text>
<text x="1063.2" y="2262.8" font-size="15.5">4</text>
<text x="1120" y="2273.8" font-size="15.5" text-anchor="middle">10</text>
<text x="1133" y="2262.8" font-size="15.5">5</text>
<text x="785.5" y="2076.3" font-size="20" text-anchor="middle" transform="rotate(-90 785.5 2076.3)">FITC-A (GFP)</text>
<g transform="translate(1288 1944.6) scale(2)" stroke-width="1" fill="none"><path stroke="#0050ff" d="M133 25.5h1M132 26.5h2M123 28.5h2M123 31.5h1M121 32.5h3m1 0h1m5 0h1m5 0h1M120 33.5h2m2 0h2m2 0h4m4 0h2M116 34.5h2m2 0h1m1 0h1m1 0h1m1 0h2m1 0h3m3 0h1M111 35.5h1m4 0h3m1 0h4m2 0h2m1 0h1m5 0h2m3 0h2M111 36.5h3m2 0h3m1 0h1m1 0h3m1 0h1m1 0h1m1 0h2m1 0h7m1 0h1M110 37.5h1m2 0h1m4 0h1m1 0h3m2 0h7m2 0h1m4 0h2M110 38.5h3m2 0h3m1 0h4m1 0h2m1 0h2m1 0h1m1 0h3m4 0h2M102 39.5h2m4 0h1m2 0h1m3 0h1m1 0h1m1 0h3m1 0h2m1 0h3m2 0h1m1 0h3M101 40.5h4m3 0h3m1 0h1m2 0h3m1 0h3m1 0h1m4 0h2m5 0h1M103 41.5h2m1 0h1m1 0h4m2 0h2m1 0h2m1 0h1m1 0h1m1 0h1m2 0h2m5 0h2M103 42.5h6m1 0h2m3 0h1m2 0h3m5 0h1m1 0h2m1 0h2M103 43.5h2m1 0h1m3 0h3m1 0h1m3 0h1m6 0h2m1 0h3m1 0h2M105 44.5h2m2 0h2m1 0h1m1 0h2m2 0h1m1 0h2m4 0h1m1 0h3m1 0h2M100 45.5h5m1 0h1m1 0h2m3 0h1m6 0h2m6 0h2m1 0h1m1 0h1m1 0h3M99 46.5h7m1 0h1m4 0h3m6 0h1m2 0h2m2 0h2m1 0h1m1 0h1m1 0h1m1 0h1M100 47.5h6m4 0h1m1 0h1m1 0h1m12 0h1m3 0h1m1 0h1m2 0h1M98 48.5h2m1 0h1m7 0h2m17 0h1m1 0h6M98 49.5h5m3 0h3m1 0h1m3 0h1m11 0h1m3 0h3m2 0h1M93 50.5h1m5 0h5m1 0h1m21 0h1m2 0h1m1 0h4M93 51.5h1m1 0h2m1 0h2m1 0h1m27 0h6M96 52.5h2m2 0h1m24 0h2m2 0h5M96 53.5h5m25 0h1m3 0h3M90 54.5h1m6 0h2m2 0h2m25 0h3M89 55.5h3m1 0h8m1 0h1m22 0h8M90 56.5h4m1 0h2m3 0h1m20 0h1m1 0h4m1 0h1m3 0h2M92 57.5h4m1 0h1m26 0h1m2 0h3m1 0h2M92 58.5h2m30 0h2m1 0h2m2 0h2M92 59.5h2m30 0h1m1 0h2m3 0h2M91 60.5h1m30 0h1m3 0h1m3 0h3M88 61.5h1m1 0h1m34 0h2M88 62.5h2m1 0h1m34 0h1m1 0h1m1 0h5M87 63.5h3m1 0h1m29 0h1m2 0h2m1 0h1m1 0h1m3 0h2M83 64.5h1m2 0h4m1 0h1m33 0h1m1 0h4M83 65.5h2m1 0h1m1 0h3m31 0h1m4 0h2M83 66.5h1m1 0h3m34 0h3M83 67.5h1m39 0h3M76 68.5h1m7 0h3m38 0h1M80 69.5h1m1 0h5m35 0h3M79 70.5h6m1 0h1m37 0h1m1 0h1M79 71.5h1m3 0h1m1 0h1M83 72.5h3m34 0h3M80 73.5h2m1 0h1m2 0h1m32 0h2M75 74.5h3m1 0h2m1 0h4m31 0h1m2 0h2M75 75.5h4m2 0h1m4 0h1m31 0h3M80 76.5h4m34 0h1m1 0h1M81 77.5h3m1 0h1m30 0h5M79 78.5h1m1 0h1m1 0h1m32 0h3m1 0h1m1 0h1M78 79.5h2m1 0h1m33 0h1m4 0h3M77 80.5h2m2 0h1m1 0h1m31 0h1m1 0h1m1 0h1m1 0h2M76 81.5h5m34 0h6M76 82.5h2m37 0h2m1 0h1M75 83.5h2m1 0h2m35 0h2m1 0h2M79 84.5h2m3 0h1m26 0h2m1 0h1m2 0h1M77 85.5h2m34 0h1M76 86.5h1m1 0h1m32 0h2M74 87.5h5m1 0h1m30 0h3M73 88.5h4m33 0h1M75 89.5h1m5 0h2m28 0h1M72 90.5h2m1 0h3m29 0h1m1 0h3m1 0h2M71 91.5h3m2 0h1m31 0h6M69 92.5h4m2 0h2m30 0h5M68 93.5h4m37 0h4M69 94.5h1m1 0h2m1 0h2m26 0h2m1 0h2m1 0h1m1 0h3M68 95.5h2m2 0h1m28 0h1m1 0h3m1 0h6M66 96.5h1m1 0h5m30 0h5m1 0h4M68 97.5h4m2 0h1m28 0h4m1 0h3m1 0h2M63 98.5h4m3 0h3m30 0h1m1 0h2m1 0h1m1 0h2m1 0h1M60 99.5h2m1 0h3m1 0h5m5 0h1m27 0h4M60 100.5h2m1 0h3m1 0h1m1 0h1M62 101.5h1m3 0h4m4 0h1m25 0h1M61 102.5h3m1 0h2m2 0h1m33 0h1M63 103.5h4m3 0h1m1 0h1m29 0h1M58 104.5h2m2 0h1m1 0h2m3 0h1m1 0h3m1 0h1m16 0h1m7 0h2m1 0h2M59 105.5h2m2 0h1m1 0h4m1 0h1m2 0h1m17 0h4m4 0h3m1 0h1M64 106.5h1m2 0h2m1 0h1m1 0h1m17 0h1m1 0h1m1 0h3m1 0h1m1 0h1m1 0h3M52 107.5h3m4 0h3m1 0h2m2 0h1m1 0h1m13 0h1m5 0h1m1 0h1m1 0h1m3 0h3m3 0h1M37 108.5h1m2 0h1m1 0h1m4 0h2m1 0h1m3 0h5m2 0h2m1 0h1m10 0h1m7 0h2m2 0h4m1 0h5M28 109.5h1m2 0h1m1 0h1m1 0h1m1 0h1m23 0h1m1 0h1m8 0h1m2 0h1m7 0h1m3 0h1m1 0h1m2 0h1m1 0h2m1 0h1M26 110.5h4m1 0h1m41 0h2m6 0h4m1 0h5m1 0h2m1 0h3M20 111.5h3m1 0h1m1 0h1m1 0h1m1 0h1m38 0h2m3 0h1m2 0h1m1 0h1m1 0h2m1 0h2m1 0h2m2 0h1M21 112.5h4m1 0h3m4 0h1m28 0h1m6 0h1m3 0h1m3 0h1m1 0h9m1 0h1M28 113.5h3m1 0h4m1 0h1m16 0h4m1 0h6m1 0h1m1 0h1m1 0h2m1 0h1m1 0h1m1 0h1m1 0h1m3 0h1m5 0h2M32 114.5h1m1 0h3m2 0h1m1 0h1m1 0h1m1 0h1m1 0h1m2 0h2m4 0h3m2 0h1m1 0h1m1 0h1m4 0h4m1 0h2m1 0h3m1 0h2M46 115.5h2m1 0h2m1 0h1m1 0h1m1 0h2m14 0h2"/><path stroke="#00a0ff" d="M121 34.5h1M129 39.5h2m1 0h1M122 40.5h1m1 0h3m3 0h5M116 41.5h1m4 0h1m1 0h1m2 0h1m2 0h4M116 42.5h2m3 0h5m4 0h1M108 43.5h1m6 0h3m1 0h1m2 0h2m7 0h1M107 44.5h2m4 0h1m2 0h2m1 0h1m2 0h4m1 0h1M105 45.5h1m1 0h1m2 0h3m1 0h4m1 0h1m3 0h5M106 46.5h1m1 0h2m1 0h1m4 0h1m2 0h2m2 0h1m2 0h1m3 0h1m3 0h1M106 47.5h3m6 0h2m3 0h4m1 0h2m1 0h3M104 48.5h5m2 0h5m3 0h3m2 0h4m1 0h1M105 49.5h1m5 0h3m1 0h2m1 0h2m3 0h1m1 0h1m2 0h2M104 50.5h1m2 0h2m1 0h5m4 0h2m3 0h3m1 0h2M102 51.5h1m1 0h7m2 0h1m1 0h1m1 0h5m1 0h1m1 0h1m1 0h2M101 52.5h3m1 0h2m1 0h2m5 0h3m1 0h6m2 0h2M101 53.5h4m1 0h1m2 0h2m4 0h1m3 0h1m2 0h1m1 0h2m2 0h2M100 54.5h1m2 0h2m5 0h1m3 0h1m4 0h1m3 0h4M101 55.5h1m1 0h2m8 0h1m1 0h4m1 0h5M94 56.5h1m4 0h1m1 0h3m1 0h1m2 0h1m5 0h2m1 0h4m1 0h1M98 57.5h2m1 0h1m12 0h1m1 0h2m1 0h2m1 0h2M96 58.5h3m1 0h1m7 0h1m6 0h1m2 0h1m2 0h3M94 59.5h3m23 0h3M94 60.5h2m23 0h3m1 0h1M91 61.5h2m1 0h1m1 0h3m18 0h1m2 0h5M90 62.5h1m1 0h2m25 0h2m1 0h1m1 0h1M90 63.5h1m1 0h5m20 0h1m2 0h1m1 0h2M90 64.5h1m1 0h1m2 0h2m1 0h1m21 0h1m1 0h2M92 65.5h1m24 0h1m1 0h3M88 66.5h5m2 0h1m21 0h5M87 67.5h2m1 0h1m1 0h1m24 0h1m1 0h3M87 68.5h3m26 0h1m1 0h5M87 69.5h3m28 0h2m1 0h1M87 70.5h1m4 0h1m25 0h4M86 71.5h3m29 0h2m1 0h1M86 72.5h2m27 0h2m1 0h1M84 73.5h1m2 0h2m26 0h1m1 0h2M86 74.5h1m1 0h1m26 0h2m2 0h1M83 75.5h3m1 0h2m26 0h3M84 76.5h4m1 0h1m24 0h1m1 0h2M86 77.5h2m27 0h1M84 78.5h2m2 0h1m23 0h1m1 0h2M82 79.5h3m26 0h4M80 80.5h1m1 0h1m3 0h2m22 0h1m2 0h2M81 81.5h3m1 0h1m1 0h1m25 0h2M81 82.5h1m1 0h1m1 0h1m23 0h1m1 0h4M80 83.5h6m24 0h2m1 0h1M83 84.5h1m1 0h1M79 85.5h3m1 0h4m23 0h2M79 86.5h7m23 0h2M79 87.5h1m1 0h1m24 0h1m2 0h2M77 88.5h4m1 0h2m19 0h1m2 0h1m1 0h2m1 0h1M77 89.5h4m2 0h1m2 0h1m2 0h1m11 0h3m2 0h4M74 90.5h1m3 0h6m16 0h1m2 0h4m1 0h1M74 91.5h1m2 0h2m1 0h4m18 0h1m2 0h3M73 92.5h1m3 0h3m2 0h1m20 0h4M73 93.5h4m1 0h4m19 0h3m1 0h2M70 94.5h1m2 0h1m2 0h2m3 0h2m17 0h2M70 95.5h1m3 0h3m1 0h1m3 0h2m16 0h1M73 96.5h6m16 0h1m3 0h3M66 97.5h2m4 0h2m1 0h1m1 0h1m1 0h1m13 0h1m2 0h1m3 0h3M67 98.5h1m5 0h3m1 0h3m5 0h1m7 0h2m2 0h1m1 0h4M66 99.5h1m6 0h4m1 0h4m11 0h2m1 0h2m1 0h5M70 100.5h8m2 0h1m14 0h9M70 101.5h3m2 0h3m9 0h2m5 0h1m2 0h3m1 0h1M67 102.5h2m1 0h5m1 0h3m2 0h1m5 0h1m2 0h2m2 0h1m1 0h7M67 103.5h2m2 0h1m1 0h3m1 0h2m8 0h1m3 0h9M67 104.5h1m6 0h1m2 0h1m9 0h1m1 0h3m2 0h6M69 105.5h1m4 0h2m1 0h1m2 0h4m1 0h1m1 0h4m5 0h3M65 106.5h2m2 0h1m3 0h4m1 0h1m3 0h1m1 0h6m3 0h1m3 0h1M66 107.5h1m3 0h7m1 0h1m1 0h1m1 0h1m2 0h4m3 0h1M45 108.5h1m7 0h1m5 0h2m2 0h1m1 0h9m3 0h6m2 0h2M32 109.5h1m5 0h2m1 0h7m1 0h2m2 0h1m1 0h2m2 0h2m1 0h1m1 0h1m1 0h1m1 0h4m2 0h1m1 0h6m2 0h3M30 110.5h1m1 0h7m2 0h2m1 0h2m3 0h1m1 0h2m2 0h1m1 0h2m3 0h3m1 0h4m1 0h2m2 0h3m1 0h1m5 0h1M27 111.5h1m3 0h5m2 0h1m2 0h1m1 0h1m4 0h4m6 0h2m2 0h3m1 0h3m3 0h2m2 0h1m1 0h1m1 0h1M29 112.5h4m1 0h6m2 0h1m7 0h4m2 0h5m3 0h4m3 0h2m1 0h3M31 113.5h1m4 0h1m1 0h6m2 0h5m1 0h1m5 0h1m6 0h1m6 0h1m1 0h1m1 0h1M40 114.5h1m3 0h1m1 0h1m1 0h2m2 0h2m1 0h1"/><path stroke="#1010f0" d="M112 35.5h1M112 41.5h1M95 52.5h1M133 55.5h1M126 64.5h1M80 77.5h1M65 96.5h1M112 98.5h1M104 103.5h1M61 104.5h1M105 105.5h1M97 108.5h1M85 113.5h1"/><path stroke="#00e0f0" d="M118 45.5h1M117 46.5h2M117 47.5h3M116 48.5h3m3 0h2M117 49.5h1m2 0h3m1 0h1M115 50.5h4m2 0h3M103 51.5h1m7 0h2m1 0h1m1 0h1m5 0h1m1 0h1M104 52.5h1m2 0h1m2 0h5m3 0h1M105 53.5h1m1 0h2m2 0h1m2 0h1m1 0h3m1 0h2M105 54.5h5m1 0h3m1 0h4m2 0h2M105 55.5h6m1 0h1m1 0h1m4 0h1M104 56.5h1m1 0h2m1 0h1m1 0h3M100 57.5h1m1 0h9m2 0h1M99 58.5h1m1 0h7m5 0h2m1 0h2m1 0h1M97 59.5h4m12 0h1m1 0h1m1 0h3M96 60.5h5m4 0h1m10 0h3M93 61.5h1m1 0h1m4 0h1m14 0h1m2 0h2M94 62.5h5m1 0h2m8 0h1m1 0h1m2 0h4M97 63.5h1m2 0h1m11 0h3m1 0h1m2 0h1M93 64.5h2m2 0h1m17 0h5M94 65.5h1m1 0h2m18 0h1m1 0h1M93 66.5h1m2 0h1M91 67.5h1m1 0h5m18 0h1m1 0h1M90 68.5h4m23 0h1M90 69.5h3m21 0h4m2 0h1M88 70.5h2m1 0h1m24 0h2M90 71.5h1m23 0h4M88 72.5h3m21 0h1m1 0h1m2 0h1M90 73.5h1m23 0h1m1 0h1M89 74.5h1m24 0h1M89 75.5h2m23 0h1M112 76.5h2M89 77.5h2m19 0h5M86 78.5h2m1 0h2m16 0h1m1 0h2m2 0h1M85 79.5h6m18 0h1M85 80.5h1m2 0h3m20 0h2M84 81.5h1m3 0h2m19 0h4M82 82.5h1m1 0h1m1 0h3m1 0h1m19 0h1M86 83.5h1m2 0h1m18 0h2M86 84.5h2m4 0h1m13 0h1m1 0h3M87 85.5h2m19 0h2M86 86.5h2m11 0h1m7 0h2M82 87.5h5m2 0h1m8 0h1m4 0h2m2 0h2M84 88.5h5m12 0h2m1 0h2m1 0h1M84 89.5h2m1 0h2m1 0h1m3 0h1m9 0h2M84 90.5h5m6 0h1m6 0h1M79 91.5h1m4 0h4m4 0h2m9 0h2M80 92.5h2m1 0h3m4 0h1m3 0h2m2 0h1m1 0h3M77 93.5h1m5 0h2m7 0h1m2 0h1m1 0h4M78 94.5h3m2 0h3m3 0h1m2 0h1m1 0h4m1 0h1M77 95.5h1m1 0h3m2 0h3m4 0h1m2 0h3m1 0h2M79 96.5h2m1 0h3m2 0h2m4 0h2m1 0h3M80 97.5h2m2 0h2m2 0h1m2 0h2m2 0h1m1 0h3M80 98.5h3m3 0h1m4 0h2m2 0h1m2 0h1M82 99.5h2m3 0h2m2 0h2m5 0h1M78 100.5h2m1 0h5m1 0h2m1 0h4M73 101.5h1m4 0h5m1 0h1m1 0h1m2 0h5m1 0h1M75 102.5h1m3 0h2m1 0h3m3 0h2m2 0h2m1 0h1M76 103.5h1m2 0h2m1 0h1m2 0h2m1 0h3M76 104.5h1m1 0h7m1 0h1m1 0h1M78 105.5h1m5 0h1m1 0h1M77 106.5h1m1 0h1m1 0h1M77 107.5h1m1 0h1m1 0h1M51 109.5h2m4 0h2m6 0h1M39 110.5h2m2 0h1m2 0h3m1 0h1m2 0h2m4 0h3M36 111.5h2m1 0h2m3 0h1m1 0h1m5 0h6m2 0h2M40 112.5h2m2 0h3m1 0h2m4 0h2m5 0h1M44 113.5h2m7 0h1"/><path stroke="#20f0a0" d="M112 53.5h2M111 55.5h1M110 56.5h1M111 57.5h2M109 58.5h1m1 0h1M101 59.5h5m2 0h1M101 60.5h4m5 0h1m1 0h4M99 61.5h1m1 0h2m4 0h5m2 0h1M99 62.5h1m2 0h2m1 0h1m3 0h1m1 0h1m2 0h1M98 63.5h1m2 0h1m2 0h1m1 0h1m4 0h1m3 0h1M99 64.5h1m9 0h1m1 0h4M93 65.5h1m4 0h1m14 0h1m1 0h1M94 66.5h1m2 0h1m16 0h3M114 67.5h2M94 68.5h2m8 0h1m6 0h5M93 69.5h1m18 0h1M98 70.5h1m12 0h5M89 71.5h1m2 0h2m17 0h3M91 72.5h2m18 0h1m1 0h1M89 73.5h1m2 0h1m1 0h2m15 0h3M90 74.5h2m1 0h1m15 0h1M112 75.5h2M88 76.5h1m1 0h1m2 0h1m16 0h1M88 77.5h1m20 0h1M91 78.5h1m16 0h1M108 79.5h1m1 0h1M91 80.5h2m15 0h2M90 81.5h2m16 0h1M89 82.5h1m15 0h4M87 83.5h2m1 0h1m13 0h1m1 0h2M88 84.5h2m3 0h1m7 0h1m5 0h1M89 85.5h1m12 0h1m3 0h2M88 86.5h2m10 0h1m2 0h4M87 87.5h2m4 0h1m5 0h4m2 0h1M89 88.5h1m5 0h1m3 0h2M91 89.5h1m4 0h1m3 0h1M89 90.5h2m1 0h3m4 0h1M88 91.5h1m6 0h6M86 92.5h3m2 0h3m2 0h2m1 0h1M82 93.5h1m2 0h7m1 0h2m1 0h1M86 94.5h3m1 0h2m1 0h1m4 0h1M87 95.5h1m1 0h1m2 0h2m3 0h1M81 96.5h1m3 0h1m4 0h2M82 97.5h2m2 0h2m1 0h2m3 0h1M83 98.5h2m2 0h3m6 0h1M84 99.5h1m1 0h1m8 0h1M89 100.5h1M83 101.5h1m1 0h1M85 102.5h1M81 103.5h1m1 0h2M85 104.5h1M79 105.5h1M45 111.5h1m1 0h1M43 112.5h1m3 0h1"/><path stroke="#40e040" d="M110 58.5h1m1 0h1M106 59.5h2m1 0h2m1 0h1m1 0h1M106 60.5h1M103 61.5h2m1 0h1m5 0h2M104 62.5h1m2 0h2m4 0h1M99 63.5h1m2 0h2m5 0h2M100 64.5h1m1 0h2M99 65.5h1m1 0h1m3 0h1m3 0h1m4 0h1M99 66.5h1m2 0h1m10 0h1M98 67.5h1m3 0h1m1 0h1m8 0h1M96 68.5h2m12 0h1M94 69.5h1m1 0h1m6 0h1m6 0h2m1 0h1M90 70.5h1m2 0h3M91 71.5h1m2 0h1M93 72.5h2m14 0h2M91 73.5h1m1 0h1m14 0h3M92 74.5h1m1 0h1m15 0h1m1 0h2M110 75.5h2M91 76.5h2m1 0h1m12 0h1m1 0h1m1 0h1M91 77.5h2m2 0h1m11 0h2M92 78.5h1m3 0h1M91 79.5h2m4 0h2m8 0h1M98 80.5h1m6 0h1M92 81.5h1m7 0h1m4 0h3M91 82.5h2m11 0h1M91 83.5h1m1 0h1m11 0h1M90 84.5h1m3 0h1m9 0h2M90 85.5h5m1 0h1m6 0h3M90 86.5h2m2 0h1m2 0h1m3 0h2M90 87.5h3m1 0h2M90 88.5h4m2 0h2M92 89.5h2m1 0h1m2 0h2M91 90.5h1m4 0h2M89 91.5h1m1 0h1m2 0h1M89 92.5h1M88 95.5h1m1 0h1M86 96.5h1m2 0h1M90 98.5h1M85 99.5h1m3 0h2"/><path stroke="#a0f020" d="M111 59.5h1M107 60.5h3m1 0h1M106 62.5h1M105 63.5h1m1 0h1M101 64.5h1m2 0h1m1 0h2m2 0h1M100 65.5h1M98 66.5h1m1 0h1m2 0h1m3 0h1M103 67.5h1m8 0h1M98 68.5h2m7 0h1M95 69.5h1m2 0h1m1 0h2M96 70.5h1m3 0h2m6 0h1M95 71.5h2m1 0h1m2 0h2m6 0h2M95 72.5h1m9 0h1M95 74.5h1m15 0h1M91 75.5h3m1 0h2m5 0h1m6 0h1M95 76.5h1m1 0h1m10 0h1M93 78.5h1M93 79.5h2m5 0h1m1 0h1M93 80.5h1m1 0h1m1 0h1m2 0h1m5 0h2M96 81.5h2m3 0h1M93 82.5h2M95 83.5h2m4 0h3M91 84.5h1m3 0h4M98 85.5h2m1 0h1M92 86.5h2m1 0h2M96 87.5h2M94 88.5h1m3 0h1M97 89.5h1M90 91.5h1"/><path stroke="#ffff00" d="M105 61.5h1M108 63.5h1M105 64.5h1m2 0h1M102 65.5h1m4 0h1m2 0h1m1 0h1M101 66.5h1m9 0h1M99 67.5h2m4 0h1m2 0h1m1 0h2M106 68.5h1m2 0h1M97 69.5h1m1 0h1m2 0h1m2 0h1m1 0h1M97 70.5h1m9 0h1m1 0h2M97 71.5h1m9 0h1M96 72.5h1m10 0h2M96 73.5h3M107 74.5h2M94 75.5h1m10 0h2m1 0h1M99 76.5h1m4 0h1M93 77.5h2M94 78.5h1m2 0h1m3 0h2m1 0h1m1 0h1M95 79.5h2M94 80.5h1m8 0h1M94 81.5h2m2 0h1m5 0h1M95 82.5h1m1 0h1m1 0h2m2 0h1M92 83.5h1m1 0h1m3 0h3M99 84.5h2m1 0h2M97 85.5h1m2 0h1M98 90.5h1"/><path stroke="#ffa000" d="M103 65.5h2m1 0h1m1 0h1M108 66.5h1m1 0h1m1 0h1M109 67.5h1M100 68.5h4m1 0h1M104 69.5h1m1 0h1m2 0h1M99 70.5h1m4 0h2M99 71.5h2m4 0h1m2 0h1M104 72.5h1M99 73.5h1m5 0h1M96 74.5h2m1 0h1m5 0h1M97 75.5h2m4 0h1M96 76.5h1m6 0h1m2 0h1M103 77.5h2m1 0h1M95 78.5h1m2 0h2m3 0h1m1 0h1M99 79.5h1m6 0h1M96 80.5h1m2 0h1m1 0h2m1 0h1M93 81.5h1m5 0h1"/><path stroke="#ff2000" d="M111 65.5h1M104 66.5h3m2 0h1M101 67.5h1m4 0h2M108 68.5h1M108 69.5h1M102 70.5h2m2 0h1M103 71.5h2m1 0h1M97 72.5h7m2 0h1M100 73.5h5m1 0h2M98 74.5h1m1 0h5m1 0h1M99 75.5h3m2 0h1m2 0h1M98 76.5h1m1 0h3m2 0h1M96 77.5h7m2 0h1M100 78.5h1M101 79.5h1m1 0h3M102 81.5h2M96 82.5h1m1 0h1m2 0h2M97 83.5h1M95 85.5h1M98 86.5h1"/><path stroke="#1010f0" stroke-width="0.65" d="M139.2 1.5h.65M125.2 4.5h.65M135.2 4.5h.65M129.2 9.5h.65M111.2 10.5h.65M124.2 10.5h.65M143.2 12.5h.65M122.2 13.5h.65M138.2 13.5h.65M118.2 14.5h.65M130.2 14.5h.65M128.2 15.5h.65M126.2 16.5h.65M130.2 16.5h.65M143.2 16.5h.65M126.2 17.5h.65M127.2 17.5h.65M134.2 17.5h.65M135.2 17.5h.65M118.2 18.5h.65M120.2 18.5h.65M126.2 18.5h.65M129.2 18.5h.65M145.2 18.5h.65M114.2 19.5h.65M117.2 19.5h.65M131.2 19.5h.65M145.2 19.5h.65M119.2 20.5h.65M122.2 20.5h.65M137.2 20.5h.65M147.2 20.5h.65M107.2 21.5h.65M119.2 21.5h.65M124.2 21.5h.65M126.2 21.5h.65M134.2 21.5h.65M138.2 21.5h.65M140.2 21.5h.65M146.2 21.5h.65M115.2 22.5h.65M118.2 22.5h.65M122.2 22.5h.65M125.2 22.5h.65M130.2 22.5h.65M142.2 22.5h.65M111.2 23.5h.65M112.2 23.5h.65M123.2 23.5h.65M125.2 23.5h.65M117.2 24.5h.65M119.2 24.5h.65M120.2 24.5h.65M126.2 24.5h.65M135.2 24.5h.65M139.2 24.5h.65M112.2 25.5h.65M114.2 25.5h.65M118.2 25.5h.65M121.2 25.5h.65M123.2 25.5h.65M124.2 25.5h.65M125.2 25.5h.65M130.2 25.5h.65M135.2 25.5h.65M143.2 25.5h.65M145.2 25.5h.65M112.2 26.5h.65M120.2 26.5h.65M127.2 26.5h.65M140.2 26.5h.65M112.2 27.5h.65M115.2 27.5h.65M121.2 27.5h.65M123.2 27.5h.65M128.2 27.5h.65M135.2 27.5h.65M137.2 27.5h.65M138.2 27.5h.65M140.2 27.5h.65M143.2 27.5h.65M145.2 27.5h.65M97.2 28.5h.65M109.2 28.5h.65M115.2 28.5h.65M118.2 28.5h.65M120.2 28.5h.65M131.2 28.5h.65M134.2 28.5h.65M142.2 28.5h.65M106.2 29.5h.65M109.2 29.5h.65M111.2 29.5h.65M118.2 29.5h.65M128.2 29.5h.65M131.2 29.5h.65M137.2 29.5h.65M138.2 29.5h.65M139.2 29.5h.65M141.2 29.5h.65M143.2 29.5h.65M107.2 30.5h.65M116.2 30.5h.65M129.2 30.5h.65M133.2 30.5h.65M135.2 30.5h.65M102.2 31.5h.65M113.2 31.5h.65M114.2 31.5h.65M120.2 31.5h.65M122.2 31.5h.65M130.2 31.5h.65M134.2 31.5h.65M140.2 31.5h.65M146.2 31.5h.65M92.2 32.5h.65M109.2 32.5h.65M110.2 32.5h.65M111.2 32.5h.65M116.2 32.5h.65M133.2 32.5h.65M141.2 32.5h.65M77.2 33.5h.65M103.2 33.5h.65M104.2 33.5h.65M107.2 33.5h.65M108.2 33.5h.65M143.2 33.5h.65M144.2 33.5h.65M99.2 34.5h.65M100.2 34.5h.65M110.2 34.5h.65M138.2 34.5h.65M144.2 34.5h.65M145.2 34.5h.65M147.2 34.5h.65M101.2 35.5h.65M103.2 35.5h.65M108.2 35.5h.65M146.2 35.5h.65M147.2 35.5h.65M100.2 36.5h.65M104.2 36.5h.65M106.2 36.5h.65M109.2 36.5h.65M86.2 37.5h.65M101.2 37.5h.65M102.2 37.5h.65M103.2 37.5h.65M94.2 38.5h.65M98.2 38.5h.65M105.2 38.5h.65M107.2 38.5h.65M144.2 38.5h.65M99.2 39.5h.65M138.2 39.5h.65M146.2 39.5h.65M97.2 40.5h.65M139.2 40.5h.65M141.2 40.5h.65M93.2 41.5h.65M100.2 41.5h.65M101.2 41.5h.65M138.2 41.5h.65M144.2 41.5h.65M92.2 42.5h.65M97.2 42.5h.65M98.2 42.5h.65M137.2 42.5h.65M139.2 42.5h.65M141.2 42.5h.65M144.2 42.5h.65M92.2 43.5h.65M93.2 43.5h.65M96.2 43.5h.65M98.2 43.5h.65M102.2 43.5h.65M136.2 43.5h.65M139.2 43.5h.65M95.2 44.5h.65M96.2 44.5h.65M144.2 44.5h.65M88.2 45.5h.65M89.2 45.5h.65M90.2 45.5h.65M91.2 45.5h.65M96.2 45.5h.65M97.2 45.5h.65M138.2 45.5h.65M140.2 45.5h.65M141.2 45.5h.65M145.2 45.5h.65M138.2 46.5h.65M140.2 46.5h.65M142.2 46.5h.65M76.2 47.5h.65M92.2 47.5h.65M94.2 47.5h.65M97.2 47.5h.65M143.2 47.5h.65M145.2 47.5h.65M80.2 48.5h.65M91.2 48.5h.65M95.2 48.5h.65M138.2 48.5h.65M141.2 48.5h.65M83.2 49.5h.65M84.2 49.5h.65M86.2 49.5h.65M147.2 49.5h.65M83.2 50.5h.65M91.2 50.5h.65M139.2 50.5h.65M84.2 51.5h.65M87.2 51.5h.65M138.2 51.5h.65M143.2 51.5h.65M84.2 52.5h.65M88.2 52.5h.65M90.2 52.5h.65M91.2 52.5h.65M92.2 52.5h.65M142.2 52.5h.65M77.2 53.5h.65M82.2 53.5h.65M87.2 53.5h.65M91.2 53.5h.65M94.2 53.5h.65M135.2 53.5h.65M137.2 53.5h.65M146.2 53.5h.65M66.2 54.5h.65M83.2 54.5h.65M84.2 54.5h.65M88.2 54.5h.65M83.2 55.5h.65M134.2 55.5h.65M135.2 55.5h.65M141.2 55.5h.65M146.2 55.5h.65M84.2 56.5h.65M136.2 56.5h.65M143.2 56.5h.65M86.2 57.5h.65M88.2 57.5h.65M134.2 57.5h.65M74.2 58.5h.65M77.2 58.5h.65M136.2 58.5h.65M139.2 58.5h.65M141.2 58.5h.65M81.2 59.5h.65M82.2 59.5h.65M84.2 59.5h.65M85.2 59.5h.65M86.2 59.5h.65M142.2 59.5h.65M74.2 60.5h.65M89.2 60.5h.65M136.2 60.5h.65M137.2 60.5h.65M139.2 60.5h.65M74.2 61.5h.65M79.2 61.5h.65M82.2 61.5h.65M84.2 61.5h.65M86.2 61.5h.65M85.2 62.5h.65M79.2 63.5h.65M81.2 63.5h.65M135.2 63.5h.65M137.2 64.5h.65M75.2 65.5h.65M135.2 65.5h.65M78.2 66.5h.65M80.2 66.5h.65M69.2 67.5h.65M75.2 67.5h.65M77.2 67.5h.65M127.2 67.5h.65M128.2 67.5h.65M130.2 67.5h.65M131.2 67.5h.65M75.2 68.5h.65M127.2 68.5h.65M137.2 68.5h.65M76.2 69.5h.65M77.2 69.5h.65M128.2 69.5h.65M129.2 69.5h.65M74.2 70.5h.65M75.2 70.5h.65M78.2 70.5h.65M128.2 70.5h.65M130.2 70.5h.65M132.2 70.5h.65M134.2 70.5h.65M72.2 71.5h.65M77.2 71.5h.65M126.2 71.5h.65M75.2 72.5h.65M125.2 72.5h.65M127.2 72.5h.65M73.2 73.5h.65M124.2 73.5h.65M125.2 73.5h.65M126.2 74.5h.65M73.2 75.5h.65M123.2 75.5h.65M127.2 75.5h.65M135.2 75.5h.65M68.2 76.5h.65M73.2 76.5h.65M122.2 76.5h.65M131.2 76.5h.65M68.2 77.5h.65M121.2 77.5h.65M124.2 77.5h.65M125.2 77.5h.65M128.2 77.5h.65M136.2 77.5h.65M59.2 78.5h.65M68.2 78.5h.65M72.2 78.5h.65M73.2 78.5h.65M75.2 78.5h.65M125.2 78.5h.65M75.2 79.5h.65M124.2 79.5h.65M125.2 79.5h.65M128.2 79.5h.65M135.2 79.5h.65M64.2 80.5h.65M65.2 80.5h.65M69.2 80.5h.65M71.2 80.5h.65M74.2 80.5h.65M123.2 80.5h.65M141.2 80.5h.65M57.2 81.5h.65M71.2 81.5h.65M73.2 81.5h.65M131.2 81.5h.65M61.2 82.5h.65M68.2 82.5h.65M121.2 82.5h.65M123.2 82.5h.65M66.2 83.5h.65M71.2 83.5h.65M123.2 83.5h.65M75.2 84.5h.65M124.2 84.5h.65M71.2 85.5h.65M72.2 85.5h.65M115.2 85.5h.65M126.2 85.5h.65M66.2 86.5h.65M68.2 86.5h.65M69.2 86.5h.65M72.2 86.5h.65M75.2 86.5h.65M119.2 86.5h.65M120.2 86.5h.65M57.2 87.5h.65M58.2 87.5h.65M60.2 87.5h.65M67.2 87.5h.65M71.2 87.5h.65M118.2 87.5h.65M122.2 87.5h.65M48.2 88.5h.65M72.2 88.5h.65M121.2 88.5h.65M124.2 88.5h.65M64.2 89.5h.65M66.2 89.5h.65M68.2 89.5h.65M69.2 89.5h.65M70.2 89.5h.65M113.2 89.5h.65M115.2 89.5h.65M116.2 89.5h.65M61.2 90.5h.65M62.2 90.5h.65M63.2 90.5h.65M115.2 90.5h.65M124.2 90.5h.65M64.2 91.5h.65M120.2 91.5h.65M121.2 91.5h.65M123.2 91.5h.65M62.2 92.5h.65M63.2 92.5h.65M117.2 92.5h.65M118.2 92.5h.65M124.2 92.5h.65M128.2 92.5h.65M53.2 93.5h.65M61.2 93.5h.65M65.2 93.5h.65M50.2 94.5h.65M61.2 94.5h.65M63.2 94.5h.65M66.2 94.5h.65M115.2 94.5h.65M116.2 94.5h.65M117.2 94.5h.65M66.2 95.5h.65M114.2 95.5h.65M117.2 95.5h.65M59.2 96.5h.65M60.2 96.5h.65M61.2 96.5h.65M64.2 96.5h.65M115.2 96.5h.65M123.2 96.5h.65M52.2 97.5h.65M57.2 97.5h.65M117.2 97.5h.65M124.2 97.5h.65M55.2 98.5h.65M116.2 98.5h.65M124.2 98.5h.65M47.2 99.5h.65M52.2 99.5h.65M53.2 99.5h.65M56.2 99.5h.65M59.2 99.5h.65M114.2 99.5h.65M115.2 99.5h.65M54.2 100.5h.65M105.2 100.5h.65M110.2 100.5h.65M111.2 100.5h.65M112.2 100.5h.65M51.2 101.5h.65M55.2 101.5h.65M56.2 101.5h.65M57.2 101.5h.65M112.2 101.5h.65M42.2 102.5h.65M56.2 102.5h.65M106.2 102.5h.65M113.2 102.5h.65M114.2 102.5h.65M115.2 102.5h.65M116.2 102.5h.65M117.2 102.5h.65M118.2 102.5h.65M40.2 103.5h.65M57.2 103.5h.65M58.2 103.5h.65M60.2 103.5h.65M108.2 103.5h.65M128.2 103.5h.65M49.2 104.5h.65M50.2 104.5h.65M51.2 104.5h.65M52.2 104.5h.65M54.2 104.5h.65M55.2 104.5h.65M56.2 104.5h.65M108.2 104.5h.65M110.2 104.5h.65M28.2 105.5h.65M41.2 105.5h.65M46.2 105.5h.65M47.2 105.5h.65M51.2 105.5h.65M107.2 105.5h.65M108.2 105.5h.65M116.2 105.5h.65M29.2 106.5h.65M39.2 106.5h.65M110.2 106.5h.65M114.2 106.5h.65M121.2 106.5h.65M35.2 107.5h.65M39.2 107.5h.65M49.2 107.5h.65M106.2 107.5h.65M109.2 107.5h.65M116.2 107.5h.65M29.2 108.5h.65M99.2 108.5h.65M103.2 108.5h.65M11.2 109.5h.65M100.2 109.5h.65M106.2 109.5h.65M111.2 109.5h.65M114.2 109.5h.65M15.2 110.5h.65M17.2 110.5h.65M102.2 110.5h.65M104.2 110.5h.65M105.2 110.5h.65M118.2 110.5h.65M17.2 111.5h.65M94.2 111.5h.65M100.2 111.5h.65M101.2 111.5h.65M110.2 111.5h.65M124.2 111.5h.65M14.2 112.5h.65M15.2 112.5h.65M94.2 112.5h.65M94.2 113.5h.65M96.2 113.5h.65M15.2 114.5h.65M28.2 114.5h.65M86.2 114.5h.65M97.2 114.5h.65M113.2 114.5h.65M10.2 115.5h.65M20.2 115.5h.65M22.2 115.5h.65M29.2 115.5h.65M39.2 115.5h.65M59.2 115.5h.65M61.2 115.5h.65M63.2 115.5h.65M65.2 115.5h.65M67.2 115.5h.65M77.2 115.5h.65M80.2 115.5h.65M90.2 115.5h.65M93.2 115.5h.65M100.2 115.5h.65M105.2 115.5h.65M15.2 116.5h.65M26.2 116.5h.65M32.2 116.5h.65M42.2 116.5h.65M47.2 116.5h.65M60.2 116.5h.65M66.2 116.5h.65M69.2 116.5h.65M71.2 116.5h.65M75.2 116.5h.65M80.2 116.5h.65M82.2 116.5h.65M85.2 116.5h.65M88.2 116.5h.65M89.2 116.5h.65M91.2 116.5h.65M92.2 116.5h.65M97.2 116.5h.65M51.2 117.5h.65M66.2 117.5h.65M68.2 117.5h.65M70.2 117.5h.65M79.2 117.5h.65M84.2 117.5h.65M93.2 117.5h.65M94.2 117.5h.65M96.2 117.5h.65M101.2 117.5h.65M45.2 118.5h.65M60.2 118.5h.65M66.2 118.5h.65M88.2 118.5h.65M100.2 118.5h.65M51.2 119.5h.65M55.2 119.5h.65M56.2 119.5h.65M61.2 119.5h.65M63.2 119.5h.65M67.2 119.5h.65M71.2 119.5h.65M73.2 119.5h.65M75.2 119.5h.65M80.2 119.5h.65M83.2 119.5h.65M86.2 119.5h.65M91.2 119.5h.65M100.2 119.5h.65M105.2 119.5h.65M56.2 120.5h.65M61.2 120.5h.65M69.2 120.5h.65M76.2 120.5h.65M81.2 120.5h.65M55.2 121.5h.65M70.2 121.5h.65M71.2 121.5h.65M65.2 122.5h.65M70.2 122.5h.65M72.2 122.5h.65M77.2 122.5h.65M84.2 122.5h.65M92.2 122.5h.65M97.2 122.5h.65M48.2 123.5h.65M68.2 123.5h.65M84.2 123.5h.65M88.2 123.5h.65M68.2 124.5h.65M72.2 124.5h.65M74.2 124.5h.65M82.2 124.5h.65M59.2 125.5h.65M74.2 125.5h.65M85.2 125.5h.65M87.2 125.5h.65M54.2 126.5h.65M72.2 126.5h.65M60.2 127.5h.65M67.2 127.5h.65M61.2 128.5h.65M72.2 128.5h.65M59.2 130.5h.65M74.2 130.5h.65M76.2 130.5h.65M79.2 130.5h.65M95.2 130.5h.65M58.2 131.5h.65M56.2 132.5h.65M74.2 132.5h.65M70.2 134.5h.65M70.2 135.5h.65"/><path stroke="#0050ff" stroke-width="0.65" d="M134.2 25.5h.65M125.2 27.5h.65M130.2 27.5h.65M131.2 27.5h.65M125.2 28.5h.65M127.2 28.5h.65M132.2 28.5h.65M133.2 28.5h.65M135.2 28.5h.65M123.2 29.5h.65M124.2 29.5h.65M126.2 29.5h.65M127.2 29.5h.65M135.2 29.5h.65M124.2 30.5h.65M128.2 30.5h.65M124.2 31.5h.65M128.2 31.5h.65M131.2 31.5h.65M120.2 32.5h.65M116.2 33.5h.65M133.2 33.5h.65M134.2 33.5h.65M141.2 33.5h.65M132.2 34.5h.65M133.2 34.5h.65M141.2 34.5h.65M115.2 35.5h.65M137.2 35.5h.65M139.2 35.5h.65M103.2 36.5h.65M142.2 36.5h.65M138.2 37.5h.65M136.2 38.5h.65M104.2 39.5h.65M106.2 39.5h.65M107.2 39.5h.65M141.2 39.5h.65M100.2 40.5h.65M106.2 40.5h.65M113.2 40.5h.65M140.2 40.5h.65M93.2 42.5h.65M134.2 42.5h.65M95.2 43.5h.65M99.2 45.5h.65M98.2 46.5h.65M96.2 48.5h.65M92.2 49.5h.65M95.2 49.5h.65M96.2 49.5h.65M95.2 50.5h.65M135.2 52.5h.65M137.2 52.5h.65M134.2 53.5h.65M93.2 54.5h.65M133.2 54.5h.65M130.2 57.5h.65M83.2 58.5h.65M87.2 58.5h.65M88.2 58.5h.65M90.2 58.5h.65M129.2 58.5h.65M133.2 59.5h.65M84.2 60.5h.65M85.2 60.5h.65M86.2 60.5h.65M88.2 60.5h.65M128.2 60.5h.65M129.2 60.5h.65M135.2 60.5h.65M128.2 61.5h.65M135.2 61.5h.65M82.2 62.5h.65M83.2 62.5h.65M86.2 62.5h.65M84.2 64.5h.65M133.2 64.5h.65M134.2 64.5h.65M82.2 65.5h.65M125.2 65.5h.65M126.2 66.5h.65M82.2 67.5h.65M126.2 68.5h.65M79.2 69.5h.65M80.2 71.5h.65M124.2 71.5h.65M76.2 72.5h.65M75.2 73.5h.65M126.2 73.5h.65M74.2 75.5h.65M77.2 76.5h.65M78.2 76.5h.65M76.2 77.5h.65M76.2 78.5h.65M123.2 78.5h.65M72.2 82.5h.65M74.2 82.5h.65M73.2 83.5h.65M74.2 83.5h.65M120.2 83.5h.65M72.2 84.5h.65M116.2 85.5h.65M118.2 85.5h.65M114.2 86.5h.65M115.2 87.5h.65M68.2 90.5h.65M70.2 90.5h.65M67.2 91.5h.65M69.2 91.5h.65M113.2 92.5h.65M60.2 95.5h.65M65.2 95.5h.65M114.2 96.5h.65M61.2 98.5h.65M62.2 98.5h.65M59.2 100.5h.65M106.2 101.5h.65M107.2 101.5h.65M60.2 102.5h.65M104.2 102.5h.65M105.2 102.5h.65M61.2 105.5h.65M106.2 105.5h.65M105.2 106.5h.65M40.2 107.5h.65M51.2 107.5h.65M55.2 107.5h.65M102.2 107.5h.65M36.2 108.5h.65M23.2 109.5h.65M24.2 109.5h.65M25.2 109.5h.65M26.2 109.5h.65M27.2 109.5h.65M18.2 110.5h.65M21.2 110.5h.65M101.2 110.5h.65M19.2 111.5h.65M20.2 112.5h.65M97.2 112.5h.65M98.2 112.5h.65M26.2 113.5h.65M88.2 113.5h.65M92.2 113.5h.65M69.2 114.5h.65M84.2 114.5h.65M92.2 114.5h.65M93.2 114.5h.65M60.2 115.5h.65M66.2 115.5h.65M74.2 115.5h.65M83.2 115.5h.65M84.2 116.5h.65"/></g>
<rect x="1287" y="1943.6" width="298.5" height="298.4" fill="none" stroke="#6a6a6a" stroke-width="1.3"/>
<line x1="1412.5" y1="1943.6" x2="1412.5" y2="2242" stroke="#000" stroke-width="2.2"/>
<line x1="1287" y1="2128.7" x2="1585.5" y2="2128.7" stroke="#000" stroke-width="2.2"/>
<rect x="1287.6" y="1947" width="122.3" height="179.7" fill="none" stroke="#3f9498" stroke-width="4" stroke-dasharray="15 10"/>
<rect x="1474.2" y="1948" width="109.3" height="178.2" fill="none" stroke="#b28fd6" stroke-width="4" stroke-dasharray="15 10"/>
<rect x="1474.2" y="2129.6" width="109.3" height="106.1" fill="none" stroke="#ee8a3c" stroke-width="4" stroke-dasharray="15 10"/>
<text x="1347" y="1971" font-size="19.7" text-anchor="middle" fill="#3f9498">OnF</text>
<text x="1347" y="1995" font-size="19.7" text-anchor="middle" fill="#3f9498">0.087%</text>
<text x="1546" y="1971" font-size="19.7" text-anchor="middle" fill="#b28fd6">Dual</text>
<text x="1546" y="1995" font-size="19.7" text-anchor="middle" fill="#b28fd6">77.2%</text>
<text x="1540.8" y="2186.7" font-size="19.7" text-anchor="middle" fill="#ee8a3c">Stem</text>
<text x="1540.8" y="2211.2" font-size="19.7" text-anchor="middle" fill="#ee8a3c">4.5%</text>
<line x1="1279" y1="1971" x2="1287" y2="1971" stroke="#000" stroke-width="2"/>
<line x1="1279" y1="2042.2" x2="1287" y2="2042.2" stroke="#000" stroke-width="2"/>
<line x1="1279" y1="2123.8" x2="1287" y2="2123.8" stroke="#000" stroke-width="2"/>
<line x1="1279" y1="2175.7" x2="1287" y2="2175.7" stroke="#000" stroke-width="2"/>
<line x1="1279" y1="2221.9" x2="1287" y2="2221.9" stroke="#000" stroke-width="2"/>
<line x1="1282.5" y1="2099.2" x2="1287" y2="2099.2" stroke="#000" stroke-width="1.2"/>
<line x1="1282.5" y1="2020.8" x2="1287" y2="2020.8" stroke="#000" stroke-width="1.2"/>
<line x1="1282.5" y1="2084.9" x2="1287" y2="2084.9" stroke="#000" stroke-width="1.2"/>
<line x1="1282.5" y1="2008.2" x2="1287" y2="2008.2" stroke="#000" stroke-width="1.2"/>
<line x1="1282.5" y1="2074.7" x2="1287" y2="2074.7" stroke="#000" stroke-width="1.2"/>
<line x1="1282.5" y1="1999.3" x2="1287" y2="1999.3" stroke="#000" stroke-width="1.2"/>
<line x1="1282.5" y1="2066.8" x2="1287" y2="2066.8" stroke="#000" stroke-width="1.2"/>
<line x1="1282.5" y1="1992.4" x2="1287" y2="1992.4" stroke="#000" stroke-width="1.2"/>
<line x1="1282.5" y1="2060.3" x2="1287" y2="2060.3" stroke="#000" stroke-width="1.2"/>
<line x1="1282.5" y1="1986.8" x2="1287" y2="1986.8" stroke="#000" stroke-width="1.2"/>
<line x1="1282.5" y1="2054.8" x2="1287" y2="2054.8" stroke="#000" stroke-width="1.2"/>
<line x1="1282.5" y1="1982" x2="1287" y2="1982" stroke="#000" stroke-width="1.2"/>
<line x1="1282.5" y1="2050.1" x2="1287" y2="2050.1" stroke="#000" stroke-width="1.2"/>
<line x1="1282.5" y1="1977.9" x2="1287" y2="1977.9" stroke="#000" stroke-width="1.2"/>
<line x1="1282.5" y1="2045.9" x2="1287" y2="2045.9" stroke="#000" stroke-width="1.2"/>
<line x1="1282.5" y1="1974.3" x2="1287" y2="1974.3" stroke="#000" stroke-width="1.2"/>
<line x1="1282.5" y1="2160.9" x2="1287" y2="2160.9" stroke="#000" stroke-width="1.2"/>
<line x1="1282.5" y1="2188.9" x2="1287" y2="2188.9" stroke="#000" stroke-width="1.2"/>
<line x1="1282.5" y1="2152.2" x2="1287" y2="2152.2" stroke="#000" stroke-width="1.2"/>
<line x1="1282.5" y1="2196.6" x2="1287" y2="2196.6" stroke="#000" stroke-width="1.2"/>
<line x1="1282.5" y1="2146" x2="1287" y2="2146" stroke="#000" stroke-width="1.2"/>
<line x1="1282.5" y1="2202.1" x2="1287" y2="2202.1" stroke="#000" stroke-width="1.2"/>
<line x1="1282.5" y1="2141.2" x2="1287" y2="2141.2" stroke="#000" stroke-width="1.2"/>
<line x1="1282.5" y1="2206.4" x2="1287" y2="2206.4" stroke="#000" stroke-width="1.2"/>
<line x1="1282.5" y1="2137.3" x2="1287" y2="2137.3" stroke="#000" stroke-width="1.2"/>
<line x1="1282.5" y1="2209.9" x2="1287" y2="2209.9" stroke="#000" stroke-width="1.2"/>
<line x1="1282.5" y1="2134" x2="1287" y2="2134" stroke="#000" stroke-width="1.2"/>
<line x1="1282.5" y1="2212.8" x2="1287" y2="2212.8" stroke="#000" stroke-width="1.2"/>
<line x1="1282.5" y1="2131.2" x2="1287" y2="2131.2" stroke="#000" stroke-width="1.2"/>
<line x1="1282.5" y1="2215.3" x2="1287" y2="2215.3" stroke="#000" stroke-width="1.2"/>
<line x1="1282.5" y1="2128.7" x2="1287" y2="2128.7" stroke="#000" stroke-width="1.2"/>
<line x1="1282.5" y1="2217.6" x2="1287" y2="2217.6" stroke="#000" stroke-width="1.2"/>
<line x1="1282.5" y1="2126.4" x2="1287" y2="2126.4" stroke="#000" stroke-width="1.2"/>
<line x1="1282.5" y1="2219.6" x2="1287" y2="2219.6" stroke="#000" stroke-width="1.2"/>
<rect x="1280" y="2170.7" width="7" height="10" fill="#000"/>
<line x1="1305.2" y1="2242" x2="1305.2" y2="2250" stroke="#000" stroke-width="2"/>
<line x1="1357.7" y1="2242" x2="1357.7" y2="2250" stroke="#000" stroke-width="2"/>
<line x1="1403.8" y1="2242" x2="1403.8" y2="2250" stroke="#000" stroke-width="2"/>
<line x1="1485.4" y1="2242" x2="1485.4" y2="2250" stroke="#000" stroke-width="2"/>
<line x1="1556.1" y1="2242" x2="1556.1" y2="2250" stroke="#000" stroke-width="2"/>
<line x1="1428.4" y1="2242" x2="1428.4" y2="2246.5" stroke="#000" stroke-width="1.2"/>
<line x1="1506.7" y1="2242" x2="1506.7" y2="2246.5" stroke="#000" stroke-width="1.2"/>
<line x1="1577.4" y1="2242" x2="1577.4" y2="2246.5" stroke="#000" stroke-width="1.2"/>
<line x1="1442.7" y1="2242" x2="1442.7" y2="2246.5" stroke="#000" stroke-width="1.2"/>
<line x1="1519.1" y1="2242" x2="1519.1" y2="2246.5" stroke="#000" stroke-width="1.2"/>
<line x1="1452.9" y1="2242" x2="1452.9" y2="2246.5" stroke="#000" stroke-width="1.2"/>
<line x1="1528" y1="2242" x2="1528" y2="2246.5" stroke="#000" stroke-width="1.2"/>
<line x1="1460.8" y1="2242" x2="1460.8" y2="2246.5" stroke="#000" stroke-width="1.2"/>
<line x1="1534.8" y1="2242" x2="1534.8" y2="2246.5" stroke="#000" stroke-width="1.2"/>
<line x1="1467.3" y1="2242" x2="1467.3" y2="2246.5" stroke="#000" stroke-width="1.2"/>
<line x1="1540.4" y1="2242" x2="1540.4" y2="2246.5" stroke="#000" stroke-width="1.2"/>
<line x1="1472.8" y1="2242" x2="1472.8" y2="2246.5" stroke="#000" stroke-width="1.2"/>
<line x1="1545.1" y1="2242" x2="1545.1" y2="2246.5" stroke="#000" stroke-width="1.2"/>
<line x1="1477.5" y1="2242" x2="1477.5" y2="2246.5" stroke="#000" stroke-width="1.2"/>
<line x1="1549.2" y1="2242" x2="1549.2" y2="2246.5" stroke="#000" stroke-width="1.2"/>
<line x1="1481.7" y1="2242" x2="1481.7" y2="2246.5" stroke="#000" stroke-width="1.2"/>
<line x1="1552.9" y1="2242" x2="1552.9" y2="2246.5" stroke="#000" stroke-width="1.2"/>
<line x1="1370.9" y1="2242" x2="1370.9" y2="2246.5" stroke="#000" stroke-width="1.2"/>
<line x1="1342.7" y1="2242" x2="1342.7" y2="2246.5" stroke="#000" stroke-width="1.2"/>
<line x1="1378.6" y1="2242" x2="1378.6" y2="2246.5" stroke="#000" stroke-width="1.2"/>
<line x1="1333.9" y1="2242" x2="1333.9" y2="2246.5" stroke="#000" stroke-width="1.2"/>
<line x1="1384.1" y1="2242" x2="1384.1" y2="2246.5" stroke="#000" stroke-width="1.2"/>
<line x1="1327.7" y1="2242" x2="1327.7" y2="2246.5" stroke="#000" stroke-width="1.2"/>
<line x1="1388.3" y1="2242" x2="1388.3" y2="2246.5" stroke="#000" stroke-width="1.2"/>
<line x1="1322.8" y1="2242" x2="1322.8" y2="2246.5" stroke="#000" stroke-width="1.2"/>
<line x1="1391.8" y1="2242" x2="1391.8" y2="2246.5" stroke="#000" stroke-width="1.2"/>
<line x1="1318.9" y1="2242" x2="1318.9" y2="2246.5" stroke="#000" stroke-width="1.2"/>
<line x1="1394.7" y1="2242" x2="1394.7" y2="2246.5" stroke="#000" stroke-width="1.2"/>
<line x1="1315.6" y1="2242" x2="1315.6" y2="2246.5" stroke="#000" stroke-width="1.2"/>
<line x1="1397.3" y1="2242" x2="1397.3" y2="2246.5" stroke="#000" stroke-width="1.2"/>
<line x1="1312.7" y1="2242" x2="1312.7" y2="2246.5" stroke="#000" stroke-width="1.2"/>
<line x1="1399.5" y1="2242" x2="1399.5" y2="2246.5" stroke="#000" stroke-width="1.2"/>
<line x1="1310.1" y1="2242" x2="1310.1" y2="2246.5" stroke="#000" stroke-width="1.2"/>
<line x1="1401.5" y1="2242" x2="1401.5" y2="2246.5" stroke="#000" stroke-width="1.2"/>
<line x1="1307.8" y1="2242" x2="1307.8" y2="2246.5" stroke="#000" stroke-width="1.2"/>
<rect x="1351.7" y="2242" width="12" height="6" fill="#000"/>
<text x="1258" y="1982.5" font-size="15.5" text-anchor="end">10</text>
<text x="1262" y="1971.5" font-size="15.5">5</text>
<text x="1258" y="2053.7" font-size="15.5" text-anchor="end">10</text>
<text x="1262" y="2042.7" font-size="15.5">4</text>
<text x="1258" y="2135.3" font-size="15.5" text-anchor="end">10</text>
<text x="1262" y="2124.3" font-size="15.5">3</text>
<text x="1261" y="2180.7" font-size="15.5" text-anchor="end">0</text>
<text x="1258" y="2231.9" font-size="15.5" text-anchor="end">-10</text>
<text x="1262" y="2221.4" font-size="15.5">3</text>
<text x="1306.2" y="2274.5" font-size="15.5" text-anchor="middle">-10</text>
<text x="1324.2" y="2263.5" font-size="15.5">3</text>
<text x="1357.7" y="2274.5" font-size="15.5" text-anchor="middle">0</text>
<text x="1407.8" y="2274.5" font-size="15.5" text-anchor="middle">10</text>
<text x="1420.8" y="2263.5" font-size="15.5">3</text>
<text x="1489.4" y="2274.5" font-size="15.5" text-anchor="middle">10</text>
<text x="1502.4" y="2263.5" font-size="15.5">4</text>
<text x="1560.1" y="2274.5" font-size="15.5" text-anchor="middle">10</text>
<text x="1573.1" y="2263.5" font-size="15.5">5</text>
<text x="1232.5" y="2076" font-size="20" text-anchor="middle" transform="rotate(-90 1232.5 2076)">FITC-A (GFP)</text>
<g transform="translate(1760.7 1937.6) scale(2)" stroke-width="1" fill="none"><path stroke="#1010f0" d="M123 77.5h1M121 80.5h1m2 0h1M122 81.5h1M124 82.5h1M126 83.5h1M113 84.5h1m3 0h1M107 85.5h1M118 86.5h1M130 89.5h1M104 90.5h2M101 92.5h1m1 0h1M129 94.5h2M132 97.5h1M131 98.5h2M127 101.5h2M86 105.5h1M118 108.5h1M42 109.5h1M58 110.5h1m17 0h1M42 111.5h1M84 112.5h1m2 0h1M67 113.5h1m4 0h1m2 0h2m6 0h1M96 114.5h1"/><path stroke="#0050ff" d="M124 77.5h1M121 78.5h4M120 79.5h4M116 80.5h2m2 0h1m1 0h2M111 81.5h2m3 0h6m1 0h1M110 82.5h3m3 0h8m1 0h1M108 83.5h5m3 0h10M108 84.5h5m2 0h2m1 0h3m1 0h5M108 85.5h14m1 0h4M108 86.5h2m1 0h7m1 0h5m1 0h6M105 87.5h26M104 88.5h11m1 0h12m1 0h2M105 89.5h25M106 90.5h14m1 0h9M101 91.5h10m1 0h18M98 92.5h2m2 0h1m1 0h12m1 0h13M98 93.5h2m1 0h3m2 0h4m4 0h3m1 0h13M98 94.5h2m1 0h3m1 0h2m2 0h2m5 0h1m1 0h1m1 0h9M97 95.5h6m15 0h2m1 0h10M93 96.5h4m1 0h4m1 0h1m17 0h7m1 0h3M93 97.5h7m2 0h1m18 0h4m1 0h4m1 0h1M92 98.5h5m1 0h1m24 0h8M87 99.5h8m26 0h3m1 0h6M86 100.5h6m1 0h1m28 0h8M87 101.5h6m29 0h1m1 0h3m2 0h1M86 102.5h3m2 0h1m30 0h6M85 103.5h5m1 0h1m30 0h1m1 0h3M86 104.5h4m31 0h5M87 105.5h4m1 0h1m28 0h5M86 106.5h3m1 0h2m26 0h3m1 0h3M85 107.5h3m28 0h4M55 108.5h3m7 0h4m15 0h6m26 0h2M43 109.5h3m1 0h17m1 0h8m1 0h2m3 0h10m1 0h1m23 0h3M41 110.5h10m1 0h3m1 0h2m4 0h5m2 0h7m1 0h12m22 0h5M41 111.5h1m1 0h12m1 0h4m1 0h2m2 0h5m2 0h17m2 0h1m18 0h3m1 0h1M43 112.5h41m1 0h2m1 0h3m1 0h1m10 0h1m1 0h8M45 113.5h3m1 0h2m3 0h2m3 0h1m1 0h5m2 0h4m5 0h1m2 0h3m6 0h4m1 0h1m1 0h12M94 114.5h2m2 0h8"/><path stroke="#00a0ff" d="M111 91.5h1M111 93.5h3m3 0h1M104 94.5h1m2 0h2m2 0h5m1 0h1m1 0h1M103 95.5h15m2 0h1M102 96.5h1m1 0h4m1 0h1m1 0h10M100 97.5h2m1 0h5m1 0h1m2 0h1m1 0h7M97 98.5h1m1 0h3m1 0h2m4 0h1m3 0h1m1 0h8M95 99.5h6m1 0h1m1 0h1m10 0h6m3 0h1M92 100.5h1m1 0h2m1 0h1m2 0h1m17 0h4M93 101.5h2m20 0h1m2 0h4m1 0h1M89 102.5h2m1 0h3m23 0h4M90 103.5h1m1 0h3m21 0h1m3 0h2m1 0h1M90 104.5h3m23 0h1m2 0h2M91 105.5h1m23 0h1m1 0h4M89 106.5h1m23 0h1m1 0h3M88 107.5h4m23 0h1M90 108.5h2m19 0h1m1 0h3M89 109.5h1m1 0h1m19 0h3M51 110.5h1m3 0h1m3 0h3m5 0h2m20 0h4m14 0h1m1 0h1M55 111.5h1m4 0h1m2 0h2m5 0h1m18 0h2m1 0h3m2 0h1m7 0h5M91 112.5h1m1 0h10m1 0h1M95 113.5h1"/><path stroke="#00e0f0" d="M108 96.5h1m1 0h1M108 97.5h1m1 0h2m1 0h1M102 98.5h1m2 0h4m1 0h3m1 0h1M101 99.5h1m1 0h1m1 0h2m1 0h1m1 0h1m1 0h3M96 100.5h1m1 0h2m1 0h1m1 0h1m6 0h1m1 0h6M95 101.5h5m8 0h2m3 0h2m1 0h2M95 102.5h2m1 0h2m15 0h3M95 103.5h1m19 0h1m1 0h3M93 104.5h2m18 0h3m1 0h2M95 105.5h1m17 0h2m1 0h1M92 106.5h1M92 107.5h2m19 0h2M92 108.5h3m17 0h1M92 109.5h1m13 0h1m1 0h1m1 0h1M93 110.5h2m1 0h1m3 0h2m3 0h2m1 0h1m1 0h1M95 111.5h2m1 0h1m2 0h4"/><path stroke="#20f0a0" d="M107 99.5h1m1 0h1m1 0h1M102 100.5h1m2 0h1m1 0h3m1 0h1M100 101.5h2m2 0h1m2 0h1m3 0h1M97 102.5h1m2 0h1m12 0h2M96 103.5h1m16 0h2M93 105.5h2M93 106.5h1m17 0h1m2 0h1M94 107.5h2m1 0h1m13 0h2M96 108.5h1M93 109.5h3m11 0h1m1 0h1M95 110.5h1m1 0h2m3 0h3M99 111.5h2"/><path stroke="#40e040" d="M104 100.5h1m1 0h1M102 101.5h2m1 0h1m4 0h1m1 0h1M101 102.5h1m10 0h1M97 103.5h3m3 0h1m8 0h1M95 104.5h1m1 0h1m14 0h1M96 105.5h1m7 0h1m7 0h1M94 106.5h2m16 0h1M96 107.5h1m12 0h2M97 108.5h1m8 0h1m1 0h3M96 109.5h1m1 0h1m1 0h1m1 0h1m2 0h1M99 110.5h1"/><path stroke="#a0f020" d="M106 101.5h1M109 102.5h1M101 103.5h1m8 0h1M96 104.5h1m1 0h1m7 0h1m4 0h1M107 105.5h1m3 0h1M97 106.5h1m11 0h1M98 107.5h1m7 0h1m1 0h1M95 108.5h1m4 0h1m6 0h1M97 109.5h1m5 0h2"/><path stroke="#ffff00" d="M102 102.5h2m1 0h1m2 0h1m1 0h2M100 103.5h1m5 0h3M99 104.5h1m7 0h1M97 105.5h1m12 0h1M96 106.5h1m1 0h1m2 0h1m8 0h1M107 107.5h1M98 108.5h2m1 0h1m2 0h2M99 109.5h1m1 0h1"/><path stroke="#ffa000" d="M104 102.5h1m2 0h1M109 103.5h1m1 0h1M101 104.5h1m1 0h3m3 0h2M108 105.5h2M100 106.5h1m1 0h1m3 0h1M99 107.5h1M103 108.5h1"/><path stroke="#ff2000" d="M106 102.5h1M102 103.5h1m1 0h2M100 104.5h1m1 0h1m5 0h1M98 105.5h6m1 0h2M99 106.5h1m3 0h3m1 0h2M100 107.5h6M102 108.5h1"/><path stroke="#1010f0" stroke-width="0.65" d="M102.2 49.5h.65M92.2 52.5h.65M35.2 53.5h.65M114.2 54.5h.65M35.2 55.5h.65M37.2 55.5h.65M138.2 55.5h.65M38.2 56.5h.65M35.2 57.5h.65M127.2 57.5h.65M110.2 58.5h.65M112.2 58.5h.65M114.2 58.5h.65M115.2 58.5h.65M33.2 59.5h.65M112.2 59.5h.65M123.2 59.5h.65M32.2 60.5h.65M36.2 60.5h.65M37.2 60.5h.65M72.2 60.5h.65M96.2 60.5h.65M125.2 60.5h.65M134.2 60.5h.65M33.2 61.5h.65M35.2 61.5h.65M87.2 61.5h.65M104.2 61.5h.65M125.2 61.5h.65M126.2 61.5h.65M137.2 61.5h.65M35.2 62.5h.65M122.2 62.5h.65M124.2 62.5h.65M125.2 62.5h.65M137.2 62.5h.65M32.2 63.5h.65M37.2 63.5h.65M116.2 63.5h.65M118.2 63.5h.65M130.2 63.5h.65M136.2 63.5h.65M32.2 64.5h.65M34.2 64.5h.65M35.2 64.5h.65M36.2 64.5h.65M101.2 64.5h.65M103.2 64.5h.65M111.2 64.5h.65M112.2 64.5h.65M114.2 64.5h.65M118.2 64.5h.65M120.2 64.5h.65M125.2 64.5h.65M133.2 64.5h.65M34.2 65.5h.65M99.2 65.5h.65M103.2 65.5h.65M105.2 65.5h.65M109.2 65.5h.65M113.2 65.5h.65M116.2 65.5h.65M118.2 65.5h.65M122.2 65.5h.65M125.2 65.5h.65M34.2 66.5h.65M36.2 66.5h.65M96.2 66.5h.65M100.2 66.5h.65M104.2 66.5h.65M108.2 66.5h.65M111.2 66.5h.65M114.2 66.5h.65M117.2 66.5h.65M119.2 66.5h.65M122.2 66.5h.65M130.2 66.5h.65M132.2 66.5h.65M135.2 66.5h.65M140.2 66.5h.65M33.2 67.5h.65M35.2 67.5h.65M97.2 67.5h.65M98.2 67.5h.65M99.2 67.5h.65M100.2 67.5h.65M107.2 67.5h.65M109.2 67.5h.65M115.2 67.5h.65M117.2 67.5h.65M118.2 67.5h.65M120.2 67.5h.65M121.2 67.5h.65M123.2 67.5h.65M124.2 67.5h.65M127.2 67.5h.65M130.2 67.5h.65M132.2 67.5h.65M32.2 68.5h.65M34.2 68.5h.65M35.2 68.5h.65M36.2 68.5h.65M97.2 68.5h.65M113.2 68.5h.65M114.2 68.5h.65M120.2 68.5h.65M122.2 68.5h.65M129.2 68.5h.65M131.2 68.5h.65M138.2 68.5h.65M142.2 68.5h.65M145.2 68.5h.65M146.2 68.5h.65M31.2 69.5h.65M32.2 69.5h.65M35.2 69.5h.65M36.2 69.5h.65M101.2 69.5h.65M103.2 69.5h.65M106.2 69.5h.65M107.2 69.5h.65M118.2 69.5h.65M121.2 69.5h.65M122.2 69.5h.65M124.2 69.5h.65M125.2 69.5h.65M128.2 69.5h.65M129.2 69.5h.65M137.2 69.5h.65M144.2 69.5h.65M32.2 70.5h.65M33.2 70.5h.65M34.2 70.5h.65M35.2 70.5h.65M36.2 70.5h.65M37.2 70.5h.65M115.2 70.5h.65M117.2 70.5h.65M119.2 70.5h.65M120.2 70.5h.65M121.2 70.5h.65M127.2 70.5h.65M129.2 70.5h.65M132.2 70.5h.65M137.2 70.5h.65M34.2 71.5h.65M35.2 71.5h.65M36.2 71.5h.65M37.2 71.5h.65M38.2 71.5h.65M93.2 71.5h.65M103.2 71.5h.65M107.2 71.5h.65M118.2 71.5h.65M119.2 71.5h.65M121.2 71.5h.65M123.2 71.5h.65M124.2 71.5h.65M125.2 71.5h.65M127.2 71.5h.65M128.2 71.5h.65M130.2 71.5h.65M131.2 71.5h.65M133.2 71.5h.65M134.2 71.5h.65M138.2 71.5h.65M139.2 71.5h.65M143.2 71.5h.65M36.2 72.5h.65M85.2 72.5h.65M98.2 72.5h.65M102.2 72.5h.65M103.2 72.5h.65M107.2 72.5h.65M108.2 72.5h.65M109.2 72.5h.65M111.2 72.5h.65M112.2 72.5h.65M113.2 72.5h.65M115.2 72.5h.65M118.2 72.5h.65M122.2 72.5h.65M125.2 72.5h.65M127.2 72.5h.65M129.2 72.5h.65M133.2 72.5h.65M136.2 72.5h.65M140.2 72.5h.65M34.2 73.5h.65M35.2 73.5h.65M36.2 73.5h.65M37.2 73.5h.65M38.2 73.5h.65M88.2 73.5h.65M110.2 73.5h.65M114.2 73.5h.65M116.2 73.5h.65M117.2 73.5h.65M118.2 73.5h.65M119.2 73.5h.65M120.2 73.5h.65M121.2 73.5h.65M122.2 73.5h.65M123.2 73.5h.65M124.2 73.5h.65M126.2 73.5h.65M127.2 73.5h.65M129.2 73.5h.65M130.2 73.5h.65M132.2 73.5h.65M133.2 73.5h.65M134.2 73.5h.65M143.2 73.5h.65M33.2 74.5h.65M34.2 74.5h.65M36.2 74.5h.65M84.2 74.5h.65M85.2 74.5h.65M87.2 74.5h.65M94.2 74.5h.65M96.2 74.5h.65M97.2 74.5h.65M99.2 74.5h.65M101.2 74.5h.65M102.2 74.5h.65M103.2 74.5h.65M104.2 74.5h.65M108.2 74.5h.65M109.2 74.5h.65M111.2 74.5h.65M112.2 74.5h.65M116.2 74.5h.65M119.2 74.5h.65M120.2 74.5h.65M121.2 74.5h.65M122.2 74.5h.65M123.2 74.5h.65M124.2 74.5h.65M125.2 74.5h.65M126.2 74.5h.65M129.2 74.5h.65M130.2 74.5h.65M131.2 74.5h.65M134.2 74.5h.65M135.2 74.5h.65M136.2 74.5h.65M137.2 74.5h.65M140.2 74.5h.65M32.2 75.5h.65M33.2 75.5h.65M34.2 75.5h.65M36.2 75.5h.65M37.2 75.5h.65M88.2 75.5h.65M91.2 75.5h.65M95.2 75.5h.65M97.2 75.5h.65M100.2 75.5h.65M102.2 75.5h.65M103.2 75.5h.65M104.2 75.5h.65M106.2 75.5h.65M107.2 75.5h.65M108.2 75.5h.65M112.2 75.5h.65M115.2 75.5h.65M117.2 75.5h.65M118.2 75.5h.65M119.2 75.5h.65M120.2 75.5h.65M122.2 75.5h.65M125.2 75.5h.65M126.2 75.5h.65M129.2 75.5h.65M131.2 75.5h.65M134.2 75.5h.65M136.2 75.5h.65M138.2 75.5h.65M146.2 75.5h.65M34.2 76.5h.65M35.2 76.5h.65M93.2 76.5h.65M101.2 76.5h.65M103.2 76.5h.65M108.2 76.5h.65M112.2 76.5h.65M115.2 76.5h.65M119.2 76.5h.65M120.2 76.5h.65M121.2 76.5h.65M122.2 76.5h.65M123.2 76.5h.65M124.2 76.5h.65M125.2 76.5h.65M127.2 76.5h.65M128.2 76.5h.65M130.2 76.5h.65M132.2 76.5h.65M133.2 76.5h.65M135.2 76.5h.65M139.2 76.5h.65M140.2 76.5h.65M141.2 76.5h.65M144.2 76.5h.65M145.2 76.5h.65M33.2 77.5h.65M34.2 77.5h.65M36.2 77.5h.65M101.2 77.5h.65M103.2 77.5h.65M104.2 77.5h.65M107.2 77.5h.65M108.2 77.5h.65M111.2 77.5h.65M113.2 77.5h.65M114.2 77.5h.65M117.2 77.5h.65M118.2 77.5h.65M120.2 77.5h.65M126.2 77.5h.65M127.2 77.5h.65M128.2 77.5h.65M129.2 77.5h.65M130.2 77.5h.65M132.2 77.5h.65M133.2 77.5h.65M134.2 77.5h.65M136.2 77.5h.65M139.2 77.5h.65M140.2 77.5h.65M145.2 77.5h.65M93.2 78.5h.65M95.2 78.5h.65M98.2 78.5h.65M106.2 78.5h.65M107.2 78.5h.65M112.2 78.5h.65M113.2 78.5h.65M114.2 78.5h.65M115.2 78.5h.65M116.2 78.5h.65M117.2 78.5h.65M119.2 78.5h.65M125.2 78.5h.65M126.2 78.5h.65M128.2 78.5h.65M129.2 78.5h.65M130.2 78.5h.65M131.2 78.5h.65M132.2 78.5h.65M133.2 78.5h.65M134.2 78.5h.65M136.2 78.5h.65M137.2 78.5h.65M138.2 78.5h.65M146.2 78.5h.65M31.2 79.5h.65M33.2 79.5h.65M34.2 79.5h.65M36.2 79.5h.65M88.2 79.5h.65M90.2 79.5h.65M93.2 79.5h.65M100.2 79.5h.65M104.2 79.5h.65M105.2 79.5h.65M106.2 79.5h.65M107.2 79.5h.65M108.2 79.5h.65M110.2 79.5h.65M111.2 79.5h.65M112.2 79.5h.65M113.2 79.5h.65M115.2 79.5h.65M118.2 79.5h.65M126.2 79.5h.65M129.2 79.5h.65M130.2 79.5h.65M132.2 79.5h.65M133.2 79.5h.65M135.2 79.5h.65M136.2 79.5h.65M138.2 79.5h.65M139.2 79.5h.65M142.2 79.5h.65M33.2 80.5h.65M34.2 80.5h.65M35.2 80.5h.65M84.2 80.5h.65M90.2 80.5h.65M92.2 80.5h.65M95.2 80.5h.65M103.2 80.5h.65M104.2 80.5h.65M105.2 80.5h.65M106.2 80.5h.65M107.2 80.5h.65M109.2 80.5h.65M113.2 80.5h.65M115.2 80.5h.65M126.2 80.5h.65M127.2 80.5h.65M131.2 80.5h.65M132.2 80.5h.65M134.2 80.5h.65M136.2 80.5h.65M137.2 80.5h.65M138.2 80.5h.65M144.2 80.5h.65M32.2 81.5h.65M33.2 81.5h.65M36.2 81.5h.65M37.2 81.5h.65M82.2 81.5h.65M89.2 81.5h.65M91.2 81.5h.65M97.2 81.5h.65M98.2 81.5h.65M99.2 81.5h.65M101.2 81.5h.65M102.2 81.5h.65M104.2 81.5h.65M106.2 81.5h.65M107.2 81.5h.65M108.2 81.5h.65M109.2 81.5h.65M113.2 81.5h.65M114.2 81.5h.65M127.2 81.5h.65M128.2 81.5h.65M130.2 81.5h.65M132.2 81.5h.65M133.2 81.5h.65M135.2 81.5h.65M136.2 81.5h.65M138.2 81.5h.65M142.2 81.5h.65M33.2 82.5h.65M34.2 82.5h.65M35.2 82.5h.65M36.2 82.5h.65M83.2 82.5h.65M96.2 82.5h.65M101.2 82.5h.65M103.2 82.5h.65M104.2 82.5h.65M105.2 82.5h.65M106.2 82.5h.65M107.2 82.5h.65M113.2 82.5h.65M114.2 82.5h.65M126.2 82.5h.65M128.2 82.5h.65M132.2 82.5h.65M134.2 82.5h.65M137.2 82.5h.65M138.2 82.5h.65M139.2 82.5h.65M140.2 82.5h.65M145.2 82.5h.65M34.2 83.5h.65M90.2 83.5h.65M96.2 83.5h.65M97.2 83.5h.65M99.2 83.5h.65M100.2 83.5h.65M101.2 83.5h.65M102.2 83.5h.65M103.2 83.5h.65M104.2 83.5h.65M105.2 83.5h.65M106.2 83.5h.65M107.2 83.5h.65M114.2 83.5h.65M128.2 83.5h.65M129.2 83.5h.65M131.2 83.5h.65M134.2 83.5h.65M135.2 83.5h.65M137.2 83.5h.65M138.2 83.5h.65M144.2 83.5h.65M145.2 83.5h.65M34.2 84.5h.65M35.2 84.5h.65M37.2 84.5h.65M90.2 84.5h.65M98.2 84.5h.65M99.2 84.5h.65M100.2 84.5h.65M102.2 84.5h.65M103.2 84.5h.65M104.2 84.5h.65M127.2 84.5h.65M128.2 84.5h.65M129.2 84.5h.65M130.2 84.5h.65M131.2 84.5h.65M132.2 84.5h.65M134.2 84.5h.65M135.2 84.5h.65M137.2 84.5h.65M138.2 84.5h.65M141.2 84.5h.65M142.2 84.5h.65M145.2 84.5h.65M33.2 85.5h.65M34.2 85.5h.65M87.2 85.5h.65M90.2 85.5h.65M92.2 85.5h.65M95.2 85.5h.65M96.2 85.5h.65M97.2 85.5h.65M98.2 85.5h.65M101.2 85.5h.65M103.2 85.5h.65M104.2 85.5h.65M106.2 85.5h.65M127.2 85.5h.65M128.2 85.5h.65M132.2 85.5h.65M133.2 85.5h.65M134.2 85.5h.65M136.2 85.5h.65M137.2 85.5h.65M138.2 85.5h.65M140.2 85.5h.65M142.2 85.5h.65M143.2 85.5h.65M144.2 85.5h.65M32.2 86.5h.65M33.2 86.5h.65M36.2 86.5h.65M75.2 86.5h.65M86.2 86.5h.65M98.2 86.5h.65M99.2 86.5h.65M100.2 86.5h.65M101.2 86.5h.65M102.2 86.5h.65M103.2 86.5h.65M106.2 86.5h.65M131.2 86.5h.65M132.2 86.5h.65M133.2 86.5h.65M134.2 86.5h.65M136.2 86.5h.65M138.2 86.5h.65M140.2 86.5h.65M142.2 86.5h.65M146.2 86.5h.65M34.2 87.5h.65M35.2 87.5h.65M36.2 87.5h.65M78.2 87.5h.65M85.2 87.5h.65M94.2 87.5h.65M96.2 87.5h.65M97.2 87.5h.65M98.2 87.5h.65M100.2 87.5h.65M102.2 87.5h.65M104.2 87.5h.65M134.2 87.5h.65M135.2 87.5h.65M136.2 87.5h.65M137.2 87.5h.65M139.2 87.5h.65M141.2 87.5h.65M144.2 87.5h.65M145.2 87.5h.65M33.2 88.5h.65M34.2 88.5h.65M35.2 88.5h.65M38.2 88.5h.65M72.2 88.5h.65M92.2 88.5h.65M95.2 88.5h.65M99.2 88.5h.65M100.2 88.5h.65M101.2 88.5h.65M102.2 88.5h.65M103.2 88.5h.65M132.2 88.5h.65M133.2 88.5h.65M134.2 88.5h.65M135.2 88.5h.65M136.2 88.5h.65M137.2 88.5h.65M138.2 88.5h.65M140.2 88.5h.65M143.2 88.5h.65M145.2 88.5h.65M34.2 89.5h.65M35.2 89.5h.65M37.2 89.5h.65M84.2 89.5h.65M90.2 89.5h.65M92.2 89.5h.65M93.2 89.5h.65M94.2 89.5h.65M95.2 89.5h.65M96.2 89.5h.65M99.2 89.5h.65M100.2 89.5h.65M102.2 89.5h.65M103.2 89.5h.65M132.2 89.5h.65M133.2 89.5h.65M135.2 89.5h.65M136.2 89.5h.65M138.2 89.5h.65M139.2 89.5h.65M34.2 90.5h.65M37.2 90.5h.65M82.2 90.5h.65M83.2 90.5h.65M88.2 90.5h.65M89.2 90.5h.65M91.2 90.5h.65M92.2 90.5h.65M96.2 90.5h.65M97.2 90.5h.65M98.2 90.5h.65M99.2 90.5h.65M100.2 90.5h.65M101.2 90.5h.65M130.2 90.5h.65M131.2 90.5h.65M132.2 90.5h.65M133.2 90.5h.65M134.2 90.5h.65M135.2 90.5h.65M136.2 90.5h.65M137.2 90.5h.65M138.2 90.5h.65M139.2 90.5h.65M140.2 90.5h.65M142.2 90.5h.65M143.2 90.5h.65M144.2 90.5h.65M145.2 90.5h.65M32.2 91.5h.65M34.2 91.5h.65M35.2 91.5h.65M72.2 91.5h.65M81.2 91.5h.65M91.2 91.5h.65M92.2 91.5h.65M93.2 91.5h.65M94.2 91.5h.65M96.2 91.5h.65M99.2 91.5h.65M100.2 91.5h.65M131.2 91.5h.65M132.2 91.5h.65M134.2 91.5h.65M135.2 91.5h.65M136.2 91.5h.65M139.2 91.5h.65M31.2 92.5h.65M34.2 92.5h.65M35.2 92.5h.65M37.2 92.5h.65M90.2 92.5h.65M91.2 92.5h.65M93.2 92.5h.65M94.2 92.5h.65M95.2 92.5h.65M97.2 92.5h.65M133.2 92.5h.65M134.2 92.5h.65M135.2 92.5h.65M136.2 92.5h.65M137.2 92.5h.65M141.2 92.5h.65M32.2 93.5h.65M34.2 93.5h.65M35.2 93.5h.65M36.2 93.5h.65M91.2 93.5h.65M95.2 93.5h.65M96.2 93.5h.65M131.2 93.5h.65M132.2 93.5h.65M133.2 93.5h.65M135.2 93.5h.65M136.2 93.5h.65M139.2 93.5h.65M142.2 93.5h.65M39.2 94.5h.65M77.2 94.5h.65M88.2 94.5h.65M89.2 94.5h.65M90.2 94.5h.65M91.2 94.5h.65M93.2 94.5h.65M95.2 94.5h.65M96.2 94.5h.65M133.2 94.5h.65M135.2 94.5h.65M136.2 94.5h.65M139.2 94.5h.65M144.2 94.5h.65M33.2 95.5h.65M78.2 95.5h.65M82.2 95.5h.65M83.2 95.5h.65M86.2 95.5h.65M90.2 95.5h.65M91.2 95.5h.65M93.2 95.5h.65M95.2 95.5h.65M96.2 95.5h.65M132.2 95.5h.65M133.2 95.5h.65M134.2 95.5h.65M137.2 95.5h.65M138.2 95.5h.65M139.2 95.5h.65M33.2 96.5h.65M78.2 96.5h.65M82.2 96.5h.65M84.2 96.5h.65M85.2 96.5h.65M86.2 96.5h.65M88.2 96.5h.65M89.2 96.5h.65M91.2 96.5h.65M133.2 96.5h.65M134.2 96.5h.65M135.2 96.5h.65M136.2 96.5h.65M137.2 96.5h.65M139.2 96.5h.65M141.2 96.5h.65M143.2 96.5h.65M31.2 97.5h.65M35.2 97.5h.65M86.2 97.5h.65M89.2 97.5h.65M90.2 97.5h.65M91.2 97.5h.65M134.2 97.5h.65M135.2 97.5h.65M136.2 97.5h.65M137.2 97.5h.65M138.2 97.5h.65M32.2 98.5h.65M36.2 98.5h.65M81.2 98.5h.65M82.2 98.5h.65M83.2 98.5h.65M84.2 98.5h.65M86.2 98.5h.65M88.2 98.5h.65M89.2 98.5h.65M90.2 98.5h.65M134.2 98.5h.65M136.2 98.5h.65M137.2 98.5h.65M138.2 98.5h.65M140.2 98.5h.65M68.2 99.5h.65M80.2 99.5h.65M84.2 99.5h.65M85.2 99.5h.65M86.2 99.5h.65M133.2 99.5h.65M134.2 99.5h.65M136.2 99.5h.65M138.2 99.5h.65M139.2 99.5h.65M73.2 100.5h.65M79.2 100.5h.65M80.2 100.5h.65M82.2 100.5h.65M83.2 100.5h.65M84.2 100.5h.65M85.2 100.5h.65M131.2 100.5h.65M132.2 100.5h.65M135.2 100.5h.65M136.2 100.5h.65M137.2 100.5h.65M140.2 100.5h.65M32.2 101.5h.65M37.2 101.5h.65M69.2 101.5h.65M79.2 101.5h.65M80.2 101.5h.65M84.2 101.5h.65M85.2 101.5h.65M130.2 101.5h.65M133.2 101.5h.65M134.2 101.5h.65M139.2 101.5h.65M76.2 102.5h.65M77.2 102.5h.65M78.2 102.5h.65M79.2 102.5h.65M82.2 102.5h.65M84.2 102.5h.65M85.2 102.5h.65M128.2 102.5h.65M129.2 102.5h.65M130.2 102.5h.65M136.2 102.5h.65M138.2 102.5h.65M34.2 103.5h.65M35.2 103.5h.65M37.2 103.5h.65M69.2 103.5h.65M79.2 103.5h.65M81.2 103.5h.65M82.2 103.5h.65M83.2 103.5h.65M84.2 103.5h.65M127.2 103.5h.65M128.2 103.5h.65M129.2 103.5h.65M131.2 103.5h.65M133.2 103.5h.65M134.2 103.5h.65M137.2 103.5h.65M139.2 103.5h.65M34.2 104.5h.65M35.2 104.5h.65M38.2 104.5h.65M77.2 104.5h.65M81.2 104.5h.65M82.2 104.5h.65M83.2 104.5h.65M127.2 104.5h.65M129.2 104.5h.65M130.2 104.5h.65M131.2 104.5h.65M133.2 104.5h.65M135.2 104.5h.65M137.2 104.5h.65M33.2 105.5h.65M70.2 105.5h.65M71.2 105.5h.65M74.2 105.5h.65M75.2 105.5h.65M76.2 105.5h.65M79.2 105.5h.65M81.2 105.5h.65M83.2 105.5h.65M84.2 105.5h.65M126.2 105.5h.65M127.2 105.5h.65M128.2 105.5h.65M134.2 105.5h.65M137.2 105.5h.65M30.2 106.5h.65M32.2 106.5h.65M33.2 106.5h.65M35.2 106.5h.65M49.2 106.5h.65M63.2 106.5h.65M65.2 106.5h.65M67.2 106.5h.65M68.2 106.5h.65M75.2 106.5h.65M78.2 106.5h.65M79.2 106.5h.65M80.2 106.5h.65M81.2 106.5h.65M82.2 106.5h.65M83.2 106.5h.65M85.2 106.5h.65M125.2 106.5h.65M126.2 106.5h.65M127.2 106.5h.65M128.2 106.5h.65M135.2 106.5h.65M138.2 106.5h.65M16.2 107.5h.65M28.2 107.5h.65M37.2 107.5h.65M40.2 107.5h.65M44.2 107.5h.65M47.2 107.5h.65M48.2 107.5h.65M52.2 107.5h.65M53.2 107.5h.65M54.2 107.5h.65M56.2 107.5h.65M61.2 107.5h.65M64.2 107.5h.65M66.2 107.5h.65M71.2 107.5h.65M72.2 107.5h.65M73.2 107.5h.65M74.2 107.5h.65M75.2 107.5h.65M77.2 107.5h.65M78.2 107.5h.65M80.2 107.5h.65M81.2 107.5h.65M82.2 107.5h.65M120.2 107.5h.65M122.2 107.5h.65M123.2 107.5h.65M124.2 107.5h.65M126.2 107.5h.65M127.2 107.5h.65M128.2 107.5h.65M133.2 107.5h.65M139.2 107.5h.65M21.2 108.5h.65M25.2 108.5h.65M26.2 108.5h.65M33.2 108.5h.65M34.2 108.5h.65M35.2 108.5h.65M36.2 108.5h.65M38.2 108.5h.65M39.2 108.5h.65M40.2 108.5h.65M41.2 108.5h.65M42.2 108.5h.65M43.2 108.5h.65M44.2 108.5h.65M45.2 108.5h.65M46.2 108.5h.65M47.2 108.5h.65M48.2 108.5h.65M49.2 108.5h.65M50.2 108.5h.65M51.2 108.5h.65M53.2 108.5h.65M59.2 108.5h.65M60.2 108.5h.65M64.2 108.5h.65M72.2 108.5h.65M73.2 108.5h.65M75.2 108.5h.65M76.2 108.5h.65M77.2 108.5h.65M82.2 108.5h.65M119.2 108.5h.65M121.2 108.5h.65M122.2 108.5h.65M123.2 108.5h.65M125.2 108.5h.65M126.2 108.5h.65M128.2 108.5h.65M10.2 109.5h.65M13.2 109.5h.65M17.2 109.5h.65M20.2 109.5h.65M22.2 109.5h.65M23.2 109.5h.65M24.2 109.5h.65M26.2 109.5h.65M28.2 109.5h.65M29.2 109.5h.65M30.2 109.5h.65M31.2 109.5h.65M32.2 109.5h.65M33.2 109.5h.65M34.2 109.5h.65M35.2 109.5h.65M38.2 109.5h.65M40.2 109.5h.65M78.2 109.5h.65M117.2 109.5h.65M118.2 109.5h.65M119.2 109.5h.65M120.2 109.5h.65M121.2 109.5h.65M123.2 109.5h.65M124.2 109.5h.65M125.2 109.5h.65M129.2 109.5h.65M5.2 110.5h.65M8.2 110.5h.65M11.2 110.5h.65M20.2 110.5h.65M24.2 110.5h.65M27.2 110.5h.65M29.2 110.5h.65M31.2 110.5h.65M32.2 110.5h.65M33.2 110.5h.65M34.2 110.5h.65M35.2 110.5h.65M36.2 110.5h.65M37.2 110.5h.65M38.2 110.5h.65M39.2 110.5h.65M40.2 110.5h.65M116.2 110.5h.65M120.2 110.5h.65M122.2 110.5h.65M126.2 110.5h.65M128.2 110.5h.65M5.2 111.5h.65M21.2 111.5h.65M22.2 111.5h.65M23.2 111.5h.65M24.2 111.5h.65M26.2 111.5h.65M27.2 111.5h.65M29.2 111.5h.65M33.2 111.5h.65M34.2 111.5h.65M35.2 111.5h.65M36.2 111.5h.65M38.2 111.5h.65M39.2 111.5h.65M115.2 111.5h.65M116.2 111.5h.65M117.2 111.5h.65M119.2 111.5h.65M120.2 111.5h.65M122.2 111.5h.65M128.2 111.5h.65M136.2 111.5h.65M138.2 111.5h.65M14.2 112.5h.65M26.2 112.5h.65M27.2 112.5h.65M28.2 112.5h.65M29.2 112.5h.65M30.2 112.5h.65M31.2 112.5h.65M32.2 112.5h.65M35.2 112.5h.65M36.2 112.5h.65M37.2 112.5h.65M39.2 112.5h.65M40.2 112.5h.65M41.2 112.5h.65M113.2 112.5h.65M114.2 112.5h.65M115.2 112.5h.65M116.2 112.5h.65M117.2 112.5h.65M121.2 112.5h.65M123.2 112.5h.65M11.2 113.5h.65M21.2 113.5h.65M22.2 113.5h.65M28.2 113.5h.65M29.2 113.5h.65M31.2 113.5h.65M35.2 113.5h.65M37.2 113.5h.65M38.2 113.5h.65M39.2 113.5h.65M40.2 113.5h.65M43.2 113.5h.65M44.2 113.5h.65M52.2 113.5h.65M57.2 113.5h.65M73.2 113.5h.65M74.2 113.5h.65M78.2 113.5h.65M79.2 113.5h.65M84.2 113.5h.65M87.2 113.5h.65M110.2 113.5h.65M112.2 113.5h.65M115.2 113.5h.65M13.2 114.5h.65M31.2 114.5h.65M32.2 114.5h.65M33.2 114.5h.65M42.2 114.5h.65M46.2 114.5h.65M49.2 114.5h.65M50.2 114.5h.65M53.2 114.5h.65M55.2 114.5h.65M56.2 114.5h.65M57.2 114.5h.65M58.2 114.5h.65M59.2 114.5h.65M60.2 114.5h.65M61.2 114.5h.65M63.2 114.5h.65M65.2 114.5h.65M68.2 114.5h.65M71.2 114.5h.65M72.2 114.5h.65M74.2 114.5h.65M75.2 114.5h.65M76.2 114.5h.65M78.2 114.5h.65M80.2 114.5h.65M81.2 114.5h.65M83.2 114.5h.65M84.2 114.5h.65M86.2 114.5h.65M88.2 114.5h.65M89.2 114.5h.65M91.2 114.5h.65M92.2 114.5h.65M107.2 114.5h.65M108.2 114.5h.65M110.2 114.5h.65M112.2 114.5h.65M113.2 114.5h.65M119.2 114.5h.65M19.2 115.5h.65M44.2 115.5h.65M47.2 115.5h.65M58.2 115.5h.65M59.2 115.5h.65M62.2 115.5h.65M66.2 115.5h.65M69.2 115.5h.65M71.2 115.5h.65M77.2 115.5h.65M80.2 115.5h.65M85.2 115.5h.65M86.2 115.5h.65M90.2 115.5h.65M91.2 115.5h.65M92.2 115.5h.65M93.2 115.5h.65M94.2 115.5h.65M95.2 115.5h.65M96.2 115.5h.65M97.2 115.5h.65M101.2 115.5h.65M103.2 115.5h.65M104.2 115.5h.65M106.2 115.5h.65M109.2 115.5h.65M113.2 115.5h.65M116.2 115.5h.65M119.2 115.5h.65M49.2 116.5h.65M53.2 116.5h.65M65.2 116.5h.65M82.2 116.5h.65M88.2 116.5h.65M89.2 116.5h.65M90.2 116.5h.65M93.2 116.5h.65M99.2 116.5h.65M103.2 116.5h.65M104.2 116.5h.65M107.2 116.5h.65M109.2 116.5h.65M120.2 116.5h.65M82.2 117.5h.65M90.2 117.5h.65M96.2 117.5h.65M98.2 117.5h.65M102.2 117.5h.65M103.2 117.5h.65M112.2 117.5h.65M34.2 118.5h.65M81.2 118.5h.65M85.2 118.5h.65M87.2 118.5h.65M93.2 118.5h.65M96.2 118.5h.65M102.2 118.5h.65M114.2 118.5h.65M68.2 119.5h.65M88.2 119.5h.65M90.2 119.5h.65M92.2 119.5h.65M101.2 119.5h.65M76.2 120.5h.65M93.2 120.5h.65M94.2 120.5h.65M74.2 121.5h.65M78.2 121.5h.65M79.2 121.5h.65"/><path stroke="#0050ff" stroke-width="0.65" d="M122.2 77.5h.65M125.2 77.5h.65M120.2 78.5h.65M116.2 79.5h.65M117.2 79.5h.65M119.2 79.5h.65M111.2 80.5h.65M119.2 80.5h.65M129.2 80.5h.65M130.2 80.5h.65M115.2 81.5h.65M125.2 81.5h.65M126.2 81.5h.65M129.2 81.5h.65M109.2 82.5h.65M115.2 82.5h.65M129.2 82.5h.65M115.2 83.5h.65M127.2 83.5h.65M105.2 84.5h.65M114.2 84.5h.65M131.2 85.5h.65M104.2 86.5h.65M105.2 86.5h.65M101.2 87.5h.65M131.2 87.5h.65M133.2 87.5h.65M131.2 88.5h.65M94.2 90.5h.65M102.2 90.5h.65M95.2 91.5h.65M98.2 91.5h.65M130.2 91.5h.65M100.2 92.5h.65M130.2 92.5h.65M131.2 92.5h.65M92.2 93.5h.65M97.2 93.5h.65M92.2 94.5h.65M131.2 94.5h.65M94.2 95.5h.65M90.2 96.5h.65M92.2 96.5h.65M132.2 96.5h.65M133.2 97.5h.65M133.2 98.5h.65M131.2 99.5h.65M132.2 99.5h.65M130.2 100.5h.65M86.2 101.5h.65M84.2 104.5h.65M85.2 104.5h.65M84.2 107.5h.65M54.2 108.5h.65M58.2 108.5h.65M61.2 108.5h.65M62.2 108.5h.65M74.2 108.5h.65M79.2 108.5h.65M80.2 108.5h.65M83.2 108.5h.65M77.2 109.5h.65M37.2 111.5h.65M48.2 113.5h.65M51.2 113.5h.65M53.2 113.5h.65M58.2 113.5h.65M66.2 113.5h.65M85.2 113.5h.65M86.2 113.5h.65M108.2 113.5h.65M62.2 114.5h.65M106.2 114.5h.65M102.2 115.5h.65"/></g>
<rect x="1759.7" y="1936.6" width="297" height="294.1" fill="none" stroke="#6a6a6a" stroke-width="1.3"/>
<line x1="1885" y1="1936.6" x2="1885" y2="2230.7" stroke="#000" stroke-width="2.2"/>
<line x1="1759.7" y1="2120.5" x2="2056.7" y2="2120.5" stroke="#000" stroke-width="2.2"/>
<rect x="1760.2" y="1939.8" width="121.9" height="177.2" fill="none" stroke="#3f9498" stroke-width="4" stroke-dasharray="15 10"/>
<rect x="1945.5" y="1939.8" width="109.8" height="177.2" fill="none" stroke="#b28fd6" stroke-width="4" stroke-dasharray="15 10"/>
<rect x="1945.5" y="2119.8" width="109.8" height="108" fill="none" stroke="#ee8a3c" stroke-width="4" stroke-dasharray="15 10"/>
<text x="1817.6" y="1964.5" font-size="19.7" text-anchor="middle" fill="#3f9498">OnF</text>
<text x="1817.6" y="1988.3" font-size="19.7" text-anchor="middle" fill="#3f9498">0.54%</text>
<text x="2012.7" y="1964.5" font-size="19.7" text-anchor="middle" fill="#b28fd6">Dual</text>
<text x="2012.7" y="1988.3" font-size="19.7" text-anchor="middle" fill="#b28fd6">5.38%</text>
<text x="2013.6" y="2177.2" font-size="19.7" text-anchor="middle" fill="#ee8a3c">Stem</text>
<text x="2013.6" y="2201.5" font-size="19.7" text-anchor="middle" fill="#ee8a3c">86.1%</text>
<line x1="1751.7" y1="1964" x2="1759.7" y2="1964" stroke="#000" stroke-width="2"/>
<line x1="1751.7" y1="2035.2" x2="1759.7" y2="2035.2" stroke="#000" stroke-width="2"/>
<line x1="1751.7" y1="2114.8" x2="1759.7" y2="2114.8" stroke="#000" stroke-width="2"/>
<line x1="1751.7" y1="2165.3" x2="1759.7" y2="2165.3" stroke="#000" stroke-width="2"/>
<line x1="1751.7" y1="2212" x2="1759.7" y2="2212" stroke="#000" stroke-width="2"/>
<line x1="1755.2" y1="2090.8" x2="1759.7" y2="2090.8" stroke="#000" stroke-width="1.2"/>
<line x1="1755.2" y1="2013.8" x2="1759.7" y2="2013.8" stroke="#000" stroke-width="1.2"/>
<line x1="1755.2" y1="2076.8" x2="1759.7" y2="2076.8" stroke="#000" stroke-width="1.2"/>
<line x1="1755.2" y1="2001.2" x2="1759.7" y2="2001.2" stroke="#000" stroke-width="1.2"/>
<line x1="1755.2" y1="2066.9" x2="1759.7" y2="2066.9" stroke="#000" stroke-width="1.2"/>
<line x1="1755.2" y1="1992.3" x2="1759.7" y2="1992.3" stroke="#000" stroke-width="1.2"/>
<line x1="1755.2" y1="2059.2" x2="1759.7" y2="2059.2" stroke="#000" stroke-width="1.2"/>
<line x1="1755.2" y1="1985.4" x2="1759.7" y2="1985.4" stroke="#000" stroke-width="1.2"/>
<line x1="1755.2" y1="2052.9" x2="1759.7" y2="2052.9" stroke="#000" stroke-width="1.2"/>
<line x1="1755.2" y1="1979.8" x2="1759.7" y2="1979.8" stroke="#000" stroke-width="1.2"/>
<line x1="1755.2" y1="2047.5" x2="1759.7" y2="2047.5" stroke="#000" stroke-width="1.2"/>
<line x1="1755.2" y1="1975" x2="1759.7" y2="1975" stroke="#000" stroke-width="1.2"/>
<line x1="1755.2" y1="2042.9" x2="1759.7" y2="2042.9" stroke="#000" stroke-width="1.2"/>
<line x1="1755.2" y1="1970.9" x2="1759.7" y2="1970.9" stroke="#000" stroke-width="1.2"/>
<line x1="1755.2" y1="2038.8" x2="1759.7" y2="2038.8" stroke="#000" stroke-width="1.2"/>
<line x1="1755.2" y1="1967.3" x2="1759.7" y2="1967.3" stroke="#000" stroke-width="1.2"/>
<line x1="1755.2" y1="2150.9" x2="1759.7" y2="2150.9" stroke="#000" stroke-width="1.2"/>
<line x1="1755.2" y1="2178.7" x2="1759.7" y2="2178.7" stroke="#000" stroke-width="1.2"/>
<line x1="1755.2" y1="2142.4" x2="1759.7" y2="2142.4" stroke="#000" stroke-width="1.2"/>
<line x1="1755.2" y1="2186.5" x2="1759.7" y2="2186.5" stroke="#000" stroke-width="1.2"/>
<line x1="1755.2" y1="2136.4" x2="1759.7" y2="2136.4" stroke="#000" stroke-width="1.2"/>
<line x1="1755.2" y1="2192" x2="1759.7" y2="2192" stroke="#000" stroke-width="1.2"/>
<line x1="1755.2" y1="2131.8" x2="1759.7" y2="2131.8" stroke="#000" stroke-width="1.2"/>
<line x1="1755.2" y1="2196.3" x2="1759.7" y2="2196.3" stroke="#000" stroke-width="1.2"/>
<line x1="1755.2" y1="2128" x2="1759.7" y2="2128" stroke="#000" stroke-width="1.2"/>
<line x1="1755.2" y1="2199.8" x2="1759.7" y2="2199.8" stroke="#000" stroke-width="1.2"/>
<line x1="1755.2" y1="2124.8" x2="1759.7" y2="2124.8" stroke="#000" stroke-width="1.2"/>
<line x1="1755.2" y1="2202.8" x2="1759.7" y2="2202.8" stroke="#000" stroke-width="1.2"/>
<line x1="1755.2" y1="2122" x2="1759.7" y2="2122" stroke="#000" stroke-width="1.2"/>
<line x1="1755.2" y1="2205.4" x2="1759.7" y2="2205.4" stroke="#000" stroke-width="1.2"/>
<line x1="1755.2" y1="2119.5" x2="1759.7" y2="2119.5" stroke="#000" stroke-width="1.2"/>
<line x1="1755.2" y1="2207.6" x2="1759.7" y2="2207.6" stroke="#000" stroke-width="1.2"/>
<line x1="1755.2" y1="2117.3" x2="1759.7" y2="2117.3" stroke="#000" stroke-width="1.2"/>
<line x1="1755.2" y1="2209.7" x2="1759.7" y2="2209.7" stroke="#000" stroke-width="1.2"/>
<rect x="1752.7" y="2160.3" width="7" height="10" fill="#000"/>
<line x1="1778.1" y1="2230.7" x2="1778.1" y2="2238.7" stroke="#000" stroke-width="2"/>
<line x1="1830.1" y1="2230.7" x2="1830.1" y2="2238.7" stroke="#000" stroke-width="2"/>
<line x1="1876.1" y1="2230.7" x2="1876.1" y2="2238.7" stroke="#000" stroke-width="2"/>
<line x1="1957.2" y1="2230.7" x2="1957.2" y2="2238.7" stroke="#000" stroke-width="2"/>
<line x1="2027.6" y1="2230.7" x2="2027.6" y2="2238.7" stroke="#000" stroke-width="2"/>
<line x1="1900.5" y1="2230.7" x2="1900.5" y2="2235.2" stroke="#000" stroke-width="1.2"/>
<line x1="1978.4" y1="2230.7" x2="1978.4" y2="2235.2" stroke="#000" stroke-width="1.2"/>
<line x1="2048.8" y1="2230.7" x2="2048.8" y2="2235.2" stroke="#000" stroke-width="1.2"/>
<line x1="1914.8" y1="2230.7" x2="1914.8" y2="2235.2" stroke="#000" stroke-width="1.2"/>
<line x1="1990.8" y1="2230.7" x2="1990.8" y2="2235.2" stroke="#000" stroke-width="1.2"/>
<line x1="1924.9" y1="2230.7" x2="1924.9" y2="2235.2" stroke="#000" stroke-width="1.2"/>
<line x1="1999.6" y1="2230.7" x2="1999.6" y2="2235.2" stroke="#000" stroke-width="1.2"/>
<line x1="1932.8" y1="2230.7" x2="1932.8" y2="2235.2" stroke="#000" stroke-width="1.2"/>
<line x1="2006.4" y1="2230.7" x2="2006.4" y2="2235.2" stroke="#000" stroke-width="1.2"/>
<line x1="1939.2" y1="2230.7" x2="1939.2" y2="2235.2" stroke="#000" stroke-width="1.2"/>
<line x1="2012" y1="2230.7" x2="2012" y2="2235.2" stroke="#000" stroke-width="1.2"/>
<line x1="1944.6" y1="2230.7" x2="1944.6" y2="2235.2" stroke="#000" stroke-width="1.2"/>
<line x1="2016.7" y1="2230.7" x2="2016.7" y2="2235.2" stroke="#000" stroke-width="1.2"/>
<line x1="1949.3" y1="2230.7" x2="1949.3" y2="2235.2" stroke="#000" stroke-width="1.2"/>
<line x1="2020.8" y1="2230.7" x2="2020.8" y2="2235.2" stroke="#000" stroke-width="1.2"/>
<line x1="1953.5" y1="2230.7" x2="1953.5" y2="2235.2" stroke="#000" stroke-width="1.2"/>
<line x1="2024.4" y1="2230.7" x2="2024.4" y2="2235.2" stroke="#000" stroke-width="1.2"/>
<line x1="1843.3" y1="2230.7" x2="1843.3" y2="2235.2" stroke="#000" stroke-width="1.2"/>
<line x1="1815.2" y1="2230.7" x2="1815.2" y2="2235.2" stroke="#000" stroke-width="1.2"/>
<line x1="1851" y1="2230.7" x2="1851" y2="2235.2" stroke="#000" stroke-width="1.2"/>
<line x1="1806.5" y1="2230.7" x2="1806.5" y2="2235.2" stroke="#000" stroke-width="1.2"/>
<line x1="1856.4" y1="2230.7" x2="1856.4" y2="2235.2" stroke="#000" stroke-width="1.2"/>
<line x1="1800.4" y1="2230.7" x2="1800.4" y2="2235.2" stroke="#000" stroke-width="1.2"/>
<line x1="1860.6" y1="2230.7" x2="1860.6" y2="2235.2" stroke="#000" stroke-width="1.2"/>
<line x1="1795.6" y1="2230.7" x2="1795.6" y2="2235.2" stroke="#000" stroke-width="1.2"/>
<line x1="1864.1" y1="2230.7" x2="1864.1" y2="2235.2" stroke="#000" stroke-width="1.2"/>
<line x1="1791.7" y1="2230.7" x2="1791.7" y2="2235.2" stroke="#000" stroke-width="1.2"/>
<line x1="1867" y1="2230.7" x2="1867" y2="2235.2" stroke="#000" stroke-width="1.2"/>
<line x1="1788.4" y1="2230.7" x2="1788.4" y2="2235.2" stroke="#000" stroke-width="1.2"/>
<line x1="1869.6" y1="2230.7" x2="1869.6" y2="2235.2" stroke="#000" stroke-width="1.2"/>
<line x1="1785.5" y1="2230.7" x2="1785.5" y2="2235.2" stroke="#000" stroke-width="1.2"/>
<line x1="1871.8" y1="2230.7" x2="1871.8" y2="2235.2" stroke="#000" stroke-width="1.2"/>
<line x1="1783" y1="2230.7" x2="1783" y2="2235.2" stroke="#000" stroke-width="1.2"/>
<line x1="1873.8" y1="2230.7" x2="1873.8" y2="2235.2" stroke="#000" stroke-width="1.2"/>
<line x1="1780.7" y1="2230.7" x2="1780.7" y2="2235.2" stroke="#000" stroke-width="1.2"/>
<rect x="1824.1" y="2230.7" width="12" height="6" fill="#000"/>
<text x="1730.7" y="1975.5" font-size="15.5" text-anchor="end">10</text>
<text x="1734.7" y="1964.5" font-size="15.5">5</text>
<text x="1730.7" y="2046.7" font-size="15.5" text-anchor="end">10</text>
<text x="1734.7" y="2035.7" font-size="15.5">4</text>
<text x="1730.7" y="2126.3" font-size="15.5" text-anchor="end">10</text>
<text x="1734.7" y="2115.3" font-size="15.5">3</text>
<text x="1733.7" y="2170.3" font-size="15.5" text-anchor="end">0</text>
<text x="1730.7" y="2222" font-size="15.5" text-anchor="end">-10</text>
<text x="1734.7" y="2211.5" font-size="15.5">3</text>
<text x="1779.1" y="2263.9" font-size="15.5" text-anchor="middle">-10</text>
<text x="1797.1" y="2252.9" font-size="15.5">3</text>
<text x="1830.1" y="2263.9" font-size="15.5" text-anchor="middle">0</text>
<text x="1880.1" y="2263.9" font-size="15.5" text-anchor="middle">10</text>
<text x="1893.1" y="2252.9" font-size="15.5">3</text>
<text x="1961.2" y="2263.9" font-size="15.5" text-anchor="middle">10</text>
<text x="1974.2" y="2252.9" font-size="15.5">4</text>
<text x="2031.6" y="2263.9" font-size="15.5" text-anchor="middle">10</text>
<text x="2044.6" y="2252.9" font-size="15.5">5</text>
<text x="1706.9" y="2070.8" font-size="20" text-anchor="middle" transform="rotate(-90 1706.9 2070.8)">FITC-A (GFP)</text>
<g transform="translate(851.7 2309.3) scale(2)" stroke-width="1" fill="none"><path stroke="#0050ff" d="M43 24.5h3M43 25.5h3M43 26.5h3M43 27.5h4M41 28.5h7M42 29.5h6M39 30.5h4m1 0h4M38 31.5h4m1 0h1m2 0h1m1 0h1M38 32.5h2m1 0h1m5 0h2M38 33.5h2m7 0h2M38 34.5h2m7 0h2M37 35.5h2m8 0h3M38 36.5h1m8 0h3M36 37.5h2m8 0h4M36 38.5h2m10 0h2M36 39.5h2m9 0h3M37 40.5h2m8 0h2M35 41.5h2m11 0h1M35 42.5h2m11 0h2M35 43.5h1m12 0h2M35 44.5h1m11 0h2M35 45.5h1m11 0h2M35 46.5h1m11 0h1M35 47.5h1m10 0h2M34 48.5h1m11 0h2M34 49.5h1m11 0h1m1 0h1M34 50.5h1m10 0h4M34 51.5h1m11 0h3M34 52.5h1m10 0h3M34 53.5h1m10 0h3M33 54.5h2m10 0h3M33 55.5h2m9 0h2M33 56.5h2m9 0h3M33 57.5h1m10 0h2M33 58.5h1m10 0h2M44 59.5h2M32 60.5h2m10 0h3M32 61.5h2m10 0h3M32 62.5h2m10 0h3M33 63.5h1m10 0h3M33 64.5h1m10 0h3M32 65.5h2m9 0h4M32 66.5h2m10 0h2M44 67.5h2M32 68.5h1m10 0h3M32 69.5h1m10 0h2M33 70.5h1m9 0h3M32 71.5h1m9 0h4M32 72.5h1m9 0h3M31 73.5h2m1 0h1m8 0h1M31 74.5h2m10 0h2M31 75.5h2m10 0h2M31 76.5h2m9 0h2M31 77.5h1m9 0h2M31 78.5h2m9 0h3M31 79.5h1m10 0h2M31 80.5h1m10 0h1M30 81.5h2m9 0h2M30 82.5h2m8 0h2M30 83.5h2m9 0h2M30 84.5h2m7 0h4M30 85.5h2m8 0h2M30 86.5h2m8 0h3M30 87.5h1m9 0h2M30 88.5h1m8 0h3M30 89.5h2m7 0h2M30 90.5h1m8 0h2M30 91.5h1m8 0h1M30 92.5h1m8 0h2M30 93.5h1m8 0h2M30 94.5h2m8 0h1M29 95.5h2m8 0h1M29 96.5h4m5 0h2M30 97.5h1m7 0h2M30 98.5h2m6 0h3M30 99.5h2m6 0h2M30 100.5h2m6 0h2M30 101.5h3m5 0h2M30 102.5h3m4 0h3M31 103.5h3m3 0h3M31 104.5h4m2 0h2M32 105.5h1m3 0h2M32 106.5h3m1 0h2M32 107.5h3m1 0h2M33 108.5h1"/><path stroke="#1010f0" d="M46 26.5h1M40 29.5h1M47 49.5h1M46 55.5h1M45 69.5h1M45 72.5h1M29 89.5h1M40 95.5h1M38 105.5h1"/><path stroke="#00a0ff" d="M43 30.5h1M42 31.5h1m1 0h2m1 0h1M40 32.5h1m1 0h5M40 33.5h7M40 34.5h2m2 0h3M39 35.5h2m4 0h2M40 36.5h1m4 0h2M38 37.5h2m5 0h1M38 38.5h1m6 0h3M38 39.5h1m4 0h1m1 0h2M37 41.5h2m6 0h3M37 42.5h1m7 0h3M36 43.5h1m8 0h3M36 44.5h1m7 0h3M36 45.5h1m8 0h2M36 46.5h1M36 47.5h1m8 0h1M35 48.5h2m7 0h2M35 49.5h1m8 0h2M35 50.5h1m8 0h1M35 51.5h1m8 0h2M35 52.5h1m7 0h1M35 53.5h1m8 0h1M35 54.5h1m8 0h1M43 55.5h1M35 56.5h1m7 0h1M34 57.5h1m8 0h1M34 58.5h1m8 0h1M34 59.5h1m8 0h1M34 60.5h1m8 0h1M34 61.5h1m8 0h1M34 62.5h1m8 0h1M34 63.5h1m7 0h2M34 64.5h1m8 0h1M34 65.5h1M34 66.5h1m7 0h2M33 67.5h1m8 0h2M33 68.5h2m7 0h1M33 69.5h1m7 0h2M34 70.5h2m5 0h2M33 71.5h1m7 0h1M33 72.5h2m6 0h1M33 73.5h1m7 0h2M33 74.5h2m4 0h4M33 75.5h2m4 0h4M33 76.5h1m1 0h1m4 0h2M32 77.5h3m4 0h2M33 78.5h1m6 0h2M32 79.5h2m5 0h3M32 80.5h3m4 0h3M32 81.5h2m5 0h2M32 82.5h4m3 0h1M32 83.5h3m2 0h4M32 84.5h1m5 0h1M32 85.5h2m3 0h1m1 0h1M32 86.5h1m5 0h2M31 87.5h2m5 0h2M31 88.5h2m5 0h1M32 89.5h1m5 0h1M31 90.5h1M31 91.5h1M31 92.5h2m5 0h1M31 93.5h2m5 0h1M32 94.5h1m5 0h2M31 95.5h2m1 0h1m2 0h2M37 96.5h1M31 97.5h2m3 0h2M32 98.5h1m4 0h1M32 99.5h2m1 0h3M32 100.5h6M33 101.5h5M33 102.5h4M34 103.5h3M35 104.5h2M33 105.5h3M35 106.5h1"/><path stroke="#00e0f0" d="M42 34.5h2M41 35.5h4M39 36.5h1m1 0h2M40 37.5h1m2 0h2M39 38.5h2m1 0h3M39 39.5h4m1 0h1M39 40.5h1m2 0h5M41 41.5h1m1 0h2M38 42.5h2m3 0h2M37 43.5h1M37 44.5h1m5 0h1M38 45.5h1M37 46.5h1m7 0h1M44 47.5h1M36 49.5h1m6 0h1M36 50.5h1M36 51.5h1m6 0h1M44 52.5h1M36 53.5h1m6 0h1M43 54.5h1M35 55.5h1M35 57.5h1M35 58.5h1M35 59.5h1m6 0h1M35 60.5h1m5 0h2M42 61.5h1M41 62.5h2M36 63.5h1M36 64.5h1m2 0h1m2 0h1M36 65.5h1m5 0h1M35 66.5h1m2 0h1m2 0h1M34 67.5h1m1 0h1m4 0h1M35 68.5h1m3 0h1m1 0h1M34 69.5h3m1 0h1M38 70.5h1M34 71.5h3m2 0h2M35 72.5h1m2 0h3M35 73.5h2m3 0h1M35 74.5h1m1 0h2M35 75.5h1m1 0h2M34 76.5h1m1 0h4M35 77.5h4M34 78.5h2m3 0h1M34 79.5h2m1 0h2M35 80.5h2m1 0h1M34 81.5h2m2 0h1M37 82.5h2M35 83.5h2M33 84.5h5M34 85.5h3m1 0h1M33 86.5h2m1 0h2M33 87.5h3M33 88.5h1m2 0h1M33 89.5h2m2 0h1M32 90.5h3m1 0h3M32 91.5h4m1 0h2M33 92.5h5M33 93.5h4M33 94.5h1m1 0h3M33 95.5h1m1 0h2M33 96.5h4M33 97.5h2M33 98.5h4M34 99.5h1"/><path stroke="#20f0a0" d="M43 36.5h2M41 37.5h2M41 38.5h1M39 41.5h2M42 42.5h1M38 43.5h1m3 0h3M37 45.5h1m5 0h2M38 46.5h1m4 0h2M37 47.5h2m4 0h1M37 49.5h1M43 50.5h1M36 52.5h1M42 53.5h1M36 54.5h1m5 0h1M36 55.5h1m5 0h1M36 56.5h1m5 0h1M42 57.5h1M42 58.5h1M35 61.5h2m4 0h1M35 62.5h1M35 63.5h1m2 0h1m2 0h1M35 64.5h1m5 0h1M35 65.5h1m3 0h1m1 0h1M37 66.5h1m1 0h1M35 67.5h1m3 0h2M36 68.5h3m1 0h1M37 69.5h1m1 0h2M36 70.5h2m1 0h2M37 71.5h2M36 72.5h1M38 73.5h2M36 75.5h1M36 78.5h1m1 0h1M36 81.5h2M36 82.5h1M35 86.5h1M36 87.5h2M34 88.5h2m1 0h1M35 89.5h2M36 91.5h1M37 93.5h1M34 94.5h1M35 97.5h1"/><path stroke="#40e040" d="M40 40.5h2M42 41.5h1M40 42.5h1M40 43.5h1M42 44.5h1M40 46.5h1M37 48.5h1m5 0h1M42 49.5h1M37 50.5h1m4 0h1M37 51.5h1m4 0h1M37 52.5h1M41 53.5h1M37 54.5h1M37 56.5h1M36 57.5h1m4 0h1M36 58.5h1m4 0h1M36 59.5h1M37 61.5h1M37 64.5h2m1 0h1M37 65.5h2m1 0h1M36 66.5h1m3 0h1M37 67.5h2M37 72.5h1M37 73.5h1M36 74.5h1M37 78.5h1M36 79.5h1M37 80.5h1M35 90.5h1"/><path stroke="#a0f020" d="M41 42.5h1M39 43.5h1m1 0h1M38 44.5h2m1 0h1M41 45.5h2M39 46.5h1M38 48.5h1M38 50.5h1M38 51.5h1M40 52.5h1m1 0h1M37 53.5h1M38 54.5h1M37 55.5h1m1 0h1M40 57.5h1M40 58.5h1M40 59.5h2M36 60.5h1m3 0h1M39 61.5h2M40 62.5h1M37 63.5h1"/><path stroke="#ffa000" d="M40 44.5h1M40 47.5h1M41 48.5h2M40 49.5h1M39 50.5h1M38 53.5h1M41 55.5h1M39 56.5h1M39 58.5h1M38 59.5h1M37 60.5h1m1 0h1M38 61.5h1M39 62.5h1"/><path stroke="#ffff00" d="M39 45.5h2M41 46.5h2M39 48.5h1M38 49.5h1m2 0h1M40 50.5h1M38 52.5h1M41 54.5h1M38 55.5h1M38 56.5h1m2 0h1M37 57.5h1M37 58.5h1M37 59.5h1M36 62.5h3M39 63.5h2"/><path stroke="#ff2000" d="M39 47.5h1m1 0h2M40 48.5h1M39 49.5h1M41 50.5h1M39 51.5h3M39 52.5h1m1 0h1M39 53.5h2M39 54.5h2M40 55.5h1M40 56.5h1M38 57.5h2M38 58.5h1M39 59.5h1M38 60.5h1"/><path stroke="#1010f0" stroke-width="0.65" d="M51.2 7.5h.65M50.2 12.5h.65M52.2 13.5h.65M48.2 14.5h.65M82.2 14.5h.65M43.2 16.5h.65M49.2 17.5h.65M89.2 17.5h.65M44.2 18.5h.65M45.2 18.5h.65M41.2 19.5h.65M45.2 19.5h.65M53.2 19.5h.65M81.2 19.5h.65M42.2 20.5h.65M48.2 20.5h.65M100.2 20.5h.65M41.2 21.5h.65M42.2 21.5h.65M43.2 21.5h.65M48.2 21.5h.65M49.2 21.5h.65M114.2 21.5h.65M118.2 21.5h.65M35.2 22.5h.65M39.2 22.5h.65M40.2 22.5h.65M42.2 22.5h.65M44.2 22.5h.65M46.2 22.5h.65M47.2 22.5h.65M48.2 22.5h.65M37.2 23.5h.65M40.2 23.5h.65M42.2 23.5h.65M43.2 23.5h.65M45.2 23.5h.65M49.2 23.5h.65M50.2 23.5h.65M85.2 23.5h.65M102.2 23.5h.65M39.2 24.5h.65M42.2 24.5h.65M49.2 24.5h.65M97.2 24.5h.65M37.2 25.5h.65M41.2 25.5h.65M42.2 25.5h.65M48.2 25.5h.65M49.2 25.5h.65M51.2 25.5h.65M54.2 25.5h.65M56.2 25.5h.65M73.2 25.5h.65M39.2 26.5h.65M40.2 26.5h.65M42.2 26.5h.65M48.2 26.5h.65M49.2 26.5h.65M50.2 26.5h.65M53.2 26.5h.65M55.2 26.5h.65M58.2 26.5h.65M96.2 26.5h.65M38.2 27.5h.65M39.2 27.5h.65M49.2 27.5h.65M52.2 27.5h.65M89.2 27.5h.65M104.2 27.5h.65M110.2 27.5h.65M37.2 28.5h.65M39.2 28.5h.65M40.2 28.5h.65M50.2 28.5h.65M51.2 28.5h.65M52.2 28.5h.65M62.2 28.5h.65M65.2 28.5h.65M35.2 29.5h.65M36.2 29.5h.65M37.2 29.5h.65M38.2 29.5h.65M39.2 29.5h.65M51.2 29.5h.65M57.2 29.5h.65M94.2 29.5h.65M118.2 29.5h.65M36.2 30.5h.65M37.2 30.5h.65M49.2 30.5h.65M50.2 30.5h.65M52.2 30.5h.65M92.2 30.5h.65M37.2 31.5h.65M50.2 31.5h.65M51.2 31.5h.65M53.2 31.5h.65M68.2 31.5h.65M84.2 31.5h.65M89.2 31.5h.65M96.2 31.5h.65M36.2 32.5h.65M37.2 32.5h.65M50.2 32.5h.65M77.2 32.5h.65M34.2 33.5h.65M36.2 33.5h.65M49.2 33.5h.65M50.2 33.5h.65M51.2 33.5h.65M69.2 33.5h.65M82.2 33.5h.65M84.2 33.5h.65M99.2 33.5h.65M110.2 33.5h.65M34.2 34.5h.65M36.2 34.5h.65M50.2 34.5h.65M51.2 34.5h.65M54.2 34.5h.65M78.2 34.5h.65M86.2 34.5h.65M94.2 34.5h.65M96.2 34.5h.65M35.2 35.5h.65M36.2 35.5h.65M50.2 35.5h.65M51.2 35.5h.65M57.2 35.5h.65M60.2 35.5h.65M61.2 35.5h.65M64.2 35.5h.65M88.2 35.5h.65M101.2 35.5h.65M32.2 36.5h.65M36.2 36.5h.65M51.2 36.5h.65M53.2 36.5h.65M54.2 36.5h.65M55.2 36.5h.65M63.2 36.5h.65M67.2 36.5h.65M68.2 36.5h.65M109.2 36.5h.65M138.2 36.5h.65M35.2 37.5h.65M52.2 37.5h.65M53.2 37.5h.65M54.2 37.5h.65M59.2 37.5h.65M69.2 37.5h.65M80.2 37.5h.65M33.2 38.5h.65M34.2 38.5h.65M50.2 38.5h.65M52.2 38.5h.65M78.2 38.5h.65M79.2 38.5h.65M81.2 38.5h.65M88.2 38.5h.65M95.2 38.5h.65M96.2 38.5h.65M110.2 38.5h.65M112.2 38.5h.65M124.2 38.5h.65M34.2 39.5h.65M50.2 39.5h.65M52.2 39.5h.65M53.2 39.5h.65M54.2 39.5h.65M55.2 39.5h.65M58.2 39.5h.65M90.2 39.5h.65M100.2 39.5h.65M107.2 39.5h.65M34.2 40.5h.65M35.2 40.5h.65M50.2 40.5h.65M51.2 40.5h.65M56.2 40.5h.65M81.2 40.5h.65M104.2 40.5h.65M119.2 40.5h.65M32.2 41.5h.65M34.2 41.5h.65M51.2 41.5h.65M52.2 41.5h.65M53.2 41.5h.65M55.2 41.5h.65M62.2 41.5h.65M73.2 41.5h.65M79.2 41.5h.65M88.2 41.5h.65M97.2 41.5h.65M34.2 42.5h.65M50.2 42.5h.65M51.2 42.5h.65M54.2 42.5h.65M55.2 42.5h.65M56.2 42.5h.65M60.2 42.5h.65M73.2 42.5h.65M93.2 42.5h.65M94.2 42.5h.65M104.2 42.5h.65M112.2 42.5h.65M120.2 42.5h.65M127.2 42.5h.65M34.2 43.5h.65M50.2 43.5h.65M57.2 43.5h.65M65.2 43.5h.65M66.2 43.5h.65M67.2 43.5h.65M76.2 43.5h.65M82.2 43.5h.65M90.2 43.5h.65M93.2 43.5h.65M98.2 43.5h.65M99.2 43.5h.65M102.2 43.5h.65M112.2 43.5h.65M124.2 43.5h.65M32.2 44.5h.65M52.2 44.5h.65M62.2 44.5h.65M65.2 44.5h.65M78.2 44.5h.65M79.2 44.5h.65M84.2 44.5h.65M90.2 44.5h.65M91.2 44.5h.65M92.2 44.5h.65M96.2 44.5h.65M97.2 44.5h.65M99.2 44.5h.65M119.2 44.5h.65M34.2 45.5h.65M50.2 45.5h.65M51.2 45.5h.65M53.2 45.5h.65M54.2 45.5h.65M55.2 45.5h.65M57.2 45.5h.65M58.2 45.5h.65M60.2 45.5h.65M63.2 45.5h.65M67.2 45.5h.65M88.2 45.5h.65M97.2 45.5h.65M32.2 46.5h.65M34.2 46.5h.65M49.2 46.5h.65M50.2 46.5h.65M51.2 46.5h.65M55.2 46.5h.65M56.2 46.5h.65M59.2 46.5h.65M61.2 46.5h.65M81.2 46.5h.65M83.2 46.5h.65M89.2 46.5h.65M90.2 46.5h.65M91.2 46.5h.65M92.2 46.5h.65M94.2 46.5h.65M95.2 46.5h.65M101.2 46.5h.65M102.2 46.5h.65M51.2 47.5h.65M52.2 47.5h.65M53.2 47.5h.65M54.2 47.5h.65M56.2 47.5h.65M57.2 47.5h.65M73.2 47.5h.65M76.2 47.5h.65M82.2 47.5h.65M83.2 47.5h.65M87.2 47.5h.65M91.2 47.5h.65M96.2 47.5h.65M33.2 48.5h.65M49.2 48.5h.65M53.2 48.5h.65M57.2 48.5h.65M65.2 48.5h.65M83.2 48.5h.65M84.2 48.5h.65M116.2 48.5h.65M33.2 49.5h.65M49.2 49.5h.65M50.2 49.5h.65M53.2 49.5h.65M54.2 49.5h.65M76.2 49.5h.65M85.2 49.5h.65M87.2 49.5h.65M94.2 49.5h.65M95.2 49.5h.65M97.2 49.5h.65M120.2 49.5h.65M33.2 50.5h.65M49.2 50.5h.65M50.2 50.5h.65M52.2 50.5h.65M55.2 50.5h.65M56.2 50.5h.65M70.2 50.5h.65M72.2 50.5h.65M74.2 50.5h.65M78.2 50.5h.65M81.2 50.5h.65M85.2 50.5h.65M90.2 50.5h.65M94.2 50.5h.65M100.2 50.5h.65M107.2 50.5h.65M33.2 51.5h.65M50.2 51.5h.65M51.2 51.5h.65M57.2 51.5h.65M59.2 51.5h.65M61.2 51.5h.65M68.2 51.5h.65M71.2 51.5h.65M72.2 51.5h.65M76.2 51.5h.65M86.2 51.5h.65M98.2 51.5h.65M102.2 51.5h.65M106.2 51.5h.65M116.2 51.5h.65M48.2 52.5h.65M49.2 52.5h.65M50.2 52.5h.65M53.2 52.5h.65M56.2 52.5h.65M59.2 52.5h.65M72.2 52.5h.65M73.2 52.5h.65M77.2 52.5h.65M87.2 52.5h.65M90.2 52.5h.65M91.2 52.5h.65M93.2 52.5h.65M96.2 52.5h.65M99.2 52.5h.65M102.2 52.5h.65M105.2 52.5h.65M110.2 52.5h.65M112.2 52.5h.65M120.2 52.5h.65M33.2 53.5h.65M48.2 53.5h.65M49.2 53.5h.65M50.2 53.5h.65M52.2 53.5h.65M53.2 53.5h.65M54.2 53.5h.65M74.2 53.5h.65M78.2 53.5h.65M90.2 53.5h.65M92.2 53.5h.65M93.2 53.5h.65M94.2 53.5h.65M98.2 53.5h.65M118.2 53.5h.65M123.2 53.5h.65M128.2 53.5h.65M48.2 54.5h.65M49.2 54.5h.65M50.2 54.5h.65M51.2 54.5h.65M52.2 54.5h.65M57.2 54.5h.65M58.2 54.5h.65M60.2 54.5h.65M68.2 54.5h.65M85.2 54.5h.65M98.2 54.5h.65M103.2 54.5h.65M104.2 54.5h.65M105.2 54.5h.65M107.2 54.5h.65M111.2 54.5h.65M116.2 54.5h.65M48.2 55.5h.65M49.2 55.5h.65M52.2 55.5h.65M55.2 55.5h.65M56.2 55.5h.65M59.2 55.5h.65M61.2 55.5h.65M66.2 55.5h.65M68.2 55.5h.65M75.2 55.5h.65M78.2 55.5h.65M83.2 55.5h.65M87.2 55.5h.65M93.2 55.5h.65M115.2 55.5h.65M32.2 56.5h.65M47.2 56.5h.65M51.2 56.5h.65M52.2 56.5h.65M54.2 56.5h.65M56.2 56.5h.65M57.2 56.5h.65M74.2 56.5h.65M78.2 56.5h.65M82.2 56.5h.65M84.2 56.5h.65M87.2 56.5h.65M97.2 56.5h.65M101.2 56.5h.65M104.2 56.5h.65M105.2 56.5h.65M108.2 56.5h.65M110.2 56.5h.65M135.2 56.5h.65M46.2 57.5h.65M47.2 57.5h.65M49.2 57.5h.65M51.2 57.5h.65M52.2 57.5h.65M53.2 57.5h.65M54.2 57.5h.65M55.2 57.5h.65M56.2 57.5h.65M60.2 57.5h.65M64.2 57.5h.65M67.2 57.5h.65M70.2 57.5h.65M80.2 57.5h.65M84.2 57.5h.65M87.2 57.5h.65M90.2 57.5h.65M92.2 57.5h.65M97.2 57.5h.65M99.2 57.5h.65M105.2 57.5h.65M113.2 57.5h.65M32.2 58.5h.65M47.2 58.5h.65M48.2 58.5h.65M50.2 58.5h.65M55.2 58.5h.65M58.2 58.5h.65M62.2 58.5h.65M63.2 58.5h.65M68.2 58.5h.65M70.2 58.5h.65M71.2 58.5h.65M74.2 58.5h.65M77.2 58.5h.65M87.2 58.5h.65M88.2 58.5h.65M92.2 58.5h.65M93.2 58.5h.65M96.2 58.5h.65M101.2 58.5h.65M104.2 58.5h.65M110.2 58.5h.65M122.2 58.5h.65M125.2 58.5h.65M31.2 59.5h.65M32.2 59.5h.65M47.2 59.5h.65M49.2 59.5h.65M50.2 59.5h.65M52.2 59.5h.65M54.2 59.5h.65M56.2 59.5h.65M57.2 59.5h.65M68.2 59.5h.65M71.2 59.5h.65M73.2 59.5h.65M77.2 59.5h.65M78.2 59.5h.65M79.2 59.5h.65M80.2 59.5h.65M81.2 59.5h.65M85.2 59.5h.65M89.2 59.5h.65M97.2 59.5h.65M99.2 59.5h.65M107.2 59.5h.65M111.2 59.5h.65M113.2 59.5h.65M114.2 59.5h.65M121.2 59.5h.65M30.2 60.5h.65M47.2 60.5h.65M48.2 60.5h.65M49.2 60.5h.65M50.2 60.5h.65M52.2 60.5h.65M54.2 60.5h.65M57.2 60.5h.65M58.2 60.5h.65M69.2 60.5h.65M72.2 60.5h.65M74.2 60.5h.65M77.2 60.5h.65M80.2 60.5h.65M89.2 60.5h.65M90.2 60.5h.65M91.2 60.5h.65M94.2 60.5h.65M97.2 60.5h.65M99.2 60.5h.65M106.2 60.5h.65M114.2 60.5h.65M47.2 61.5h.65M50.2 61.5h.65M52.2 61.5h.65M53.2 61.5h.65M55.2 61.5h.65M56.2 61.5h.65M57.2 61.5h.65M64.2 61.5h.65M82.2 61.5h.65M83.2 61.5h.65M86.2 61.5h.65M87.2 61.5h.65M90.2 61.5h.65M91.2 61.5h.65M96.2 61.5h.65M100.2 61.5h.65M125.2 61.5h.65M31.2 62.5h.65M48.2 62.5h.65M50.2 62.5h.65M53.2 62.5h.65M54.2 62.5h.65M56.2 62.5h.65M71.2 62.5h.65M76.2 62.5h.65M86.2 62.5h.65M90.2 62.5h.65M92.2 62.5h.65M93.2 62.5h.65M109.2 62.5h.65M31.2 63.5h.65M47.2 63.5h.65M48.2 63.5h.65M49.2 63.5h.65M50.2 63.5h.65M51.2 63.5h.65M52.2 63.5h.65M54.2 63.5h.65M56.2 63.5h.65M58.2 63.5h.65M68.2 63.5h.65M71.2 63.5h.65M73.2 63.5h.65M75.2 63.5h.65M77.2 63.5h.65M78.2 63.5h.65M82.2 63.5h.65M85.2 63.5h.65M87.2 63.5h.65M90.2 63.5h.65M95.2 63.5h.65M99.2 63.5h.65M104.2 63.5h.65M110.2 63.5h.65M119.2 63.5h.65M31.2 64.5h.65M47.2 64.5h.65M48.2 64.5h.65M50.2 64.5h.65M52.2 64.5h.65M57.2 64.5h.65M60.2 64.5h.65M68.2 64.5h.65M80.2 64.5h.65M82.2 64.5h.65M84.2 64.5h.65M85.2 64.5h.65M90.2 64.5h.65M91.2 64.5h.65M93.2 64.5h.65M95.2 64.5h.65M99.2 64.5h.65M115.2 64.5h.65M120.2 64.5h.65M31.2 65.5h.65M49.2 65.5h.65M51.2 65.5h.65M53.2 65.5h.65M54.2 65.5h.65M56.2 65.5h.65M59.2 65.5h.65M76.2 65.5h.65M77.2 65.5h.65M82.2 65.5h.65M86.2 65.5h.65M87.2 65.5h.65M92.2 65.5h.65M97.2 65.5h.65M104.2 65.5h.65M30.2 66.5h.65M31.2 66.5h.65M46.2 66.5h.65M47.2 66.5h.65M49.2 66.5h.65M50.2 66.5h.65M52.2 66.5h.65M53.2 66.5h.65M55.2 66.5h.65M56.2 66.5h.65M58.2 66.5h.65M59.2 66.5h.65M62.2 66.5h.65M79.2 66.5h.65M82.2 66.5h.65M85.2 66.5h.65M92.2 66.5h.65M96.2 66.5h.65M100.2 66.5h.65M103.2 66.5h.65M104.2 66.5h.65M108.2 66.5h.65M111.2 66.5h.65M31.2 67.5h.65M47.2 67.5h.65M50.2 67.5h.65M53.2 67.5h.65M54.2 67.5h.65M57.2 67.5h.65M59.2 67.5h.65M60.2 67.5h.65M64.2 67.5h.65M70.2 67.5h.65M78.2 67.5h.65M83.2 67.5h.65M84.2 67.5h.65M90.2 67.5h.65M95.2 67.5h.65M97.2 67.5h.65M99.2 67.5h.65M102.2 67.5h.65M109.2 67.5h.65M110.2 67.5h.65M131.2 67.5h.65M30.2 68.5h.65M31.2 68.5h.65M46.2 68.5h.65M47.2 68.5h.65M49.2 68.5h.65M50.2 68.5h.65M51.2 68.5h.65M52.2 68.5h.65M54.2 68.5h.65M55.2 68.5h.65M58.2 68.5h.65M62.2 68.5h.65M75.2 68.5h.65M76.2 68.5h.65M83.2 68.5h.65M84.2 68.5h.65M86.2 68.5h.65M88.2 68.5h.65M90.2 68.5h.65M93.2 68.5h.65M101.2 68.5h.65M103.2 68.5h.65M107.2 68.5h.65M124.2 68.5h.65M30.2 69.5h.65M47.2 69.5h.65M48.2 69.5h.65M49.2 69.5h.65M50.2 69.5h.65M51.2 69.5h.65M53.2 69.5h.65M54.2 69.5h.65M55.2 69.5h.65M59.2 69.5h.65M61.2 69.5h.65M63.2 69.5h.65M69.2 69.5h.65M72.2 69.5h.65M77.2 69.5h.65M85.2 69.5h.65M86.2 69.5h.65M89.2 69.5h.65M92.2 69.5h.65M100.2 69.5h.65M102.2 69.5h.65M103.2 69.5h.65M105.2 69.5h.65M111.2 69.5h.65M29.2 70.5h.65M30.2 70.5h.65M46.2 70.5h.65M47.2 70.5h.65M48.2 70.5h.65M49.2 70.5h.65M50.2 70.5h.65M51.2 70.5h.65M53.2 70.5h.65M57.2 70.5h.65M58.2 70.5h.65M59.2 70.5h.65M67.2 70.5h.65M82.2 70.5h.65M84.2 70.5h.65M90.2 70.5h.65M92.2 70.5h.65M93.2 70.5h.65M95.2 70.5h.65M100.2 70.5h.65M104.2 70.5h.65M106.2 70.5h.65M108.2 70.5h.65M136.2 70.5h.65M30.2 71.5h.65M31.2 71.5h.65M47.2 71.5h.65M50.2 71.5h.65M51.2 71.5h.65M52.2 71.5h.65M53.2 71.5h.65M54.2 71.5h.65M63.2 71.5h.65M68.2 71.5h.65M70.2 71.5h.65M73.2 71.5h.65M82.2 71.5h.65M84.2 71.5h.65M88.2 71.5h.65M93.2 71.5h.65M96.2 71.5h.65M97.2 71.5h.65M98.2 71.5h.65M103.2 71.5h.65M104.2 71.5h.65M112.2 71.5h.65M118.2 71.5h.65M46.2 72.5h.65M48.2 72.5h.65M50.2 72.5h.65M51.2 72.5h.65M52.2 72.5h.65M54.2 72.5h.65M55.2 72.5h.65M57.2 72.5h.65M59.2 72.5h.65M74.2 72.5h.65M76.2 72.5h.65M77.2 72.5h.65M81.2 72.5h.65M90.2 72.5h.65M93.2 72.5h.65M95.2 72.5h.65M112.2 72.5h.65M115.2 72.5h.65M30.2 73.5h.65M46.2 73.5h.65M48.2 73.5h.65M50.2 73.5h.65M54.2 73.5h.65M55.2 73.5h.65M57.2 73.5h.65M64.2 73.5h.65M70.2 73.5h.65M74.2 73.5h.65M76.2 73.5h.65M80.2 73.5h.65M87.2 73.5h.65M88.2 73.5h.65M94.2 73.5h.65M99.2 73.5h.65M105.2 73.5h.65M117.2 73.5h.65M46.2 74.5h.65M47.2 74.5h.65M48.2 74.5h.65M49.2 74.5h.65M56.2 74.5h.65M60.2 74.5h.65M64.2 74.5h.65M65.2 74.5h.65M66.2 74.5h.65M67.2 74.5h.65M75.2 74.5h.65M79.2 74.5h.65M86.2 74.5h.65M87.2 74.5h.65M98.2 74.5h.65M106.2 74.5h.65M110.2 74.5h.65M27.2 75.5h.65M28.2 75.5h.65M46.2 75.5h.65M48.2 75.5h.65M49.2 75.5h.65M50.2 75.5h.65M51.2 75.5h.65M54.2 75.5h.65M55.2 75.5h.65M56.2 75.5h.65M58.2 75.5h.65M66.2 75.5h.65M69.2 75.5h.65M77.2 75.5h.65M81.2 75.5h.65M85.2 75.5h.65M115.2 75.5h.65M118.2 75.5h.65M28.2 76.5h.65M29.2 76.5h.65M30.2 76.5h.65M45.2 76.5h.65M49.2 76.5h.65M52.2 76.5h.65M68.2 76.5h.65M77.2 76.5h.65M79.2 76.5h.65M84.2 76.5h.65M85.2 76.5h.65M88.2 76.5h.65M90.2 76.5h.65M97.2 76.5h.65M109.2 76.5h.65M28.2 77.5h.65M29.2 77.5h.65M45.2 77.5h.65M46.2 77.5h.65M47.2 77.5h.65M48.2 77.5h.65M49.2 77.5h.65M51.2 77.5h.65M52.2 77.5h.65M56.2 77.5h.65M71.2 77.5h.65M79.2 77.5h.65M84.2 77.5h.65M86.2 77.5h.65M98.2 77.5h.65M101.2 77.5h.65M122.2 77.5h.65M28.2 78.5h.65M29.2 78.5h.65M46.2 78.5h.65M47.2 78.5h.65M48.2 78.5h.65M49.2 78.5h.65M50.2 78.5h.65M51.2 78.5h.65M54.2 78.5h.65M56.2 78.5h.65M59.2 78.5h.65M65.2 78.5h.65M71.2 78.5h.65M75.2 78.5h.65M79.2 78.5h.65M83.2 78.5h.65M87.2 78.5h.65M93.2 78.5h.65M95.2 78.5h.65M96.2 78.5h.65M111.2 78.5h.65M123.2 78.5h.65M29.2 79.5h.65M30.2 79.5h.65M44.2 79.5h.65M48.2 79.5h.65M49.2 79.5h.65M51.2 79.5h.65M58.2 79.5h.65M70.2 79.5h.65M78.2 79.5h.65M91.2 79.5h.65M92.2 79.5h.65M93.2 79.5h.65M104.2 79.5h.65M110.2 79.5h.65M126.2 79.5h.65M44.2 80.5h.65M48.2 80.5h.65M49.2 80.5h.65M51.2 80.5h.65M53.2 80.5h.65M66.2 80.5h.65M70.2 80.5h.65M73.2 80.5h.65M75.2 80.5h.65M84.2 80.5h.65M85.2 80.5h.65M87.2 80.5h.65M89.2 80.5h.65M90.2 80.5h.65M93.2 80.5h.65M94.2 80.5h.65M97.2 80.5h.65M103.2 80.5h.65M104.2 80.5h.65M137.2 80.5h.65M45.2 81.5h.65M47.2 81.5h.65M53.2 81.5h.65M58.2 81.5h.65M65.2 81.5h.65M67.2 81.5h.65M70.2 81.5h.65M72.2 81.5h.65M73.2 81.5h.65M81.2 81.5h.65M82.2 81.5h.65M92.2 81.5h.65M101.2 81.5h.65M128.2 81.5h.65M44.2 82.5h.65M46.2 82.5h.65M47.2 82.5h.65M51.2 82.5h.65M53.2 82.5h.65M56.2 82.5h.65M59.2 82.5h.65M60.2 82.5h.65M67.2 82.5h.65M68.2 82.5h.65M69.2 82.5h.65M78.2 82.5h.65M87.2 82.5h.65M94.2 82.5h.65M95.2 82.5h.65M106.2 82.5h.65M124.2 82.5h.65M28.2 83.5h.65M44.2 83.5h.65M45.2 83.5h.65M48.2 83.5h.65M54.2 83.5h.65M55.2 83.5h.65M74.2 83.5h.65M88.2 83.5h.65M90.2 83.5h.65M98.2 83.5h.65M101.2 83.5h.65M114.2 83.5h.65M123.2 83.5h.65M27.2 84.5h.65M44.2 84.5h.65M45.2 84.5h.65M54.2 84.5h.65M71.2 84.5h.65M77.2 84.5h.65M80.2 84.5h.65M83.2 84.5h.65M84.2 84.5h.65M85.2 84.5h.65M88.2 84.5h.65M96.2 84.5h.65M101.2 84.5h.65M106.2 84.5h.65M108.2 84.5h.65M125.2 84.5h.65M28.2 85.5h.65M29.2 85.5h.65M44.2 85.5h.65M47.2 85.5h.65M48.2 85.5h.65M50.2 85.5h.65M55.2 85.5h.65M58.2 85.5h.65M60.2 85.5h.65M88.2 85.5h.65M94.2 85.5h.65M100.2 85.5h.65M107.2 85.5h.65M108.2 85.5h.65M111.2 85.5h.65M47.2 86.5h.65M53.2 86.5h.65M54.2 86.5h.65M62.2 86.5h.65M66.2 86.5h.65M73.2 86.5h.65M76.2 86.5h.65M79.2 86.5h.65M91.2 86.5h.65M95.2 86.5h.65M110.2 86.5h.65M125.2 86.5h.65M44.2 87.5h.65M46.2 87.5h.65M48.2 87.5h.65M49.2 87.5h.65M66.2 87.5h.65M78.2 87.5h.65M86.2 87.5h.65M87.2 87.5h.65M104.2 87.5h.65M120.2 87.5h.65M122.2 87.5h.65M42.2 88.5h.65M43.2 88.5h.65M45.2 88.5h.65M47.2 88.5h.65M71.2 88.5h.65M85.2 88.5h.65M97.2 88.5h.65M108.2 88.5h.65M112.2 88.5h.65M116.2 88.5h.65M128.2 88.5h.65M42.2 89.5h.65M43.2 89.5h.65M51.2 89.5h.65M52.2 89.5h.65M68.2 89.5h.65M73.2 89.5h.65M85.2 89.5h.65M92.2 89.5h.65M98.2 89.5h.65M42.2 90.5h.65M43.2 90.5h.65M46.2 90.5h.65M48.2 90.5h.65M53.2 90.5h.65M56.2 90.5h.65M92.2 90.5h.65M99.2 90.5h.65M28.2 91.5h.65M29.2 91.5h.65M41.2 91.5h.65M42.2 91.5h.65M46.2 91.5h.65M47.2 91.5h.65M49.2 91.5h.65M55.2 91.5h.65M69.2 91.5h.65M77.2 91.5h.65M86.2 91.5h.65M96.2 91.5h.65M102.2 91.5h.65M109.2 91.5h.65M29.2 92.5h.65M42.2 92.5h.65M43.2 92.5h.65M50.2 92.5h.65M78.2 92.5h.65M90.2 92.5h.65M91.2 92.5h.65M115.2 92.5h.65M46.2 93.5h.65M47.2 93.5h.65M53.2 93.5h.65M61.2 93.5h.65M64.2 93.5h.65M88.2 93.5h.65M99.2 93.5h.65M109.2 93.5h.65M29.2 94.5h.65M41.2 94.5h.65M43.2 94.5h.65M44.2 94.5h.65M45.2 94.5h.65M76.2 94.5h.65M81.2 94.5h.65M94.2 94.5h.65M28.2 95.5h.65M42.2 95.5h.65M43.2 95.5h.65M46.2 95.5h.65M47.2 95.5h.65M58.2 95.5h.65M73.2 95.5h.65M84.2 95.5h.65M89.2 95.5h.65M96.2 95.5h.65M27.2 96.5h.65M40.2 96.5h.65M43.2 96.5h.65M55.2 96.5h.65M76.2 96.5h.65M40.2 97.5h.65M41.2 97.5h.65M45.2 97.5h.65M51.2 97.5h.65M78.2 97.5h.65M86.2 97.5h.65M88.2 97.5h.65M98.2 97.5h.65M105.2 97.5h.65M108.2 97.5h.65M41.2 98.5h.65M42.2 98.5h.65M46.2 98.5h.65M53.2 98.5h.65M93.2 98.5h.65M29.2 99.5h.65M40.2 99.5h.65M42.2 99.5h.65M46.2 99.5h.65M52.2 99.5h.65M69.2 99.5h.65M88.2 99.5h.65M29.2 100.5h.65M40.2 100.5h.65M41.2 100.5h.65M54.2 100.5h.65M102.2 100.5h.65M41.2 101.5h.65M42.2 101.5h.65M48.2 101.5h.65M105.2 101.5h.65M29.2 102.5h.65M40.2 102.5h.65M45.2 102.5h.65M96.2 102.5h.65M105.2 102.5h.65M30.2 103.5h.65M40.2 103.5h.65M42.2 103.5h.65M43.2 103.5h.65M87.2 103.5h.65M40.2 104.5h.65M44.2 104.5h.65M47.2 104.5h.65M74.2 104.5h.65M39.2 105.5h.65M48.2 105.5h.65M126.2 105.5h.65M27.2 106.5h.65M29.2 106.5h.65M30.2 106.5h.65M39.2 106.5h.65M45.2 106.5h.65M59.2 106.5h.65M87.2 106.5h.65M31.2 107.5h.65M39.2 107.5h.65M42.2 107.5h.65M95.2 107.5h.65M101.2 107.5h.65M29.2 108.5h.65M31.2 108.5h.65M35.2 108.5h.65M38.2 108.5h.65M30.2 109.5h.65M32.2 109.5h.65M34.2 109.5h.65M35.2 109.5h.65M36.2 109.5h.65M38.2 109.5h.65M45.2 109.5h.65M83.2 109.5h.65M87.2 109.5h.65M30.2 110.5h.65M33.2 110.5h.65M35.2 110.5h.65M37.2 110.5h.65M38.2 110.5h.65M39.2 110.5h.65M40.2 110.5h.65M92.2 110.5h.65M29.2 111.5h.65M30.2 111.5h.65M31.2 111.5h.65M32.2 111.5h.65M33.2 111.5h.65M35.2 111.5h.65M36.2 111.5h.65M37.2 111.5h.65M32.2 112.5h.65M35.2 112.5h.65M36.2 112.5h.65M74.2 112.5h.65M33.2 113.5h.65M34.2 113.5h.65M35.2 113.5h.65M31.2 114.5h.65M35.2 114.5h.65M32.2 115.5h.65M35.2 115.5h.65M98.2 115.5h.65M33.2 116.5h.65M36.2 116.5h.65M33.2 118.5h.65M35.2 118.5h.65M35.2 119.5h.65M36.2 119.5h.65M35.2 120.5h.65M33.2 121.5h.65M36.2 122.5h.65M36.2 130.5h.65"/><path stroke="#0050ff" stroke-width="0.65" d="M44.2 23.5h.65M46.2 24.5h.65M46.2 25.5h.65M47.2 26.5h.65M42.2 27.5h.65M47.2 27.5h.65M48.2 28.5h.65M49.2 28.5h.65M48.2 29.5h.65M49.2 29.5h.65M38.2 30.5h.65M37.2 33.5h.65M49.2 44.5h.65M34.2 47.5h.65M48.2 48.5h.65M33.2 52.5h.65M47.2 55.5h.65M32.2 57.5h.65M46.2 59.5h.65M31.2 61.5h.65M49.2 61.5h.65M47.2 62.5h.65M32.2 63.5h.65M32.2 64.5h.65M51.2 64.5h.65M50.2 65.5h.65M46.2 67.5h.65M53.2 68.5h.65M31.2 69.5h.65M31.2 70.5h.65M46.2 71.5h.65M31.2 72.5h.65M47.2 72.5h.65M47.2 73.5h.65M45.2 74.5h.65M44.2 76.5h.65M44.2 77.5h.65M45.2 78.5h.65M43.2 80.5h.65M29.2 84.5h.65M29.2 87.5h.65M42.2 87.5h.65M29.2 88.5h.65M29.2 90.5h.65M41.2 92.5h.65M41.2 93.5h.65M29.2 97.5h.65M31.2 105.5h.65M31.2 106.5h.65M38.2 106.5h.65M38.2 107.5h.65M32.2 108.5h.65M36.2 108.5h.65M37.2 108.5h.65M33.2 109.5h.65M34.2 110.5h.65"/></g>
<rect x="850.7" y="2308.3" width="297" height="297" fill="none" stroke="#6a6a6a" stroke-width="1.3"/>
<line x1="975.6" y1="2308.3" x2="975.6" y2="2605.3" stroke="#000" stroke-width="2.2"/>
<line x1="850.7" y1="2494" x2="1147.7" y2="2494" stroke="#000" stroke-width="2.2"/>
<rect x="850.1" y="2312.3" width="122" height="179.7" fill="none" stroke="#3f9498" stroke-width="4" stroke-dasharray="15 10"/>
<rect x="1035.2" y="2313.7" width="109.9" height="177.7" fill="none" stroke="#b28fd6" stroke-width="4" stroke-dasharray="15 10"/>
<rect x="1035.2" y="2495.4" width="109.9" height="107" fill="none" stroke="#ee8a3c" stroke-width="4" stroke-dasharray="15 10"/>
<text x="907.8" y="2340.6" font-size="19.7" text-anchor="middle" fill="#3f9498">OnF</text>
<text x="907.8" y="2365.1" font-size="19.7" text-anchor="middle" fill="#3f9498">90.9%</text>
<text x="1102.4" y="2340.6" font-size="19.7" text-anchor="middle" fill="#b28fd6">Dual</text>
<text x="1102.4" y="2365.1" font-size="19.7" text-anchor="middle" fill="#b28fd6">1.6%</text>
<text x="1095.2" y="2552.5" font-size="19.7" text-anchor="middle" fill="#ee8a3c">Stem</text>
<text x="1095.2" y="2577" font-size="19.7" text-anchor="middle" fill="#ee8a3c">0.0094%</text>
<line x1="842.7" y1="2335.4" x2="850.7" y2="2335.4" stroke="#000" stroke-width="2"/>
<line x1="842.7" y1="2406.9" x2="850.7" y2="2406.9" stroke="#000" stroke-width="2"/>
<line x1="842.7" y1="2488.2" x2="850.7" y2="2488.2" stroke="#000" stroke-width="2"/>
<line x1="842.7" y1="2539.5" x2="850.7" y2="2539.5" stroke="#000" stroke-width="2"/>
<line x1="842.7" y1="2585.7" x2="850.7" y2="2585.7" stroke="#000" stroke-width="2"/>
<line x1="846.2" y1="2463.7" x2="850.7" y2="2463.7" stroke="#000" stroke-width="1.2"/>
<line x1="846.2" y1="2385.4" x2="850.7" y2="2385.4" stroke="#000" stroke-width="1.2"/>
<line x1="846.2" y1="2449.4" x2="850.7" y2="2449.4" stroke="#000" stroke-width="1.2"/>
<line x1="846.2" y1="2372.8" x2="850.7" y2="2372.8" stroke="#000" stroke-width="1.2"/>
<line x1="846.2" y1="2439.3" x2="850.7" y2="2439.3" stroke="#000" stroke-width="1.2"/>
<line x1="846.2" y1="2363.9" x2="850.7" y2="2363.9" stroke="#000" stroke-width="1.2"/>
<line x1="846.2" y1="2431.4" x2="850.7" y2="2431.4" stroke="#000" stroke-width="1.2"/>
<line x1="846.2" y1="2356.9" x2="850.7" y2="2356.9" stroke="#000" stroke-width="1.2"/>
<line x1="846.2" y1="2424.9" x2="850.7" y2="2424.9" stroke="#000" stroke-width="1.2"/>
<line x1="846.2" y1="2351.3" x2="850.7" y2="2351.3" stroke="#000" stroke-width="1.2"/>
<line x1="846.2" y1="2419.5" x2="850.7" y2="2419.5" stroke="#000" stroke-width="1.2"/>
<line x1="846.2" y1="2346.5" x2="850.7" y2="2346.5" stroke="#000" stroke-width="1.2"/>
<line x1="846.2" y1="2414.8" x2="850.7" y2="2414.8" stroke="#000" stroke-width="1.2"/>
<line x1="846.2" y1="2342.3" x2="850.7" y2="2342.3" stroke="#000" stroke-width="1.2"/>
<line x1="846.2" y1="2410.6" x2="850.7" y2="2410.6" stroke="#000" stroke-width="1.2"/>
<line x1="846.2" y1="2338.7" x2="850.7" y2="2338.7" stroke="#000" stroke-width="1.2"/>
<line x1="846.2" y1="2524.8" x2="850.7" y2="2524.8" stroke="#000" stroke-width="1.2"/>
<line x1="846.2" y1="2552.7" x2="850.7" y2="2552.7" stroke="#000" stroke-width="1.2"/>
<line x1="846.2" y1="2516.2" x2="850.7" y2="2516.2" stroke="#000" stroke-width="1.2"/>
<line x1="846.2" y1="2560.4" x2="850.7" y2="2560.4" stroke="#000" stroke-width="1.2"/>
<line x1="846.2" y1="2510.2" x2="850.7" y2="2510.2" stroke="#000" stroke-width="1.2"/>
<line x1="846.2" y1="2565.9" x2="850.7" y2="2565.9" stroke="#000" stroke-width="1.2"/>
<line x1="846.2" y1="2505.4" x2="850.7" y2="2505.4" stroke="#000" stroke-width="1.2"/>
<line x1="846.2" y1="2570.2" x2="850.7" y2="2570.2" stroke="#000" stroke-width="1.2"/>
<line x1="846.2" y1="2501.6" x2="850.7" y2="2501.6" stroke="#000" stroke-width="1.2"/>
<line x1="846.2" y1="2573.7" x2="850.7" y2="2573.7" stroke="#000" stroke-width="1.2"/>
<line x1="846.2" y1="2498.3" x2="850.7" y2="2498.3" stroke="#000" stroke-width="1.2"/>
<line x1="846.2" y1="2576.6" x2="850.7" y2="2576.6" stroke="#000" stroke-width="1.2"/>
<line x1="846.2" y1="2495.5" x2="850.7" y2="2495.5" stroke="#000" stroke-width="1.2"/>
<line x1="846.2" y1="2579.1" x2="850.7" y2="2579.1" stroke="#000" stroke-width="1.2"/>
<line x1="846.2" y1="2493" x2="850.7" y2="2493" stroke="#000" stroke-width="1.2"/>
<line x1="846.2" y1="2581.4" x2="850.7" y2="2581.4" stroke="#000" stroke-width="1.2"/>
<line x1="846.2" y1="2490.8" x2="850.7" y2="2490.8" stroke="#000" stroke-width="1.2"/>
<line x1="846.2" y1="2583.4" x2="850.7" y2="2583.4" stroke="#000" stroke-width="1.2"/>
<rect x="843.7" y="2534.5" width="7" height="10" fill="#000"/>
<line x1="868.9" y1="2605.3" x2="868.9" y2="2613.3" stroke="#000" stroke-width="2"/>
<line x1="919.3" y1="2605.3" x2="919.3" y2="2613.3" stroke="#000" stroke-width="2"/>
<line x1="966.3" y1="2605.3" x2="966.3" y2="2613.3" stroke="#000" stroke-width="2"/>
<line x1="1047.6" y1="2605.3" x2="1047.6" y2="2613.3" stroke="#000" stroke-width="2"/>
<line x1="1118.3" y1="2605.3" x2="1118.3" y2="2613.3" stroke="#000" stroke-width="2"/>
<line x1="990.8" y1="2605.3" x2="990.8" y2="2609.8" stroke="#000" stroke-width="1.2"/>
<line x1="1068.9" y1="2605.3" x2="1068.9" y2="2609.8" stroke="#000" stroke-width="1.2"/>
<line x1="1139.6" y1="2605.3" x2="1139.6" y2="2609.8" stroke="#000" stroke-width="1.2"/>
<line x1="1005.1" y1="2605.3" x2="1005.1" y2="2609.8" stroke="#000" stroke-width="1.2"/>
<line x1="1081.3" y1="2605.3" x2="1081.3" y2="2609.8" stroke="#000" stroke-width="1.2"/>
<line x1="1015.2" y1="2605.3" x2="1015.2" y2="2609.8" stroke="#000" stroke-width="1.2"/>
<line x1="1090.2" y1="2605.3" x2="1090.2" y2="2609.8" stroke="#000" stroke-width="1.2"/>
<line x1="1023.1" y1="2605.3" x2="1023.1" y2="2609.8" stroke="#000" stroke-width="1.2"/>
<line x1="1097" y1="2605.3" x2="1097" y2="2609.8" stroke="#000" stroke-width="1.2"/>
<line x1="1029.6" y1="2605.3" x2="1029.6" y2="2609.8" stroke="#000" stroke-width="1.2"/>
<line x1="1102.6" y1="2605.3" x2="1102.6" y2="2609.8" stroke="#000" stroke-width="1.2"/>
<line x1="1035" y1="2605.3" x2="1035" y2="2609.8" stroke="#000" stroke-width="1.2"/>
<line x1="1107.3" y1="2605.3" x2="1107.3" y2="2609.8" stroke="#000" stroke-width="1.2"/>
<line x1="1039.7" y1="2605.3" x2="1039.7" y2="2609.8" stroke="#000" stroke-width="1.2"/>
<line x1="1111.4" y1="2605.3" x2="1111.4" y2="2609.8" stroke="#000" stroke-width="1.2"/>
<line x1="1043.9" y1="2605.3" x2="1043.9" y2="2609.8" stroke="#000" stroke-width="1.2"/>
<line x1="1115.1" y1="2605.3" x2="1115.1" y2="2609.8" stroke="#000" stroke-width="1.2"/>
<line x1="932.7" y1="2605.3" x2="932.7" y2="2609.8" stroke="#000" stroke-width="1.2"/>
<line x1="904.9" y1="2605.3" x2="904.9" y2="2609.8" stroke="#000" stroke-width="1.2"/>
<line x1="940.6" y1="2605.3" x2="940.6" y2="2609.8" stroke="#000" stroke-width="1.2"/>
<line x1="896.5" y1="2605.3" x2="896.5" y2="2609.8" stroke="#000" stroke-width="1.2"/>
<line x1="946.2" y1="2605.3" x2="946.2" y2="2609.8" stroke="#000" stroke-width="1.2"/>
<line x1="890.5" y1="2605.3" x2="890.5" y2="2609.8" stroke="#000" stroke-width="1.2"/>
<line x1="950.5" y1="2605.3" x2="950.5" y2="2609.8" stroke="#000" stroke-width="1.2"/>
<line x1="885.8" y1="2605.3" x2="885.8" y2="2609.8" stroke="#000" stroke-width="1.2"/>
<line x1="954" y1="2605.3" x2="954" y2="2609.8" stroke="#000" stroke-width="1.2"/>
<line x1="882" y1="2605.3" x2="882" y2="2609.8" stroke="#000" stroke-width="1.2"/>
<line x1="957" y1="2605.3" x2="957" y2="2609.8" stroke="#000" stroke-width="1.2"/>
<line x1="878.8" y1="2605.3" x2="878.8" y2="2609.8" stroke="#000" stroke-width="1.2"/>
<line x1="959.6" y1="2605.3" x2="959.6" y2="2609.8" stroke="#000" stroke-width="1.2"/>
<line x1="876.1" y1="2605.3" x2="876.1" y2="2609.8" stroke="#000" stroke-width="1.2"/>
<line x1="961.9" y1="2605.3" x2="961.9" y2="2609.8" stroke="#000" stroke-width="1.2"/>
<line x1="873.6" y1="2605.3" x2="873.6" y2="2609.8" stroke="#000" stroke-width="1.2"/>
<line x1="963.9" y1="2605.3" x2="963.9" y2="2609.8" stroke="#000" stroke-width="1.2"/>
<line x1="871.4" y1="2605.3" x2="871.4" y2="2609.8" stroke="#000" stroke-width="1.2"/>
<rect x="913.3" y="2605.3" width="12" height="6" fill="#000"/>
<text x="821.7" y="2346.9" font-size="15.5" text-anchor="end">10</text>
<text x="825.7" y="2335.9" font-size="15.5">5</text>
<text x="821.7" y="2418.4" font-size="15.5" text-anchor="end">10</text>
<text x="825.7" y="2407.4" font-size="15.5">4</text>
<text x="821.7" y="2499.7" font-size="15.5" text-anchor="end">10</text>
<text x="825.7" y="2488.7" font-size="15.5">3</text>
<text x="824.7" y="2544.5" font-size="15.5" text-anchor="end">0</text>
<text x="821.7" y="2595.7" font-size="15.5" text-anchor="end">-10</text>
<text x="825.7" y="2585.2" font-size="15.5">3</text>
<text x="869.9" y="2639" font-size="15.5" text-anchor="middle">-10</text>
<text x="887.9" y="2628" font-size="15.5">3</text>
<text x="919.3" y="2639" font-size="15.5" text-anchor="middle">0</text>
<text x="970.3" y="2639" font-size="15.5" text-anchor="middle">10</text>
<text x="983.3" y="2628" font-size="15.5">3</text>
<text x="1051.6" y="2639" font-size="15.5" text-anchor="middle">10</text>
<text x="1064.6" y="2628" font-size="15.5">4</text>
<text x="1122.3" y="2639" font-size="15.5" text-anchor="middle">10</text>
<text x="1135.3" y="2628" font-size="15.5">5</text>
<text x="784" y="2447" font-size="20" text-anchor="middle" transform="rotate(-90 784 2447)">FITC-A (GFP)</text>
<text x="990" y="2673.6" font-size="20.4" text-anchor="middle">PE-TexasRed-A (mCherry)</text>
<g transform="translate(1290.4 2311.3) scale(2)" stroke-width="1" fill="none"><path stroke="#0050ff" d="M139 13.5h2M140 14.5h1m6 0h1M132 15.5h2m6 0h3M133 16.5h1m1 0h1m1 0h1m1 0h1m1 0h1M133 17.5h2m1 0h1m1 0h1m1 0h2M135 18.5h1m1 0h1m1 0h1m2 0h2M133 19.5h3m3 0h1m1 0h2m3 0h1M130 20.5h1m2 0h1m2 0h1m3 0h3m2 0h2M136 21.5h1m8 0h2M128 22.5h1m1 0h1m1 0h1m1 0h1m1 0h4m1 0h4M128 23.5h3m1 0h1m1 0h2m1 0h2m2 0h1m2 0h1m2 0h1M125 24.5h10m1 0h1m2 0h1m2 0h1m1 0h2M124 25.5h2m4 0h1m1 0h4m9 0h1m1 0h1M123 26.5h1m3 0h2m1 0h1m3 0h1m12 0h1M122 27.5h3m1 0h2m2 0h1m1 0h2m9 0h1m3 0h1M119 28.5h1m1 0h1m3 0h5M117 29.5h5m1 0h2m1 0h1m3 0h1m16 0h1M117 30.5h1m1 0h1m1 0h1m1 0h1m1 0h1m4 0h1M115 31.5h4m2 0h3m3 0h2m18 0h1M116 32.5h1m1 0h1m1 0h1m1 0h1m1 0h1M117 33.5h1m1 0h2m1 0h2M115 34.5h3m3 0h1m2 0h1m22 0h1M110 35.5h1m4 0h1m2 0h1m1 0h1m1 0h1m22 0h1m1 0h1M113 36.5h2m3 0h1m27 0h2M110 37.5h2m1 0h4m30 0h1M110 38.5h2m1 0h1m2 0h1m30 0h1M111 39.5h2m1 0h2M106 40.5h1m1 0h5m1 0h1m32 0h1M107 41.5h2m38 0h1M105 42.5h1m1 0h1m3 0h1M104 43.5h2m1 0h4m35 0h2M108 44.5h4m34 0h2M105 45.5h2M107 46.5h1m1 0h1m35 0h3M102 47.5h1m42 0h1M103 48.5h1m42 0h1M101 49.5h1m1 0h1m2 0h1m34 0h1m1 0h3m1 0h1M100 50.5h1m1 0h3m33 0h1m1 0h1m5 0h2M100 51.5h1m1 0h2m39 0h2m1 0h1M100 52.5h1m1 0h1m1 0h2m37 0h4M98 53.5h4m37 0h2m1 0h1m1 0h1M96 54.5h5m38 0h2m1 0h1M96 55.5h2m38 0h1m4 0h2M95 56.5h1m1 0h1m1 0h2m34 0h2m1 0h1m3 0h2M96 57.5h1m45 0h1M94 58.5h1m2 0h1m1 0h1m35 0h1m1 0h3M93 59.5h1m5 0h2M94 60.5h1M95 61.5h1M135 62.5h4m4 0h1M93 63.5h2m1 0h1m38 0h2m5 0h2M93 64.5h1m1 0h2m36 0h1m8 0h1M95 65.5h1M92 66.5h1m3 0h1m37 0h1M90 67.5h2m38 0h4M86 68.5h1m2 0h1m1 0h1m2 0h2m34 0h1m2 0h2M87 69.5h6m2 0h1m38 0h1M86 70.5h1m6 0h1m35 0h1m1 0h1m2 0h1M89 71.5h5m35 0h1m1 0h1m1 0h2M89 72.5h1m2 0h2m30 0h1m1 0h1m1 0h3m3 0h1M88 73.5h1m1 0h2m33 0h4m1 0h1m3 0h1M89 74.5h4m31 0h2m2 0h2M88 75.5h3m1 0h1m32 0h2m1 0h1M83 76.5h1m5 0h3m1 0h1m28 0h1m2 0h2M83 77.5h1m2 0h1m3 0h1m31 0h3m1 0h2M83 78.5h1m1 0h1m3 0h1m4 0h1m27 0h2M83 79.5h3m3 0h1m2 0h1m25 0h1m1 0h1m2 0h1m5 0h2M80 80.5h1m9 0h1m1 0h1m1 0h1m31 0h1m3 0h2M79 81.5h2m3 0h1m1 0h1m3 0h2m29 0h2m1 0h4m1 0h1M80 82.5h1m3 0h1m2 0h1m6 0h1m29 0h4M78 83.5h2m3 0h5m29 0h1m2 0h2M79 84.5h1m6 0h1m31 0h1m2 0h3m6 0h2M80 85.5h2m2 0h1m1 0h1m29 0h1m3 0h1m1 0h1M75 86.5h1m6 0h1m33 0h1m3 0h1M67 87.5h2m5 0h1m1 0h2m1 0h2m35 0h6M69 88.5h1m5 0h1m2 0h2m5 0h1m32 0h5M67 89.5h6m1 0h1m1 0h2m8 0h1m32 0h1M70 90.5h4m1 0h1m2 0h1m8 0h1m23 0h1m4 0h1M59 91.5h3m14 0h1M59 92.5h1m1 0h1m7 0h1m1 0h1m1 0h1m38 0h3m1 0h2M59 93.5h2m1 0h7m37 0h1m4 0h1m2 0h1m3 0h1M59 94.5h4m1 0h3m1 0h3m1 0h1m38 0h1M52 95.5h2m4 0h2m1 0h1m2 0h1m2 0h1m1 0h2m39 0h1m6 0h2M53 96.5h1m3 0h1m3 0h3m3 0h1m2 0h1m3 0h1m32 0h1m1 0h1m1 0h3m4 0h1M49 97.5h1m6 0h1m1 0h2m2 0h1m6 0h1m3 0h1m36 0h1m3 0h1m4 0h1M49 98.5h1m6 0h6m44 0h1m2 0h2m1 0h1M57 99.5h1m5 0h1m37 0h1m7 0h2m1 0h2M51 100.5h1m2 0h3m3 0h3m36 0h1m1 0h2m1 0h2m4 0h1m1 0h1M42 101.5h2m5 0h6m1 0h2m2 0h1m1 0h1m6 0h1m32 0h1m1 0h1M42 102.5h1m6 0h1m1 0h2m2 0h2m1 0h1m41 0h2m2 0h1m2 0h1M42 103.5h1m3 0h1m3 0h1m44 0h2m3 0h1m1 0h2m2 0h2M41 104.5h2m4 0h3m4 0h1m31 0h1m14 0h1m2 0h3M40 105.5h1m1 0h2m2 0h1m38 0h1m1 0h1m2 0h1m2 0h1m1 0h2m1 0h1m1 0h2m2 0h2m1 0h1m3 0h1M37 106.5h1m2 0h1m4 0h1m47 0h1m1 0h2m1 0h1m1 0h2m4 0h1M37 107.5h1m1 0h3m37 0h1m4 0h1m2 0h1m1 0h2m4 0h2m2 0h1M38 108.5h3m37 0h2m2 0h2m1 0h1m1 0h1m2 0h1m2 0h4M30 109.5h4m1 0h2m1 0h1m32 0h1m4 0h4m4 0h2m6 0h1m1 0h1M28 110.5h5m1 0h1m1 0h2m29 0h2m1 0h1m3 0h1m5 0h3m2 0h2m2 0h4M28 111.5h2m1 0h1m1 0h1m2 0h2m28 0h2m1 0h1m5 0h1m4 0h2m7 0h2m9 0h1M28 112.5h2m1 0h1m1 0h2m2 0h1m6 0h1m20 0h1m3 0h1m5 0h3m2 0h1m3 0h2m3 0h3m2 0h1M32 113.5h3m1 0h2m1 0h1m1 0h2m2 0h1m5 0h1m3 0h2m1 0h3m1 0h1m2 0h2m8 0h1m1 0h2m1 0h1m3 0h1M32 114.5h1m2 0h1m1 0h2m1 0h1m2 0h1m1 0h2m7 0h5m1 0h1m4 0h1m1 0h1m8 0h3M40 115.5h2m1 0h2m1 0h1m9 0h1m9 0h2m8 0h1M47 116.5h1M48 117.5h1"/><path stroke="#00a0ff" d="M136 23.5h1m2 0h1m2 0h2m1 0h2M135 24.5h1m1 0h1m2 0h2m1 0h1m2 0h1M136 25.5h6M136 26.5h8m2 0h1M131 27.5h1m2 0h2m1 0h3m1 0h2m1 0h2M130 28.5h8m3 0h1m4 0h2M122 29.5h1m4 0h1m4 0h2m2 0h2m2 0h7M126 30.5h1m1 0h2m1 0h1m1 0h2m7 0h6M126 31.5h1m2 0h1m2 0h5m6 0h2m1 0h1M117 32.5h1m5 0h1m1 0h6m2 0h2m1 0h1m6 0h1m2 0h2M118 33.5h1m2 0h1m2 0h3m3 0h2m7 0h2m3 0h4M119 34.5h1m2 0h1m2 0h2m18 0h1M123 35.5h2m10 0h1m3 0h1m3 0h2m1 0h1M119 36.5h4m1 0h2m2 0h1m15 0h1M118 37.5h2m1 0h1m21 0h4M118 38.5h2m2 0h1m21 0h3M116 39.5h2m1 0h1m19 0h1m2 0h2m3 0h1M115 40.5h1m1 0h1m21 0h1m3 0h2m1 0h1M111 41.5h1m1 0h1m6 0h1m18 0h1m4 0h2M112 42.5h3m2 0h1m23 0h4m1 0h1M112 43.5h1m26 0h1m5 0h1M137 44.5h2m1 0h5M109 45.5h4m27 0h3m1 0h1M108 46.5h1m1 0h1m28 0h1m1 0h4M106 47.5h1m2 0h2m26 0h1m3 0h4M104 48.5h4m1 0h2m25 0h1m3 0h3m1 0h1M104 49.5h2m1 0h3m27 0h1m1 0h2M106 50.5h2m28 0h2m3 0h1M104 51.5h3m31 0h4M103 52.5h1m2 0h1m29 0h4M102 53.5h3m1 0h1m24 0h1m4 0h3M102 54.5h2m2 0h1m29 0h1m4 0h1M98 55.5h1m1 0h2m33 0h1m1 0h2M104 56.5h1m29 0h1M101 57.5h1m31 0h4M95 58.5h1m6 0h2m27 0h4m1 0h1M94 59.5h4m3 0h2m28 0h7M95 60.5h5m1 0h2m26 0h3m1 0h5M97 61.5h2m2 0h1m27 0h1m2 0h1m2 0h3M98 62.5h1m35 0h1M97 63.5h2m3 0h1m27 0h4M97 64.5h4m1 0h1m28 0h2M98 65.5h1m1 0h2m27 0h6M97 66.5h3m31 0h3M95 67.5h5M97 68.5h2m26 0h1m1 0h3M96 69.5h2m26 0h1m1 0h1m1 0h1M95 70.5h2m26 0h1m2 0h1m1 0h1M94 71.5h3m28 0h3M94 72.5h3m26 0h1m1 0h1m1 0h1M94 73.5h3m25 0h2M93 74.5h1m2 0h1m23 0h1m2 0h1M93 75.5h3m24 0h1m2 0h1M94 76.5h1m1 0h1m22 0h1m1 0h1M89 77.5h1m1 0h3m1 0h3m15 0h1m4 0h4M91 78.5h3m1 0h2m2 0h1m18 0h3M93 79.5h4m14 0h2m6 0h1m1 0h2M87 80.5h3m5 0h2m7 0h1m11 0h3m2 0h2M87 81.5h3m2 0h1m1 0h2m4 0h1m12 0h1m1 0h1m1 0h4M89 82.5h4m2 0h3m2 0h1m6 0h1m5 0h1m1 0h1m2 0h3M89 83.5h2m1 0h1m1 0h3m13 0h1m2 0h3m2 0h2M85 84.5h1m1 0h5m2 0h3m3 0h1m1 0h2m7 0h1m1 0h3M85 85.5h1m1 0h1m6 0h1m6 0h7m4 0h3m2 0h2M76 86.5h1m4 0h1m1 0h2m2 0h2m5 0h1m7 0h1m1 0h3m2 0h1m2 0h4m2 0h2M83 87.5h2m1 0h2m6 0h1m3 0h1m4 0h5m1 0h3m2 0h2M76 88.5h1m5 0h3m2 0h2m5 0h1m1 0h1m1 0h1m7 0h6m1 0h3M75 89.5h1m2 0h1m2 0h5m2 0h1m5 0h1m6 0h1m4 0h1m1 0h1m2 0h6M79 90.5h2m1 0h2m2 0h1m1 0h1m7 0h1m11 0h3m1 0h4M70 91.5h2m1 0h3m2 0h1m2 0h1m1 0h4m15 0h2m3 0h5m1 0h4M72 92.5h1m1 0h3m1 0h1m1 0h2m1 0h5m10 0h1m10 0h2m4 0h1M71 93.5h2m1 0h2m1 0h1m1 0h5m1 0h3m4 0h1m7 0h1m2 0h3m2 0h3M63 94.5h1m10 0h1m1 0h2m1 0h2m1 0h1m4 0h1m6 0h1m1 0h1m4 0h1m1 0h7M74 95.5h1m1 0h1m3 0h2m7 0h1m1 0h1m3 0h1m1 0h1m3 0h1m3 0h4M64 96.5h2m6 0h2m1 0h4m2 0h2m1 0h1m4 0h1m6 0h2m5 0h2m1 0h1m1 0h1M63 97.5h1m1 0h3m2 0h3m2 0h2m1 0h3m10 0h1m3 0h2m1 0h1m3 0h5m4 0h2M62 98.5h1m1 0h1m2 0h2m2 0h3m1 0h2m1 0h6m13 0h2m1 0h3m1 0h1m2 0h1M62 99.5h1m1 0h1m2 0h4m1 0h3m3 0h3m7 0h1m13 0h1m1 0h1M63 100.5h3m3 0h3m1 0h1m1 0h1m19 0h1M59 101.5h1m1 0h1m2 0h1m3 0h1m1 0h1m1 0h1m2 0h1m6 0h1m13 0h1m1 0h2M57 102.5h1m1 0h1m1 0h1m5 0h1m1 0h1m2 0h2m8 0h1m1 0h1m1 0h1m6 0h5m1 0h1M53 103.5h1m1 0h3m2 0h3m3 0h1m3 0h1m7 0h1m4 0h3m1 0h2m4 0h2m3 0h2M50 104.5h1m1 0h2m1 0h1m1 0h1m3 0h1m4 0h1m11 0h3m2 0h1m1 0h1m3 0h1m1 0h2m4 0h3M48 105.5h2m1 0h1m5 0h1m7 0h2m3 0h1m1 0h1m5 0h2m1 0h2m1 0h1m3 0h2m2 0h1m4 0h1M41 106.5h2m1 0h1m1 0h5m2 0h1m9 0h1m1 0h1m2 0h3m1 0h1m5 0h1m1 0h3m1 0h3m1 0h2m1 0h2m4 0h1M42 107.5h4m8 0h1m9 0h1m1 0h1m1 0h2m1 0h2m1 0h3m3 0h3m2 0h2m4 0h2M41 108.5h1m17 0h1m3 0h3m1 0h1m4 0h1m1 0h1m1 0h1m3 0h1m3 0h1m1 0h1m4 0h2M39 109.5h1m18 0h2m4 0h3m2 0h2m1 0h3m5 0h4m7 0h1M38 110.5h4m1 0h1m11 0h1m3 0h1m6 0h1m2 0h1m3 0h1m9 0h2M38 111.5h4m2 0h1m3 0h2m2 0h1m1 0h3m1 0h2m3 0h1m1 0h1m2 0h1m15 0h2M32 112.5h1m2 0h2m2 0h5m2 0h1m4 0h5m1 0h1m1 0h1m1 0h3M40 113.5h1m2 0h1m2 0h1m1 0h1m1 0h1m6 0h1M47 114.5h1m1 0h1m16 0h1"/><path stroke="#00e0f0" d="M145 26.5h1M140 27.5h1M138 28.5h3m4 0h1M138 29.5h2M132 30.5h1m2 0h3m1 0h1m1 0h1M131 31.5h1m6 0h2m1 0h2M131 32.5h2m2 0h1m2 0h2m4 0h1M128 33.5h2m2 0h3m1 0h2m3 0h3M127 34.5h2m1 0h1m1 0h2m4 0h2m1 0h4M126 35.5h2m2 0h1m1 0h3m1 0h2m2 0h1M126 36.5h2m2 0h4m4 0h2m1 0h3M122 37.5h2m1 0h4m3 0h3m3 0h2m1 0h2M121 38.5h1m1 0h4m3 0h4m4 0h2m1 0h1M120 39.5h1m1 0h3m9 0h1m2 0h2m1 0h2m2 0h3M116 40.5h1m1 0h6m1 0h1m5 0h1m1 0h1m4 0h1m2 0h2M114 41.5h5m3 0h1m17 0h3M115 42.5h1m2 0h3m16 0h3M114 43.5h1m1 0h1m1 0h3m9 0h1m6 0h2m1 0h3M112 44.5h2m21 0h2m2 0h1M113 45.5h1m22 0h4M111 46.5h3m19 0h2m2 0h2M107 47.5h2m2 0h3m21 0h2m1 0h2M108 48.5h1m2 0h3m18 0h1m1 0h2m1 0h3M110 49.5h1m23 0h3m1 0h1M108 50.5h3m1 0h1m18 0h1m2 0h2M107 51.5h1m1 0h1m21 0h4M107 52.5h4m21 0h3M107 53.5h1m25 0h2M104 54.5h2m1 0h1m24 0h3M102 55.5h5m25 0h1m1 0h1M101 56.5h2m2 0h3m24 0h2M102 57.5h1m1 0h2m2 0h1m23 0h1M104 58.5h2m24 0h1M103 59.5h2m1 0h1m22 0h2M103 60.5h2m23 0h1M100 61.5h1m2 0h2m23 0h1m1 0h2m1 0h1M99 62.5h4m26 0h5M99 63.5h3m26 0h1M101 64.5h1m24 0h1m2 0h1M99 65.5h1m26 0h1M100 66.5h2m26 0h1M125 67.5h4M99 68.5h2m20 0h1m1 0h2m1 0h1M98 69.5h2m20 0h1m1 0h1m2 0h1M97 70.5h3m22 0h1m1 0h2M97 71.5h2m22 0h4M97 72.5h2m1 0h1m1 0h1m16 0h1m2 0h1M97 73.5h3m2 0h1m1 0h1m12 0h2m2 0h1M95 74.5h1m1 0h2m2 0h2m12 0h3m1 0h1m1 0h2M97 75.5h3m3 0h1m11 0h1m1 0h3m1 0h1M97 76.5h2m13 0h1m5 0h1M98 77.5h1m4 0h1m6 0h1m1 0h1m1 0h1m1 0h1M97 78.5h2m4 0h3m1 0h2m2 0h2m1 0h1m1 0h1M97 79.5h1m1 0h3m3 0h1m7 0h4M97 80.5h3m1 0h1m5 0h2m1 0h6M96 81.5h4m7 0h5m2 0h1M93 82.5h1m8 0h3m1 0h1m2 0h4M97 83.5h2m2 0h2m1 0h6m1 0h2M92 84.5h2m3 0h2m2 0h1m2 0h2m3 0h2m1 0h1M88 85.5h6m1 0h1m2 0h3m7 0h4M89 86.5h5m1 0h7m6 0h1m1 0h1M88 87.5h6m1 0h1m1 0h1m1 0h3M89 88.5h1m1 0h3m1 0h1m1 0h1m1 0h1m1 0h3m1 0h1M89 89.5h1m3 0h1m2 0h1m1 0h1m1 0h1m1 0h3M81 90.5h1m7 0h3m2 0h1m2 0h1m2 0h2m1 0h2m1 0h1M79 91.5h2m1 0h1m6 0h2m3 0h8m2 0h1M79 92.5h1m2 0h1m5 0h1m4 0h1m1 0h2m3 0h9M78 93.5h1m5 0h1m3 0h2m4 0h6m1 0h1M78 94.5h1m5 0h2m2 0h1m2 0h2m4 0h4m1 0h1M75 95.5h1m1 0h2m3 0h3m1 0h1m1 0h1m1 0h1m1 0h2m2 0h1m2 0h2m1 0h2M79 96.5h1m3 0h1m2 0h3m1 0h2m1 0h3m2 0h3m1 0h1M83 97.5h2m1 0h5m1 0h3m2 0h1m1 0h3M65 98.5h1m18 0h5m3 0h2m1 0h1m3 0h1m3 0h1M65 99.5h1m5 0h1m3 0h3m3 0h3m1 0h1m1 0h1m1 0h2m2 0h7m3 0h1M66 100.5h3m3 0h1m1 0h1m3 0h1m3 0h2m1 0h4m1 0h1m5 0h2M65 101.5h3m3 0h1m1 0h1m4 0h1m1 0h1m2 0h2m1 0h7m2 0h1M63 102.5h4m1 0h1m1 0h1m4 0h3m1 0h2m4 0h1m1 0h3m1 0h2M63 103.5h3m1 0h1m3 0h4m1 0h2m1 0h4m6 0h1m1 0h2M56 104.5h1m1 0h3m1 0h4m1 0h2m1 0h8m3 0h1m2 0h1m3 0h1M52 105.5h2m1 0h1m2 0h1m1 0h2m1 0h2m2 0h3m1 0h1m1 0h5M52 106.5h1m2 0h4m1 0h3m1 0h1m1 0h2m5 0h5M48 107.5h4m3 0h7m3 0h1m1 0h1m5 0h1M43 108.5h5m1 0h3m2 0h2m1 0h1m2 0h1m5 0h1m2 0h1m3 0h1M40 109.5h4m1 0h2m2 0h1m5 0h3m2 0h2m1 0h1m3 0h2M45 110.5h1m1 0h1m2 0h2m1 0h1m2 0h1m1 0h1m1 0h4M45 111.5h3m3 0h1m1 0h1m3 0h1m3 0h2M47 112.5h4m7 0h1M49 113.5h1"/><path stroke="#20f0a0" d="M138 30.5h1m1 0h1M141 32.5h1M135 33.5h1m2 0h1M129 34.5h1m4 0h3M128 35.5h2m1 0h1m6 0h1m2 0h1M129 36.5h1m4 0h2m1 0h1m2 0h1M129 37.5h2m4 0h3m2 0h1M127 38.5h1m1 0h1m4 0h4m2 0h1M121 39.5h1m3 0h4m2 0h3m2 0h1M127 40.5h1m1 0h2m5 0h2m2 0h1M119 41.5h1m1 0h1m1 0h1m2 0h1m1 0h2m7 0h1M121 42.5h1m1 0h1m1 0h1m1 0h1m1 0h4m3 0h1m3 0h1M115 43.5h1m1 0h1m3 0h1m6 0h2m1 0h1m4 0h1M114 44.5h3m1 0h3m6 0h1M115 45.5h2m17 0h2M114 46.5h1m17 0h1m2 0h2M114 47.5h2m16 0h1m1 0h1M133 48.5h1M111 49.5h2m17 0h4M111 50.5h1m18 0h1m1 0h1M110 51.5h2m18 0h1M111 52.5h1m18 0h1M109 53.5h2m21 0h1M109 54.5h1m17 0h1m3 0h1M107 55.5h2m22 0h1m1 0h1M103 56.5h1m24 0h1m2 0h1M103 57.5h1m2 0h2m23 0h1M106 58.5h2m19 0h1m1 0h1M105 59.5h1m1 0h1m20 0h1M109 60.5h1m17 0h1M125 61.5h3M103 62.5h3m21 0h2M126 63.5h1M103 64.5h1m20 0h1m2 0h1M102 65.5h2m18 0h1m4 0h2M103 66.5h1m1 0h1m15 0h1m2 0h1m1 0h2M100 67.5h3m17 0h1m1 0h1m1 0h1M101 68.5h3m12 0h1m3 0h1m1 0h1M100 69.5h1m17 0h1m2 0h1M101 70.5h1m9 0h1m1 0h1m5 0h3M102 71.5h2m13 0h4M99 72.5h1m6 0h1m6 0h1m6 0h1M101 73.5h1m1 0h1m1 0h1m2 0h1m4 0h4m2 0h2M99 74.5h1m3 0h1m1 0h2m1 0h1m4 0h2m3 0h1M100 75.5h1m3 0h1m1 0h1m1 0h1m4 0h1m2 0h1M99 76.5h1m2 0h4m1 0h1m1 0h3m1 0h3m1 0h1M99 77.5h1m1 0h2m1 0h6m5 0h1m1 0h1M101 78.5h2m3 0h1m2 0h2m2 0h1m1 0h1M102 79.5h3m2 0h1m1 0h2M100 80.5h1m1 0h1m2 0h2m2 0h1M101 81.5h6m5 0h1M98 82.5h2m1 0h1m3 0h1m2 0h1M100 83.5h1m2 0h1M99 84.5h1m7 0h1M96 85.5h2M90 88.5h1m13 0h1M90 89.5h1m1 0h1m2 0h1m1 0h1m1 0h1m5 0h1M92 90.5h2m1 0h1m2 0h2m5 0h1M92 91.5h2m11 0h2M90 92.5h3m1 0h1M90 93.5h2m1 0h1M89 94.5h2m2 0h1m1 0h1M85 95.5h1m8 0h1M85 96.5h1M89 98.5h1m1 0h1M66 99.5h1m17 0h1m1 0h1m4 0h1M76 100.5h1m2 0h3m2 0h1m4 0h1m1 0h1m1 0h2M76 101.5h2m1 0h1m1 0h1m3 0h1m7 0h2M81 102.5h1m8 0h1M68 103.5h2m5 0h1m14 0h1M69 104.5h1M62 105.5h1M51 106.5h1m2 0h1m4 0h1M47 107.5h1m14 0h2M48 108.5h1m4 0h1m2 0h1m5 0h1m5 0h1M47 109.5h2m1 0h1m1 0h3m7 0h1M44 110.5h1m1 0h1m1 0h2m4 0h1m2 0h1M50 111.5h1"/><path stroke="#40e040" d="M140 31.5h1M136 36.5h1M128 38.5h1M129 39.5h2m4 0h1M124 40.5h1m1 0h1m1 0h1m3 0h1m1 0h2M124 41.5h2m1 0h1m2 0h2M122 42.5h1m5 0h1m5 0h2M124 43.5h1m2 0h1m6 0h2M117 44.5h1m3 0h2m2 0h1m2 0h5m1 0h1M114 45.5h1m2 0h1m1 0h1m6 0h2m4 0h1M115 46.5h1m1 0h1m1 0h1M116 47.5h1m9 0h1m3 0h1m2 0h1M116 48.5h1m14 0h1M113 49.5h3m3 0h1M113 50.5h1m19 0h1M108 51.5h1m19 0h2M112 52.5h1m2 0h1M108 53.5h1m3 0h1m16 0h2M108 54.5h1m1 0h1m19 0h1M125 55.5h1m1 0h2m1 0h1M108 56.5h1m11 0h1m1 0h1m3 0h1m3 0h1M109 57.5h1m17 0h1m2 0h1M108 58.5h1m19 0h1M108 59.5h1m17 0h2M106 60.5h2m6 0h1m2 0h1m5 0h1m2 0h1M105 61.5h1m1 0h1M106 62.5h1m7 0h1m8 0h4M103 63.5h1m18 0h3m2 0h1M106 64.5h1m15 0h2m1 0h1m2 0h1M104 65.5h3m17 0h1M104 66.5h1m1 0h2m14 0h2m1 0h1M103 67.5h3m2 0h1m7 0h1m2 0h1m1 0h1m1 0h1M104 68.5h1m3 0h1m3 0h2m5 0h1M101 69.5h2m4 0h1m2 0h1m5 0h1m2 0h1M100 70.5h1m1 0h2m2 0h1m9 0h2M99 71.5h3m3 0h2m3 0h3M101 72.5h1m1 0h1m3 0h1m3 0h2m2 0h4M100 73.5h1m6 0h1m2 0h1m1 0h1M100 74.5h1m3 0h1m2 0h1m1 0h4M101 75.5h2m4 0h1m2 0h1m1 0h1m1 0h1M100 76.5h2m4 0h1m1 0h1m7 0h1M100 77.5h1M100 78.5h1M106 79.5h1m1 0h1M103 80.5h1M91 89.5h1M91 91.5h1M92 99.5h1M92 100.5h1M59 105.5h1M52 107.5h2M52 108.5h1m8 0h1M51 109.5h1M52 110.5h1"/><path stroke="#1010f0" d="M111 34.5h1M104 44.5h1M139 56.5h1M92 67.5h1M135 70.5h1M123 83.5h1M79 85.5h1M117 93.5h1M57 95.5h1M53 97.5h1M48 98.5h1M106 102.5h1M47 103.5h1M112 105.5h1"/><path stroke="#ffff00" d="M132 41.5h2M124 42.5h1m8 0h1M123 43.5h1m9 0h1M123 44.5h1m9 0h1M124 46.5h1m1 0h1m4 0h1M117 47.5h1m1 0h1m2 0h1m4 0h1m1 0h1M119 48.5h2m1 0h1m6 0h2M120 49.5h2m2 0h1M115 50.5h1m1 0h3m5 0h1m2 0h1M112 51.5h1m4 0h1m7 0h2M113 52.5h1m7 0h1m7 0h1M120 53.5h1m1 0h1M113 54.5h1m4 0h2m2 0h1m2 0h1m2 0h1M109 55.5h2m1 0h1m5 0h1m2 0h1m2 0h1M110 56.5h2m7 0h1m1 0h1m5 0h1M110 57.5h1m13 0h1M109 58.5h1m1 0h1m3 0h1m8 0h1m1 0h1M109 59.5h2m4 0h1m1 0h2m2 0h1M119 60.5h2m3 0h1M109 61.5h2m1 0h1m3 0h1m4 0h1M108 62.5h1m1 0h2m9 0h2M107 63.5h1M104 64.5h1m3 0h3m10 0h1M110 65.5h1m1 0h1m4 0h2m1 0h1m4 0h1M108 66.5h2m2 0h1m3 0h2M114 67.5h1m2 0h1M110 68.5h1m3 0h2m1 0h1M106 69.5h1m5 0h1m4 0h1M107 70.5h1m2 0h1M109 71.5h1M104 72.5h1m5 0h1M109 73.5h1"/><path stroke="#ffa000" d="M134 41.5h1M122 45.5h1m1 0h1M122 46.5h2m6 0h1M120 47.5h2m1 0h2m3 0h1M121 48.5h1m2 0h2M122 49.5h1m2 0h1M123 50.5h2M114 51.5h2m2 0h1m3 0h1M124 52.5h1M121 53.5h1m4 0h1M114 54.5h1M113 55.5h1m5 0h2M115 56.5h1m1 0h1m6 0h1M112 57.5h1m2 0h1m2 0h3M110 58.5h1m2 0h2m1 0h1m5 0h1M119 59.5h2m1 0h1M121 60.5h1M111 61.5h1m1 0h2m7 0h1M107 62.5h1m5 0h1M105 63.5h1m2 0h1m3 0h2m4 0h2m1 0h1M116 64.5h1m3 0h1M108 65.5h1m6 0h2M110 66.5h1m4 0h1m2 0h1M110 67.5h4M109 68.5h1m8 0h1M105 70.5h1m2 0h1m5 0h1M105 72.5h1"/><path stroke="#a0f020" d="M135 41.5h2M126 42.5h1M122 43.5h1m2 0h2m5 0h1M124 44.5h1m1 0h1M118 45.5h1m1 0h2m1 0h1m1 0h1m2 0h4m1 0h1M116 46.5h1m1 0h1m1 0h1m6 0h3M131 47.5h1M114 48.5h2m1 0h1m5 0h1m3 0h2M116 49.5h2m10 0h2M114 50.5h1m1 0h1m9 0h2m1 0h1M124 51.5h1m2 0h1M118 52.5h1m7 0h3M111 53.5h1m1 0h2m9 0h1m2 0h2M111 54.5h2m8 0h1m2 0h1m1 0h1m2 0h1M117 55.5h1m4 0h1m3 0h1m2 0h1M109 56.5h1m2 0h1m12 0h1m3 0h1M111 57.5h1m1 0h1m11 0h2m1 0h2M113 59.5h2m1 0h1m8 0h1M105 60.5h1m2 0h1m1 0h1m4 0h2m1 0h1M106 61.5h1m1 0h1m9 0h1m1 0h1m2 0h2M109 62.5h1m2 0h1m2 0h1M104 63.5h1m1 0h1m2 0h3m8 0h1m4 0h1M105 64.5h1m1 0h1m5 0h2m2 0h1M107 65.5h1m1 0h1m11 0h1M119 66.5h2M106 67.5h2m7 0h1m2 0h1M105 68.5h3m3 0h1M103 69.5h3m2 0h1m2 0h1m1 0h1M104 70.5h1m4 0h1m2 0h1m2 0h1m2 0h1M104 71.5h1m2 0h2m4 0h4M108 72.5h2m4 0h1M106 73.5h1m4 0h1M109 75.5h1m1 0h1"/><path stroke="#ff2000" d="M121 46.5h1m3 0h1M118 47.5h1m6 0h1M118 48.5h1m7 0h1M118 49.5h1m4 0h1m2 0h2M120 50.5h3M113 51.5h1m2 0h1m2 0h3m1 0h1M114 52.5h1m1 0h2m1 0h2m1 0h2m1 0h1M115 53.5h5m3 0h1m1 0h1M115 54.5h3m2 0h1m2 0h1M111 55.5h1m2 0h3m6 0h1M113 56.5h2m1 0h1m1 0h1m4 0h1M114 57.5h1m1 0h2m3 0h3M112 58.5h1m4 0h5m1 0h1m1 0h1M111 59.5h2m10 0h2M111 60.5h3m8 0h1m2 0h1M115 61.5h1m1 0h1m1 0h1M116 62.5h5M114 63.5h4M111 64.5h2m2 0h1m2 0h2M111 65.5h1m1 0h2m4 0h1M111 66.5h1m1 0h2M109 67.5h1M109 69.5h1m4 0h2"/><path stroke="#1010f0" stroke-width="0.65" d="M121.2 0.5h.65M142.2 0.5h.65M143.2 2.5h.65M144.2 3.5h.65M128.2 4.5h.65M143.2 6.5h.65M144.2 6.5h.65M145.2 6.5h.65M146.2 6.5h.65M131.2 8.5h.65M131.2 9.5h.65M136.2 10.5h.65M146.2 10.5h.65M125.2 11.5h.65M134.2 11.5h.65M141.2 11.5h.65M142.2 11.5h.65M147.2 11.5h.65M142.2 12.5h.65M134.2 13.5h.65M137.2 13.5h.65M143.2 13.5h.65M125.2 14.5h.65M145.2 14.5h.65M124.2 15.5h.65M131.2 15.5h.65M120.2 16.5h.65M127.2 16.5h.65M131.2 16.5h.65M145.2 17.5h.65M146.2 17.5h.65M125.2 18.5h.65M127.2 18.5h.65M130.2 18.5h.65M144.2 18.5h.65M115.2 20.5h.65M123.2 20.5h.65M127.2 20.5h.65M138.2 20.5h.65M117.2 21.5h.65M125.2 22.5h.65M126.2 22.5h.65M121.2 23.5h.65M115.2 24.5h.65M123.2 24.5h.65M113.2 25.5h.65M117.2 25.5h.65M115.2 26.5h.65M116.2 26.5h.65M120.2 26.5h.65M111.2 27.5h.65M112.2 28.5h.65M116.2 28.5h.65M101.2 29.5h.65M113.2 29.5h.65M113.2 30.5h.65M107.2 31.5h.65M104.2 32.5h.65M107.2 32.5h.65M111.2 32.5h.65M114.2 32.5h.65M111.2 33.5h.65M114.2 33.5h.65M107.2 35.5h.65M111.2 35.5h.65M108.2 36.5h.65M105.2 37.5h.65M106.2 37.5h.65M106.2 38.5h.65M29.2 39.5h.65M101.2 39.5h.65M105.2 40.5h.65M104.2 41.5h.65M102.2 42.5h.65M98.2 43.5h.65M103.2 43.5h.65M93.2 44.5h.65M100.2 44.5h.65M99.2 45.5h.65M94.2 46.5h.65M102.2 46.5h.65M99.2 47.5h.65M95.2 48.5h.65M94.2 49.5h.65M93.2 51.5h.65M98.2 51.5h.65M92.2 52.5h.65M96.2 52.5h.65M147.2 52.5h.65M34.2 54.5h.65M43.2 54.5h.65M87.2 55.5h.65M88.2 55.5h.65M93.2 55.5h.65M145.2 55.5h.65M147.2 55.5h.65M36.2 56.5h.65M43.2 56.5h.65M79.2 56.5h.65M92.2 56.5h.65M145.2 56.5h.65M147.2 56.5h.65M88.2 58.5h.65M141.2 58.5h.65M143.2 58.5h.65M145.2 58.5h.65M147.2 58.5h.65M42.2 59.5h.65M44.2 59.5h.65M76.2 59.5h.65M92.2 60.5h.65M45.2 61.5h.65M144.2 61.5h.65M87.2 62.5h.65M91.2 62.5h.65M144.2 62.5h.65M147.2 62.5h.65M33.2 63.5h.65M34.2 63.5h.65M40.2 63.5h.65M91.2 63.5h.65M42.2 64.5h.65M52.2 64.5h.65M85.2 64.5h.65M38.2 65.5h.65M40.2 65.5h.65M41.2 65.5h.65M86.2 65.5h.65M143.2 65.5h.65M29.2 66.5h.65M35.2 66.5h.65M38.2 66.5h.65M138.2 66.5h.65M140.2 66.5h.65M141.2 66.5h.65M145.2 66.5h.65M31.2 67.5h.65M40.2 67.5h.65M85.2 67.5h.65M87.2 67.5h.65M88.2 67.5h.65M137.2 67.5h.65M85.2 68.5h.65M142.2 68.5h.65M36.2 69.5h.65M43.2 69.5h.65M142.2 69.5h.65M30.2 70.5h.65M39.2 70.5h.65M137.2 70.5h.65M47.2 71.5h.65M83.2 71.5h.65M86.2 71.5h.65M138.2 71.5h.65M78.2 72.5h.65M132.2 72.5h.65M137.2 72.5h.65M139.2 72.5h.65M140.2 72.5h.65M37.2 73.5h.65M38.2 73.5h.65M136.2 73.5h.65M145.2 73.5h.65M86.2 74.5h.65M141.2 74.5h.65M44.2 75.5h.65M73.2 75.5h.65M81.2 75.5h.65M83.2 75.5h.65M133.2 75.5h.65M136.2 75.5h.65M38.2 76.5h.65M39.2 76.5h.65M131.2 76.5h.65M132.2 76.5h.65M134.2 76.5h.65M130.2 77.5h.65M132.2 77.5h.65M137.2 77.5h.65M33.2 78.5h.65M41.2 78.5h.65M127.2 78.5h.65M128.2 78.5h.65M138.2 78.5h.65M36.2 79.5h.65M125.2 79.5h.65M138.2 79.5h.65M59.2 80.5h.65M82.2 80.5h.65M132.2 80.5h.65M141.2 80.5h.65M34.2 81.5h.65M41.2 81.5h.65M74.2 81.5h.65M137.2 81.5h.65M38.2 82.5h.65M64.2 82.5h.65M71.2 82.5h.65M141.2 82.5h.65M67.2 83.5h.65M74.2 83.5h.65M81.2 83.5h.65M127.2 83.5h.65M136.2 83.5h.65M43.2 84.5h.65M65.2 84.5h.65M70.2 84.5h.65M72.2 84.5h.65M128.2 84.5h.65M132.2 84.5h.65M51.2 85.5h.65M66.2 85.5h.65M126.2 85.5h.65M133.2 85.5h.65M44.2 86.5h.65M50.2 86.5h.65M68.2 86.5h.65M72.2 86.5h.65M124.2 86.5h.65M128.2 86.5h.65M130.2 86.5h.65M65.2 87.5h.65M128.2 87.5h.65M35.2 88.5h.65M47.2 88.5h.65M54.2 88.5h.65M62.2 88.5h.65M64.2 88.5h.65M124.2 88.5h.65M131.2 88.5h.65M60.2 89.5h.65M61.2 89.5h.65M133.2 89.5h.65M34.2 90.5h.65M52.2 90.5h.65M53.2 90.5h.65M121.2 90.5h.65M124.2 90.5h.65M126.2 90.5h.65M144.2 90.5h.65M38.2 91.5h.65M46.2 91.5h.65M52.2 91.5h.65M57.2 91.5h.65M64.2 91.5h.65M65.2 91.5h.65M121.2 91.5h.65M124.2 91.5h.65M129.2 91.5h.65M130.2 91.5h.65M56.2 92.5h.65M119.2 92.5h.65M125.2 92.5h.65M41.2 93.5h.65M49.2 93.5h.65M52.2 93.5h.65M54.2 93.5h.65M55.2 93.5h.65M128.2 93.5h.65M139.2 93.5h.65M44.2 94.5h.65M49.2 94.5h.65M57.2 94.5h.65M121.2 94.5h.65M120.2 95.5h.65M127.2 95.5h.65M139.2 95.5h.65M38.2 96.5h.65M43.2 96.5h.65M117.2 96.5h.65M129.2 96.5h.65M135.2 96.5h.65M42.2 98.5h.65M51.2 98.5h.65M119.2 98.5h.65M121.2 99.5h.65M45.2 100.5h.65M48.2 100.5h.65M108.2 100.5h.65M117.2 100.5h.65M118.2 100.5h.65M110.2 101.5h.65M119.2 101.5h.65M128.2 101.5h.65M36.2 102.5h.65M108.2 102.5h.65M111.2 102.5h.65M114.2 102.5h.65M36.2 103.5h.65M44.2 103.5h.65M110.2 103.5h.65M112.2 103.5h.65M115.2 104.5h.65M37.2 105.5h.65M110.2 105.5h.65M36.2 106.5h.65M111.2 106.5h.65M32.2 107.5h.65M33.2 107.5h.65M106.2 107.5h.65M98.2 108.5h.65M101.2 108.5h.65M105.2 108.5h.65M111.2 109.5h.65M99.2 110.5h.65M104.2 110.5h.65M112.2 110.5h.65M24.2 111.5h.65M27.2 111.5h.65M77.2 111.5h.65M87.2 111.5h.65M93.2 111.5h.65M96.2 111.5h.65M20.2 112.5h.65M23.2 112.5h.65M98.2 112.5h.65M101.2 112.5h.65M25.2 113.5h.65M29.2 113.5h.65M69.2 113.5h.65M73.2 113.5h.65M87.2 113.5h.65M90.2 113.5h.65M94.2 113.5h.65M116.2 113.5h.65M24.2 114.5h.65M53.2 114.5h.65M70.2 114.5h.65M72.2 114.5h.65M81.2 114.5h.65M101.2 114.5h.65M30.2 115.5h.65M32.2 115.5h.65M61.2 115.5h.65M62.2 115.5h.65M68.2 115.5h.65M72.2 115.5h.65M73.2 115.5h.65M86.2 115.5h.65M90.2 115.5h.65M97.2 115.5h.65M99.2 115.5h.65M102.2 115.5h.65M15.2 116.5h.65M27.2 116.5h.65M41.2 116.5h.65M49.2 116.5h.65M62.2 116.5h.65M70.2 116.5h.65M83.2 116.5h.65M85.2 116.5h.65M88.2 116.5h.65M89.2 116.5h.65M95.2 116.5h.65M51.2 117.5h.65M55.2 117.5h.65M79.2 117.5h.65M59.2 118.5h.65M60.2 118.5h.65M65.2 118.5h.65M71.2 118.5h.65M74.2 118.5h.65M78.2 118.5h.65M81.2 118.5h.65M82.2 118.5h.65M83.2 118.5h.65M85.2 118.5h.65M107.2 118.5h.65M24.2 119.5h.65M53.2 119.5h.65M78.2 119.5h.65M90.2 119.5h.65M94.2 119.5h.65M20.2 120.5h.65M54.2 120.5h.65M62.2 120.5h.65M85.2 120.5h.65M62.2 121.5h.65M71.2 121.5h.65M78.2 121.5h.65M85.2 121.5h.65M88.2 121.5h.65M64.2 122.5h.65M77.2 122.5h.65M98.2 122.5h.65M14.2 123.5h.65M73.2 123.5h.65M76.2 123.5h.65M96.2 123.5h.65M111.2 123.5h.65M59.2 124.5h.65M74.2 124.5h.65M76.2 124.5h.65M86.2 125.5h.65M66.2 126.5h.65M89.2 126.5h.65M70.2 127.5h.65M53.2 128.5h.65M58.2 129.5h.65M68.2 129.5h.65M79.2 129.5h.65M63.2 130.5h.65M75.2 130.5h.65M82.2 130.5h.65M88.2 130.5h.65M53.2 131.5h.65M103.2 131.5h.65M81.2 134.5h.65M64.2 135.5h.65M77.2 135.5h.65M88.2 136.5h.65M54.2 137.5h.65M48.2 140.5h.65M67.2 143.5h.65"/><path stroke="#0050ff" stroke-width="0.65" d="M139.2 12.5h.65M138.2 14.5h.65M143.2 15.5h.65M146.2 16.5h.65M131.2 20.5h.65M147.2 20.5h.65M129.2 21.5h.65M117.2 27.5h.65M118.2 27.5h.65M109.2 34.5h.65M113.2 35.5h.65M99.2 48.5h.65M100.2 48.5h.65M139.2 59.5h.65M139.2 63.5h.65M92.2 64.5h.65M140.2 64.5h.65M136.2 65.5h.65M90.2 66.5h.65M87.2 71.5h.65M136.2 72.5h.65M85.2 76.5h.65M86.2 76.5h.65M135.2 76.5h.65M136.2 76.5h.65M87.2 77.5h.65M78.2 80.5h.65M130.2 82.5h.65M123.2 86.5h.65M63.2 88.5h.65M123.2 89.5h.65M67.2 90.5h.65M121.2 92.5h.65M128.2 92.5h.65M121.2 93.5h.65M119.2 94.5h.65M50.2 95.5h.65M51.2 95.5h.65M54.2 95.5h.65M55.2 96.5h.65M115.2 96.5h.65M48.2 97.5h.65M115.2 97.5h.65M54.2 98.5h.65M52.2 99.5h.65M115.2 99.5h.65M42.2 100.5h.65M45.2 103.5h.65M108.2 104.5h.65M39.2 105.5h.65M108.2 105.5h.65M113.2 105.5h.65M104.2 106.5h.65M35.2 108.5h.65M101.2 110.5h.65M81.2 113.5h.65M77.2 116.5h.65M75.2 117.5h.65M83.2 117.5h.65M88.2 117.5h.65M74.2 123.5h.65"/></g>
<rect x="1289.4" y="2310.3" width="298.1" height="297" fill="none" stroke="#6a6a6a" stroke-width="1.3"/>
<line x1="1415.4" y1="2310.3" x2="1415.4" y2="2607.3" stroke="#000" stroke-width="2.2"/>
<line x1="1289.4" y1="2495.7" x2="1587.5" y2="2495.7" stroke="#000" stroke-width="2.2"/>
<rect x="1290.5" y="2313.7" width="121.4" height="179.1" fill="none" stroke="#3f9498" stroke-width="4" stroke-dasharray="15 10"/>
<rect x="1476.5" y="2313.7" width="109" height="178.3" fill="none" stroke="#b28fd6" stroke-width="4" stroke-dasharray="15 10"/>
<rect x="1476.5" y="2496" width="109" height="107.3" fill="none" stroke="#ee8a3c" stroke-width="4" stroke-dasharray="15 10"/>
<text x="1349" y="2340.6" font-size="19.7" text-anchor="middle" fill="#3f9498">OnF</text>
<text x="1349" y="2365.1" font-size="19.7" text-anchor="middle" fill="#3f9498">0.25%</text>
<text x="1516.3" y="2340.6" font-size="19.7" text-anchor="middle" fill="#b28fd6">Dual</text>
<text x="1516.3" y="2365.1" font-size="19.7" text-anchor="middle" fill="#b28fd6">85.6%</text>
<text x="1546.6" y="2553.4" font-size="19.7" text-anchor="middle" fill="#ee8a3c">Stem</text>
<text x="1546.6" y="2577" font-size="19.7" text-anchor="middle" fill="#ee8a3c">2.26%</text>
<line x1="1281.4" y1="2337.7" x2="1289.4" y2="2337.7" stroke="#000" stroke-width="2"/>
<line x1="1281.4" y1="2409.8" x2="1289.4" y2="2409.8" stroke="#000" stroke-width="2"/>
<line x1="1281.4" y1="2490.5" x2="1289.4" y2="2490.5" stroke="#000" stroke-width="2"/>
<line x1="1281.4" y1="2541" x2="1289.4" y2="2541" stroke="#000" stroke-width="2"/>
<line x1="1281.4" y1="2588" x2="1289.4" y2="2588" stroke="#000" stroke-width="2"/>
<line x1="1284.9" y1="2466.2" x2="1289.4" y2="2466.2" stroke="#000" stroke-width="1.2"/>
<line x1="1284.9" y1="2388.1" x2="1289.4" y2="2388.1" stroke="#000" stroke-width="1.2"/>
<line x1="1284.9" y1="2452" x2="1289.4" y2="2452" stroke="#000" stroke-width="1.2"/>
<line x1="1284.9" y1="2375.4" x2="1289.4" y2="2375.4" stroke="#000" stroke-width="1.2"/>
<line x1="1284.9" y1="2441.9" x2="1289.4" y2="2441.9" stroke="#000" stroke-width="1.2"/>
<line x1="1284.9" y1="2366.4" x2="1289.4" y2="2366.4" stroke="#000" stroke-width="1.2"/>
<line x1="1284.9" y1="2434.1" x2="1289.4" y2="2434.1" stroke="#000" stroke-width="1.2"/>
<line x1="1284.9" y1="2359.4" x2="1289.4" y2="2359.4" stroke="#000" stroke-width="1.2"/>
<line x1="1284.9" y1="2427.7" x2="1289.4" y2="2427.7" stroke="#000" stroke-width="1.2"/>
<line x1="1284.9" y1="2353.7" x2="1289.4" y2="2353.7" stroke="#000" stroke-width="1.2"/>
<line x1="1284.9" y1="2422.3" x2="1289.4" y2="2422.3" stroke="#000" stroke-width="1.2"/>
<line x1="1284.9" y1="2348.9" x2="1289.4" y2="2348.9" stroke="#000" stroke-width="1.2"/>
<line x1="1284.9" y1="2417.6" x2="1289.4" y2="2417.6" stroke="#000" stroke-width="1.2"/>
<line x1="1284.9" y1="2344.7" x2="1289.4" y2="2344.7" stroke="#000" stroke-width="1.2"/>
<line x1="1284.9" y1="2413.5" x2="1289.4" y2="2413.5" stroke="#000" stroke-width="1.2"/>
<line x1="1284.9" y1="2341" x2="1289.4" y2="2341" stroke="#000" stroke-width="1.2"/>
<line x1="1284.9" y1="2526.6" x2="1289.4" y2="2526.6" stroke="#000" stroke-width="1.2"/>
<line x1="1284.9" y1="2554.4" x2="1289.4" y2="2554.4" stroke="#000" stroke-width="1.2"/>
<line x1="1284.9" y1="2518.1" x2="1289.4" y2="2518.1" stroke="#000" stroke-width="1.2"/>
<line x1="1284.9" y1="2562.3" x2="1289.4" y2="2562.3" stroke="#000" stroke-width="1.2"/>
<line x1="1284.9" y1="2512.1" x2="1289.4" y2="2512.1" stroke="#000" stroke-width="1.2"/>
<line x1="1284.9" y1="2567.9" x2="1289.4" y2="2567.9" stroke="#000" stroke-width="1.2"/>
<line x1="1284.9" y1="2507.5" x2="1289.4" y2="2507.5" stroke="#000" stroke-width="1.2"/>
<line x1="1284.9" y1="2572.2" x2="1289.4" y2="2572.2" stroke="#000" stroke-width="1.2"/>
<line x1="1284.9" y1="2503.7" x2="1289.4" y2="2503.7" stroke="#000" stroke-width="1.2"/>
<line x1="1284.9" y1="2575.7" x2="1289.4" y2="2575.7" stroke="#000" stroke-width="1.2"/>
<line x1="1284.9" y1="2500.5" x2="1289.4" y2="2500.5" stroke="#000" stroke-width="1.2"/>
<line x1="1284.9" y1="2578.7" x2="1289.4" y2="2578.7" stroke="#000" stroke-width="1.2"/>
<line x1="1284.9" y1="2497.7" x2="1289.4" y2="2497.7" stroke="#000" stroke-width="1.2"/>
<line x1="1284.9" y1="2581.3" x2="1289.4" y2="2581.3" stroke="#000" stroke-width="1.2"/>
<line x1="1284.9" y1="2495.2" x2="1289.4" y2="2495.2" stroke="#000" stroke-width="1.2"/>
<line x1="1284.9" y1="2583.6" x2="1289.4" y2="2583.6" stroke="#000" stroke-width="1.2"/>
<line x1="1284.9" y1="2493" x2="1289.4" y2="2493" stroke="#000" stroke-width="1.2"/>
<line x1="1284.9" y1="2585.7" x2="1289.4" y2="2585.7" stroke="#000" stroke-width="1.2"/>
<rect x="1282.4" y="2536" width="7" height="10" fill="#000"/>
<line x1="1308.7" y1="2607.3" x2="1308.7" y2="2615.3" stroke="#000" stroke-width="2"/>
<line x1="1359.7" y1="2607.3" x2="1359.7" y2="2615.3" stroke="#000" stroke-width="2"/>
<line x1="1405.9" y1="2607.3" x2="1405.9" y2="2615.3" stroke="#000" stroke-width="2"/>
<line x1="1487.5" y1="2607.3" x2="1487.5" y2="2615.3" stroke="#000" stroke-width="2"/>
<line x1="1558.1" y1="2607.3" x2="1558.1" y2="2615.3" stroke="#000" stroke-width="2"/>
<line x1="1430.5" y1="2607.3" x2="1430.5" y2="2611.8" stroke="#000" stroke-width="1.2"/>
<line x1="1508.8" y1="2607.3" x2="1508.8" y2="2611.8" stroke="#000" stroke-width="1.2"/>
<line x1="1579.4" y1="2607.3" x2="1579.4" y2="2611.8" stroke="#000" stroke-width="1.2"/>
<line x1="1444.8" y1="2607.3" x2="1444.8" y2="2611.8" stroke="#000" stroke-width="1.2"/>
<line x1="1521.2" y1="2607.3" x2="1521.2" y2="2611.8" stroke="#000" stroke-width="1.2"/>
<line x1="1455" y1="2607.3" x2="1455" y2="2611.8" stroke="#000" stroke-width="1.2"/>
<line x1="1530" y1="2607.3" x2="1530" y2="2611.8" stroke="#000" stroke-width="1.2"/>
<line x1="1462.9" y1="2607.3" x2="1462.9" y2="2611.8" stroke="#000" stroke-width="1.2"/>
<line x1="1536.8" y1="2607.3" x2="1536.8" y2="2611.8" stroke="#000" stroke-width="1.2"/>
<line x1="1469.4" y1="2607.3" x2="1469.4" y2="2611.8" stroke="#000" stroke-width="1.2"/>
<line x1="1542.4" y1="2607.3" x2="1542.4" y2="2611.8" stroke="#000" stroke-width="1.2"/>
<line x1="1474.9" y1="2607.3" x2="1474.9" y2="2611.8" stroke="#000" stroke-width="1.2"/>
<line x1="1547.2" y1="2607.3" x2="1547.2" y2="2611.8" stroke="#000" stroke-width="1.2"/>
<line x1="1479.6" y1="2607.3" x2="1479.6" y2="2611.8" stroke="#000" stroke-width="1.2"/>
<line x1="1551.3" y1="2607.3" x2="1551.3" y2="2611.8" stroke="#000" stroke-width="1.2"/>
<line x1="1483.8" y1="2607.3" x2="1483.8" y2="2611.8" stroke="#000" stroke-width="1.2"/>
<line x1="1554.9" y1="2607.3" x2="1554.9" y2="2611.8" stroke="#000" stroke-width="1.2"/>
<line x1="1372.9" y1="2607.3" x2="1372.9" y2="2611.8" stroke="#000" stroke-width="1.2"/>
<line x1="1345.1" y1="2607.3" x2="1345.1" y2="2611.8" stroke="#000" stroke-width="1.2"/>
<line x1="1380.6" y1="2607.3" x2="1380.6" y2="2611.8" stroke="#000" stroke-width="1.2"/>
<line x1="1336.6" y1="2607.3" x2="1336.6" y2="2611.8" stroke="#000" stroke-width="1.2"/>
<line x1="1386.1" y1="2607.3" x2="1386.1" y2="2611.8" stroke="#000" stroke-width="1.2"/>
<line x1="1330.5" y1="2607.3" x2="1330.5" y2="2611.8" stroke="#000" stroke-width="1.2"/>
<line x1="1390.4" y1="2607.3" x2="1390.4" y2="2611.8" stroke="#000" stroke-width="1.2"/>
<line x1="1325.8" y1="2607.3" x2="1325.8" y2="2611.8" stroke="#000" stroke-width="1.2"/>
<line x1="1393.9" y1="2607.3" x2="1393.9" y2="2611.8" stroke="#000" stroke-width="1.2"/>
<line x1="1322" y1="2607.3" x2="1322" y2="2611.8" stroke="#000" stroke-width="1.2"/>
<line x1="1396.8" y1="2607.3" x2="1396.8" y2="2611.8" stroke="#000" stroke-width="1.2"/>
<line x1="1318.8" y1="2607.3" x2="1318.8" y2="2611.8" stroke="#000" stroke-width="1.2"/>
<line x1="1399.3" y1="2607.3" x2="1399.3" y2="2611.8" stroke="#000" stroke-width="1.2"/>
<line x1="1315.9" y1="2607.3" x2="1315.9" y2="2611.8" stroke="#000" stroke-width="1.2"/>
<line x1="1401.6" y1="2607.3" x2="1401.6" y2="2611.8" stroke="#000" stroke-width="1.2"/>
<line x1="1313.5" y1="2607.3" x2="1313.5" y2="2611.8" stroke="#000" stroke-width="1.2"/>
<line x1="1403.6" y1="2607.3" x2="1403.6" y2="2611.8" stroke="#000" stroke-width="1.2"/>
<line x1="1311.2" y1="2607.3" x2="1311.2" y2="2611.8" stroke="#000" stroke-width="1.2"/>
<rect x="1353.7" y="2607.3" width="12" height="6" fill="#000"/>
<text x="1260.4" y="2349.2" font-size="15.5" text-anchor="end">10</text>
<text x="1264.4" y="2338.2" font-size="15.5">5</text>
<text x="1260.4" y="2421.3" font-size="15.5" text-anchor="end">10</text>
<text x="1264.4" y="2410.3" font-size="15.5">4</text>
<text x="1260.4" y="2502" font-size="15.5" text-anchor="end">10</text>
<text x="1264.4" y="2491" font-size="15.5">3</text>
<text x="1263.4" y="2546" font-size="15.5" text-anchor="end">0</text>
<text x="1260.4" y="2598" font-size="15.5" text-anchor="end">-10</text>
<text x="1264.4" y="2587.5" font-size="15.5">3</text>
<text x="1309.7" y="2639" font-size="15.5" text-anchor="middle">-10</text>
<text x="1327.7" y="2628" font-size="15.5">3</text>
<text x="1359.7" y="2639" font-size="15.5" text-anchor="middle">0</text>
<text x="1409.9" y="2639" font-size="15.5" text-anchor="middle">10</text>
<text x="1422.9" y="2628" font-size="15.5">3</text>
<text x="1491.5" y="2639" font-size="15.5" text-anchor="middle">10</text>
<text x="1504.5" y="2628" font-size="15.5">4</text>
<text x="1562.1" y="2639" font-size="15.5" text-anchor="middle">10</text>
<text x="1575.1" y="2628" font-size="15.5">5</text>
<text x="1232.5" y="2448" font-size="20" text-anchor="middle" transform="rotate(-90 1232.5 2448)">FITC-A (GFP)</text>
<text x="1448" y="2670.7" font-size="20.4" text-anchor="middle">PE-TexasRed-A (mCherry)</text>
<g transform="translate(1754.5 2304.2) scale(2)" stroke-width="1" fill="none"><path stroke="#0050ff" d="M145 64.5h1M140 66.5h1M141 67.5h1m1 0h1M141 68.5h2m3 0h1M130 69.5h2m9 0h3m1 0h2M130 70.5h3m6 0h1m3 0h2m1 0h1M129 71.5h4m2 0h1m3 0h5m1 0h2M130 72.5h3m2 0h2m3 0h9M123 73.5h3m5 0h3m1 0h3m1 0h7m1 0h1M124 74.5h2m2 0h1m1 0h1m1 0h2m2 0h8m1 0h4M124 75.5h1m1 0h1m1 0h5m5 0h2m1 0h1m1 0h7M119 76.5h2m2 0h3m1 0h2m1 0h1m1 0h1m1 0h1m1 0h9m2 0h3M119 77.5h5m2 0h3m2 0h1m3 0h1m2 0h2m3 0h2m1 0h3M119 78.5h5m2 0h2m6 0h2m2 0h4m1 0h4m1 0h1M115 79.5h9m1 0h1m12 0h1m3 0h7M112 80.5h5m1 0h4m1 0h2m7 0h1m7 0h1m1 0h1m2 0h4M112 81.5h11m8 0h1m13 0h4M112 82.5h5m1 0h2m24 0h6M106 83.5h1m3 0h10m22 0h5m1 0h2M106 84.5h8m1 0h2m8 0h1m16 0h3m1 0h1m1 0h2M107 85.5h1m1 0h5m2 0h1m1 0h1m6 0h1m16 0h2m1 0h4M106 86.5h1m1 0h5m1 0h1m30 0h3M106 87.5h6m29 0h1m2 0h3M105 88.5h4m1 0h2m32 0h2M107 89.5h2m2 0h1m1 0h1m2 0h1m23 0h1m4 0h4M108 90.5h1m1 0h1m30 0h2m1 0h2M101 91.5h1m1 0h4m1 0h1m32 0h1m1 0h4M100 92.5h5m1 0h1m31 0h2m2 0h1m1 0h3M101 93.5h1m2 0h2m1 0h1m33 0h4m1 0h1M102 94.5h3m1 0h1m35 0h1m1 0h1M100 95.5h4m38 0h2M95 96.5h3m1 0h4m2 0h1m35 0h3M96 97.5h1m3 0h2m36 0h2m1 0h3M97 98.5h5m37 0h4M94 99.5h1m1 0h1m1 0h1m1 0h3m33 0h3m2 0h1M93 100.5h1m2 0h2m1 0h2m34 0h3m4 0h3M89 101.5h2m2 0h1m1 0h7m34 0h1m5 0h2M92 102.5h4m1 0h3m31 0h1m4 0h1M92 103.5h9m31 0h2m1 0h2M91 104.5h5m1 0h1m2 0h1m24 0h1m5 0h6M72 105.5h2m3 0h2m10 0h6m2 0h1m26 0h1m4 0h6M58 106.5h2m1 0h1m2 0h6m2 0h3m1 0h2m1 0h6m3 0h3m1 0h2m1 0h2m1 0h1m24 0h1m1 0h8M49 107.5h1m2 0h2m2 0h21m1 0h4m1 0h1m1 0h2m1 0h2m4 0h2m28 0h1m2 0h3M37 108.5h1m6 0h1m2 0h1m1 0h2m1 0h6m2 0h1m1 0h1m1 0h2m1 0h3m2 0h5m2 0h3m11 0h1m30 0h2m1 0h2M33 109.5h2m1 0h1m2 0h7m4 0h1m2 0h2m1 0h2m3 0h4m3 0h1m2 0h1m8 0h2m7 0h2m24 0h1m2 0h2m3 0h3M30 110.5h6m1 0h2m22 0h1m27 0h1m5 0h1m17 0h10m1 0h2M27 111.5h5m5 0h1m19 0h1m5 0h2m35 0h1m13 0h8M27 112.5h5m39 0h1m4 0h2m10 0h1m6 0h1m4 0h5m4 0h1m2 0h9M27 113.5h5m28 0h1m3 0h2m2 0h2m1 0h3m2 0h4m1 0h5m2 0h3m1 0h5m3 0h1m1 0h1m1 0h2m3 0h9m3 0h1M28 114.5h1m1 0h5m2 0h2m1 0h1m1 0h1m12 0h3m3 0h6m1 0h2m1 0h1m1 0h12m2 0h4m1 0h5m1 0h1m2 0h2m1 0h5m1 0h7m4 0h2M35 115.5h1m2 0h9m4 0h4m1 0h1m1 0h4m1 0h2m1 0h6m1 0h3m3 0h4m1 0h1m4 0h1m3 0h3m1 0h9m1 0h2m2 0h5M42 116.5h3m21 0h2m3 0h1m7 0h5m10 0h4m1 0h2m1 0h6m4 0h2M94 117.5h4m2 0h2m1 0h2m3 0h1M94 118.5h1"/><path stroke="#1010f0" d="M140 67.5h1M141 70.5h1M130 73.5h1M123 75.5h1m1 0h1m1 0h1M149 77.5h1M111 81.5h1M97 95.5h1M98 97.5h2M93 99.5h1M135 105.5h1M60 106.5h1m2 0h1m6 0h1M41 108.5h1M77 115.5h2m6 0h1M101 118.5h2"/><path stroke="#00a0ff" d="M134 74.5h2M133 75.5h2m1 0h2m2 0h1M131 76.5h1m1 0h1m1 0h1M124 77.5h2m3 0h2m1 0h3m1 0h2m2 0h2m3 0h1M124 78.5h2m2 0h6m2 0h2m4 0h1M124 79.5h1m1 0h12m1 0h3M125 80.5h7m1 0h4m1 0h2m1 0h1m1 0h2M123 81.5h8m1 0h2m1 0h3m1 0h6M120 82.5h24M120 83.5h4m1 0h2m2 0h5m1 0h7M117 84.5h8m1 0h1m1 0h4m1 0h1m4 0h1m1 0h2m3 0h1M114 85.5h2m1 0h1m1 0h1m1 0h4m4 0h1m1 0h1m1 0h1m5 0h1m1 0h1m2 0h1M113 86.5h1m1 0h5m2 0h1m2 0h2m2 0h2m2 0h2m2 0h1m2 0h2m1 0h2M112 87.5h7m1 0h2m1 0h2m1 0h2m6 0h1m3 0h3m1 0h1M112 88.5h1m2 0h4m18 0h7M110 89.5h1m1 0h1m1 0h2m1 0h3m17 0h3m1 0h4M111 90.5h5m22 0h3m2 0h1M107 91.5h1m1 0h2m1 0h1m1 0h2m21 0h4m1 0h1M107 92.5h1m1 0h3m25 0h1m2 0h2M106 93.5h1m1 0h2m27 0h4M105 94.5h1m1 0h3m28 0h4M104 95.5h7m26 0h5M103 96.5h2m1 0h3m28 0h4M103 97.5h3m3 0h1m26 0h2M102 98.5h3m1 0h1m26 0h5M103 99.5h1m29 0h3M98 100.5h1m2 0h3m27 0h4M102 101.5h2m24 0h1m1 0h2m1 0h2M100 102.5h4m2 0h1m23 0h1m1 0h3M101 103.5h2m24 0h5m2 0h1M96 104.5h1m1 0h2m1 0h1m1 0h1m18 0h1m3 0h5M95 105.5h2m1 0h4m1 0h1m21 0h3M91 106.5h1m2 0h1m2 0h1m1 0h5m18 0h1m1 0h1M82 107.5h1m1 0h1m5 0h4m2 0h7m1 0h1m15 0h4M58 108.5h2m6 0h1m4 0h1m5 0h2m3 0h11m1 0h8m1 0h3m6 0h1m1 0h1m1 0h1m1 0h6M46 109.5h3m6 0h1m2 0h3m4 0h3m1 0h2m2 0h4m1 0h2m2 0h7m2 0h11m1 0h4m1 0h1m2 0h4m1 0h2m2 0h3M36 110.5h1m2 0h11m1 0h7m1 0h1m2 0h5m1 0h2m1 0h6m1 0h5m2 0h2m1 0h1m1 0h5m1 0h5m1 0h2m1 0h1m1 0h6M32 111.5h1m1 0h3m1 0h1m2 0h1m1 0h2m1 0h1m6 0h4m1 0h5m2 0h4m1 0h9m1 0h1m1 0h1m1 0h8m1 0h7m1 0h6m1 0h5M32 112.5h1m1 0h4m4 0h1m1 0h1m3 0h1m5 0h5m1 0h8m1 0h2m1 0h4m2 0h2m1 0h4m1 0h2m1 0h6m1 0h3m6 0h4m1 0h1M32 113.5h12m3 0h2m2 0h1m1 0h1m1 0h5m1 0h3m2 0h2m2 0h1m3 0h2m4 0h1m5 0h1m10 0h3m3 0h1m2 0h3M35 114.5h2m2 0h1m1 0h1m1 0h12m3 0h3m6 0h1m2 0h1m26 0h1m1 0h1m3 0h1M47 115.5h1"/><path stroke="#00e0f0" d="M137 80.5h1M134 81.5h1m3 0h1M127 83.5h2m5 0h1M127 84.5h1m4 0h1m1 0h4m1 0h1M120 85.5h1m5 0h3m1 0h1m1 0h1m1 0h5m1 0h1M120 86.5h2m1 0h2m2 0h2m2 0h2m2 0h1m2 0h2M119 87.5h1m2 0h1m2 0h1m3 0h5m1 0h3M113 88.5h2m4 0h4m1 0h1m3 0h2m2 0h1m1 0h2M124 89.5h1m9 0h3M116 90.5h1m13 0h3m3 0h2M111 91.5h1m1 0h1m2 0h2m10 0h1m3 0h4M112 92.5h4m17 0h4M110 93.5h3m21 0h1M110 94.5h3m22 0h3M111 95.5h1m24 0h1M109 96.5h2m24 0h2M106 97.5h3m1 0h1m22 0h3M107 98.5h3m20 0h3M104 99.5h2m3 0h1m20 0h3M104 100.5h2m1 0h1m22 0h1M105 101.5h2m2 0h1m22 0h1M104 102.5h1m2 0h2m19 0h2M103 103.5h4m1 0h1m15 0h3M102 104.5h1m1 0h2m2 0h1m11 0h1m2 0h2M102 105.5h1m1 0h3m2 0h2m7 0h6M104 106.5h3m4 0h1m3 0h1m3 0h3M103 107.5h1m1 0h8m1 0h2m1 0h3M102 108.5h1m3 0h6m1 0h1m1 0h1m1 0h1M77 109.5h1m24 0h1m4 0h1m1 0h2M50 110.5h1m26 0h1m5 0h2m2 0h1m13 0h1m2 0h1m1 0h1M33 111.5h1m5 0h2m1 0h1m2 0h1m1 0h6m16 0h1m9 0h1m1 0h1m1 0h1m8 0h1m14 0h1M33 112.5h1m4 0h4m1 0h1m1 0h3m1 0h2m1 0h2m14 0h1m11 0h1M44 113.5h3m3 0h1m1 0h1m1 0h1"/><path stroke="#20f0a0" d="M136 86.5h1M123 88.5h1m1 0h2m3 0h2m1 0h1m2 0h1M120 89.5h4m1 0h2m3 0h2m1 0h1M117 90.5h3m4 0h1m4 0h1m3 0h3M118 91.5h1m10 0h1m1 0h1m4 0h1M116 92.5h2m2 0h1m10 0h2M113 93.5h3m17 0h1m1 0h2M113 94.5h1m3 0h1m15 0h1M112 95.5h1m18 0h1m3 0h1M111 96.5h1m1 0h1m1 0h1m11 0h1m4 0h2M111 97.5h1m18 0h3M105 98.5h1m4 0h2m17 0h1M106 99.5h1m1 0h1m2 0h1m6 0h1m9 0h2M106 100.5h1m1 0h2m1 0h1m16 0h2M104 101.5h1m2 0h2m4 0h1m11 0h1m1 0h1m1 0h1M105 102.5h1m18 0h1m1 0h2M107 103.5h1m1 0h1m4 0h1m5 0h4M106 104.5h2m2 0h1m4 0h1m2 0h1m2 0h1M107 105.5h1m3 0h1m1 0h5M107 106.5h4m1 0h1m3 0h1m1 0h1M113 107.5h1m2 0h1M51 112.5h1M49 113.5h1"/><path stroke="#40e040" d="M127 88.5h1M127 89.5h3m2 0h1M120 90.5h3m3 0h2M119 91.5h2m2 0h1m2 0h1m3 0h1M118 92.5h2m1 0h2m6 0h1M116 93.5h2m3 0h1m7 0h2M114 94.5h1m1 0h1m2 0h1m8 0h2m1 0h2m1 0h1M113 95.5h1m2 0h1m2 0h1m12 0h3M112 96.5h1m1 0h1m16 0h1m2 0h1M112 97.5h2m13 0h1M107 99.5h1m2 0h1m1 0h2m11 0h1M110 100.5h1m1 0h1m10 0h1m3 0h1M121 101.5h1m1 0h1M109 102.5h4m5 0h3m1 0h2m1 0h1M110 103.5h2m4 0h2M109 104.5h1m1 0h4m1 0h2m1 0h1M108 105.5h1m3 0h1M113 106.5h2m2 0h1"/><path stroke="#ffff00" d="M123 90.5h1M124 91.5h2M125 92.5h1M118 93.5h1m6 0h1m5 0h1M115 94.5h1m5 0h1m1 0h1M118 95.5h1m4 0h2m2 0h1M125 96.5h2M115 97.5h1m8 0h2m2 0h1M122 98.5h1m2 0h2M115 99.5h1m8 0h1m1 0h1M113 100.5h1m2 0h1m2 0h1m6 0h1M119 101.5h1m2 0h1m1 0h1M113 102.5h2"/><path stroke="#a0f020" d="M125 90.5h1m2 0h1M121 91.5h2M123 92.5h1m4 0h1m1 0h1M119 93.5h2m3 0h1m3 0h1m3 0h1M130 94.5h1M114 95.5h2m5 0h2m5 0h3M124 96.5h1m4 0h2M114 97.5h1m11 0h1m2 0h1M112 98.5h3m8 0h2m2 0h2M123 99.5h1m3 0h1M114 100.5h2m1 0h1m6 0h2M110 101.5h2m3 0h4m7 0h1M115 102.5h3m3 0h1M112 103.5h2m1 0h1m2 0h2"/><path stroke="#ffa000" d="M127 91.5h1M126 92.5h2M123 93.5h1m3 0h1M118 94.5h1m5 0h2m1 0h1M120 95.5h1M116 97.5h2m4 0h1M115 98.5h1M114 99.5h1m2 0h1m4 0h1M122 100.5h1M112 101.5h1m1 0h1"/><path stroke="#ff2000" d="M124 92.5h1M122 93.5h1m3 0h1M120 94.5h1m1 0h1m3 0h1M117 95.5h1m7 0h2M116 96.5h8m4 0h1M118 97.5h4m1 0h1M116 98.5h6M116 99.5h1m2 0h3M118 100.5h1m1 0h2M120 101.5h1"/><path stroke="#1010f0" stroke-width="0.65" d="M38.2 40.5h.65M37.2 41.5h.65M38.2 41.5h.65M40.2 44.5h.65M144.2 44.5h.65M36.2 45.5h.65M40.2 46.5h.65M39.2 47.5h.65M42.2 47.5h.65M138.2 47.5h.65M31.2 48.5h.65M36.2 48.5h.65M36.2 50.5h.65M137.2 50.5h.65M34.2 51.5h.65M35.2 51.5h.65M140.2 51.5h.65M34.2 52.5h.65M41.2 53.5h.65M44.2 53.5h.65M140.2 53.5h.65M36.2 54.5h.65M38.2 54.5h.65M39.2 54.5h.65M40.2 54.5h.65M130.2 54.5h.65M30.2 55.5h.65M34.2 55.5h.65M36.2 55.5h.65M39.2 55.5h.65M41.2 55.5h.65M42.2 55.5h.65M129.2 55.5h.65M143.2 55.5h.65M35.2 56.5h.65M36.2 56.5h.65M40.2 56.5h.65M46.2 56.5h.65M142.2 56.5h.65M149.2 56.5h.65M29.2 57.5h.65M37.2 57.5h.65M39.2 57.5h.65M29.2 58.5h.65M35.2 58.5h.65M36.2 58.5h.65M142.2 58.5h.65M143.2 58.5h.65M147.2 58.5h.65M35.2 59.5h.65M39.2 59.5h.65M42.2 59.5h.65M45.2 59.5h.65M134.2 59.5h.65M137.2 59.5h.65M144.2 59.5h.65M145.2 59.5h.65M146.2 59.5h.65M147.2 59.5h.65M34.2 60.5h.65M35.2 60.5h.65M40.2 60.5h.65M41.2 60.5h.65M138.2 60.5h.65M140.2 60.5h.65M142.2 60.5h.65M147.2 60.5h.65M35.2 61.5h.65M38.2 61.5h.65M41.2 61.5h.65M137.2 61.5h.65M138.2 61.5h.65M142.2 61.5h.65M143.2 61.5h.65M145.2 61.5h.65M147.2 61.5h.65M37.2 62.5h.65M40.2 62.5h.65M41.2 62.5h.65M119.2 62.5h.65M121.2 62.5h.65M132.2 62.5h.65M134.2 62.5h.65M135.2 62.5h.65M138.2 62.5h.65M139.2 62.5h.65M140.2 62.5h.65M145.2 62.5h.65M147.2 62.5h.65M149.2 62.5h.65M29.2 63.5h.65M35.2 63.5h.65M39.2 63.5h.65M41.2 63.5h.65M120.2 63.5h.65M129.2 63.5h.65M135.2 63.5h.65M139.2 63.5h.65M142.2 63.5h.65M147.2 63.5h.65M33.2 64.5h.65M34.2 64.5h.65M35.2 64.5h.65M36.2 64.5h.65M37.2 64.5h.65M39.2 64.5h.65M123.2 64.5h.65M127.2 64.5h.65M130.2 64.5h.65M133.2 64.5h.65M139.2 64.5h.65M142.2 64.5h.65M146.2 64.5h.65M148.2 64.5h.65M149.2 64.5h.65M34.2 65.5h.65M38.2 65.5h.65M41.2 65.5h.65M132.2 65.5h.65M133.2 65.5h.65M134.2 65.5h.65M136.2 65.5h.65M137.2 65.5h.65M138.2 65.5h.65M141.2 65.5h.65M146.2 65.5h.65M148.2 65.5h.65M28.2 66.5h.65M36.2 66.5h.65M42.2 66.5h.65M45.2 66.5h.65M115.2 66.5h.65M125.2 66.5h.65M126.2 66.5h.65M130.2 66.5h.65M132.2 66.5h.65M135.2 66.5h.65M136.2 66.5h.65M137.2 66.5h.65M139.2 66.5h.65M142.2 66.5h.65M145.2 66.5h.65M147.2 66.5h.65M34.2 67.5h.65M35.2 67.5h.65M36.2 67.5h.65M39.2 67.5h.65M40.2 67.5h.65M112.2 67.5h.65M114.2 67.5h.65M122.2 67.5h.65M124.2 67.5h.65M128.2 67.5h.65M129.2 67.5h.65M131.2 67.5h.65M134.2 67.5h.65M137.2 67.5h.65M146.2 67.5h.65M147.2 67.5h.65M31.2 68.5h.65M33.2 68.5h.65M35.2 68.5h.65M44.2 68.5h.65M121.2 68.5h.65M122.2 68.5h.65M124.2 68.5h.65M126.2 68.5h.65M129.2 68.5h.65M130.2 68.5h.65M135.2 68.5h.65M137.2 68.5h.65M138.2 68.5h.65M139.2 68.5h.65M144.2 68.5h.65M32.2 69.5h.65M33.2 69.5h.65M37.2 69.5h.65M38.2 69.5h.65M113.2 69.5h.65M119.2 69.5h.65M123.2 69.5h.65M125.2 69.5h.65M126.2 69.5h.65M133.2 69.5h.65M135.2 69.5h.65M149.2 69.5h.65M32.2 70.5h.65M33.2 70.5h.65M37.2 70.5h.65M39.2 70.5h.65M40.2 70.5h.65M41.2 70.5h.65M111.2 70.5h.65M117.2 70.5h.65M122.2 70.5h.65M124.2 70.5h.65M126.2 70.5h.65M128.2 70.5h.65M134.2 70.5h.65M137.2 70.5h.65M147.2 70.5h.65M37.2 71.5h.65M43.2 71.5h.65M111.2 71.5h.65M127.2 71.5h.65M128.2 71.5h.65M134.2 71.5h.65M138.2 71.5h.65M35.2 72.5h.65M37.2 72.5h.65M113.2 72.5h.65M118.2 72.5h.65M120.2 72.5h.65M122.2 72.5h.65M125.2 72.5h.65M127.2 72.5h.65M128.2 72.5h.65M137.2 72.5h.65M31.2 73.5h.65M36.2 73.5h.65M44.2 73.5h.65M115.2 73.5h.65M120.2 73.5h.65M126.2 73.5h.65M36.2 74.5h.65M113.2 74.5h.65M117.2 74.5h.65M118.2 74.5h.65M120.2 74.5h.65M121.2 74.5h.65M122.2 74.5h.65M34.2 75.5h.65M39.2 75.5h.65M43.2 75.5h.65M44.2 75.5h.65M108.2 75.5h.65M116.2 75.5h.65M117.2 75.5h.65M119.2 75.5h.65M121.2 75.5h.65M33.2 76.5h.65M40.2 76.5h.65M109.2 76.5h.65M111.2 76.5h.65M115.2 76.5h.65M117.2 76.5h.65M38.2 77.5h.65M39.2 77.5h.65M40.2 77.5h.65M103.2 77.5h.65M108.2 77.5h.65M109.2 77.5h.65M115.2 77.5h.65M116.2 77.5h.65M34.2 78.5h.65M35.2 78.5h.65M44.2 78.5h.65M101.2 78.5h.65M106.2 78.5h.65M108.2 78.5h.65M113.2 78.5h.65M115.2 78.5h.65M117.2 78.5h.65M99.2 79.5h.65M102.2 79.5h.65M103.2 79.5h.65M109.2 79.5h.65M113.2 79.5h.65M31.2 80.5h.65M33.2 80.5h.65M99.2 80.5h.65M103.2 80.5h.65M108.2 80.5h.65M109.2 80.5h.65M111.2 80.5h.65M94.2 81.5h.65M97.2 81.5h.65M98.2 81.5h.65M104.2 81.5h.65M107.2 81.5h.65M97.2 82.5h.65M103.2 82.5h.65M105.2 82.5h.65M108.2 82.5h.65M109.2 82.5h.65M110.2 82.5h.65M29.2 83.5h.65M95.2 83.5h.65M98.2 83.5h.65M104.2 83.5h.65M108.2 83.5h.65M40.2 84.5h.65M100.2 84.5h.65M101.2 84.5h.65M102.2 84.5h.65M103.2 84.5h.65M104.2 84.5h.65M105.2 84.5h.65M96.2 85.5h.65M101.2 85.5h.65M103.2 85.5h.65M105.2 85.5h.65M149.2 85.5h.65M91.2 86.5h.65M101.2 86.5h.65M102.2 86.5h.65M103.2 86.5h.65M148.2 86.5h.65M95.2 87.5h.65M98.2 87.5h.65M100.2 87.5h.65M104.2 87.5h.65M149.2 87.5h.65M91.2 88.5h.65M94.2 88.5h.65M97.2 88.5h.65M103.2 88.5h.65M147.2 88.5h.65M93.2 89.5h.65M96.2 89.5h.65M97.2 89.5h.65M98.2 89.5h.65M99.2 89.5h.65M100.2 89.5h.65M101.2 89.5h.65M102.2 89.5h.65M149.2 89.5h.65M92.2 90.5h.65M94.2 90.5h.65M99.2 90.5h.65M103.2 90.5h.65M105.2 90.5h.65M149.2 90.5h.65M79.2 91.5h.65M91.2 91.5h.65M93.2 91.5h.65M95.2 91.5h.65M97.2 91.5h.65M99.2 91.5h.65M90.2 92.5h.65M92.2 92.5h.65M95.2 92.5h.65M97.2 92.5h.65M98.2 92.5h.65M149.2 92.5h.65M89.2 93.5h.65M95.2 93.5h.65M99.2 93.5h.65M149.2 93.5h.65M85.2 94.5h.65M87.2 94.5h.65M89.2 94.5h.65M91.2 94.5h.65M92.2 94.5h.65M96.2 94.5h.65M97.2 94.5h.65M146.2 94.5h.65M147.2 94.5h.65M148.2 94.5h.65M149.2 94.5h.65M81.2 95.5h.65M86.2 95.5h.65M95.2 95.5h.65M99.2 95.5h.65M86.2 96.5h.65M87.2 96.5h.65M91.2 96.5h.65M92.2 96.5h.65M94.2 96.5h.65M145.2 96.5h.65M148.2 96.5h.65M78.2 97.5h.65M88.2 97.5h.65M93.2 97.5h.65M149.2 97.5h.65M89.2 98.5h.65M91.2 98.5h.65M93.2 98.5h.65M146.2 98.5h.65M81.2 99.5h.65M84.2 99.5h.65M91.2 99.5h.65M92.2 99.5h.65M139.2 99.5h.65M143.2 99.5h.65M147.2 99.5h.65M81.2 100.5h.65M83.2 100.5h.65M90.2 100.5h.65M145.2 100.5h.65M146.2 100.5h.65M79.2 101.5h.65M82.2 101.5h.65M85.2 101.5h.65M86.2 101.5h.65M87.2 101.5h.65M139.2 101.5h.65M146.2 101.5h.65M71.2 102.5h.65M73.2 102.5h.65M83.2 102.5h.65M84.2 102.5h.65M90.2 102.5h.65M140.2 102.5h.65M141.2 102.5h.65M144.2 102.5h.65M23.2 103.5h.65M47.2 103.5h.65M58.2 103.5h.65M62.2 103.5h.65M74.2 103.5h.65M84.2 103.5h.65M86.2 103.5h.65M87.2 103.5h.65M88.2 103.5h.65M138.2 103.5h.65M141.2 103.5h.65M142.2 103.5h.65M148.2 103.5h.65M32.2 104.5h.65M50.2 104.5h.65M54.2 104.5h.65M56.2 104.5h.65M58.2 104.5h.65M61.2 104.5h.65M62.2 104.5h.65M63.2 104.5h.65M72.2 104.5h.65M76.2 104.5h.65M78.2 104.5h.65M81.2 104.5h.65M83.2 104.5h.65M85.2 104.5h.65M86.2 104.5h.65M89.2 104.5h.65M137.2 104.5h.65M138.2 104.5h.65M29.2 105.5h.65M42.2 105.5h.65M44.2 105.5h.65M48.2 105.5h.65M50.2 105.5h.65M51.2 105.5h.65M53.2 105.5h.65M59.2 105.5h.65M63.2 105.5h.65M66.2 105.5h.65M69.2 105.5h.65M71.2 105.5h.65M75.2 105.5h.65M80.2 105.5h.65M84.2 105.5h.65M85.2 105.5h.65M138.2 105.5h.65M141.2 105.5h.65M142.2 105.5h.65M25.2 106.5h.65M29.2 106.5h.65M31.2 106.5h.65M34.2 106.5h.65M37.2 106.5h.65M39.2 106.5h.65M42.2 106.5h.65M43.2 106.5h.65M46.2 106.5h.65M48.2 106.5h.65M49.2 106.5h.65M50.2 106.5h.65M55.2 106.5h.65M56.2 106.5h.65M62.2 106.5h.65M87.2 106.5h.65M134.2 106.5h.65M137.2 106.5h.65M140.2 106.5h.65M141.2 106.5h.65M143.2 106.5h.65M146.2 106.5h.65M32.2 107.5h.65M37.2 107.5h.65M40.2 107.5h.65M41.2 107.5h.65M45.2 107.5h.65M46.2 107.5h.65M55.2 107.5h.65M133.2 107.5h.65M135.2 107.5h.65M137.2 107.5h.65M138.2 107.5h.65M141.2 107.5h.65M147.2 107.5h.65M19.2 108.5h.65M24.2 108.5h.65M29.2 108.5h.65M31.2 108.5h.65M33.2 108.5h.65M35.2 108.5h.65M38.2 108.5h.65M131.2 108.5h.65M132.2 108.5h.65M136.2 108.5h.65M21.2 109.5h.65M25.2 109.5h.65M29.2 109.5h.65M31.2 109.5h.65M129.2 109.5h.65M130.2 109.5h.65M131.2 109.5h.65M134.2 109.5h.65M21.2 110.5h.65M24.2 110.5h.65M28.2 110.5h.65M127.2 110.5h.65M129.2 110.5h.65M130.2 110.5h.65M131.2 110.5h.65M132.2 110.5h.65M136.2 110.5h.65M139.2 110.5h.65M12.2 111.5h.65M16.2 111.5h.65M21.2 111.5h.65M23.2 111.5h.65M25.2 111.5h.65M123.2 111.5h.65M125.2 111.5h.65M127.2 111.5h.65M128.2 111.5h.65M131.2 111.5h.65M133.2 111.5h.65M142.2 111.5h.65M20.2 112.5h.65M24.2 112.5h.65M121.2 112.5h.65M124.2 112.5h.65M126.2 112.5h.65M131.2 112.5h.65M20.2 113.5h.65M22.2 113.5h.65M24.2 113.5h.65M25.2 113.5h.65M26.2 113.5h.65M127.2 113.5h.65M129.2 113.5h.65M139.2 113.5h.65M20.2 114.5h.65M22.2 114.5h.65M24.2 114.5h.65M27.2 114.5h.65M123.2 114.5h.65M125.2 114.5h.65M126.2 114.5h.65M131.2 114.5h.65M139.2 114.5h.65M23.2 115.5h.65M28.2 115.5h.65M30.2 115.5h.65M87.2 115.5h.65M91.2 115.5h.65M110.2 115.5h.65M116.2 115.5h.65M118.2 115.5h.65M119.2 115.5h.65M121.2 115.5h.65M123.2 115.5h.65M124.2 115.5h.65M128.2 115.5h.65M130.2 115.5h.65M138.2 115.5h.65M28.2 116.5h.65M32.2 116.5h.65M33.2 116.5h.65M35.2 116.5h.65M37.2 116.5h.65M39.2 116.5h.65M51.2 116.5h.65M54.2 116.5h.65M56.2 116.5h.65M57.2 116.5h.65M59.2 116.5h.65M62.2 116.5h.65M76.2 116.5h.65M77.2 116.5h.65M87.2 116.5h.65M91.2 116.5h.65M92.2 116.5h.65M109.2 116.5h.65M117.2 116.5h.65M28.2 117.5h.65M49.2 117.5h.65M51.2 117.5h.65M61.2 117.5h.65M62.2 117.5h.65M67.2 117.5h.65M70.2 117.5h.65M72.2 117.5h.65M76.2 117.5h.65M77.2 117.5h.65M82.2 117.5h.65M84.2 117.5h.65M90.2 117.5h.65M98.2 117.5h.65M105.2 117.5h.65M110.2 117.5h.65M115.2 117.5h.65M117.2 117.5h.65M118.2 117.5h.65M119.2 117.5h.65M120.2 117.5h.65M123.2 117.5h.65M127.2 117.5h.65M67.2 118.5h.65M68.2 118.5h.65M72.2 118.5h.65M76.2 118.5h.65M79.2 118.5h.65M80.2 118.5h.65M81.2 118.5h.65M83.2 118.5h.65M86.2 118.5h.65M87.2 118.5h.65M88.2 118.5h.65M91.2 118.5h.65M93.2 118.5h.65M100.2 118.5h.65M104.2 118.5h.65M105.2 118.5h.65M107.2 118.5h.65M109.2 118.5h.65M113.2 118.5h.65M114.2 118.5h.65M118.2 118.5h.65M120.2 118.5h.65M126.2 118.5h.65M128.2 118.5h.65M62.2 119.5h.65M69.2 119.5h.65M75.2 119.5h.65M78.2 119.5h.65M85.2 119.5h.65M89.2 119.5h.65M90.2 119.5h.65M92.2 119.5h.65M95.2 119.5h.65M97.2 119.5h.65M101.2 119.5h.65M102.2 119.5h.65M106.2 119.5h.65M107.2 119.5h.65M109.2 119.5h.65M111.2 119.5h.65M112.2 119.5h.65M114.2 119.5h.65M137.2 119.5h.65M65.2 120.5h.65M69.2 120.5h.65M82.2 120.5h.65M85.2 120.5h.65M86.2 120.5h.65M89.2 120.5h.65M94.2 120.5h.65M96.2 120.5h.65M98.2 120.5h.65M100.2 120.5h.65M101.2 120.5h.65M104.2 120.5h.65M106.2 120.5h.65M107.2 120.5h.65M111.2 120.5h.65M112.2 120.5h.65M113.2 120.5h.65M84.2 121.5h.65M86.2 121.5h.65M92.2 121.5h.65M93.2 121.5h.65M96.2 121.5h.65M98.2 121.5h.65M101.2 121.5h.65M103.2 121.5h.65M107.2 121.5h.65M109.2 121.5h.65M113.2 121.5h.65M114.2 121.5h.65M119.2 121.5h.65M71.2 122.5h.65M92.2 122.5h.65M95.2 122.5h.65M99.2 122.5h.65M105.2 122.5h.65M107.2 122.5h.65M109.2 122.5h.65M80.2 123.5h.65M82.2 123.5h.65M94.2 123.5h.65M121.2 123.5h.65M78.2 124.5h.65M81.2 124.5h.65M87.2 124.5h.65M92.2 124.5h.65M96.2 124.5h.65M97.2 124.5h.65M99.2 124.5h.65M100.2 124.5h.65M105.2 124.5h.65M109.2 124.5h.65M110.2 124.5h.65M73.2 125.5h.65M77.2 125.5h.65M88.2 125.5h.65M100.2 125.5h.65M106.2 125.5h.65M113.2 125.5h.65M80.2 126.5h.65M85.2 126.5h.65M86.2 126.5h.65M88.2 126.5h.65M91.2 126.5h.65M128.2 126.5h.65M80.2 127.5h.65M101.2 127.5h.65M110.2 127.5h.65M66.2 128.5h.65M85.2 128.5h.65M93.2 128.5h.65M94.2 128.5h.65M92.2 129.5h.65M106.2 129.5h.65M111.2 129.5h.65M87.2 130.5h.65M113.2 130.5h.65M80.2 131.5h.65M99.2 131.5h.65M75.2 132.5h.65M99.2 132.5h.65M76.2 133.5h.65M75.2 135.5h.65M97.2 135.5h.65M80.2 136.5h.65M89.2 137.5h.65M95.2 138.5h.65M103.2 140.5h.65"/><path stroke="#0050ff" stroke-width="0.65" d="M36.2 57.5h.65M144.2 62.5h.65M144.2 63.5h.65M146.2 63.5h.65M138.2 64.5h.65M144.2 64.5h.65M143.2 65.5h.65M144.2 65.5h.65M145.2 65.5h.65M141.2 66.5h.65M143.2 66.5h.65M135.2 67.5h.65M136.2 67.5h.65M136.2 68.5h.65M140.2 68.5h.65M145.2 68.5h.65M147.2 68.5h.65M132.2 69.5h.65M136.2 69.5h.65M139.2 69.5h.65M140.2 69.5h.65M147.2 69.5h.65M135.2 70.5h.65M138.2 70.5h.65M148.2 71.5h.65M123.2 72.5h.65M124.2 72.5h.65M121.2 73.5h.65M127.2 74.5h.65M149.2 74.5h.65M118.2 76.5h.65M117.2 77.5h.65M149.2 78.5h.65M114.2 79.5h.65M149.2 79.5h.65M149.2 80.5h.65M149.2 81.5h.65M106.2 82.5h.65M107.2 82.5h.65M105.2 83.5h.65M105.2 86.5h.65M104.2 88.5h.65M148.2 88.5h.65M100.2 91.5h.65M147.2 91.5h.65M144.2 96.5h.65M94.2 97.5h.65M95.2 99.5h.65M89.2 100.5h.65M138.2 100.5h.65M92.2 101.5h.65M94.2 101.5h.65M86.2 102.5h.65M89.2 102.5h.65M88.2 104.5h.65M83.2 105.5h.65M136.2 105.5h.65M52.2 106.5h.65M133.2 106.5h.65M136.2 106.5h.65M130.2 107.5h.65M39.2 108.5h.65M126.2 109.5h.65M27.2 110.5h.65M26.2 111.5h.65M122.2 111.5h.65M23.2 112.5h.65M23.2 113.5h.65M119.2 113.5h.65M122.2 113.5h.65M118.2 114.5h.65M119.2 114.5h.65M33.2 115.5h.65M86.2 115.5h.65M92.2 115.5h.65M117.2 115.5h.65M122.2 115.5h.65M53.2 116.5h.65M63.2 116.5h.65M72.2 116.5h.65M73.2 116.5h.65M74.2 116.5h.65M78.2 116.5h.65M84.2 116.5h.65M90.2 116.5h.65M80.2 117.5h.65M86.2 117.5h.65M99.2 117.5h.65M107.2 117.5h.65M109.2 117.5h.65M111.2 117.5h.65M114.2 117.5h.65M96.2 118.5h.65M97.2 118.5h.65M103.2 118.5h.65M108.2 120.5h.65"/></g>
<rect x="1753.5" y="2303.2" width="302.9" height="297" fill="none" stroke="#6a6a6a" stroke-width="1.3"/>
<line x1="1881.2" y1="2303.2" x2="1881.2" y2="2600.2" stroke="#000" stroke-width="2.2"/>
<line x1="1753.5" y1="2488.8" x2="2056.4" y2="2488.8" stroke="#000" stroke-width="2.2"/>
<rect x="1756.3" y="2306.4" width="122.3" height="178" fill="none" stroke="#3f9498" stroke-width="4" stroke-dasharray="15 10"/>
<rect x="1942.6" y="2307.2" width="110.6" height="177.2" fill="none" stroke="#b28fd6" stroke-width="4" stroke-dasharray="15 10"/>
<rect x="1942.6" y="2487.5" width="110.6" height="108.3" fill="none" stroke="#ee8a3c" stroke-width="4" stroke-dasharray="15 10"/>
<text x="1814.6" y="2333.5" font-size="19.7" text-anchor="middle" fill="#3f9498">OnF</text>
<text x="1814.6" y="2358.7" font-size="19.7" text-anchor="middle" fill="#3f9498">0.43%</text>
<text x="2003" y="2333.5" font-size="19.7" text-anchor="middle" fill="#b28fd6">Dual</text>
<text x="2003" y="2358.7" font-size="19.7" text-anchor="middle" fill="#b28fd6">43.3%</text>
<text x="2011.3" y="2546.4" font-size="19.7" text-anchor="middle" fill="#ee8a3c">Stem</text>
<text x="2011.3" y="2570.5" font-size="19.7" text-anchor="middle" fill="#ee8a3c">50.4%</text>
<line x1="1745.5" y1="2330.5" x2="1753.5" y2="2330.5" stroke="#000" stroke-width="2"/>
<line x1="1745.5" y1="2401.2" x2="1753.5" y2="2401.2" stroke="#000" stroke-width="2"/>
<line x1="1745.5" y1="2482.9" x2="1753.5" y2="2482.9" stroke="#000" stroke-width="2"/>
<line x1="1745.5" y1="2533.3" x2="1753.5" y2="2533.3" stroke="#000" stroke-width="2"/>
<line x1="1745.5" y1="2580.6" x2="1753.5" y2="2580.6" stroke="#000" stroke-width="2"/>
<line x1="1749" y1="2458.3" x2="1753.5" y2="2458.3" stroke="#000" stroke-width="1.2"/>
<line x1="1749" y1="2379.9" x2="1753.5" y2="2379.9" stroke="#000" stroke-width="1.2"/>
<line x1="1749" y1="2443.9" x2="1753.5" y2="2443.9" stroke="#000" stroke-width="1.2"/>
<line x1="1749" y1="2367.5" x2="1753.5" y2="2367.5" stroke="#000" stroke-width="1.2"/>
<line x1="1749" y1="2433.7" x2="1753.5" y2="2433.7" stroke="#000" stroke-width="1.2"/>
<line x1="1749" y1="2358.6" x2="1753.5" y2="2358.6" stroke="#000" stroke-width="1.2"/>
<line x1="1749" y1="2425.8" x2="1753.5" y2="2425.8" stroke="#000" stroke-width="1.2"/>
<line x1="1749" y1="2351.8" x2="1753.5" y2="2351.8" stroke="#000" stroke-width="1.2"/>
<line x1="1749" y1="2419.3" x2="1753.5" y2="2419.3" stroke="#000" stroke-width="1.2"/>
<line x1="1749" y1="2346.2" x2="1753.5" y2="2346.2" stroke="#000" stroke-width="1.2"/>
<line x1="1749" y1="2413.9" x2="1753.5" y2="2413.9" stroke="#000" stroke-width="1.2"/>
<line x1="1749" y1="2341.5" x2="1753.5" y2="2341.5" stroke="#000" stroke-width="1.2"/>
<line x1="1749" y1="2409.1" x2="1753.5" y2="2409.1" stroke="#000" stroke-width="1.2"/>
<line x1="1749" y1="2337.4" x2="1753.5" y2="2337.4" stroke="#000" stroke-width="1.2"/>
<line x1="1749" y1="2404.9" x2="1753.5" y2="2404.9" stroke="#000" stroke-width="1.2"/>
<line x1="1749" y1="2333.7" x2="1753.5" y2="2333.7" stroke="#000" stroke-width="1.2"/>
<line x1="1749" y1="2518.9" x2="1753.5" y2="2518.9" stroke="#000" stroke-width="1.2"/>
<line x1="1749" y1="2546.8" x2="1753.5" y2="2546.8" stroke="#000" stroke-width="1.2"/>
<line x1="1749" y1="2510.5" x2="1753.5" y2="2510.5" stroke="#000" stroke-width="1.2"/>
<line x1="1749" y1="2554.7" x2="1753.5" y2="2554.7" stroke="#000" stroke-width="1.2"/>
<line x1="1749" y1="2504.5" x2="1753.5" y2="2504.5" stroke="#000" stroke-width="1.2"/>
<line x1="1749" y1="2560.4" x2="1753.5" y2="2560.4" stroke="#000" stroke-width="1.2"/>
<line x1="1749" y1="2499.8" x2="1753.5" y2="2499.8" stroke="#000" stroke-width="1.2"/>
<line x1="1749" y1="2564.7" x2="1753.5" y2="2564.7" stroke="#000" stroke-width="1.2"/>
<line x1="1749" y1="2496" x2="1753.5" y2="2496" stroke="#000" stroke-width="1.2"/>
<line x1="1749" y1="2568.3" x2="1753.5" y2="2568.3" stroke="#000" stroke-width="1.2"/>
<line x1="1749" y1="2492.8" x2="1753.5" y2="2492.8" stroke="#000" stroke-width="1.2"/>
<line x1="1749" y1="2571.3" x2="1753.5" y2="2571.3" stroke="#000" stroke-width="1.2"/>
<line x1="1749" y1="2490.1" x2="1753.5" y2="2490.1" stroke="#000" stroke-width="1.2"/>
<line x1="1749" y1="2573.9" x2="1753.5" y2="2573.9" stroke="#000" stroke-width="1.2"/>
<line x1="1749" y1="2487.6" x2="1753.5" y2="2487.6" stroke="#000" stroke-width="1.2"/>
<line x1="1749" y1="2576.2" x2="1753.5" y2="2576.2" stroke="#000" stroke-width="1.2"/>
<line x1="1749" y1="2485.4" x2="1753.5" y2="2485.4" stroke="#000" stroke-width="1.2"/>
<line x1="1749" y1="2578.2" x2="1753.5" y2="2578.2" stroke="#000" stroke-width="1.2"/>
<rect x="1746.5" y="2528.3" width="7" height="10" fill="#000"/>
<line x1="1772.2" y1="2600.2" x2="1772.2" y2="2608.2" stroke="#000" stroke-width="2"/>
<line x1="1824.1" y1="2600.2" x2="1824.1" y2="2608.2" stroke="#000" stroke-width="2"/>
<line x1="1871.7" y1="2600.2" x2="1871.7" y2="2608.2" stroke="#000" stroke-width="2"/>
<line x1="1954.8" y1="2600.2" x2="1954.8" y2="2608.2" stroke="#000" stroke-width="2"/>
<line x1="2026.7" y1="2600.2" x2="2026.7" y2="2608.2" stroke="#000" stroke-width="2"/>
<line x1="1896.7" y1="2600.2" x2="1896.7" y2="2604.7" stroke="#000" stroke-width="1.2"/>
<line x1="1976.4" y1="2600.2" x2="1976.4" y2="2604.7" stroke="#000" stroke-width="1.2"/>
<line x1="2048.3" y1="2600.2" x2="2048.3" y2="2604.7" stroke="#000" stroke-width="1.2"/>
<line x1="1911.3" y1="2600.2" x2="1911.3" y2="2604.7" stroke="#000" stroke-width="1.2"/>
<line x1="1989.1" y1="2600.2" x2="1989.1" y2="2604.7" stroke="#000" stroke-width="1.2"/>
<line x1="1921.7" y1="2600.2" x2="1921.7" y2="2604.7" stroke="#000" stroke-width="1.2"/>
<line x1="1998.1" y1="2600.2" x2="1998.1" y2="2604.7" stroke="#000" stroke-width="1.2"/>
<line x1="1929.8" y1="2600.2" x2="1929.8" y2="2604.7" stroke="#000" stroke-width="1.2"/>
<line x1="2005.1" y1="2600.2" x2="2005.1" y2="2604.7" stroke="#000" stroke-width="1.2"/>
<line x1="1936.4" y1="2600.2" x2="1936.4" y2="2604.7" stroke="#000" stroke-width="1.2"/>
<line x1="2010.7" y1="2600.2" x2="2010.7" y2="2604.7" stroke="#000" stroke-width="1.2"/>
<line x1="1941.9" y1="2600.2" x2="1941.9" y2="2604.7" stroke="#000" stroke-width="1.2"/>
<line x1="2015.6" y1="2600.2" x2="2015.6" y2="2604.7" stroke="#000" stroke-width="1.2"/>
<line x1="1946.7" y1="2600.2" x2="1946.7" y2="2604.7" stroke="#000" stroke-width="1.2"/>
<line x1="2019.7" y1="2600.2" x2="2019.7" y2="2604.7" stroke="#000" stroke-width="1.2"/>
<line x1="1951" y1="2600.2" x2="1951" y2="2604.7" stroke="#000" stroke-width="1.2"/>
<line x1="2023.4" y1="2600.2" x2="2023.4" y2="2604.7" stroke="#000" stroke-width="1.2"/>
<line x1="1837.7" y1="2600.2" x2="1837.7" y2="2604.7" stroke="#000" stroke-width="1.2"/>
<line x1="1809.3" y1="2600.2" x2="1809.3" y2="2604.7" stroke="#000" stroke-width="1.2"/>
<line x1="1845.7" y1="2600.2" x2="1845.7" y2="2604.7" stroke="#000" stroke-width="1.2"/>
<line x1="1800.6" y1="2600.2" x2="1800.6" y2="2604.7" stroke="#000" stroke-width="1.2"/>
<line x1="1851.3" y1="2600.2" x2="1851.3" y2="2604.7" stroke="#000" stroke-width="1.2"/>
<line x1="1794.4" y1="2600.2" x2="1794.4" y2="2604.7" stroke="#000" stroke-width="1.2"/>
<line x1="1855.7" y1="2600.2" x2="1855.7" y2="2604.7" stroke="#000" stroke-width="1.2"/>
<line x1="1789.6" y1="2600.2" x2="1789.6" y2="2604.7" stroke="#000" stroke-width="1.2"/>
<line x1="1859.3" y1="2600.2" x2="1859.3" y2="2604.7" stroke="#000" stroke-width="1.2"/>
<line x1="1785.7" y1="2600.2" x2="1785.7" y2="2604.7" stroke="#000" stroke-width="1.2"/>
<line x1="1862.3" y1="2600.2" x2="1862.3" y2="2604.7" stroke="#000" stroke-width="1.2"/>
<line x1="1782.4" y1="2600.2" x2="1782.4" y2="2604.7" stroke="#000" stroke-width="1.2"/>
<line x1="1864.9" y1="2600.2" x2="1864.9" y2="2604.7" stroke="#000" stroke-width="1.2"/>
<line x1="1779.6" y1="2600.2" x2="1779.6" y2="2604.7" stroke="#000" stroke-width="1.2"/>
<line x1="1867.3" y1="2600.2" x2="1867.3" y2="2604.7" stroke="#000" stroke-width="1.2"/>
<line x1="1777.1" y1="2600.2" x2="1777.1" y2="2604.7" stroke="#000" stroke-width="1.2"/>
<line x1="1869.3" y1="2600.2" x2="1869.3" y2="2604.7" stroke="#000" stroke-width="1.2"/>
<line x1="1774.8" y1="2600.2" x2="1774.8" y2="2604.7" stroke="#000" stroke-width="1.2"/>
<rect x="1818.1" y="2600.2" width="12" height="6" fill="#000"/>
<text x="1724.5" y="2342" font-size="15.5" text-anchor="end">10</text>
<text x="1728.5" y="2331" font-size="15.5">5</text>
<text x="1724.5" y="2412.7" font-size="15.5" text-anchor="end">10</text>
<text x="1728.5" y="2401.7" font-size="15.5">4</text>
<text x="1724.5" y="2494.4" font-size="15.5" text-anchor="end">10</text>
<text x="1728.5" y="2483.4" font-size="15.5">3</text>
<text x="1727.5" y="2538.3" font-size="15.5" text-anchor="end">0</text>
<text x="1724.5" y="2590.6" font-size="15.5" text-anchor="end">-10</text>
<text x="1728.5" y="2580.1" font-size="15.5">3</text>
<text x="1773.2" y="2632.8" font-size="15.5" text-anchor="middle">-10</text>
<text x="1791.2" y="2621.8" font-size="15.5">3</text>
<text x="1824.1" y="2632.8" font-size="15.5" text-anchor="middle">0</text>
<text x="1875.7" y="2632.8" font-size="15.5" text-anchor="middle">10</text>
<text x="1888.7" y="2621.8" font-size="15.5">3</text>
<text x="1958.8" y="2632.8" font-size="15.5" text-anchor="middle">10</text>
<text x="1971.8" y="2621.8" font-size="15.5">4</text>
<text x="2030.7" y="2632.8" font-size="15.5" text-anchor="middle">10</text>
<text x="2043.7" y="2621.8" font-size="15.5">5</text>
<text x="1703.9" y="2426" font-size="20" text-anchor="middle" transform="rotate(-90 1703.9 2426)">FITC-A (GFP)</text>
<text x="1904.3" y="2663.1" font-size="20.4" text-anchor="middle">PE-TexasRed-A (mCherry)</text>
</svg></body></html>
